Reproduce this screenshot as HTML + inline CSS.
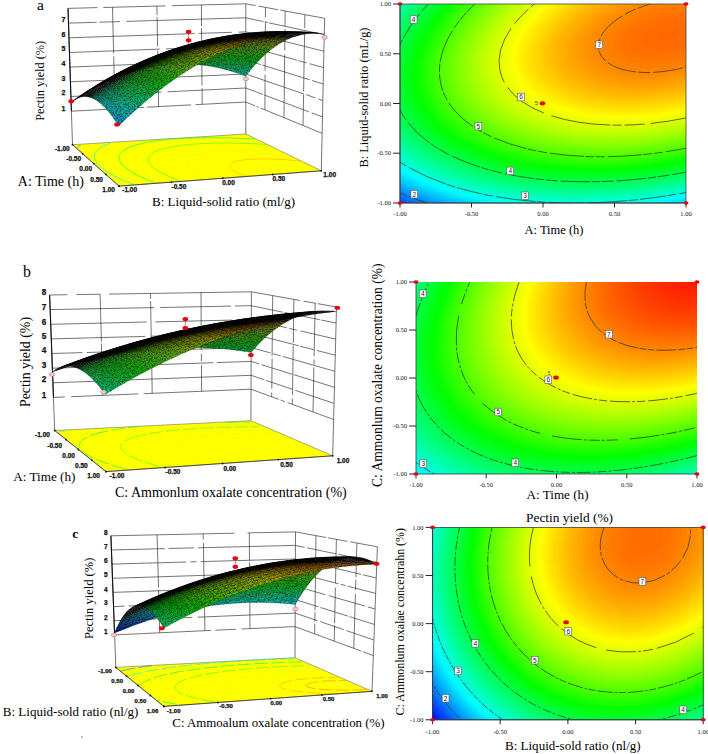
<!DOCTYPE html>
<html><head><meta charset="utf-8"><title>Response surface plots</title>
<style>html,body{margin:0;padding:0;background:#fff}svg{display:block}</style></head>
<body>
<svg width="708" height="754" viewBox="0 0 708 754">
<rect width="708" height="754" fill="#fff"/>
<defs><filter id="nz" x="0" y="0" width="100%" height="100%" color-interpolation-filters="sRGB"><feTurbulence type="fractalNoise" baseFrequency="0.75" numOctaves="2" seed="3" result="t"/><feColorMatrix in="t" type="matrix" values="0 0 0 0 0  0 0 0 0 0  0 0 0 0 0  1.7 0 0 0 -0.68" result="a"/><feComposite in="a" in2="SourceGraphic" operator="in" result="m"/><feMerge><feMergeNode in="SourceGraphic"/><feMergeNode in="m"/></feMerge></filter></defs>
<path d="M71.4 111.2L144.3 107.4M146.9 107.2L191.1 104.9M195.3 104.7L245.8 102M245.8 102L255.2 105.9M256.7 106.5L258.7 107.3M260.7 108.1L322.1 133.3M70.9 96.5L139.7 93.2M144.5 92.9L161.4 92.1M167.6 91.8L245.8 88M245.8 88L263.1 94.5M264.3 95L308.9 111.8M311.6 112.8L322.5 116.9M70.4 81.8L143.4 78.6M146.7 78.4L165.5 77.6M169.2 77.4L245.8 74M245.8 74L304.2 94.1M306.1 94.7L315.4 97.9M318.1 98.9L322.8 100.5M69.9 67.1L215.9 61.1M221.7 60.9L245.8 59.9M245.8 59.9L260.8 64.6M262.2 65L309.8 79.8M311.9 80.5L323.2 84M69.5 52.5L159.7 49.1M166 48.9L228.1 46.5M232.5 46.4L245.8 45.9M245.8 45.9L297.1 60.2M298.3 60.6L306.6 62.9M309.5 63.7L323.5 67.6M69 37.8L194.8 33.6M198.9 33.4L231.8 32.3M238.6 32.1L245.8 31.9M245.8 31.9L255.3 34.2M258.6 35L280.3 40.4M282.1 40.8L323.9 51.2M68.5 23.1L96.7 22.3M99.5 22.2L120.1 21.6M126.4 21.4L245.8 17.8M245.8 17.8L263.5 21.6M265.8 22.1L267.8 22.6M269.1 22.9L324.2 34.7M68 8.4L97.5 7.6M103.3 7.5L165.6 5.9M172 5.7L245.8 3.8M245.8 3.8L255.6 5.6M258.4 6.1L278 9.7M280.2 10.1L324.6 18.3M72.5 144.7L68 8.4M115 108.9L114.8 101M114.7 97.5L113.7 56.3M113.6 53.2L112.5 7.3M158.6 106.6L157.7 50.6M157.6 46.4L157.1 17.1M157.1 15.2L156.9 6.1M202.2 104.3L202.1 88.2M202 85.6L201.5 28.1M201.5 26.2L201.4 5M245.8 134L245.8 3.8M264.9 109.8L265.1 74.6M265.1 70.7L265.4 21.1M265.4 17.3L265.5 7.4M284 117.7L284.7 54.5M284.7 50.5L285 28.9M285 26.2L285.2 11.1M303 125.5L303.6 94.6M303.6 91.5L304.6 33M304.7 28.2L304.9 14.7M321.3 170.8L324.6 18.3" stroke="#2a2a2a" stroke-width="0.65" fill="none"/>
<path d="M71.4 111.2L68 8.4" stroke="#111" stroke-width="1.1"/>
<path d="M72.5 144.7L119 186.1L321.3 170.8L245.8 134z" fill="#ffff00" stroke="#555" stroke-width="0.5"/>
<path d="M77.4 147.6L78.9 146.4L80.6 145.2" fill="none" stroke="#0087ff" stroke-width="0.8" stroke-opacity="0.8"/>
<path d="M133.2 184.2L128.8 182.5L124.7 180.8L120.9 179.1L117.3 177.4L114 175.7L111 174.1L108.2 172.4L105.7 170.8L103.5 169.2L101.5 167.7L99.8 166.1L98.3 164.6L97 163.1L96.1 161.6L95.3 160.2L94.8 158.8L94.5 157.4L94.5 156.1L94.7 154.8L95.1 153.5L95.7 152.3L96.6 151.1L97.7 150L98.9 148.8L100.4 147.8L102.1 146.7L103.9 145.7L106 144.7L108.2 143.8L110.6 142.9" fill="none" stroke="#00ffe1" stroke-width="0.8" stroke-opacity="0.8"/>
<path d="M147.7 142.3L150.8 141.7L154.1 141.2L157.6 140.7L161.1 140.3L164.8 139.9L168.6 139.5L172.5 139.2L176.6 138.9L180.8 138.6L185.1 138.4L189.4 138.2L193.9 138L198.6 137.9L203.3 137.8L208.1 137.8L213 137.8L217.9 137.8L223 137.8L228.2 137.9L233.4 138.1L238.7 138.3L244.1 138.5L249.5 138.7L255.1 139" fill="none" stroke="#00ff4b" stroke-width="0.8" stroke-opacity="0.8"/>
<path d="M155 182.7L151.1 181.2L147.4 179.7L143.9 178.2L140.7 176.8L137.7 175.3L134.9 173.9L132.3 172.5L130 171.1L127.9 169.7L126 168.3L124.4 166.9L123 165.6L121.7 164.3L120.7 163L120 161.8L119.4 160.5L119 159.3L118.9 158.1L118.9 157L119.2 155.9L119.6 154.8L120.3 153.7L121.1 152.7L122.1 151.7L123.3 150.7L124.7 149.8L126.2 148.9L128 148L129.9 147.2L132 146.4L134.2 145.6L136.6 144.9L139.1 144.2L141.8 143.5L144.7 142.9L147.7 142.3" fill="none" stroke="#00ff4b" stroke-width="0.8" stroke-opacity="0.8"/>
<path d="M170.8 147L173.5 146.6L176.2 146.1L179.1 145.7L182 145.3L185.1 144.9L188.3 144.6L191.6 144.3L195 144.1L198.6 143.8L202.2 143.6L205.9 143.5L209.7 143.3L213.6 143.2L217.6 143.1L221.7 143.1L225.8 143.1L230 143.1L234.3 143.2L238.7 143.3L243.2 143.4L247.7 143.5L252.2 143.7L256.9 143.9L261.5 144.2L266.3 144.4" fill="none" stroke="#4bff00" stroke-width="0.8" stroke-opacity="0.8"/>
<path d="M180.3 180.9L177 179.7L173.8 178.5L170.8 177.3L168 176.1L165.4 174.9L163 173.7L160.7 172.5L158.7 171.3L156.8 170.2L155.1 169.1L153.6 167.9L152.3 166.8L151.1 165.7L150.2 164.7L149.4 163.6L148.8 162.6L148.4 161.5L148.1 160.6L148 159.6L148.1 158.6L148.4 157.7L148.8 156.8L149.4 155.9L150.2 155.1L151.1 154.3L152.1 153.5L153.4 152.7L154.7 151.9L156.3 151.2L157.9 150.5L159.7 149.9L161.7 149.2L163.8 148.7L166 148.1L168.4 147.5L170.8 147" fill="none" stroke="#4bff00" stroke-width="0.8" stroke-opacity="0.8"/>
<path d="M201.9 153.4L203.8 153L205.8 152.6L208 152.3L210.2 152L212.5 151.7L214.9 151.5L217.4 151.3L219.9 151L222.6 150.9L225.3 150.7L228.1 150.6L231 150.5L233.9 150.4L236.9 150.3L240 150.3L243.2 150.3L246.4 150.3L249.6 150.3L252.9 150.4L256.3 150.5L259.7 150.6L263.2 150.7L266.7 150.9L270.3 151.1L273.8 151.3L277.5 151.5L281.1 151.8" fill="none" stroke="#e1ff00" stroke-width="0.8" stroke-opacity="0.8"/>
<path d="M212.2 178.6L209.6 177.7L207.2 176.9L204.9 176L202.8 175.1L200.7 174.3L198.8 173.4L197 172.5L195.4 171.7L193.9 170.8L192.5 170L191.3 169.2L190.2 168.4L189.2 167.5L188.4 166.7L187.7 166L187.1 165.2L186.7 164.4L186.4 163.7L186.2 162.9L186.1 162.2L186.2 161.5L186.4 160.9L186.8 160.2L187.2 159.5L187.8 158.9L188.5 158.3L189.3 157.7L190.3 157.2L191.4 156.6L192.5 156.1L193.8 155.6L195.2 155.1L196.7 154.6L198.3 154.2L200.1 153.8L201.9 153.4" fill="none" stroke="#e1ff00" stroke-width="0.8" stroke-opacity="0.8"/>
<path d="M238.6 160.8L239.8 160.6L241 160.4L242.3 160.2L243.6 160L245 159.8L246.4 159.6L248 159.5L249.5 159.3L251.1 159.2L252.8 159.1L254.5 159L256.3 159L258.1 158.9L260 158.9L261.9 158.9L263.8 158.8L265.8 158.9L267.8 158.9L269.9 158.9L272 159L274.1 159L276.2 159.1L278.4 159.2L280.6 159.4L282.8 159.5L285 159.6L287.3 159.8L289.5 160L291.8 160.2L294.1 160.4L296.4 160.6L298.7 160.8L301 161.1" fill="none" stroke="#ffad00" stroke-width="0.8" stroke-opacity="0.8"/>
<path d="M247.1 176.1L245.5 175.6L244 175.1L242.5 174.6L241.2 174.1L239.9 173.6L238.7 173.1L237.5 172.6L236.5 172.1L235.5 171.6L234.6 171.1L233.8 170.6L233 170.1L232.3 169.6L231.8 169.1L231.2 168.6L230.8 168.1L230.5 167.7L230.2 167.2L230 166.8L229.9 166.3L229.9 165.9L229.9 165.5L230.1 165.1L230.3 164.7L230.6 164.3L230.9 163.9L231.4 163.6L231.9 163.2L232.5 162.9L233.1 162.5L233.9 162.2L234.7 161.9L235.6 161.6L236.5 161.3L237.5 161.1L238.6 160.8" fill="none" stroke="#ffad00" stroke-width="0.8" stroke-opacity="0.8"/>
<path d="M72.5 144.7L119 186.1L321.3 170.8" fill="none" stroke="#222" stroke-width="0.7"/>
<circle cx="72.5" cy="144.7" r="0.9" fill="#111"/>
<circle cx="119" cy="186.1" r="0.9" fill="#111"/>
<circle cx="82.7" cy="153.8" r="0.9" fill="#111"/>
<circle cx="171.6" cy="182.1" r="0.9" fill="#111"/>
<circle cx="93.8" cy="163.7" r="0.9" fill="#111"/>
<circle cx="222.9" cy="178.2" r="0.9" fill="#111"/>
<circle cx="105.9" cy="174.4" r="0.9" fill="#111"/>
<circle cx="272.7" cy="174.5" r="0.9" fill="#111"/>
<circle cx="119" cy="186.1" r="0.9" fill="#111"/>
<circle cx="321.3" cy="170.8" r="0.9" fill="#111"/>
<g filter="url(#nz)" stroke="#000" stroke-opacity="0.55" stroke-width="0.3" stroke-linejoin="round">
<path d="M240.6 74.3l2-2.8 5.3 2-2.1 2.7z" fill="#00b39a"/>
<path d="M235.3 72.5l2-2.7 5.3 1.7-2 2.8z" fill="#00b289"/>
<path d="M230 70.8l2-2.6 5.3 1.6-2 2.7z" fill="#00b079"/>
<path d="M224.7 69.4l2-2.6 5.3 1.4-2 2.6z" fill="#00ad6b"/>
<path d="M242.6 71.5l2.1-2.6 5.3 1.9-2.1 2.7z" fill="#00b280"/>
<path d="M219.4 68.1l1.9-2.6 5.4 1.3-2 2.6z" fill="#00ab5e"/>
<path d="M237.3 69.8l2.1-2.6 5.3 1.7-2.1 2.6z" fill="#00b06f"/>
<path d="M214.1 67l1.9-2.5 5.3 1-1.9 2.6z" fill="#00a853"/>
<path d="M232 68.2l2-2.6 5.4 1.6-2.1 2.6z" fill="#00ae60"/>
<path d="M208.7 66.1l1.9-2.5 5.4 .9-1.9 2.5z" fill="#00a449"/>
<path d="M226.7 66.8l2-2.5 5.3 1.3-2 2.6z" fill="#00ab52"/>
<path d="M244.7 68.9l2.1-2.5 5.3 1.8-2.1 2.6z" fill="#00b066"/>
<path d="M203.4 65.3l1.8-2.4 5.4 .7-1.9 2.5z" fill="#00a140"/>
<path d="M221.3 65.5l2-2.4 5.4 1.2-2 2.5z" fill="#00a847"/>
<path d="M239.4 67.2l2-2.5 5.4 1.7-2.1 2.5z" fill="#00ae57"/>
<path d="M198 64.7l1.8-2.3 5.4 .5-1.8 2.4z" fill="#009c39"/>
<path d="M216 64.5l1.9-2.5 5.4 1.1-2 2.4z" fill="#00a53c"/>
<path d="M234 65.6l2.1-2.4 5.3 1.5-2 2.5z" fill="#00ab48"/>
<path d="M192.6 64.3l1.8-2.3 5.4 .4-1.8 2.3z" fill="#009733"/>
<path d="M210.6 63.6l1.9-2.4 5.4 .8-1.9 2.5z" fill="#00a133"/>
<path d="M228.7 64.3l2-2.5 5.4 1.4-2.1 2.4z" fill="#00a93b"/>
<path d="M246.8 66.4l2.1-2.5 5.3 1.8-2.1 2.5z" fill="#00ae4e"/>
<path d="M187.2 64.1l1.8-2.3 5.4 .2-1.8 2.3z" fill="#00922e"/>
<path d="M205.2 62.9l1.9-2.4 5.4 .7-1.9 2.4z" fill="#009d2b"/>
<path d="M223.3 63.1l2-2.4 5.4 1.1-2 2.5z" fill="#00a530"/>
<path d="M241.4 64.7l2.1-2.5 5.4 1.7-2.1 2.5z" fill="#00ac3f"/>
<path d="M181.7 64.1l1.8-2.2 5.5-.1-1.8 2.3z" fill="#008b2a"/>
<path d="M199.8 62.4l1.9-2.3 5.4 .4-1.9 2.4z" fill="#009824"/>
<path d="M217.9 62l2-2.3 5.4 1-2 2.4z" fill="#00a226"/>
<path d="M236.1 63.2l2-2.4 5.4 1.4-2.1 2.5z" fill="#00a931"/>
<path d="M176.3 64.2l1.7-2.2 5.5-.1-1.8 2.2z" fill="#008427"/>
<path d="M194.4 62l1.8-2.2 5.5 .3-1.9 2.3z" fill="#00921f"/>
<path d="M212.5 61.2l2-2.3 5.4 .8-2 2.3z" fill="#009d1e"/>
<path d="M230.7 61.8l2-2.3 5.4 1.3-2 2.4z" fill="#00a625"/>
<path d="M170.9 64.6l1.7-2.2 5.4-.4-1.7 2.2z" fill="#007b25"/>
<path d="M248.9 63.9l2.1-2.4 5.4 1.8-2.2 2.4z" fill="#00ac37"/>
<path d="M189 61.8l1.8-2.2 5.4 .2-1.8 2.2z" fill="#008c1b"/>
<path d="M207.1 60.5l1.9-2.2 5.5 .6-2 2.3z" fill="#009917"/>
<path d="M225.3 60.7l2-2.3 5.4 1.1-2 2.3z" fill="#00a21b"/>
<path d="M165.4 65.1l1.7-2.1 5.5-.6-1.7 2.2z" fill="#007022"/>
<path d="M243.5 62.2l2.1-2.3 5.4 1.6-2.1 2.4z" fill="#00a929"/>
<path d="M183.5 61.9l1.8-2.2 5.5-.1-1.8 2.2z" fill="#008418"/>
<path d="M201.7 60.1l1.9-2.3 5.4 .5-1.9 2.2z" fill="#009311"/>
<path d="M219.9 59.7l2-2.3 5.4 1-2 2.3z" fill="#009e12"/>
<path d="M159.9 65.8l1.7-2.1 5.5-.7-1.7 2.1z" fill="#006420"/>
<path d="M238.1 60.8l2.1-2.3 5.4 1.4-2.1 2.3z" fill="#00a61c"/>
<path d="M178 62l1.8-2.1 5.5-.2-1.8 2.2z" fill="#007b16"/>
<path d="M196.2 59.8l1.9-2.2 5.5 .2-1.9 2.3z" fill="#008c0d"/>
<path d="M214.5 58.9l1.9-2.2 5.5 .7-2 2.3z" fill="#00990b"/>
<path d="M154.4 66.7l1.7-2 5.5-1-1.7 2.1z" fill="#00551e"/>
<path d="M232.7 59.5l2.1-2.3 5.4 1.3-2.1 2.3z" fill="#00a311"/>
<path d="M172.6 62.4l1.7-2 5.5-.5-1.8 2.1z" fill="#007115"/>
<path d="M251 61.5l2.2-2.3 5.3 1.7-2.1 2.4z" fill="#00aa21"/>
<path d="M190.8 59.6l1.8-2.1 5.5 .1-1.9 2.2z" fill="#00850a"/>
<path d="M209 58.3l2-2.2 5.4 .6-1.9 2.2z" fill="#009405"/>
<path d="M148.9 67.7l1.6-1.9 5.6-1.1-1.7 2z" fill="#004319"/>
<path d="M227.3 58.4l2-2.2 5.5 1-2.1 2.3z" fill="#009f07"/>
<path d="M167.1 63l1.7-2 5.5-.6-1.7 2z" fill="#006414"/>
<path d="M245.6 59.9l2.1-2.3 5.5 1.6-2.2 2.3z" fill="#00a714"/>
<path d="M185.3 59.7l1.8-2.1 5.5-.1-1.8 2.1z" fill="#007c09"/>
<path d="M203.6 57.8l1.9-2.1 5.5 .4-2 2.2z" fill="#008d01"/>
<path d="M143.4 69l1.6-1.9 5.5-1.3-1.6 1.9z" fill="#002d13"/>
<path d="M221.9 57.4l2-2.1 5.4 .9-2 2.2z" fill="#019a00"/>
<path d="M161.6 63.7l1.7-1.9 5.5-.8-1.7 2z" fill="#005512"/>
<path d="M240.2 58.5l2.1-2.2 5.4 1.3-2.1 2.3z" fill="#00a308"/>
<path d="M179.8 59.9l1.8-2 5.5-.3-1.8 2.1z" fill="#007208"/>
<path d="M198.1 57.6l1.9-2.1 5.5 .2-1.9 2.1z" fill="#038600"/>
<path d="M137.9 70.4l1.6-1.8 5.5-1.5-1.6 1.9z" fill="#001208"/>
<path d="M216.4 56.7l2-2.1 5.5 .7-2 2.1z" fill="#079400"/>
<path d="M156.1 64.7l1.6-1.9 5.6-1-1.7 1.9z" fill="#004310"/>
<path d="M234.8 57.2l2.1-2.2 5.4 1.3-2.1 2.2z" fill="#029f00"/>
<path d="M174.3 60.4l1.7-2 5.6-.5-1.8 2z" fill="#006508"/>
<path d="M253.2 59.2l2.1-2.2 5.5 1.7-2.3 2.2z" fill="#00a70c"/>
<path d="M192.6 57.5l1.9-2 5.5 0-1.9 2.1z" fill="#047d00"/>
<path d="M132.4 72l1.5-1.7 5.6-1.7-1.6 1.8z" fill="#000000"/>
<path d="M211 56.1l1.9-2.1 5.5 .6-2 2.1z" fill="#0c8e00"/>
<path d="M150.5 65.8l1.7-1.9 5.5-1.1-1.6 1.9z" fill="#002d0c"/>
<path d="M229.3 56.2l2.1-2.2 5.5 1-2.1 2.2z" fill="#0b9a00"/>
<path d="M168.8 61l1.7-1.9 5.5-.7-1.7 2z" fill="#005607"/>
<path d="M247.7 57.6l2.2-2.1 5.4 1.5-2.1 2.2z" fill="#00a400"/>
<path d="M187.1 57.6l1.8-1.9 5.6-.2-1.9 2z" fill="#047200"/>
<path d="M126.8 73.8l1.5-1.7 5.6-1.8-1.5 1.7z" fill="#000000"/>
<path d="M205.5 55.7l1.9-2 5.5 .3-1.9 2.1z" fill="#0f8600"/>
<path d="M145 67.1l1.6-1.8 5.6-1.4-1.7 1.9z" fill="#001105"/>
<path d="M223.9 55.3l2-2.1 5.5 .8-2.1 2.2z" fill="#129500"/>
<path d="M163.3 61.8l1.6-1.9 5.6-.8-1.7 1.9z" fill="#004407"/>
<path d="M242.3 56.3l2.1-2.2 5.5 1.4-2.2 2.1z" fill="#0ba000"/>
<path d="M181.6 57.9l1.8-1.9 5.5-.3-1.8 1.9z" fill="#046600"/>
<path d="M121.3 75.8l1.5-1.6 5.5-2.1-1.5 1.7z" fill="#000000"/>
<path d="M200 55.5l1.9-2 5.5 .2-1.9 2z" fill="#107e00"/>
<path d="M139.5 68.6l1.5-1.7 5.6-1.6-1.6 1.8z" fill="#000000"/>
<path d="M218.4 54.6l2-2.1 5.5 .7-2 2.1z" fill="#168f00"/>
<path d="M157.7 62.8l1.7-1.8 5.5-1.1-1.6 1.9z" fill="#002d06"/>
<path d="M236.9 55l2.1-2 5.4 1.1-2.1 2.2z" fill="#149b00"/>
<path d="M176 58.4l1.8-1.9 5.6-.5-1.8 1.9z" fill="#035700"/>
<path d="M255.3 57l2.2-2.1 5.5 1.6-2.2 2.2z" fill="#06a400"/>
<path d="M115.7 78l1.5-1.5 5.6-2.3-1.5 1.6z" fill="#000000"/>
<path d="M194.5 55.5l1.8-1.9 5.6-.1-1.9 2z" fill="#107300"/>
<path d="M133.9 70.3l1.5-1.7 5.6-1.7-1.5 1.7z" fill="#000000"/>
<path d="M212.9 54l2-2 5.5 .5-2 2.1z" fill="#1a8700"/>
<path d="M152.2 63.9l1.6-1.7 5.6-1.2-1.7 1.8z" fill="#001103"/>
<path d="M231.4 54l2.1-2 5.5 1-2.1 2z" fill="#1b9600"/>
<path d="M170.5 59.1l1.7-1.8 5.6-.8-1.8 1.9z" fill="#014400"/>
<path d="M249.9 55.5l2.2-2.1 5.4 1.5-2.2 2.1z" fill="#12a000"/>
<path d="M110.2 80.4l1.4-1.5 5.6-2.4-1.5 1.5z" fill="#000000"/>
<path d="M188.9 55.7l1.9-1.9 5.5-.2-1.8 1.9z" fill="#0f6700"/>
<path d="M128.3 72.1l1.5-1.6 5.6-1.9-1.5 1.7z" fill="#000000"/>
<path d="M207.4 53.7l1.9-2 5.6 .3-2 2z" fill="#1b7e00"/>
<path d="M146.6 65.3l1.6-1.7 5.6-1.4-1.6 1.7z" fill="#000000"/>
<path d="M225.9 53.2l2.1-2 5.5 .8-2.1 2z" fill="#218f00"/>
<path d="M164.9 59.9l1.8-1.7 5.5-.9-1.7 1.8z" fill="#002e00"/>
<path d="M244.4 54.1l2.2-2 5.5 1.3-2.2 2.1z" fill="#1c9c00"/>
<path d="M104.6 83l1.4-1.5 5.6-2.6-1.4 1.5z" fill="#000000"/>
<path d="M183.4 56l1.8-1.8 5.6-.4-1.9 1.9z" fill="#0d5800"/>
<path d="M122.8 74.2l1.4-1.6 5.6-2.1-1.5 1.6z" fill="#000000"/>
<path d="M201.9 53.5l1.9-1.9 5.5 .1-1.9 2z" fill="#1b7400"/>
<path d="M141 66.9l1.6-1.7 5.6-1.6-1.6 1.7z" fill="#000000"/>
<path d="M220.4 52.5l2-1.9 5.6 .6-2.1 2z" fill="#248800"/>
<path d="M159.4 61l1.7-1.7 5.6-1.1-1.8 1.7z" fill="#001101"/>
<path d="M239 53l2.1-2 5.5 1.1-2.2 2z" fill="#249600"/>
<path d="M99 85.8l1.4-1.4 5.6-2.9-1.4 1.5z" fill="#000000"/>
<path d="M177.8 56.5l1.8-1.8 5.6-.5-1.8 1.8z" fill="#094500"/>
<path d="M257.5 54.9l2.3-2.1 5.4 1.6-2.2 2.1z" fill="#19a100"/>
<path d="M117.2 76.5l1.4-1.5 5.6-2.4-1.4 1.6z" fill="#000000"/>
<path d="M196.3 53.6l1.9-1.9 5.6-.1-1.9 1.9z" fill="#196700"/>
<path d="M135.4 68.6l1.6-1.6 5.6-1.8-1.6 1.7z" fill="#000000"/>
<path d="M214.9 52l2-1.9 5.5 .5-2 1.9z" fill="#267f00"/>
<path d="M153.8 62.2l1.7-1.7 5.6-1.2-1.7 1.7z" fill="#000000"/>
<path d="M233.5 52l2.1-2 5.5 1-2.1 2z" fill="#2a9000"/>
<path d="M93.5 88.7l1.3-1.3 5.6-3-1.4 1.4z" fill="#000000"/>
<path d="M172.2 57.3l1.8-1.8 5.6-.8-1.8 1.8z" fill="#052e00"/>
<path d="M252.1 53.4l2.2-2 5.5 1.4-2.3 2.1z" fill="#239c00"/>
<path d="M111.6 78.9l1.4-1.4 5.6-2.5-1.4 1.5z" fill="#000000"/>
<path d="M190.8 53.8l1.8-1.8 5.6-.3-1.9 1.9z" fill="#165800"/>
<path d="M129.8 70.5l1.6-1.5 5.6-2-1.6 1.6z" fill="#000000"/>
<path d="M209.3 51.7l2-1.8 5.6 .2-2 1.9z" fill="#267500"/>
<path d="M148.2 63.6l1.6-1.6 5.7-1.5-1.7 1.7z" fill="#000000"/>
<path d="M228 51.2l2-1.9 5.6 .7-2.1 2z" fill="#2e8900"/>
<path d="M87.9 91.9l1.3-1.3 5.6-3.2-1.3 1.3z" fill="#000000"/>
<path d="M166.7 58.2l1.7-1.7 5.6-1-1.8 1.8z" fill="#021100"/>
<path d="M246.6 52.1l2.2-2 5.5 1.3-2.2 2z" fill="#2b9700"/>
<path d="M106 81.5l1.4-1.3 5.6-2.7-1.4 1.4z" fill="#000000"/>
<path d="M185.2 54.2l1.8-1.8 5.6-.4-1.8 1.8z" fill="#114600"/>
<path d="M124.2 72.6l1.5-1.4 5.7-2.2-1.6 1.5z" fill="#000000"/>
<path d="M203.8 51.6l1.9-1.8 5.6 .1-2 1.8z" fill="#236800"/>
<path d="M142.6 65.2l1.6-1.5 5.6-1.7-1.6 1.6z" fill="#000000"/>
<path d="M222.4 50.6l2.1-1.9 5.5 .6-2 1.9z" fill="#2f8000"/>
<path d="M82.3 95.2l1.3-1.2 5.6-3.4-1.3 1.3z" fill="#000000"/>
<path d="M161.1 59.3l1.7-1.7 5.6-1.1-1.7 1.7z" fill="#000000"/>
<path d="M241.1 51l2.2-2 5.5 1.1-2.2 2z" fill="#329100"/>
<path d="M100.4 84.4l1.4-1.3 5.6-2.9-1.4 1.3z" fill="#000000"/>
<path d="M179.6 54.7l1.8-1.6 5.6-.7-1.8 1.8z" fill="#0b2f00"/>
<path d="M259.8 52.8l2.2-1.9 5.5 1.5-2.3 2z" fill="#299d00"/>
<path d="M118.6 75l1.5-1.4 5.6-2.4-1.5 1.4z" fill="#000000"/>
<path d="M198.2 51.7l1.9-1.8 5.6-.1-1.9 1.8z" fill="#1f5900"/>
<path d="M137 67l1.6-1.5 5.6-1.8-1.6 1.5z" fill="#000000"/>
<path d="M216.9 50.1l2-1.8 5.6 .4-2.1 1.9z" fill="#2f7600"/>
<path d="M76.7 98.8l1.2-1.2 5.7-3.6-1.3 1.2z" fill="#000000"/>
<path d="M155.5 60.5l1.6-1.5 5.7-1.4-1.7 1.7z" fill="#000000"/>
<path d="M235.6 50l2.1-1.9 5.6 .9-2.2 2z" fill="#368900"/>
<path d="M94.8 87.4l1.3-1.2 5.7-3.1-1.4 1.3z" fill="#000000"/>
<path d="M174 55.5l1.8-1.6 5.6-.8-1.8 1.6z" fill="#041200"/>
<path d="M254.3 51.4l2.2-1.9 5.5 1.4-2.2 1.9z" fill="#329800"/>
<path d="M113 77.5l1.5-1.4 5.6-2.5-1.5 1.4z" fill="#000000"/>
<path d="M192.6 52l1.9-1.7 5.6-.4-1.9 1.8z" fill="#184700"/>
<path d="M131.4 69l1.5-1.4 5.7-2.1-1.6 1.5z" fill="#000000"/>
<path d="M211.3 49.9l2-1.8 5.6 .2-2 1.8z" fill="#2c6900"/>
<path d="M71.1 102.5l1.2-1 5.6-3.9-1.2 1.2z" fill="#000000"/>
<path d="M149.8 62l1.7-1.5 5.6-1.5-1.6 1.5z" fill="#000000"/>
<path d="M230 49.3l2.1-1.9 5.6 .7-2.1 1.9z" fill="#388100"/>
<path d="M89.2 90.6l1.3-1.2 5.6-3.2-1.3 1.2z" fill="#000000"/>
<path d="M168.4 56.5l1.8-1.6 5.6-1-1.8 1.6z" fill="#000000"/>
<path d="M248.8 50.1l2.2-1.9 5.5 1.3-2.2 1.9z" fill="#389100"/>
<path d="M107.4 80.2l1.4-1.3 5.7-2.8-1.5 1.4z" fill="#000000"/>
<path d="M187 52.4l1.9-1.6 5.6-.5-1.9 1.7z" fill="#102f00"/>
<path d="M125.7 71.2l1.6-1.4 5.6-2.2-1.5 1.4z" fill="#000000"/>
<path d="M205.7 49.8l2-1.7 5.6 0-2 1.8z" fill="#275a00"/>
<path d="M144.2 63.7l1.6-1.5 5.7-1.7-1.7 1.5z" fill="#000000"/>
<path d="M224.5 48.7l2.1-1.8 5.5 .5-2.1 1.9z" fill="#377700"/>
<path d="M83.6 94l1.2-1.1 5.7-3.5-1.3 1.2z" fill="#000000"/>
<path d="M162.8 57.6l1.7-1.5 5.7-1.2-1.8 1.6z" fill="#000000"/>
<path d="M243.3 49l2.1-1.8 5.6 1-2.2 1.9z" fill="#3d8a00"/>
<path d="M101.8 83.1l1.3-1.2 5.7-3-1.4 1.3z" fill="#000000"/>
<path d="M181.4 53.1l1.9-1.6 5.6-.7-1.9 1.6z" fill="#061200"/>
<path d="M262 50.9l2.3-1.9 5.5 1.5-2.3 1.9z" fill="#379800"/>
<path d="M120.1 73.6l1.5-1.3 5.7-2.5-1.6 1.4z" fill="#000000"/>
<path d="M200.1 49.9l2-1.6 5.6-.2-2 1.7z" fill="#1f4700"/>
<path d="M138.6 65.5l1.6-1.4 5.6-1.9-1.6 1.5z" fill="#000000"/>
<path d="M218.9 48.3l2.1-1.7 5.6 .3-2.1 1.8z" fill="#346a00"/>
<path d="M77.9 97.6l1.3-1 5.6-3.7-1.2 1.1z" fill="#000000"/>
<path d="M157.1 59l1.7-1.5 5.7-1.4-1.7 1.5z" fill="#000000"/>
<path d="M237.7 48.1l2.2-1.7 5.5 .8-2.1 1.8z" fill="#408200"/>
<path d="M96.1 86.2l1.4-1.2 5.6-3.1-1.3 1.2z" fill="#000000"/>
<path d="M175.8 53.9l1.8-1.6 5.7-.8-1.9 1.6z" fill="#000000"/>
<path d="M256.5 49.5l2.3-1.9 5.5 1.4-2.3 1.9z" fill="#3e9200"/>
<path d="M114.5 76.1l1.4-1.2 5.7-2.6-1.5 1.3z" fill="#000000"/>
<path d="M194.5 50.3l2-1.7 5.6-.3-2 1.6z" fill="#153000"/>
<path d="M132.9 67.6l1.6-1.3 5.7-2.2-1.6 1.4z" fill="#000000"/>
<path d="M213.3 48.1l2-1.7 5.7 .2-2.1 1.7z" fill="#2f5b00"/>
<path d="M72.3 101.5l1.2-1 5.7-3.9-1.3 1z" fill="#000000"/>
<path d="M151.5 60.5l1.7-1.4 5.6-1.6-1.7 1.5z" fill="#000000"/>
<path d="M232.1 47.4l2.2-1.7 5.6 .7-2.2 1.7z" fill="#3f7700"/>
<path d="M90.5 89.4l1.3-1 5.7-3.4-1.4 1.2z" fill="#000000"/>
<path d="M170.2 54.9l1.7-1.5 5.7-1.1-1.8 1.6z" fill="#000000"/>
<path d="M251 48.2l2.2-1.7 5.6 1.1-2.3 1.9z" fill="#448b00"/>
<path d="M108.8 78.9l1.4-1.2 5.7-2.8-1.4 1.2z" fill="#000000"/>
<path d="M188.9 50.8l1.9-1.6 5.7-.6-2 1.7z" fill="#081300"/>
<path d="M127.3 69.8l1.5-1.2 5.7-2.3-1.6 1.3z" fill="#000000"/>
<path d="M207.7 48.1l2-1.6 5.6-.1-2 1.7z" fill="#264800"/>
<path d="M145.8 62.2l1.7-1.3 5.7-1.8-1.7 1.4z" fill="#000000"/>
<path d="M226.6 46.9l2.1-1.7 5.6 .5-2.2 1.7z" fill="#3c6b00"/>
<path d="M84.8 92.9l1.3-1 5.7-3.5-1.3 1z" fill="#000000"/>
<path d="M164.5 56.1l1.8-1.4 5.6-1.3-1.7 1.5z" fill="#000000"/>
<path d="M245.4 47.2l2.2-1.7 5.6 1-2.2 1.7z" fill="#478200"/>
<path d="M103.1 81.9l1.5-1.1 5.6-3.1-1.4 1.2z" fill="#000000"/>
<path d="M183.3 51.5l1.8-1.6 5.7-.7-1.9 1.6z" fill="#000000"/>
<path d="M264.3 49l2.3-1.8 5.6 1.5-2.4 1.8z" fill="#439300"/>
<path d="M121.6 72.3l1.5-1.2 5.7-2.5-1.5 1.2z" fill="#000000"/>
<path d="M202.1 48.3l2-1.6 5.6-.2-2 1.6z" fill="#1a3100"/>
<path d="M140.2 64.1l1.6-1.2 5.7-2-1.7 1.3z" fill="#000000"/>
<path d="M221 46.6l2-1.6 5.7 .2-2.1 1.7z" fill="#365c00"/>
<path d="M79.2 96.6l1.2-.9 5.7-3.8-1.3 1z" fill="#000000"/>
<path d="M158.8 57.5l1.8-1.4 5.7-1.4-1.8 1.4z" fill="#000000"/>
<path d="M239.9 46.4l2.1-1.7 5.6 .8-2.2 1.7z" fill="#467800"/>
<path d="M97.5 85l1.4-1 5.7-3.2-1.5 1.1z" fill="#000000"/>
<path d="M177.6 52.3l1.8-1.4 5.7-1-1.8 1.6z" fill="#000000"/>
<path d="M258.8 47.6l2.3-1.7 5.5 1.3-2.3 1.8z" fill="#498c00"/>
<path d="M115.9 74.9l1.5-1.1 5.7-2.7-1.5 1.2z" fill="#000000"/>
<path d="M196.5 48.6l1.9-1.5 5.7-.4-2 1.6z" fill="#0a1300"/>
<path d="M134.5 66.3l1.6-1.3 5.7-2.1-1.6 1.2z" fill="#000000"/>
<path d="M215.3 46.4l2.1-1.5 5.6 .1-2 1.6z" fill="#2c4900"/>
<path d="M73.5 100.5l1.3-.9 5.6-3.9-1.2 .9z" fill="#000000"/>
<path d="M153.2 59.1l1.7-1.3 5.7-1.7-1.8 1.4z" fill="#000000"/>
<path d="M234.3 45.7l2.1-1.6 5.6 .6-2.1 1.7z" fill="#436c00"/>
<path d="M91.8 88.4l1.4-1 5.7-3.4-1.4 1z" fill="#000000"/>
<path d="M171.9 53.4l1.9-1.4 5.6-1.1-1.8 1.4z" fill="#000000"/>
<path d="M253.2 46.5l2.3-1.7 5.6 1.1-2.3 1.7z" fill="#4c8300"/>
<path d="M110.2 77.7l1.5-1 5.7-2.9-1.5 1.1z" fill="#000000"/>
<path d="M190.8 49.2l1.9-1.5 5.7-.6-1.9 1.5z" fill="#000000"/>
<path d="M128.8 68.6l1.6-1.2 5.7-2.4-1.6 1.3z" fill="#000000"/>
<path d="M209.7 46.5l2-1.6 5.7 0-2.1 1.5z" fill="#1f3200"/>
<path d="M147.5 60.9l1.7-1.3 5.7-1.8-1.7 1.3z" fill="#000000"/>
<path d="M228.7 45.2l2.1-1.5 5.6 .4-2.1 1.6z" fill="#3d5d00"/>
<path d="M86.1 91.9l1.3-.9 5.8-3.6-1.4 1z" fill="#000000"/>
<path d="M166.3 54.7l1.7-1.4 5.8-1.3-1.9 1.4z" fill="#000000"/>
<path d="M247.6 45.5l2.3-1.7 5.6 1-2.3 1.7z" fill="#4d7900"/>
<path d="M104.6 80.8l1.4-1.1 5.7-3-1.5 1z" fill="#000000"/>
<path d="M185.1 49.9l1.9-1.4 5.7-.8-1.9 1.5z" fill="#000000"/>
<path d="M266.6 47.2l2.4-1.7 5.5 1.5-2.3 1.7z" fill="#4e8c00"/>
<path d="M123.1 71.1l1.5-1.1 5.8-2.6-1.6 1.2z" fill="#000000"/>
<path d="M204.1 46.7l1.9-1.5 5.7-.3-2 1.6z" fill="#0d1400"/>
<path d="M141.8 62.9l1.6-1.2 5.8-2.1-1.7 1.3z" fill="#000000"/>
<path d="M223 45l2.1-1.6 5.7 .3-2.1 1.5z" fill="#324a00"/>
<path d="M80.4 95.7l1.3-.9 5.7-3.8-1.3 .9z" fill="#000000"/>
<path d="M160.6 56.1l1.7-1.3 5.7-1.5-1.7 1.4z" fill="#000000"/>
<path d="M242 44.7l2.2-1.6 5.7 .7-2.3 1.7z" fill="#4a6d00"/>
<path d="M98.9 84l1.3-1 5.8-3.3-1.4 1.1z" fill="#000000"/>
<path d="M179.4 50.9l1.9-1.4 5.7-1-1.9 1.4z" fill="#000000"/>
<path d="M261.1 45.9l2.3-1.6 5.6 1.2-2.4 1.7z" fill="#518400"/>
<path d="M117.4 73.8l1.5-1.1 5.7-2.7-1.5 1.1z" fill="#000000"/>
<path d="M198.4 47.1l2-1.4 5.6-.5-1.9 1.5z" fill="#000000"/>
<path d="M136.1 65l1.6-1.1 5.7-2.2-1.6 1.2z" fill="#000000"/>
<path d="M217.4 44.9l2.1-1.5 5.6 0-2.1 1.6z" fill="#233300"/>
<path d="M74.8 99.6l1.2-.7 5.7-4.1-1.3 .9z" fill="#000000"/>
<path d="M154.9 57.8l1.7-1.2 5.7-1.8-1.7 1.3z" fill="#000000"/>
<path d="M236.4 44.1l2.2-1.6 5.6 .6-2.2 1.6z" fill="#435e00"/>
<path d="M93.2 87.4l1.3-.9 5.7-3.5-1.3 1z" fill="#000000"/>
<path d="M173.8 52l1.8-1.3 5.7-1.2-1.9 1.4z" fill="#000000"/>
<path d="M255.5 44.8l2.2-1.6 5.7 1.1-2.3 1.6z" fill="#527a00"/>
<path d="M111.7 76.7l1.5-1 5.7-3-1.5 1.1z" fill="#000000"/>
<path d="M192.7 47.7l1.9-1.3 5.8-.7-2 1.4z" fill="#000000"/>
<path d="M130.4 67.4l1.5-1.1 5.8-2.4-1.6 1.1z" fill="#000000"/>
<path d="M211.7 44.9l2.1-1.4 5.7-.1-2.1 1.5z" fill="#0f1500"/>
<path d="M149.2 59.6l1.6-1.1 5.8-1.9-1.7 1.2z" fill="#000000"/>
<path d="M230.8 43.7l2.1-1.5 5.7 .3-2.2 1.6z" fill="#384c00"/>
<path d="M87.4 91l1.4-.8 5.7-3.7-1.3 .9z" fill="#000000"/>
<path d="M168 53.3l1.8-1.2 5.8-1.4-1.8 1.3z" fill="#000000"/>
<path d="M249.9 43.8l2.2-1.5 5.6 .9-2.2 1.6z" fill="#4f6e00"/>
<path d="M106 79.7l1.4-.9 5.8-3.1-1.5 1z" fill="#000000"/>
<path d="M187 48.5l1.9-1.3 5.7-.8-1.9 1.3z" fill="#000000"/>
<path d="M269 45.5l2.3-1.5 5.6 1.4-2.4 1.6z" fill="#568500"/>
<path d="M124.6 70l1.6-1 5.7-2.7-1.5 1.1z" fill="#000000"/>
<path d="M206 45.2l2.1-1.4 5.7-.3-2.1 1.4z" fill="#000000"/>
<path d="M143.4 61.7l1.7-1.1 5.7-2.1-1.6 1.1z" fill="#000000"/>
<path d="M225.1 43.4l2.1-1.4 5.7 .2-2.1 1.5z" fill="#283400"/>
<path d="M81.7 94.8l1.3-.7 5.8-3.9-1.4 .8z" fill="#000000"/>
<path d="M162.3 54.8l1.8-1.1 5.7-1.6-1.8 1.2z" fill="#000000"/>
<path d="M244.2 43.1l2.3-1.5 5.6 .7-2.2 1.5z" fill="#485f00"/>
<path d="M100.2 83l1.5-.8 5.7-3.4-1.4 .9z" fill="#000000"/>
<path d="M181.3 49.5l1.9-1.2 5.7-1.1-1.9 1.3z" fill="#000000"/>
<path d="M263.4 44.3l2.3-1.6 5.6 1.3-2.3 1.5z" fill="#567b00"/>
<path d="M118.9 72.7l1.5-.9 5.8-2.8-1.6 1z" fill="#000000"/>
<path d="M200.4 45.7l1.9-1.3 5.8-.6-2.1 1.4z" fill="#000000"/>
<path d="M137.7 63.9l1.6-1 5.8-2.3-1.7 1.1z" fill="#000000"/>
<path d="M219.5 43.4l2-1.4 5.7 0-2.1 1.4z" fill="#111600"/>
<path d="M76 98.9l1.3-.7 5.7-4.1-1.3 .7z" fill="#000000"/>
<path d="M156.6 56.6l1.7-1.2 5.8-1.7-1.8 1.1z" fill="#000000"/>
<path d="M238.6 42.5l2.2-1.4 5.7 .5-2.3 1.5z" fill="#3d4d00"/>
<path d="M94.5 86.5l1.4-.7 5.8-3.6-1.5 .8z" fill="#000000"/>
<path d="M175.6 50.7l1.8-1.2 5.8-1.2-1.9 1.2z" fill="#000000"/>
<path d="M257.7 43.2l2.3-1.5 5.7 1-2.3 1.6z" fill="#546f00"/>
<path d="M113.2 75.7l1.5-.9 5.7-3-1.5 .9z" fill="#000000"/>
<path d="M194.6 46.4l2-1.3 5.7-.7-1.9 1.3z" fill="#000000"/>
<path d="M131.9 66.3l1.7-.9 5.7-2.5-1.6 1z" fill="#000000"/>
<path d="M213.8 43.5l2-1.3 5.7-.2-2 1.4z" fill="#000000"/>
<path d="M150.8 58.5l1.8-1.1 5.7-2-1.7 1.2z" fill="#000000"/>
<path d="M232.9 42.2l2.2-1.4 5.7 .3-2.2 1.4z" fill="#2c3600"/>
<path d="M88.8 90.2l1.3-.7 5.8-3.7-1.4 .7z" fill="#000000"/>
<path d="M169.8 52.1l1.9-1.2 5.7-1.4-1.8 1.2z" fill="#000000"/>
<path d="M252.1 42.3l2.3-1.4 5.6 .8-2.3 1.5z" fill="#4d6000"/>
<path d="M107.4 78.8l1.5-.8 5.8-3.2-1.5 .9z" fill="#000000"/>
<path d="M188.9 47.2l1.9-1.2 5.8-.9-2 1.3z" fill="#000000"/>
<path d="M271.3 44l2.4-1.5 5.6 1.3-2.4 1.6z" fill="#5b7c00"/>
<path d="M126.2 69l1.6-1 5.8-2.6-1.7 .9z" fill="#000000"/>
<path d="M208.1 43.8l2-1.2 5.7-.4-2 1.3z" fill="#000000"/>
<path d="M145.1 60.6l1.7-1 5.8-2.2-1.8 1.1z" fill="#000000"/>
<path d="M227.2 42l2.2-1.4 5.7 .2-2.2 1.4z" fill="#141800"/>
<path d="M83 94.1l1.4-.6 5.7-4-1.3 .7z" fill="#000000"/>
<path d="M164.1 53.7l1.8-1.1 5.8-1.7-1.9 1.2z" fill="#000000"/>
<path d="M246.5 41.6l2.2-1.4 5.7 .7-2.3 1.4z" fill="#424e00"/>
<path d="M101.7 82.2l1.4-.7 5.8-3.5-1.5 .8z" fill="#000000"/>
<path d="M183.2 48.3l1.9-1.2 5.7-1.1-1.9 1.2z" fill="#000000"/>
<path d="M265.7 42.7l2.3-1.4 5.7 1.2-2.4 1.5z" fill="#587000"/>
<path d="M120.4 71.8l1.6-.9 5.8-2.9-1.6 1z" fill="#000000"/>
<path d="M202.3 44.4l2-1.3 5.8-.5-2 1.2z" fill="#000000"/>
<path d="M139.3 62.9l1.7-1 5.8-2.3-1.7 1z" fill="#000000"/>
<path d="M221.5 42l2.2-1.3 5.7-.1-2.2 1.4z" fill="#000000"/>
<path d="M77.3 98.2l1.3-.5 5.8-4.2-1.4 .6z" fill="#000000"/>
<path d="M158.3 55.4l1.8-1 5.8-1.8-1.8 1.1z" fill="#000000"/>
<path d="M240.8 41.1l2.2-1.4 5.7 .5-2.2 1.4z" fill="#303700"/>
<path d="M95.9 85.8l1.4-.7 5.8-3.6-1.4 .7z" fill="#000000"/>
<path d="M177.4 49.5l1.9-1.1 5.8-1.3-1.9 1.2z" fill="#000000"/>
<path d="M260 41.7l2.4-1.4 5.6 1-2.3 1.4z" fill="#526200"/>
<path d="M114.7 74.8l1.5-.8 5.8-3.1-1.6 .9z" fill="#000000"/>
<path d="M196.6 45.1l2-1.2 5.7-.8-2 1.3z" fill="#000000"/>
<path d="M133.6 65.4l1.6-.9 5.8-2.6-1.7 1z" fill="#000000"/>
<path d="M215.8 42.2l2.1-1.3 5.8-.2-2.2 1.3z" fill="#000000"/>
<path d="M152.6 57.4l1.7-1 5.8-2-1.8 1z" fill="#000000"/>
<path d="M235.1 40.8l2.2-1.3 5.7 .2-2.2 1.4z" fill="#171900"/>
<path d="M90.1 89.5l1.4-.6 5.8-3.8-1.4 .7z" fill="#000000"/>
<path d="M171.7 50.9l1.8-1 5.8-1.5-1.9 1.1z" fill="#000000"/>
<path d="M254.4 40.9l2.3-1.4 5.7 .8-2.4 1.4z" fill="#464f00"/>
<path d="M108.9 78l1.5-.7 5.8-3.3-1.5 .8z" fill="#000000"/>
<path d="M190.8 46l2-1.1 5.8-1-2 1.2z" fill="#000000"/>
<path d="M273.7 42.5l2.4-1.4 5.6 1.3-2.4 1.4z" fill="#5c7100"/>
<path d="M127.8 68l1.6-.8 5.8-2.7-1.6 .9z" fill="#000000"/>
<path d="M210.1 42.6l2-1.2 5.8-.5-2.1 1.3z" fill="#000000"/>
<path d="M146.8 59.6l1.7-.9 5.8-2.3-1.7 1z" fill="#000000"/>
<path d="M229.4 40.6l2.2-1.2 5.7 .1-2.2 1.3z" fill="#000000"/>
<path d="M84.4 93.5l1.3-.5 5.8-4.1-1.4 .6z" fill="#000000"/>
<path d="M165.9 52.6l1.8-1 5.8-1.7-1.8 1z" fill="#000000"/>
<path d="M248.7 40.2l2.3-1.3 5.7 .6-2.3 1.4z" fill="#343800"/>
<path d="M103.1 81.5l1.4-.7 5.9-3.5-1.5 .7z" fill="#000000"/>
<path d="M185.1 47.1l1.9-1 5.8-1.2-2 1.1z" fill="#000000"/>
<path d="M268 41.3l2.4-1.4 5.7 1.2-2.4 1.4z" fill="#566300"/>
<path d="M122 70.9l1.5-.7 5.9-3-1.6 .8z" fill="#000000"/>
<path d="M204.3 43.1l2.1-1.1 5.7-.6-2 1.2z" fill="#000000"/>
<path d="M141 61.9l1.7-.8 5.8-2.4-1.7 .9z" fill="#000000"/>
<path d="M223.7 40.7l2.1-1.2 5.8-.1-2.2 1.2z" fill="#000000"/>
<path d="M78.6 97.7l1.3-.5 5.8-4.2-1.3 .5z" fill="#000000"/>
<path d="M160.1 54.4l1.8-.9 5.8-1.9-1.8 1z" fill="#000000"/>
<path d="M243 39.7l2.3-1.2 5.7 .4-2.3 1.3z" fill="#191b00"/>
<path d="M97.3 85.1l1.4-.6 5.8-3.7-1.4 .7z" fill="#000000"/>
<path d="M179.3 48.4l1.9-1 5.8-1.3-1.9 1z" fill="#000000"/>
<path d="M262.4 40.3l2.3-1.3 5.7 .9-2.4 1.4z" fill="#4a5100"/>
<path d="M116.2 74l1.5-.6 5.8-3.2-1.5 .7z" fill="#000000"/>
<path d="M198.6 43.9l2-1.1 5.8-.8-2.1 1.1z" fill="#000000"/>
<path d="M135.2 64.5l1.6-.8 5.9-2.6-1.7 .8z" fill="#000000"/>
<path d="M217.9 40.9l2.1-1.1 5.8-.3-2.1 1.2z" fill="#000000"/>
<path d="M154.3 56.4l1.7-.8 5.9-2.1-1.8 .9z" fill="#000000"/>
<path d="M237.3 39.5l2.2-1.2 5.8 .2-2.3 1.2z" fill="#000000"/>
<path d="M91.5 88.9l1.4-.5 5.8-3.9-1.4 .6z" fill="#000000"/>
<path d="M173.5 49.9l1.9-.9 5.8-1.6-1.9 1z" fill="#000000"/>
<path d="M256.7 39.5l2.3-1.2 5.7 .7-2.3 1.3z" fill="#373a00"/>
<path d="M110.4 77.3l1.5-.6 5.8-3.3-1.5 .6z" fill="#000000"/>
<path d="M192.8 44.9l2-1 5.8-1.1-2 1.1z" fill="#000000"/>
<path d="M276.1 41.1l2.4-1.3 5.7 1.3-2.5 1.3z" fill="#596400"/>
<path d="M129.4 67.2l1.6-.6 5.8-2.9-1.6 .8z" fill="#000000"/>
<path d="M212.1 41.4l2.1-1.1 5.8-.5-2.1 1.1z" fill="#000000"/>
<path d="M148.5 58.7l1.7-.8 5.8-2.3-1.7 .8z" fill="#000000"/>
<path d="M231.6 39.4l2.1-1.2 5.8 .1-2.2 1.2z" fill="#000000"/>
<path d="M85.7 93l1.4-.4 5.8-4.2-1.4 .5z" fill="#000000"/>
<path d="M167.7 51.6l1.8-.9 5.9-1.7-1.9 .9z" fill="#000000"/>
<path d="M251 38.9l2.3-1.2 5.7 .6-2.3 1.2z" fill="#1c1c00"/>
<path d="M104.5 80.8l1.5-.5 5.9-3.6-1.5 .6z" fill="#000000"/>
<path d="M187 46.1l1.9-1 5.9-1.2-2 1z" fill="#000000"/>
<path d="M270.4 39.9l2.4-1.2 5.7 1.1-2.4 1.3z" fill="#4d5200"/>
<path d="M123.5 70.2l1.6-.6 5.9-3-1.6 .6z" fill="#000000"/>
<path d="M206.4 42l2-1 5.8-.7-2.1 1.1z" fill="#000000"/>
<path d="M142.7 61.1l1.6-.7 5.9-2.5-1.7 .8z" fill="#000000"/>
<path d="M225.8 39.5l2.2-1.1 5.7-.2-2.1 1.2z" fill="#000000"/>
<path d="M79.9 97.2l1.3-.3 5.9-4.3-1.4 .4z" fill="#000000"/>
<path d="M161.9 53.5l1.8-.8 5.8-2-1.8 .9z" fill="#000000"/>
<path d="M245.3 38.5l2.2-1.2 5.8 .4-2.3 1.2z" fill="#000000"/>
<path d="M98.7 84.5l1.5-.4 5.8-3.8-1.5 .5z" fill="#000000"/>
<path d="M181.2 47.4l1.9-.9 5.8-1.4-1.9 1z" fill="#000000"/>
<path d="M264.7 39l2.4-1.2 5.7 .9-2.4 1.2z" fill="#3b3b00"/>
<path d="M117.7 73.4l1.6-.6 5.8-3.2-1.6 .6z" fill="#000000"/>
<path d="M200.6 42.8l2-.9 5.8-.9-2 1z" fill="#000000"/>
<path d="M136.8 63.7l1.7-.6 5.8-2.7-1.6 .7z" fill="#000000"/>
<path d="M220 39.8l2.2-1 5.8-.4-2.2 1.1z" fill="#000000"/>
<path d="M156 55.6l1.8-.8 5.9-2.1-1.8 .8z" fill="#000000"/>
<path d="M239.5 38.3l2.2-1.1 5.8 .1-2.2 1.2z" fill="#000000"/>
<path d="M92.9 88.4l1.4-.3 5.9-4-1.5 .4z" fill="#000000"/>
<path d="M175.4 49l1.8-.9 5.9-1.6-1.9 .9z" fill="#000000"/>
<path d="M259 38.3l2.4-1.2 5.7 .7-2.4 1.2z" fill="#1e1d00"/>
<path d="M111.9 76.7l1.5-.4 5.9-3.5-1.6 .6z" fill="#000000"/>
<path d="M194.8 43.9l2-.9 5.8-1.1-2 .9z" fill="#000000"/>
<path d="M278.5 39.8l2.5-1.2 5.7 1.2-2.5 1.3z" fill="#505400"/>
<path d="M131 66.6l1.6-.6 5.9-2.9-1.7 .6z" fill="#000000"/>
<path d="M214.2 40.3l2.1-1 5.9-.5-2.2 1z" fill="#000000"/>
<path d="M150.2 57.9l1.7-.7 5.9-2.4-1.8 .8z" fill="#000000"/>
<path d="M233.7 38.2l2.3-1 5.7 0-2.2 1.1z" fill="#000000"/>
<path d="M87.1 92.6l1.3-.3 5.9-4.2-1.4 .3z" fill="#000000"/>
<path d="M169.5 50.7l1.9-.7 5.8-1.9-1.8 .9z" fill="#000000"/>
<path d="M253.3 37.7l2.3-1.1 5.8 .5-2.4 1.2z" fill="#000000"/>
<path d="M106 80.3l1.5-.4 5.9-3.6-1.5 .4z" fill="#000000"/>
<path d="M188.9 45.1l2-.9 5.9-1.2-2 .9z" fill="#000000"/>
<path d="M272.8 38.7l2.5-1.1 5.7 1-2.5 1.2z" fill="#3d3c00"/>
<path d="M125.1 69.6l1.6-.5 5.9-3.1-1.6 .6z" fill="#000000"/>
<path d="M208.4 41l2.1-.9 5.8-.8-2.1 1z" fill="#000000"/>
<path d="M144.3 60.4l1.8-.6 5.8-2.6-1.7 .7z" fill="#000000"/>
<path d="M228 38.4l2.1-1 5.9-.2-2.3 1z" fill="#000000"/>
<path d="M81.2 96.9l1.4-.3 5.8-4.3-1.3 .3z" fill="#000000"/>
<path d="M163.7 52.7l1.8-.7 5.9-2-1.9 .7z" fill="#000000"/>
<path d="M247.5 37.3l2.3-1 5.8 .3-2.3 1.1z" fill="#000000"/>
<path d="M100.2 84.1l1.4-.4 5.9-3.8-1.5 .4z" fill="#000000"/>
<path d="M183.1 46.5l1.9-.8 5.9-1.5-2 .9z" fill="#000000"/>
<path d="M267.1 37.8l2.4-1.1 5.8 .9-2.5 1.1z" fill="#201e00"/>
<path d="M119.3 72.8l1.5-.4 5.9-3.3-1.6 .5z" fill="#000000"/>
<path d="M202.6 41.9l2-.9 5.9-.9-2.1 .9z" fill="#000000"/>
<path d="M138.5 63.1l1.7-.6 5.9-2.7-1.8 .6z" fill="#000000"/>
<path d="M222.2 38.8l2.1-1 5.8-.4-2.1 1z" fill="#000000"/>
<path d="M157.8 54.8l1.8-.6 5.9-2.2-1.8 .7z" fill="#000000"/>
<path d="M241.7 37.2l2.3-1 5.8 .1-2.3 1z" fill="#000000"/>
<path d="M94.3 88.1l1.4-.3 5.9-4.1-1.4 .4z" fill="#000000"/>
<path d="M177.2 48.1l2-.7 5.8-1.7-1.9 .8z" fill="#000000"/>
<path d="M261.4 37.1l2.3-1 5.8 .6-2.4 1.1z" fill="#000000"/>
<path d="M113.4 76.3l1.5-.4 5.9-3.5-1.5 .4z" fill="#000000"/>
<path d="M196.8 43l2-.9 5.8-1.1-2 .9z" fill="#000000"/>
<path d="M281 38.6l2.5-1.1 5.7 1.2-2.5 1.1z" fill="#3f3d00"/>
<path d="M132.6 66l1.7-.5 5.9-3-1.7 .6z" fill="#000000"/>
<path d="M216.3 39.3l2.2-.9 5.8-.6-2.1 1z" fill="#000000"/>
<path d="M151.9 57.2l1.8-.6 5.9-2.4-1.8 .6z" fill="#000000"/>
<path d="M236 37.2l2.2-.9 5.8-.1-2.3 1z" fill="#000000"/>
<path d="M88.4 92.3l1.4-.2 5.9-4.3-1.4 .3z" fill="#000000"/>
<path d="M171.4 50l1.9-.7 5.9-1.9-2 .7z" fill="#000000"/>
<path d="M255.6 36.6l2.3-1 5.8 .5-2.3 1z" fill="#000000"/>
<path d="M107.5 79.9l1.5-.3 5.9-3.7-1.5 .4z" fill="#000000"/>
<path d="M190.9 44.2l2-.7 5.9-1.4-2 .9z" fill="#000000"/>
<path d="M275.3 37.6l2.4-1.1 5.8 1-2.5 1.1z" fill="#221f00"/>
<path d="M126.7 69.1l1.6-.5 6-3.1-1.7 .5z" fill="#000000"/>
<path d="M210.5 40.1l2.1-.9 5.9-.8-2.2 .9z" fill="#000000"/>
<path d="M146.1 59.8l1.7-.6 5.9-2.6-1.8 .6z" fill="#000000"/>
<path d="M230.1 37.4l2.2-.9 5.9-.2-2.2 .9z" fill="#000000"/>
<path d="M82.6 96.6l1.3-.1 5.9-4.4-1.4 .2z" fill="#000000"/>
<path d="M165.5 52l1.8-.6 6-2.1-1.9 .7z" fill="#000000"/>
<path d="M249.8 36.3l2.3-1 5.8 .3-2.3 1z" fill="#000000"/>
<path d="M101.6 83.7l1.5-.2 5.9-3.9-1.5 .3z" fill="#000000"/>
<path d="M185 45.7l2-.7 5.9-1.5-2 .7z" fill="#000000"/>
<path d="M269.5 36.7l2.4-1 5.8 .8-2.4 1.1z" fill="#000000"/>
<path d="M120.8 72.4l1.6-.4 5.9-3.4-1.6 .5z" fill="#000000"/>
<path d="M204.6 41l2.1-.8 5.9-1-2.1 .9z" fill="#000000"/>
<path d="M140.2 62.5l1.7-.4 5.9-2.9-1.7 .6z" fill="#000000"/>
<path d="M224.3 37.8l2.2-.8 5.8-.5-2.2 .9z" fill="#000000"/>
<path d="M159.6 54.2l1.8-.5 5.9-2.3-1.8 .6z" fill="#000000"/>
<path d="M244 36.2l2.3-.9 5.8 0-2.3 1z" fill="#000000"/>
<path d="M95.7 87.8l1.5-.2 5.9-4.1-1.5 .2z" fill="#000000"/>
<path d="M179.2 47.4l1.9-.6 5.9-1.8-2 .7z" fill="#000000"/>
<path d="M263.7 36.1l2.4-1 5.8 .6-2.4 1z" fill="#000000"/>
<path d="M114.9 75.9l1.6-.3 5.9-3.6-1.6 .4z" fill="#000000"/>
<path d="M198.8 42.1l2-.7 5.9-1.2-2.1 .8z" fill="#000000"/>
<path d="M283.5 37.5l2.5-1 5.7 1.1-2.5 1.1z" fill="#242100"/>
<path d="M134.3 65.5l1.6-.4 6-3-1.7 .4z" fill="#000000"/>
<path d="M218.5 38.4l2.1-.7 5.9-.7-2.2 .8z" fill="#000000"/>
<path d="M153.7 56.6l1.8-.5 5.9-2.4-1.8 .5z" fill="#000000"/>
<path d="M238.2 36.3l2.3-.9 5.8-.1-2.3 .9z" fill="#000000"/>
<path d="M89.8 92.1l1.4-.1 6-4.4-1.5 .2z" fill="#000000"/>
<path d="M173.3 49.3l1.9-.6 5.9-1.9-1.9 .6z" fill="#000000"/>
<path d="M257.9 35.6l2.4-.9 5.8 .4-2.4 1z" fill="#000000"/>
<path d="M109 79.6l1.5-.2 6-3.8-1.6 .3z" fill="#000000"/>
<path d="M192.9 43.5l2-.6 5.9-1.5-2 .7z" fill="#000000"/>
<path d="M277.7 36.5l2.5-.9 5.8 .9-2.5 1z" fill="#000000"/>
<path d="M128.3 68.6l1.7-.3 5.9-3.2-1.6 .4z" fill="#000000"/>
<path d="M212.6 39.2l2.1-.7 5.9-.8-2.1 .7z" fill="#000000"/>
<path d="M147.8 59.2l1.7-.4 6-2.7-1.8 .5z" fill="#000000"/>
<path d="M232.3 36.5l2.3-.8 5.9-.3-2.3 .9z" fill="#000000"/>
<path d="M83.9 96.5l1.4 0 5.9-4.5-1.4 .1z" fill="#000000"/>
<path d="M167.3 51.4l1.9-.5 6-2.2-1.9 .6z" fill="#000000"/>
<path d="M252.1 35.3l2.4-.8 5.8 .2-2.4 .9z" fill="#000000"/>
<path d="M103.1 83.5l1.5-.1 5.9-4-1.5 .2z" fill="#000000"/>
<path d="M187 45l2-.5 5.9-1.6-2 .6z" fill="#000000"/>
<path d="M271.9 35.7l2.5-.9 5.8 .8-2.5 .9z" fill="#000000"/>
<path d="M122.4 72l1.6-.2 6-3.5-1.7 .3z" fill="#000000"/>
<path d="M206.7 40.2l2.1-.6 5.9-1.1-2.1 .7z" fill="#000000"/>
<path d="M141.9 62.1l1.7-.4 5.9-2.9-1.7 .4z" fill="#000000"/>
<path d="M226.5 37l2.2-.7 5.9-.6-2.3 .8z" fill="#000000"/>
<path d="M161.4 53.7l1.9-.5 5.9-2.3-1.9 .5z" fill="#000000"/>
<path d="M246.3 35.3l2.3-.8 5.9 0-2.4 .8z" fill="#000000"/>
<path d="M97.2 87.6l1.4 0 6-4.2-1.5 .1z" fill="#000000"/>
<path d="M181.1 46.8l1.9-.5 6-1.8-2 .5z" fill="#000000"/>
<path d="M266.1 35.1l2.5-.8 5.8 .5-2.5 .9z" fill="#000000"/>
<path d="M116.5 75.6l1.6-.2 5.9-3.6-1.6 .2z" fill="#000000"/>
<path d="M200.8 41.4l2.1-.5 5.9-1.3-2.1 .6z" fill="#000000"/>
<path d="M286 36.5l2.5-.9 5.8 1.1-2.6 .9z" fill="#010100"/>
<path d="M135.9 65.1l1.7-.3 6-3.1-1.7 .4z" fill="#000000"/>
<path d="M220.6 37.7l2.2-.7 5.9-.7-2.2 .7z" fill="#000000"/>
<path d="M155.5 56.1l1.8-.3 6-2.6-1.9 .5z" fill="#000000"/>
<path d="M240.5 35.4l2.2-.7 5.9-.2-2.3 .8z" fill="#000000"/>
<path d="M91.2 92l1.5 0 5.9-4.4-1.4 0z" fill="#000000"/>
<path d="M175.2 48.7l1.9-.4 5.9-2-1.9 .5z" fill="#000000"/>
<path d="M260.3 34.7l2.4-.8 5.9 .4-2.5 .8z" fill="#000000"/>
<path d="M110.5 79.4l1.6-.1 6-3.9-1.6 .2z" fill="#000000"/>
<path d="M194.9 42.9l2-.6 6-1.4-2.1 .5z" fill="#000000"/>
<path d="M280.2 35.6l2.5-.9 5.8 .9-2.5 .9z" fill="#000000"/>
<path d="M130 68.3l1.6-.1 6-3.4-1.7 .3z" fill="#000000"/>
<path d="M214.7 38.5l2.2-.6 5.9-.9-2.2 .7z" fill="#000000"/>
<path d="M149.5 58.8l1.8-.3 6-2.7-1.8 .3z" fill="#000000"/>
<path d="M234.6 35.7l2.2-.6 5.9-.4-2.2 .7z" fill="#000000"/>
<path d="M85.3 96.5l1.4 .1 6-4.6-1.5 0z" fill="#000000"/>
<path d="M169.2 50.9l1.9-.4 6-2.2-1.9 .4z" fill="#000000"/>
<path d="M254.5 34.5l2.3-.7 5.9 .1-2.4 .8z" fill="#000000"/>
<path d="M104.6 83.4l1.5 0 6-4.1-1.6 .1z" fill="#000000"/>
<path d="M189 44.5l2-.5 5.9-1.7-2 .6z" fill="#000000"/>
<path d="M274.4 34.8l2.5-.8 5.8 .7-2.5 .9z" fill="#000000"/>
<path d="M124 71.8l1.7-.1 5.9-3.5-1.6 .1z" fill="#000000"/>
<path d="M208.8 39.6l2.1-.6 6-1.1-2.2 .6z" fill="#000000"/>
<path d="M143.6 61.7l1.7-.2 6-3-1.8 .3z" fill="#000000"/>
<path d="M228.7 36.3l2.2-.7 5.9-.5-2.2 .6z" fill="#000000"/>
<path d="M163.3 53.2l1.8-.3 6-2.4-1.9 .4z" fill="#000000"/>
<path d="M248.6 34.5l2.4-.7 5.8 0-2.3 .7z" fill="#000000"/>
<path d="M98.6 87.6l1.5 .1 6-4.3-1.5 0z" fill="#000000"/>
<path d="M183 46.3l2-.4 6-1.9-2 .5z" fill="#000000"/>
<path d="M268.6 34.3l2.4-.8 5.9 .5-2.5 .8z" fill="#000000"/>
<path d="M118.1 75.4l1.6 0 6-3.7-1.7 .1z" fill="#000000"/>
<path d="M202.9 40.9l2.1-.5 5.9-1.4-2.1 .6z" fill="#000000"/>
<path d="M288.5 35.6l2.6-.8 5.8 1.1-2.6 .8z" fill="#000000"/>
<path d="M137.6 64.8l1.7-.1 6-3.2-1.7 .2z" fill="#000000"/>
<path d="M222.8 37l2.2-.6 5.9-.8-2.2 .7z" fill="#000000"/>
<path d="M157.3 55.8l1.8-.3 6-2.6-1.8 .3z" fill="#000000"/>
<path d="M242.7 34.7l2.3-.6 6-.3-2.4 .7z" fill="#000000"/>
<path d="M92.7 92l1.4 .2 6-4.5-1.5-.1z" fill="#000000"/>
<path d="M177.1 48.3l1.9-.4 6-2-2 .4z" fill="#000000"/>
<path d="M262.7 33.9l2.4-.6 5.9 .2-2.4 .8z" fill="#000000"/>
<path d="M112.1 79.3l1.6 0 6-3.9-1.6 0z" fill="#000000"/>
<path d="M196.9 42.3l2.1-.4 6-1.5-2.1 .5z" fill="#000000"/>
<path d="M282.7 34.7l2.5-.7 5.9 .8-2.6 .8z" fill="#000000"/>
<path d="M131.6 68.2l1.7-.1 6-3.4-1.7 .1z" fill="#000000"/>
<path d="M216.9 37.9l2.1-.5 6-1-2.2 .6z" fill="#000000"/>
<path d="M151.3 58.5l1.8-.1 6-2.9-1.8 .3z" fill="#000000"/>
<path d="M236.8 35.1l2.3-.6 5.9-.4-2.3 .6z" fill="#000000"/>
<path d="M86.7 96.6l1.4 .3 6-4.7-1.4-.2z" fill="#000000"/>
<path d="M171.1 50.5l1.9-.3 6-2.3-1.9 .4z" fill="#000000"/>
<path d="M256.8 33.8l2.4-.6 5.9 .1-2.4 .6z" fill="#000000"/>
<path d="M106.1 83.4l1.5 .1 6.1-4.2-1.6 0z" fill="#000000"/>
<path d="M191 44l2-.4 6-1.7-2.1 .4z" fill="#000000"/>
<path d="M276.9 34l2.5-.6 5.8 .6-2.5 .7z" fill="#000000"/>
<path d="M125.7 71.7l1.6 0 6-3.6-1.7 .1z" fill="#000000"/>
<path d="M210.9 39l2.2-.4 5.9-1.2-2.1 .5z" fill="#000000"/>
<path d="M145.3 61.5l1.8-.1 6-3-1.8 .1z" fill="#000000"/>
<path d="M230.9 35.6l2.3-.5 5.9-.6-2.3 .6z" fill="#000000"/>
<path d="M165.1 52.9l1.9-.2 6-2.5-1.9 .3z" fill="#000000"/>
<path d="M251 33.8l2.3-.6 5.9 0-2.4 .6z" fill="#000000"/>
<path d="M100.1 87.7l1.5 .2 6-4.4-1.5-.1z" fill="#000000"/>
<path d="M185 45.9l2-.3 6-2-2 .4z" fill="#000000"/>
<path d="M271 33.5l2.5-.6 5.9 .5-2.5 .6z" fill="#000000"/>
<path d="M119.7 75.4l1.6 .1 6-3.8-1.6 0z" fill="#000000"/>
<path d="M205 40.4l2.1-.4 6-1.4-2.2 .4z" fill="#000000"/>
<path d="M291.1 34.8l2.6-.6 5.8 1-2.6 .7z" fill="#000000"/>
<path d="M139.3 64.7l1.8 0 6-3.3-1.8 .1z" fill="#000000"/>
<path d="M225 36.4l2.2-.4 6-.9-2.3 .5z" fill="#000000"/>
<path d="M159.1 55.5l1.9-.1 6-2.7-1.9 .2z" fill="#000000"/>
<path d="M245 34.1l2.4-.6 5.9-.3-2.3 .6z" fill="#000000"/>
<path d="M94.1 92.2l1.5 .2 6-4.5-1.5-.2z" fill="#000000"/>
<path d="M179 47.9l2-.2 6-2.1-2 .3z" fill="#000000"/>
<path d="M265.1 33.3l2.5-.6 5.9 .2-2.5 .6z" fill="#000000"/>
<path d="M113.7 79.3l1.5 .2 6.1-4-1.6-.1z" fill="#000000"/>
<path d="M199 41.9l2.1-.3 6-1.6-2.1 .4z" fill="#000000"/>
<path d="M285.2 34l2.6-.6 5.9 .8-2.6 .6z" fill="#000000"/>
<path d="M133.3 68.1l1.7 0 6.1-3.4-1.8 0z" fill="#000000"/>
<path d="M219 37.4l2.2-.4 6-1-2.2 .4z" fill="#000000"/>
<path d="M153.1 58.4l1.8-.1 6.1-2.9-1.9 .1z" fill="#000000"/>
<path d="M239.1 34.5l2.3-.5 6-.5-2.4 .6z" fill="#000000"/>
<path d="M88.1 96.9l1.5 .3 6-4.8-1.5-.2z" fill="#000909"/>
<path d="M173 50.2l2-.1 6-2.4-2 .2z" fill="#000000"/>
<path d="M259.2 33.2l2.5-.6 5.9 .1-2.5 .6z" fill="#000000"/>
<path d="M107.6 83.5l1.6 .2 6-4.2-1.5-.2z" fill="#000000"/>
<path d="M193 43.6l2.1-.2 6-1.8-2.1 .3z" fill="#000000"/>
<path d="M279.4 33.4l2.5-.6 5.9 .6-2.6 .6z" fill="#000000"/>
<path d="M127.3 71.7l1.7 .1 6-3.7-1.7 0z" fill="#000000"/>
<path d="M213.1 38.6l2.1-.3 6-1.3-2.2 .4z" fill="#000000"/>
<path d="M147.1 61.4l1.8 0 6-3.1-1.8 .1z" fill="#000000"/>
<path d="M233.2 35.1l2.2-.4 6-.7-2.3 .5z" fill="#000000"/>
<path d="M167 52.7l1.9-.1 6.1-2.5-2 .1z" fill="#000000"/>
<path d="M253.3 33.2l2.4-.4 6-.2-2.5 .6z" fill="#000000"/>
<path d="M101.6 87.9l1.5 .3 6.1-4.5-1.6-.2z" fill="#000000"/>
<path d="M187 45.6l2-.2 6.1-2-2.1 .2z" fill="#000000"/>
<path d="M273.5 32.9l2.5-.5 5.9 .4-2.5 .6z" fill="#000000"/>
<path d="M121.3 75.5l1.6 .2 6.1-3.9-1.7-.1z" fill="#000000"/>
<path d="M207.1 40l2.1-.3 6-1.4-2.1 .3z" fill="#000000"/>
<path d="M293.7 34.2l2.6-.6 5.8 .9-2.6 .7z" fill="#000000"/>
<path d="M141.1 64.7l1.7 0 6.1-3.3-1.8 0z" fill="#000000"/>
<path d="M227.2 36l2.3-.4 5.9-.9-2.2 .4z" fill="#000000"/>
<path d="M161 55.4l1.8 0 6.1-2.8-1.9 .1z" fill="#000000"/>
<path d="M247.4 33.5l2.3-.4 6-.3-2.4 .4z" fill="#000000"/>
<path d="M95.6 92.4l1.5 .4 6-4.6-1.5-.3z" fill="#001812"/>
<path d="M181 47.7l2-.1 6-2.2-2 .2z" fill="#000000"/>
<path d="M267.6 32.7l2.5-.5 5.9 .2-2.5 .5z" fill="#000000"/>
<path d="M115.2 79.5l1.7 .3 6-4.1-1.6-.2z" fill="#000000"/>
<path d="M201.1 41.6l2.1-.2 6-1.7-2.1 .3z" fill="#000000"/>
<path d="M287.8 33.4l2.6-.5 5.9 .7-2.6 .6z" fill="#000000"/>
<path d="M135 68.1l1.8 .2 6-3.6-1.7 0z" fill="#000000"/>
<path d="M221.2 37l2.2-.2 6.1-1.2-2.3 .4z" fill="#000000"/>
<path d="M154.9 58.3l1.9 .1 6-3-1.8 0z" fill="#000000"/>
<path d="M241.4 34l2.4-.3 5.9-.6-2.3 .4z" fill="#000000"/>
<path d="M89.6 97.2l1.4 .5 6.1-4.9-1.5-.4z" fill="#002f2b"/>
<path d="M175 50.1l1.9-.1 6.1-2.4-2 .1z" fill="#000000"/>
<path d="M261.7 32.6l2.4-.4 6 0-2.5 .5z" fill="#000000"/>
<path d="M109.2 83.7l1.6 .4 6.1-4.3-1.7-.3z" fill="#000904"/>
<path d="M195.1 43.4l2-.2 6.1-1.8-2.1 .2z" fill="#000000"/>
<path d="M281.9 32.8l2.6-.5 5.9 .6-2.6 .5z" fill="#000000"/>
<path d="M129 71.8l1.7 .2 6.1-3.7-1.8-.2z" fill="#000000"/>
<path d="M215.2 38.3l2.2-.2 6-1.3-2.2 .2z" fill="#000000"/>
<path d="M148.9 61.4l1.8 .1 6.1-3.1-1.9-.1z" fill="#000000"/>
<path d="M235.4 34.7l2.4-.2 6-.8-2.4 .3z" fill="#000000"/>
<path d="M168.9 52.6l1.9 0 6.1-2.6-1.9 .1z" fill="#000000"/>
<path d="M255.7 32.8l2.4-.4 6-.2-2.4 .4z" fill="#000000"/>
<path d="M103.1 88.2l1.6 .4 6.1-4.5-1.6-.4z" fill="#002415"/>
<path d="M189 45.4l2.1-.1 6-2.1-2 .2z" fill="#000000"/>
<path d="M276 32.4l2.5-.4 6 .3-2.6 .5z" fill="#000000"/>
<path d="M122.9 75.7l1.7 .3 6.1-4-1.7-.2z" fill="#000000"/>
<path d="M209.2 39.7l2.2-.1 6-1.5-2.2 .2z" fill="#000000"/>
<path d="M296.3 33.6l2.6-.4 5.9 .8-2.7 .5z" fill="#000000"/>
<path d="M142.8 64.7l1.8 .2 6.1-3.4-1.8-.1z" fill="#000000"/>
<path d="M229.5 35.6l2.2-.2 6.1-.9-2.4 .2z" fill="#000000"/>
<path d="M162.8 55.4l1.9 .1 6.1-2.9-1.9 0z" fill="#000000"/>
<path d="M249.7 33.1l2.4-.2 6-.5-2.4 .4z" fill="#000000"/>
<path d="M97.1 92.8l1.5 .5 6.1-4.7-1.6-.4z" fill="#003a2a"/>
<path d="M183 47.6l2 0 6.1-2.3-2.1 .1z" fill="#000000"/>
<path d="M270.1 32.2l2.5-.3 5.9 .1-2.5 .4z" fill="#000000"/>
<path d="M116.9 79.8l1.6 .3 6.1-4.1-1.7-.3z" fill="#001606"/>
<path d="M203.2 41.4l2.1-.1 6.1-1.7-2.2 .1z" fill="#000000"/>
<path d="M290.4 32.9l2.6-.4 5.9 .7-2.6 .4z" fill="#000000"/>
<path d="M136.8 68.3l1.7 .2 6.1-3.6-1.8-.2z" fill="#000000"/>
<path d="M223.4 36.8l2.3-.2 6-1.2-2.2 .2z" fill="#000000"/>
<path d="M156.8 58.4l1.8 .1 6.1-3-1.9-.1z" fill="#000000"/>
<path d="M243.8 33.7l2.3-.2 6-.6-2.4 .2z" fill="#000000"/>
<path d="M91 97.7l1.5 .6 6.1-5-1.5-.5z" fill="#004b43"/>
<path d="M176.9 50l2 .1 6.1-2.5-2 0z" fill="#000000"/>
<path d="M264.1 32.2l2.5-.3 6 0-2.5 .3z" fill="#000000"/>
<path d="M110.8 84.1l1.6 .4 6.1-4.4-1.6-.3z" fill="#003013"/>
<path d="M197.1 43.2l2.1 0 6.1-1.9-2.1 .1z" fill="#000000"/>
<path d="M284.5 32.3l2.5-.3 6 .5-2.6 .4z" fill="#000000"/>
<path d="M130.7 72l1.7 .4 6.1-3.9-1.7-.2z" fill="#000300"/>
<path d="M217.4 38.1l2.2-.1 6.1-1.4-2.3 .2z" fill="#000000"/>
<path d="M150.7 61.5l1.8 .3 6.1-3.3-1.8-.1z" fill="#000000"/>
<path d="M237.8 34.5l2.3-.2 6-.8-2.3 .2z" fill="#000000"/>
<path d="M170.8 52.6l2 .2 6.1-2.7-2-.1z" fill="#000000"/>
<path d="M258.1 32.4l2.5-.2 6-.3-2.5 .3z" fill="#000000"/>
<path d="M104.7 88.6l1.5 .5 6.2-4.6-1.6-.4z" fill="#004426"/>
<path d="M191.1 45.3l2 .1 6.1-2.2-2.1 0z" fill="#000000"/>
<path d="M278.5 32l2.6-.3 5.9 .3-2.5 .3z" fill="#000000"/>
<path d="M124.6 76l1.7 .4 6.1-4-1.7-.4z" fill="#002203"/>
<path d="M211.4 39.6l2.1-.1 6.1-1.5-2.2 .1z" fill="#000000"/>
<path d="M298.9 33.2l2.7-.4 5.9 .9-2.7 .3z" fill="#000000"/>
<path d="M144.6 64.9l1.8 .3 6.1-3.4-1.8-.3z" fill="#000000"/>
<path d="M231.7 35.4l2.3-.1 6.1-1-2.3 .2z" fill="#000000"/>
<path d="M164.7 55.5l2 .2 6.1-2.9-2-.2z" fill="#000000"/>
<path d="M252.1 32.9l2.4-.2 6.1-.5-2.5 .2z" fill="#000000"/>
<path d="M98.6 93.3l1.5 .7 6.1-4.9-1.5-.5z" fill="#00533c"/>
<path d="M185 47.6l2 .1 6.1-2.3-2-.1z" fill="#000000"/>
<path d="M272.6 31.9l2.5-.3 6 .1-2.6 .3z" fill="#000000"/>
<path d="M118.5 80.1l1.6 .5 6.2-4.2-1.7-.4z" fill="#003a0e"/>
<path d="M205.3 41.3l2.1 0 6.1-1.8-2.1 .1z" fill="#000000"/>
<path d="M293 32.5l2.6-.3 6 .6-2.7 .4z" fill="#000000"/>
<path d="M138.5 68.5l1.8 .4 6.1-3.7-1.8-.3z" fill="#030f00"/>
<path d="M225.7 36.6l2.2-.1 6.1-1.2-2.3 .1z" fill="#000000"/>
<path d="M158.6 58.5l1.9 .3 6.2-3.1-2-.2z" fill="#000000"/>
<path d="M246.1 33.5l2.4-.1 6-.7-2.4 .2z" fill="#000000"/>
<path d="M92.5 98.3l1.5 .7 6.1-5-1.5-.7z" fill="#006056"/>
<path d="M178.9 50.1l2 .2 6.1-2.6-2-.1z" fill="#000000"/>
<path d="M266.6 31.9l2.5-.1 6-.2-2.5 .3z" fill="#000000"/>
<path d="M112.4 84.5l1.6 .6 6.1-4.5-1.6-.5z" fill="#004c1e"/>
<path d="M199.2 43.2l2.1 .1 6.1-2-2.1 0z" fill="#000000"/>
<path d="M287 32l2.7-.2 5.9 .4-2.6 .3z" fill="#000000"/>
<path d="M132.4 72.4l1.7 .4 6.2-3.9-1.8-.4z" fill="#022c00"/>
<path d="M219.6 38l2.3 0 6-1.5-2.2 .1z" fill="#000000"/>
<path d="M152.5 61.8l1.9 .3 6.1-3.3-1.9-.3z" fill="#000000"/>
<path d="M240.1 34.3l2.3-.1 6.1-.8-2.4 .1z" fill="#000000"/>
<path d="M172.8 52.8l1.9 .2 6.2-2.7-2-.2z" fill="#000000"/>
<path d="M260.6 32.2l2.4-.1 6.1-.3-2.5 .1z" fill="#000000"/>
<path d="M106.2 89.1l1.6 .7 6.2-4.7-1.6-.6z" fill="#005b32"/>
<path d="M193.1 45.4l2.1 .1 6.1-2.2-2.1-.1z" fill="#000000"/>
<path d="M281.1 31.7l2.6-.2 6 .3-2.7 .2z" fill="#000000"/>
<path d="M126.3 76.4l1.7 .5 6.1-4.1-1.7-.4z" fill="#004306"/>
<path d="M213.5 39.5l2.2 .1 6.2-1.6-2.3 0z" fill="#000000"/>
<path d="M301.6 32.8l2.7-.2 5.9 .8-2.7 .3z" fill="#000000"/>
<path d="M146.4 65.2l1.8 .5 6.2-3.6-1.9-.3z" fill="#081a00"/>
<path d="M234 35.3l2.3 0 6.1-1.1-2.3 .1z" fill="#000000"/>
<path d="M166.7 55.7l1.9 .3 6.1-3-1.9-.2z" fill="#000000"/>
<path d="M254.5 32.7l2.5-.1 6-.5-2.4 .1z" fill="#000000"/>
<path d="M100.1 94l1.6 .7 6.1-4.9-1.6-.7z" fill="#006749"/>
<path d="M187 47.7l2.1 .3 6.1-2.5-2.1-.1z" fill="#000000"/>
<path d="M275.1 31.6l2.5-.1 6.1 0-2.6 .2z" fill="#000000"/>
<path d="M120.1 80.6l1.7 .7 6.2-4.4-1.7-.5z" fill="#005413"/>
<path d="M207.4 41.3l2.2 .2 6.1-1.9-2.2-.1z" fill="#000000"/>
<path d="M295.6 32.2l2.7-.2 6 .6-2.7 .2z" fill="#000000"/>
<path d="M140.3 68.9l1.7 .5 6.2-3.7-1.8-.5z" fill="#0a3600"/>
<path d="M227.9 36.5l2.3 .1 6.1-1.3-2.3 0z" fill="#000000"/>
<path d="M160.5 58.8l1.9 .4 6.2-3.2-1.9-.3z" fill="#010200"/>
<path d="M248.5 33.4l2.4 0 6.1-.8-2.5 .1z" fill="#000000"/>
<path d="M94 99l1.5 .8 6.2-5.1-1.6-.7z" fill="#007164"/>
<path d="M180.9 50.3l2 .3 6.2-2.6-2.1-.3z" fill="#000000"/>
<path d="M269.1 31.8l2.5-.1 6-.2-2.5 .1z" fill="#000000"/>
<path d="M114 85.1l1.6 .7 6.2-4.5-1.7-.7z" fill="#006225"/>
<path d="M201.3 43.3l2.2 .3 6.1-2.1-2.2-.2z" fill="#000000"/>
<path d="M289.7 31.8l2.6-.1 6 .3-2.7 .2z" fill="#000000"/>
<path d="M134.1 72.8l1.8 .6 6.1-4-1.7-.5z" fill="#044b00"/>
<path d="M221.9 38l2.2 .1 6.1-1.5-2.3-.1z" fill="#000000"/>
<path d="M154.4 62.1l1.8 .5 6.2-3.4-1.9-.4z" fill="#102400"/>
<path d="M242.4 34.2l2.4 .1 6.1-.9-2.4 0z" fill="#000000"/>
<path d="M174.7 53l2 .4 6.2-2.8-2-.3z" fill="#000000"/>
<path d="M263 32.1l2.5 0 6.1-.4-2.5 .1z" fill="#000000"/>
<path d="M107.8 89.8l1.6 .8 6.2-4.8-1.6-.7z" fill="#006e3b"/>
<path d="M195.2 45.5l2.1 .3 6.2-2.2-2.2-.3z" fill="#000000"/>
<path d="M283.7 31.5l2.6 0 6 .2-2.6 .1z" fill="#000000"/>
<path d="M128 76.9l1.7 .7 6.2-4.2-1.8-.6z" fill="#005b07"/>
<path d="M215.7 39.6l2.3 .2 6.1-1.7-2.2-.1z" fill="#000000"/>
<path d="M304.3 32.6l2.7-.1 6 .7-2.8 .2z" fill="#000000"/>
<path d="M148.2 65.7l1.8 .6 6.2-3.7-1.8-.5z" fill="#143e00"/>
<path d="M236.3 35.3l2.4 .2 6.1-1.2-2.4-.1z" fill="#000000"/>
<path d="M168.6 56l1.9 .5 6.2-3.1-2-.4z" fill="#080c00"/>
<path d="M257 32.6l2.4 .1 6.1-.6-2.5 0z" fill="#000000"/>
<path d="M101.7 94.7l1.5 .9 6.2-5-1.6-.8z" fill="#007754"/>
<path d="M189.1 48l2 .3 6.2-2.5-2.1-.3z" fill="#000000"/>
<path d="M277.6 31.5l2.6 0 6.1 0-2.6 0z" fill="#000000"/>
<path d="M121.8 81.3l1.7 .7 6.2-4.4-1.7-.7z" fill="#006917"/>
<path d="M209.6 41.5l2.2 .3 6.2-2-2.3-.2z" fill="#000000"/>
<path d="M298.3 32l2.7 0 6 .5-2.7 .1z" fill="#000000"/>
<path d="M142 69.4l1.8 .7 6.2-3.8-1.8-.6z" fill="#105200"/>
<path d="M230.2 36.6l2.3 .2 6.2-1.3-2.4-.2z" fill="#000000"/>
<path d="M162.4 59.2l1.9 .6 6.2-3.3-1.9-.5z" fill="#192c00"/>
<path d="M250.9 33.4l2.4 .1 6.1-.8-2.4-.1z" fill="#000000"/>
<path d="M95.5 99.8l1.5 1 6.2-5.2-1.5-.9z" fill="#007f70"/>
<path d="M182.9 50.6l2 .4 6.2-2.7-2-.3z" fill="#000000"/>
<path d="M271.6 31.7l2.5 .1 6.1-.3-2.6 0z" fill="#000000"/>
<path d="M115.6 85.8l1.7 .9 6.2-4.7-1.7-.7z" fill="#00742c"/>
<path d="M203.5 43.6l2.1 .3 6.2-2.1-2.2-.3z" fill="#000000"/>
<path d="M292.3 31.7l2.7 0 6 .3-2.7 0z" fill="#000000"/>
<path d="M135.9 73.4l1.7 .7 6.2-4-1.8-.7z" fill="#076200"/>
<path d="M224.1 38.1l2.3 .3 6.1-1.6-2.3-.2z" fill="#000000"/>
<path d="M156.2 62.6l1.9 .6 6.2-3.4-1.9-.6z" fill="#1f4500"/>
<path d="M244.8 34.3l2.4 .2 6.1-1-2.4-.1z" fill="#000000"/>
<path d="M176.7 53.4l2 .5 6.2-2.9-2-.4z" fill="#111500"/>
<path d="M265.5 32.1l2.5 .1 6.1-.4-2.5-.1z" fill="#000000"/>
<path d="M109.4 90.6l1.6 .9 6.3-4.8-1.7-.9z" fill="#007d43"/>
<path d="M197.3 45.8l2.1 .4 6.2-2.3-2.1-.3z" fill="#000000"/>
<path d="M286.3 31.5l2.6 0 6.1 .2-2.7 0z" fill="#000000"/>
<path d="M129.7 77.6l1.7 .8 6.2-4.3-1.7-.7z" fill="#006e08"/>
<path d="M218 39.8l2.2 .4 6.2-1.8-2.3-.3z" fill="#000000"/>
<path d="M307 32.5l2.7 0 6.1 .7-2.8 0z" fill="#000000"/>
<path d="M150 66.3l1.9 .6 6.2-3.7-1.9-.6z" fill="#1d5800"/>
<path d="M238.7 35.5l2.3 .2 6.2-1.2-2.4-.2z" fill="#000000"/>
<path d="M170.5 56.5l2 .6 6.2-3.2-2-.5z" fill="#233400"/>
<path d="M259.4 32.7l2.5 .2 6.1-.7-2.5-.1z" fill="#000000"/>
<path d="M103.2 95.6l1.6 1 6.2-5.1-1.6-.9z" fill="#00845d"/>
<path d="M191.1 48.3l2.1 .5 6.2-2.6-2.1-.4z" fill="#000000"/>
<path d="M280.2 31.5l2.6 .1 6.1-.1-2.6 0z" fill="#000000"/>
<path d="M123.5 82l1.7 .9 6.2-4.5-1.7-.8z" fill="#00791b"/>
<path d="M211.8 41.8l2.2 .4 6.2-2-2.2-.4z" fill="#000000"/>
<path d="M301 32l2.7 0 6 .5-2.7 0z" fill="#000000"/>
<path d="M143.8 70.1l1.9 .8 6.2-4-1.9-.6z" fill="#156700"/>
<path d="M232.5 36.8l2.4 .3 6.1-1.4-2.3-.2z" fill="#000000"/>
<path d="M164.3 59.8l2 .6 6.2-3.3-2-.6z" fill="#2b4c00"/>
<path d="M253.3 33.5l2.5 .2 6.1-.8-2.5-.2z" fill="#000000"/>
<path d="M97 100.8l1.6 1.1 6.2-5.3-1.6-1z" fill="#008a79"/>
<path d="M184.9 51l2.1 .6 6.2-2.8-2.1-.5z" fill="#1a1d00"/>
<path d="M274.1 31.8l2.6 .1 6.1-.3-2.6-.1z" fill="#000000"/>
<path d="M117.3 86.7l1.6 .9 6.3-4.7-1.7-.9z" fill="#008131"/>
<path d="M205.6 43.9l2.2 .5 6.2-2.2-2.2-.4z" fill="#000000"/>
<path d="M295 31.7l2.6 .1 6.1 .2-2.7 0z" fill="#000000"/>
<path d="M137.6 74.1l1.8 .9 6.3-4.1-1.9-.8z" fill="#087400"/>
<path d="M226.4 38.4l2.3 .4 6.2-1.7-2.4-.3z" fill="#000000"/>
<path d="M158.1 63.2l1.9 .8 6.3-3.6-2-.6z" fill="#2b5e00"/>
<path d="M247.2 34.5l2.4 .3 6.2-1.1-2.5-.2z" fill="#000000"/>
<path d="M178.7 53.9l2.1 .7 6.2-3-2.1-.6z" fill="#2e3b00"/>
<path d="M268 32.2l2.6 .3 6.1-.6-2.6-.1z" fill="#000000"/>
<path d="M111 91.5l1.7 1.1 6.2-5-1.6-.9z" fill="#008849"/>
<path d="M199.4 46.2l2.2 .6 6.2-2.4-2.2-.5z" fill="#000000"/>
<path d="M288.9 31.5l2.7 .2 6 .1-2.6-.1z" fill="#000000"/>
<path d="M131.4 78.4l1.8 1 6.2-4.4-1.8-.9z" fill="#007e09"/>
<path d="M220.2 40.2l2.3 .4 6.2-1.8-2.3-.4z" fill="#000000"/>
<path d="M309.7 32.5l2.8 .1 6.1 .7-2.8-.1z" fill="#000000"/>
<path d="M151.9 66.9l1.9 .9 6.2-3.8-1.9-.8z" fill="#246d00"/>
<path d="M241 35.7l2.4 .4 6.2-1.3-2.4-.3z" fill="#000000"/>
<path d="M172.5 57.1l2 .7 6.3-3.2-2.1-.7z" fill="#385200"/>
<path d="M261.9 32.9l2.5 .3 6.2-.7-2.6-.3z" fill="#000000"/>
<path d="M104.8 96.6l1.6 1.1 6.3-5.1-1.7-1.1z" fill="#008e65"/>
<path d="M193.2 48.8l2.2 .6 6.2-2.6-2.2-.6z" fill="#232400"/>
<path d="M282.8 31.6l2.6 .3 6.2-.2-2.7-.2z" fill="#000000"/>
<path d="M125.2 82.9l1.7 1 6.3-4.5-1.8-1z" fill="#00861e"/>
<path d="M214 42.2l2.3 .5 6.2-2.1-2.3-.4z" fill="#000000"/>
<path d="M303.7 32l2.8 .2 6 .4-2.8-.1z" fill="#000000"/>
<path d="M145.7 70.9l1.8 .9 6.3-4-1.9-.9z" fill="#197800"/>
<path d="M234.9 37.1l2.3 .5 6.2-1.5-2.4-.4z" fill="#000000"/>
<path d="M166.3 60.4l2 .8 6.2-3.4-2-.7z" fill="#396300"/>
<path d="M255.8 33.7l2.5 .4 6.1-.9-2.5-.3z" fill="#000000"/>
<path d="M98.6 101.9l1.5 1.2 6.3-5.4-1.6-1.1z" fill="#009383"/>
<path d="M187 51.6l2.1 .7 6.3-2.9-2.2-.6z" fill="#394100"/>
<path d="M276.7 31.9l2.6 .3 6.1-.3-2.6-.3z" fill="#000000"/>
<path d="M118.9 87.6l1.7 1.1 6.3-4.8-1.7-1z" fill="#008c35"/>
<path d="M207.8 44.4l2.2 .6 6.3-2.3-2.3-.5z" fill="#050400"/>
<path d="M297.6 31.8l2.8 .2 6.1 .2-2.8-.2z" fill="#000000"/>
<path d="M139.4 75l1.8 1 6.3-4.2-1.8-.9z" fill="#098200"/>
<path d="M228.7 38.8l2.3 .5 6.2-1.7-2.3-.5z" fill="#000000"/>
<path d="M160 64l2 .8 6.3-3.6-2-.8z" fill="#347100"/>
<path d="M249.6 34.8l2.5 .4 6.2-1.1-2.5-.4z" fill="#000000"/>
<path d="M180.8 54.6l2 .7 6.3-3-2.1-.7z" fill="#455700"/>
<path d="M270.6 32.5l2.5 .3 6.2-.6-2.6-.3z" fill="#000000"/>
<path d="M112.7 92.6l1.6 1.2 6.3-5.1-1.7-1.1z" fill="#009250"/>
<path d="M201.6 46.8l2.2 .6 6.2-2.4-2.2-.6z" fill="#2b2800"/>
<path d="M291.6 31.7l2.6 .3 6.2 0-2.8-.2z" fill="#000000"/>
<path d="M133.2 79.4l1.7 1 6.3-4.4-1.8-1z" fill="#008a0a"/>
<path d="M222.5 40.6l2.3 .6 6.2-1.9-2.3-.5z" fill="#000000"/>
<path d="M312.5 32.6l2.8 .3 6.1 .6-2.8-.2z" fill="#000000"/>
<path d="M153.8 67.8l1.9 .9 6.3-3.9-2-.8z" fill="#2a7d00"/>
<path d="M243.4 36.1l2.5 .5 6.2-1.4-2.5-.4z" fill="#000000"/>
<path d="M174.5 57.8l2 .8 6.3-3.3-2-.7z" fill="#476800"/>
<path d="M264.4 33.2l2.6 .4 6.1-.8-2.5-.3z" fill="#000000"/>
<path d="M106.4 97.7l1.6 1.3 6.3-5.2-1.6-1.2z" fill="#00976c"/>
<path d="M195.4 49.4l2.1 .7 6.3-2.7-2.2-.6z" fill="#454700"/>
<path d="M285.4 31.9l2.7 .3 6.1-.2-2.6-.3z" fill="#000000"/>
<path d="M126.9 83.9l1.7 1.2 6.3-4.7-1.7-1z" fill="#009021"/>
<path d="M216.3 42.7l2.2 .6 6.3-2.1-2.3-.6z" fill="#0c0900"/>
<path d="M306.5 32.2l2.7 .3 6.1 .4-2.8-.3z" fill="#000000"/>
<path d="M147.5 71.8l1.9 1 6.3-4.1-1.9-.9z" fill="#1b8600"/>
<path d="M237.2 37.6l2.4 .5 6.3-1.5-2.5-.5z" fill="#000000"/>
<path d="M168.3 61.2l1.9 .9 6.3-3.5-2-.8z" fill="#437600"/>
<path d="M258.3 34.1l2.5 .5 6.2-1-2.6-.4z" fill="#000000"/>
<path d="M100.1 103.1l1.6 1.4 6.3-5.5-1.6-1.3z" fill="#009b8a"/>
<path d="M189.1 52.3l2.1 .8 6.3-3-2.1-.7z" fill="#515c00"/>
<path d="M279.3 32.2l2.6 .5 6.2-.5-2.7-.3z" fill="#000000"/>
<path d="M120.6 88.7l1.7 1.3 6.3-4.9-1.7-1.2z" fill="#00963a"/>
<path d="M210 45l2.3 .7 6.2-2.4-2.2-.6z" fill="#302a00"/>
<path d="M300.4 32l2.7 .4 6.1 .1-2.7-.3z" fill="#000000"/>
<path d="M141.2 76l1.9 1.1 6.3-4.3-1.9-1z" fill="#098d00"/>
<path d="M231 39.3l2.4 .6 6.2-1.8-2.4-.5z" fill="#000000"/>
<path d="M162 64.8l1.9 1 6.3-3.7-1.9-.9z" fill="#3a8000"/>
<path d="M252.1 35.2l2.4 .6 6.3-1.2-2.5-.5z" fill="#000000"/>
<path d="M182.8 55.3l2.1 .9 6.3-3.1-2.1-.8z" fill="#556c00"/>
<path d="M273.1 32.8l2.6 .5 6.2-.6-2.6-.5z" fill="#000000"/>
<path d="M114.3 93.8l1.7 1.3 6.3-5.1-1.7-1.3z" fill="#009a55"/>
<path d="M203.8 47.4l2.2 .8 6.3-2.5-2.3-.7z" fill="#4b4700"/>
<path d="M294.2 32l2.8 .5 6.1-.1-2.7-.4z" fill="#000000"/>
<path d="M134.9 80.4l1.8 1.2 6.4-4.5-1.9-1.1z" fill="#00930c"/>
<path d="M224.8 41.2l2.3 .7 6.3-2-2.4-.6z" fill="#110d00"/>
<path d="M315.3 32.9l2.9 .4 6.1 .5-2.9-.3z" fill="#000000"/>
<path d="M155.7 68.7l1.9 1.1 6.3-4-1.9-1z" fill="#2d8900"/>
<path d="M245.9 36.6l2.4 .6 6.2-1.4-2.4-.6z" fill="#000000"/>
<path d="M176.5 58.6l2.1 1 6.3-3.4-2.1-.9z" fill="#527900"/>
<path d="M267 33.6l2.5 .5 6.2-.8-2.6-.5z" fill="#000000"/>
<path d="M108 99l1.7 1.4 6.3-5.3-1.7-1.3z" fill="#009e73"/>
<path d="M197.5 50.1l2.2 .9 6.3-2.8-2.2-.8z" fill="#5d6000"/>
<path d="M288.1 32.2l2.7 .5 6.2-.2-2.8-.5z" fill="#000000"/>
<path d="M128.6 85.1l1.8 1.3 6.3-4.8-1.8-1.2z" fill="#009925"/>
<path d="M218.5 43.3l2.3 .8 6.3-2.2-2.3-.7z" fill="#352a00"/>
<path d="M309.2 32.5l2.8 .5 6.2 .3-2.9-.4z" fill="#000000"/>
<path d="M149.4 72.8l1.9 1.1 6.3-4.1-1.9-1.1z" fill="#1c9000"/>
<path d="M239.6 38.1l2.4 .7 6.3-1.6-2.4-.6z" fill="#000000"/>
<path d="M170.2 62.1l2.1 1.1 6.3-3.6-2.1-1z" fill="#4a8400"/>
<path d="M260.8 34.6l2.5 .6 6.2-1.1-2.5-.5z" fill="#000000"/>
<path d="M101.7 104.5l1.6 1.5 6.4-5.6-1.7-1.4z" fill="#00a193"/>
<path d="M191.2 53.1l2.1 .9 6.4-3-2.2-.9z" fill="#637000"/>
<path d="M281.9 32.7l2.7 .5 6.2-.5-2.7-.5z" fill="#000000"/>
<path d="M122.3 90l1.7 1.3 6.4-4.9-1.8-1.3z" fill="#009d3f"/>
<path d="M212.3 45.7l2.2 .8 6.3-2.4-2.3-.8z" fill="#504500"/>
<path d="M303.1 32.4l2.8 .5 6.1 .1-2.8-.5z" fill="#000000"/>
<path d="M143.1 77.1l1.8 1.2 6.4-4.4-1.9-1.1z" fill="#089700"/>
<path d="M233.4 39.9l2.4 .8 6.2-1.9-2.4-.7z" fill="#160f00"/>
<path d="M163.9 65.8l2 1.2 6.4-3.8-2.1-1.1z" fill="#3f8c00"/>
<path d="M254.5 35.8l2.5 .7 6.3-1.3-2.5-.6z" fill="#000000"/>
<path d="M184.9 56.2l2.1 1 6.3-3.2-2.1-.9z" fill="#617d00"/>
<path d="M275.7 33.3l2.7 .6 6.2-.7-2.7-.5z" fill="#000000"/>
<path d="M116 95.1l1.7 1.4 6.3-5.2-1.7-1.3z" fill="#00a15b"/>
<path d="M206 48.2l2.2 1 6.3-2.7-2.2-.8z" fill="#645e00"/>
<path d="M297 32.5l2.7 .5 6.2-.1-2.8-.5z" fill="#000000"/>
<path d="M136.7 81.6l1.8 1.3 6.4-4.6-1.8-1.2z" fill="#009c0f"/>
<path d="M227.1 41.9l2.4 .8 6.3-2-2.4-.8z" fill="#3a2a00"/>
<path d="M157.6 69.8l1.9 1.2 6.4-4-2-1.2z" fill="#2f9300"/>
<path d="M248.3 37.2l2.5 .8 6.2-1.5-2.5-.7z" fill="#000000"/>
<path d="M178.6 59.6l2 1.1 6.4-3.5-2.1-1z" fill="#5b8700"/>
<path d="M269.5 34.1l2.6 .7 6.3-.9-2.7-.6z" fill="#000000"/>
<path d="M109.7 100.4l1.6 1.6 6.4-5.5-1.7-1.4z" fill="#00a47a"/>
<path d="M199.7 51l2.2 1 6.3-2.8-2.2-1z" fill="#6f7400"/>
<path d="M290.8 32.7l2.7 .7 6.2-.4-2.7-.5z" fill="#000000"/>
<path d="M130.4 86.4l1.8 1.4 6.3-4.9-1.8-1.3z" fill="#00a028"/>
<path d="M220.8 44.1l2.3 .9 6.4-2.3-2.4-.8z" fill="#544300"/>
<path d="M151.3 73.9l1.9 1.3 6.3-4.2-1.9-1.2z" fill="#1c9900"/>
<path d="M242 38.8l2.5 .8 6.3-1.6-2.5-.8z" fill="#1b1100"/>
<path d="M172.3 63.2l2 1.1 6.3-3.6-2-1.1z" fill="#508f00"/>
<path d="M263.3 35.2l2.6 .7 6.2-1.1-2.6-.7z" fill="#000000"/>
<path d="M103.3 106l1.6 1.6 6.4-5.6-1.6-1.6z" fill="#00a79b"/>
<path d="M193.3 54l2.2 1.1 6.4-3.1-2.2-1z" fill="#6f8000"/>
<path d="M284.6 33.2l2.7 .7 6.2-.5-2.7-.7z" fill="#000000"/>
<path d="M124 91.3l1.8 1.5 6.4-5-1.8-1.4z" fill="#00a344"/>
<path d="M214.5 46.5l2.3 1 6.3-2.5-2.3-.9z" fill="#675a00"/>
<path d="M144.9 78.3l1.9 1.4 6.4-4.5-1.9-1.3z" fill="#069e00"/>
<path d="M235.8 40.7l2.4 .9 6.3-2-2.5-.8z" fill="#3d2900"/>
<path d="M165.9 67l2 1.2 6.4-3.9-2-1.1z" fill="#419600"/>
<path d="M257 36.5l2.6 .8 6.3-1.4-2.6-.7z" fill="#000000"/>
<path d="M187 57.2l2.1 1.2 6.4-3.3-2.2-1.1z" fill="#6a8a00"/>
<path d="M278.4 33.9l2.6 .8 6.3-.8-2.7-.7z" fill="#000000"/>
<path d="M117.7 96.5l1.7 1.6 6.4-5.3-1.8-1.5z" fill="#00a662"/>
<path d="M208.2 49.2l2.2 1 6.4-2.7-2.3-1z" fill="#777200"/>
<path d="M138.5 82.9l1.9 1.5 6.4-4.7-1.9-1.4z" fill="#00a212"/>
<path d="M229.5 42.7l2.3 1 6.4-2.1-2.4-.9z" fill="#574000"/>
<path d="M159.5 71l2 1.3 6.4-4.1-2-1.2z" fill="#2f9c00"/>
<path d="M250.8 38l2.5 .8 6.3-1.5-2.6-.8z" fill="#1e1200"/>
<path d="M180.6 60.7l2.1 1.2 6.4-3.5-2.1-1.2z" fill="#609200"/>
<path d="M272.1 34.8l2.6 .8 6.3-.9-2.6-.8z" fill="#000000"/>
<path d="M111.3 102l1.7 1.7 6.4-5.6-1.7-1.6z" fill="#00a981"/>
<path d="M201.9 52l2.2 1.1 6.3-2.9-2.2-1z" fill="#7d8300"/>
<path d="M132.2 87.8l1.8 1.5 6.4-4.9-1.9-1.5z" fill="#00a62d"/>
<path d="M223.1 45l2.4 1 6.3-2.3-2.3-1z" fill="#6a5600"/>
<path d="M153.2 75.2l1.9 1.5 6.4-4.4-2-1.3z" fill="#1aa100"/>
<path d="M244.5 39.6l2.4 1 6.4-1.8-2.5-.8z" fill="#402800"/>
<path d="M174.3 64.3l2 1.4 6.4-3.8-2.1-1.2z" fill="#539900"/>
<path d="M265.9 35.9l2.5 .9 6.3-1.2-2.6-.8z" fill="#000000"/>
<path d="M104.9 107.6l1.7 1.8 6.4-5.7-1.7-1.7z" fill="#00aba3"/>
<path d="M195.5 55.1l2.2 1.2 6.4-3.2-2.2-1.1z" fill="#798c00"/>
<path d="M125.8 92.8l1.8 1.7 6.4-5.2-1.8-1.5z" fill="#00a949"/>
<path d="M216.8 47.5l2.3 1.1 6.4-2.6-2.4-1z" fill="#796b00"/>
<path d="M146.8 79.7l1.9 1.5 6.4-4.5-1.9-1.5z" fill="#03a500"/>
<path d="M238.2 41.6l2.4 1 6.3-2-2.4-1z" fill="#5a3e00"/>
<path d="M167.9 68.2l2 1.4 6.4-3.9-2-1.4z" fill="#429e00"/>
<path d="M259.6 37.3l2.5 .9 6.3-1.4-2.5-.9z" fill="#211200"/>
<path d="M189.1 58.4l2.2 1.3 6.4-3.4-2.2-1.2z" fill="#709400"/>
<path d="M119.4 98.1l1.7 1.8 6.5-5.4-1.8-1.7z" fill="#00ab68"/>
<path d="M210.4 50.2l2.3 1.2 6.4-2.8-2.3-1.1z" fill="#858100"/>
<path d="M140.4 84.4l1.8 1.6 6.5-4.8-1.9-1.5z" fill="#00a816"/>
<path d="M231.8 43.7l2.4 1.1 6.4-2.2-2.4-1z" fill="#6d5200"/>
<path d="M161.5 72.3l2 1.5 6.4-4.2-2-1.4z" fill="#2ea300"/>
<path d="M253.3 38.8l2.5 1.1 6.3-1.7-2.5-.9z" fill="#432800"/>
<path d="M182.7 61.9l2.1 1.4 6.5-3.6-2.2-1.3z" fill="#639b00"/>
<path d="M113 103.7l1.7 1.8 6.4-5.6-1.7-1.8z" fill="#00ae89"/>
<path d="M204.1 53.1l2.2 1.3 6.4-3-2.3-1.2z" fill="#868f00"/>
<path d="M134 89.3l1.8 1.7 6.4-5-1.8-1.6z" fill="#00ab32"/>
<path d="M225.5 46l2.3 1.2 6.4-2.4-2.4-1.1z" fill="#7c6500"/>
<path d="M155.1 76.7l1.9 1.5 6.5-4.4-2-1.5z" fill="#18a700"/>
<path d="M246.9 40.6l2.5 1.1 6.4-1.8-2.5-1.1z" fill="#5c3b00"/>
<path d="M176.3 65.7l2.1 1.4 6.4-3.8-2.1-1.4z" fill="#54a000"/>
<path d="M106.6 109.4l1.6 1.9 6.5-5.8-1.7-1.8z" fill="#00afab"/>
<path d="M197.7 56.3l2.2 1.3 6.4-3.2-2.2-1.3z" fill="#7e9700"/>
<path d="M127.6 94.5l1.7 1.8 6.5-5.3-1.8-1.7z" fill="#00ad50"/>
<path d="M219.1 48.6l2.3 1.3 6.4-2.7-2.3-1.2z" fill="#887a00"/>
<path d="M148.7 81.2l1.9 1.7 6.4-4.7-1.9-1.5z" fill="#00aa01"/>
<path d="M240.6 42.6l2.4 1.1 6.4-2-2.5-1.1z" fill="#6f4e00"/>
<path d="M169.9 69.6l2.1 1.6 6.4-4.1-2.1-1.4z" fill="#41a500"/>
<path d="M191.3 59.7l2.1 1.4 6.5-3.5-2.2-1.3z" fill="#739d00"/>
<path d="M121.1 99.9l1.8 1.8 6.4-5.4-1.7-1.8z" fill="#00b070"/>
<path d="M212.7 51.4l2.3 1.3 6.4-2.8-2.3-1.3z" fill="#918f00"/>
<path d="M142.2 86l1.9 1.8 6.5-4.9-1.9-1.7z" fill="#00ad1c"/>
<path d="M234.2 44.8l2.4 1.2 6.4-2.3-2.4-1.1z" fill="#7e6000"/>
<path d="M163.5 73.8l2 1.6 6.5-4.2-2.1-1.6z" fill="#2ca900"/>
<path d="M184.8 63.3l2.2 1.5 6.4-3.7-2.1-1.4z" fill="#65a200"/>
<path d="M114.7 105.5l1.7 2 6.5-5.8-1.8-1.8z" fill="#00b191"/>
<path d="M206.3 54.4l2.3 1.4 6.4-3.1-2.3-1.3z" fill="#8d9900"/>
<path d="M135.8 91l1.8 1.9 6.5-5.1-1.9-1.8z" fill="#00af38"/>
<path d="M227.8 47.2l2.4 1.3 6.4-2.5-2.4-1.2z" fill="#8a7300"/>
<path d="M157 78.2l2 1.7 6.5-4.5-2-1.6z" fill="#14ac00"/>
<path d="M178.4 67.1l2.1 1.6 6.5-3.9-2.2-1.5z" fill="#53a700"/>
<path d="M108.2 111.3l1.7 2.1 6.5-5.9-1.7-2z" fill="#00b2b3"/>
<path d="M199.9 57.6l2.2 1.5 6.5-3.3-2.3-1.4z" fill="#829f00"/>
<path d="M129.3 96.3l1.8 1.9 6.5-5.3-1.8-1.9z" fill="#00b157"/>
<path d="M221.4 49.9l2.4 1.4 6.4-2.8-2.4-1.3z" fill="#938700"/>
<path d="M150.6 82.9l1.9 1.8 6.5-4.8-2-1.7z" fill="#00af05"/>
<path d="M172 71.2l2 1.6 6.5-4.1-2.1-1.6z" fill="#3faa00"/>
<path d="M193.4 61.1l2.2 1.6 6.5-3.6-2.2-1.5z" fill="#74a400"/>
<path d="M122.9 101.7l1.7 2.1 6.5-5.6-1.8-1.9z" fill="#00b377"/>
<path d="M215 52.7l2.3 1.5 6.5-2.9-2.4-1.4z" fill="#999a00"/>
<path d="M144.1 87.8l1.9 1.8 6.5-4.9-1.9-1.8z" fill="#00b121"/>
<path d="M165.5 75.4l2 1.8 6.5-4.4-2-1.6z" fill="#28ae00"/>
<path d="M187 64.8l2.1 1.6 6.5-3.7-2.2-1.6z" fill="#64a800"/>
<path d="M116.4 107.5l1.7 2.1 6.5-5.8-1.7-2.1z" fill="#00b59a"/>
<path d="M208.6 55.8l2.2 1.6 6.5-3.2-2.3-1.5z" fill="#8fa000"/>
<path d="M137.6 92.9l1.9 1.9 6.5-5.2-1.9-1.8z" fill="#00b33f"/>
<path d="M159 79.9l2 1.9 6.5-4.6-2-1.8z" fill="#0fb000"/>
<path d="M180.5 68.7l2.1 1.7 6.5-4-2.1-1.6z" fill="#51ac00"/>
<path d="M109.9 113.4l1.7 2.2 6.5-6-1.7-2.1z" fill="#00aeb6"/>
<path d="M202.1 59.1l2.2 1.7 6.5-3.4-2.2-1.6z" fill="#83a600"/>
<path d="M131.1 98.2l1.9 2.1 6.5-5.5-1.9-1.9z" fill="#00b55f"/>
<path d="M152.5 84.7l2 1.9 6.5-4.8-2-1.9z" fill="#00b30b"/>
<path d="M174 72.8l2.1 1.9 6.5-4.3-2.1-1.7z" fill="#3baf00"/>
<path d="M195.6 62.7l2.2 1.7 6.5-3.6-2.2-1.7z" fill="#74aa00"/>
<path d="M124.6 103.8l1.8 2.1 6.6-5.6-1.9-2.1z" fill="#00b681"/>
<path d="M146 89.6l1.9 2.1 6.6-5.1-2-1.9z" fill="#00b528"/>
<path d="M167.5 77.2l2.1 1.9 6.5-4.4-2.1-1.9z" fill="#24b200"/>
<path d="M189.1 66.4l2.2 1.8 6.5-3.8-2.2-1.7z" fill="#62ad00"/>
<path d="M118.1 109.6l1.8 2.2 6.5-5.9-1.8-2.1z" fill="#00b8a3"/>
<path d="M139.5 94.8l1.9 2.2 6.5-5.3-1.9-2.1z" fill="#00b647"/>
<path d="M161 81.8l2 2 6.6-4.7-2.1-1.9z" fill="#0ab400"/>
<path d="M182.6 70.4l2.2 1.9 6.5-4.1-2.2-1.8z" fill="#4eb100"/>
<path d="M111.6 115.6l1.7 2.4 6.6-6.2-1.8-2.2z" fill="#00a9b9"/>
<path d="M133 100.3l1.8 2.2 6.6-5.5-1.9-2.2z" fill="#00b868"/>
<path d="M154.5 86.6l1.9 2.1 6.6-4.9-2-2z" fill="#00b612"/>
<path d="M176.1 74.7l2.1 1.9 6.6-4.3-2.2-1.9z" fill="#37b300"/>
<path d="M126.4 105.9l1.8 2.4 6.6-5.8-1.8-2.2z" fill="#00b98a"/>
<path d="M147.9 91.7l2 2.2 6.5-5.2-1.9-2.1z" fill="#00b830"/>
<path d="M169.6 79.1l2 2.1 6.6-4.6-2.1-1.9z" fill="#1eb500"/>
<path d="M119.9 111.8l1.7 2.5 6.6-6-1.8-2.4z" fill="#00baae"/>
<path d="M141.4 97l1.9 2.3 6.6-5.4-2-2.2z" fill="#00b950"/>
<path d="M163 83.8l2 2.2 6.6-4.8-2-2.1z" fill="#03b700"/>
<path d="M113.3 118l1.7 2.5 6.6-6.2-1.7-2.5z" fill="#00a3bb"/>
<path d="M134.8 102.5l1.9 2.4 6.6-5.6-1.9-2.3z" fill="#00ba71"/>
<path d="M156.4 88.7l2 2.3 6.6-5-2-2.2z" fill="#00b91a"/>
<path d="M128.2 108.3l1.9 2.4 6.6-5.8-1.9-2.4z" fill="#00bc94"/>
<path d="M149.9 93.9l1.9 2.3 6.6-5.2-2-2.3z" fill="#00ba38"/>
<path d="M121.6 114.3l1.8 2.5 6.7-6.1-1.9-2.4z" fill="#00bcb9"/>
<path d="M143.3 99.3l1.9 2.4 6.6-5.5-1.9-2.3z" fill="#00bc59"/>
<path d="M115 120.5l1.8 2.7 6.6-6.4-1.8-2.5z" fill="#009cbd"/>
<path d="M136.7 104.9l1.8 2.5 6.7-5.7-1.9-2.4z" fill="#00bd7b"/>
<path d="M130.1 110.7l1.8 2.7 6.6-6-1.8-2.5z" fill="#00be9f"/>
<path d="M123.4 116.8l1.8 2.8 6.7-6.2-1.8-2.7z" fill="#00b9bf"/>
<path d="M116.8 123.2l1.8 2.8 6.6-6.4-1.8-2.8z" fill="#0093bf"/>
</g>
<path d="M188.6 31.8V44" stroke="#a33" stroke-width="0.6"/>
<ellipse cx="71.2" cy="101.2" rx="2.8" ry="2" fill="#e8000a"/>
<ellipse cx="117" cy="124.6" rx="2.8" ry="2" fill="#e8000a"/>
<ellipse cx="245.8" cy="78.8" rx="2.8" ry="2" fill="#ffc0c0" stroke="#888" stroke-width="0.5"/>
<ellipse cx="324.6" cy="37.4" rx="2.8" ry="2" fill="#ffc0c0" stroke="#888" stroke-width="0.5"/>
<ellipse cx="188.6" cy="31.8" rx="2.8" ry="2" fill="#e8000a"/>
<ellipse cx="188.6" cy="40.2" rx="2.8" ry="2" fill="#e8000a"/>
<text x="63.5" y="21.5" font-family="Liberation Sans" font-size="7" text-anchor="middle" fill="#111" font-weight="bold" stroke="#111" stroke-width="0.25">7</text>
<text x="63.5" y="36.8" font-family="Liberation Sans" font-size="7" text-anchor="middle" fill="#111" font-weight="bold" stroke="#111" stroke-width="0.25">6</text>
<text x="63.5" y="51.3" font-family="Liberation Sans" font-size="7" text-anchor="middle" fill="#111" font-weight="bold" stroke="#111" stroke-width="0.25">5</text>
<text x="63.5" y="66.1" font-family="Liberation Sans" font-size="7" text-anchor="middle" fill="#111" font-weight="bold" stroke="#111" stroke-width="0.25">4</text>
<text x="63.5" y="80.5" font-family="Liberation Sans" font-size="7" text-anchor="middle" fill="#111" font-weight="bold" stroke="#111" stroke-width="0.25">3</text>
<text x="63.5" y="95.3" font-family="Liberation Sans" font-size="7" text-anchor="middle" fill="#111" font-weight="bold" stroke="#111" stroke-width="0.25">2</text>
<text x="63.5" y="110.5" font-family="Liberation Sans" font-size="7" text-anchor="middle" fill="#111" font-weight="bold" stroke="#111" stroke-width="0.25">1</text>
<text x="62.3" y="150.8" font-family="Liberation Sans" font-size="6.5" text-anchor="middle" fill="#111" font-weight="bold" stroke="#111" stroke-width="0.25">-1.00</text>
<text x="73.7" y="161.2" font-family="Liberation Sans" font-size="6.5" text-anchor="middle" fill="#111" font-weight="bold" stroke="#111" stroke-width="0.25">-0.50</text>
<text x="85.7" y="171.3" font-family="Liberation Sans" font-size="6.5" text-anchor="middle" fill="#111" font-weight="bold" stroke="#111" stroke-width="0.25">0.00</text>
<text x="96.6" y="182" font-family="Liberation Sans" font-size="6.5" text-anchor="middle" fill="#111" font-weight="bold" stroke="#111" stroke-width="0.25">0.50</text>
<text x="108.6" y="192.3" font-family="Liberation Sans" font-size="6.5" text-anchor="middle" fill="#111" font-weight="bold" stroke="#111" stroke-width="0.25">1.00</text>
<text x="129.7" y="192.3" font-family="Liberation Sans" font-size="6.5" text-anchor="middle" fill="#111" font-weight="bold" stroke="#111" stroke-width="0.25">-1.00</text>
<text x="178.9" y="188.9" font-family="Liberation Sans" font-size="6.5" text-anchor="middle" fill="#111" font-weight="bold" stroke="#111" stroke-width="0.25">-0.50</text>
<text x="228.5" y="185.1" font-family="Liberation Sans" font-size="6.5" text-anchor="middle" fill="#111" font-weight="bold" stroke="#111" stroke-width="0.25">0.00</text>
<text x="278.8" y="181.3" font-family="Liberation Sans" font-size="6.5" text-anchor="middle" fill="#111" font-weight="bold" stroke="#111" stroke-width="0.25">0.50</text>
<text x="329.7" y="177" font-family="Liberation Sans" font-size="6.5" text-anchor="middle" fill="#111" font-weight="bold" stroke="#111" stroke-width="0.25">1.00</text>
<text x="37" y="9.9" font-family="Liberation Serif" font-size="15.5" text-anchor="start" fill="#000">a</text>
<text x="44" y="120.8" font-family="Liberation Serif" font-size="12.3" text-anchor="start" fill="#000" textLength="80" lengthAdjust="spacingAndGlyphs" transform="rotate(-90 44 120.8)">Pectin yield (%)</text>
<text x="17.8" y="185.6" font-family="Liberation Serif" font-size="14" text-anchor="start" fill="#000" textLength="66" lengthAdjust="spacingAndGlyphs">A: Time (h)</text>
<text x="152" y="206.4" font-family="Liberation Serif" font-size="13" text-anchor="start" fill="#000" textLength="143" lengthAdjust="spacingAndGlyphs">B: Liquid-solid ratio (ml/g)</text>
<path d="M53.5 397.4L64.8 397M71.1 396.7L138.1 393.9M143.6 393.7L251 389.2M251 389.2L278.8 399.4M280.6 400.1L285 401.7M287.8 402.7L333.6 419.5M52.9 382.8L107.1 380.8M119.3 380.3L251.1 375.3M251.1 375.3L264.4 379.8M266.1 380.4L292 389.2M295.2 390.3L334 403.4M52.4 368.2L146.7 365M154.7 364.7L213.3 362.7M216.8 362.6L251.1 361.4M251.1 361.4L259 363.9M261.4 364.6L292.4 374.3M293.9 374.7L334.4 387.3M51.8 353.5L82.4 352.6M86.8 352.5L167 350M170.7 349.9L251.2 347.5M251.2 347.5L270.7 353M273.2 353.7L280.8 355.9M282.6 356.4L334.9 371.3M51.3 338.9L145.2 336.4M151.2 336.2L173.9 335.6M179.2 335.5L251.2 333.6M251.2 333.6L298.5 345.7M300.1 346.2L313.9 349.7M317 350.5L335.3 355.2M50.7 324.3L146.8 322M155.2 321.9L232.3 320.1M237.4 320L251.3 319.6M251.3 319.6L286.8 327.8M289.2 328.4L297 330.2M300.2 330.9L335.7 339.1M50.2 309.6L154 307.6M160.3 307.5L231.2 306.1M234.7 306L251.3 305.7M251.3 305.7L282.4 312.1M284.7 312.5L319.8 319.7M321.1 320L336.1 323.1M49.6 295L67.4 294.7M76.4 294.6L100.1 294.2M109 294.1L251.4 291.8M251.4 291.8L300.1 300.5M303.4 301.1L316.1 303.4M317.8 303.7L336.5 307M54.7 430.5L49.6 295M102.8 395.4L102 364.9M101.9 362.3L101.4 343.4M101.4 341.8L100.1 294.2M152.2 393.3L151.5 350.1M151.4 347.1L150.6 301.1M150.6 298.7L150.5 293.4M201.6 391.3L201.5 365.3M201.4 361.3L201.4 353.8M201.3 350.2L201 292.6M250.9 420.7L251.4 291.8M271.7 396.8L271.7 392.5M271.8 388.6L272.1 358.4M272.1 356L272.7 295.6M292.3 404.4L292.4 398.5M292.5 394.9L293.2 345.5M293.3 342.7L293.9 299.4M313 411.9L313.9 367.3M314 364.5L314.1 359.6M314.1 356.1L315.2 303.2M332.7 455.8L336.5 307" stroke="#2a2a2a" stroke-width="0.65" fill="none"/>
<path d="M53.5 397.4L49.6 295" stroke="#111" stroke-width="1.1"/>
<path d="M54.7 430.5L106 471.6L332.7 455.8L250.9 420.7z" fill="#ffff00" stroke="#555" stroke-width="0.5"/>
<path d="M62.4 431.2L66.1 430.2" fill="none" stroke="#00ffe1" stroke-width="0.8" stroke-opacity="0.8" stroke-dasharray="14 3"/>
<path d="M58.9 432.3L62.4 431.2" fill="none" stroke="#00ffe1" stroke-width="0.8" stroke-opacity="0.8" stroke-dasharray="14 3"/>
<path d="M94.8 434.2L98.1 433.2L101.6 432.3L105.5 431.4L109.6 430.6L114 429.8L118.7 429L123.6 428.3L128.8 427.6L134.3 426.9L139.9 426.3" fill="none" stroke="#00ff4b" stroke-width="0.8" stroke-opacity="0.8" stroke-dasharray="14 3"/>
<path d="M224.6 422.3L232.9 422.2L241.3 422.1L249.9 422.1" fill="none" stroke="#00ff4b" stroke-width="0.8" stroke-opacity="0.8" stroke-dasharray="14 3"/>
<path d="M125.2 469L119.4 467.4L113.9 465.8L108.9 464.1L104.3 462.5L100 460.9L96.2 459.3L92.8 457.7L89.8 456.2L87.1 454.7L84.9 453.2L83.1 451.7L81.6 450.2L80.5 448.8L79.8 447.4L79.4 446L79.4 444.7L79.8 443.4L80.5 442.1L81.6 440.9L83 439.7L84.7 438.5L86.8 437.4L89.1 436.3L91.8 435.2L94.8 434.2" fill="none" stroke="#00ff4b" stroke-width="0.8" stroke-opacity="0.8" stroke-dasharray="14 3"/>
<path d="M132.7 437.6L135.5 436.8L138.5 436L141.7 435.2L145.2 434.4L149 433.7L152.9 433L157.2 432.4L161.6 431.7L166.3 431.2L171.2 430.6L176.3 430.1L181.6 429.6L187.1 429.2L192.9 428.8L198.8 428.4L204.9 428.1L211.1 427.8L217.6 427.5L224.2 427.3L231 427.1L237.9 427L245 426.8L252.3 426.8L259.7 426.7" fill="none" stroke="#4bff00" stroke-width="0.8" stroke-opacity="0.8" stroke-dasharray="14 3"/>
<path d="M158.4 466.2L153.5 464.8L149 463.5L144.8 462.1L141 460.7L137.5 459.4L134.3 458L131.5 456.7L129 455.4L126.9 454.1L125.1 452.8L123.6 451.6L122.4 450.3L121.6 449.1L121.1 447.9L120.9 446.8L121 445.6L121.5 444.5L122.2 443.5L123.3 442.4L124.6 441.4L126.2 440.4L128.1 439.5L130.3 438.5L132.7 437.6" fill="none" stroke="#4bff00" stroke-width="0.8" stroke-opacity="0.8" stroke-dasharray="14 3"/>
<path d="M179.7 441.7L181.7 441L184.1 440.3L186.6 439.7L189.4 439L192.3 438.4L195.5 437.9L198.9 437.3L202.4 436.8L206.2 436.3L210.2 435.8L214.3 435.4L218.6 435L223.1 434.6L227.8 434.3L232.6 433.9L237.6 433.7L242.7 433.4L248 433.2L253.5 433L259.1 432.8L264.8 432.6L270.6 432.5L276.6 432.4" fill="none" stroke="#e1ff00" stroke-width="0.8" stroke-opacity="0.8" stroke-dasharray="14 3"/>
<path d="M200.6 463.7L196.8 462.6L193.2 461.5L189.9 460.4L186.9 459.4L184.1 458.3L181.7 457.2L179.4 456.2L177.5 455.2L175.8 454.1L174.4 453.1L173.3 452.1L172.4 451.2L171.8 450.2L171.5 449.3L171.4 448.3L171.6 447.4L172 446.5L172.7 445.7L173.6 444.8L174.7 444L176.1 443.2L177.8 442.5L179.7 441.7" fill="none" stroke="#e1ff00" stroke-width="0.8" stroke-opacity="0.8" stroke-dasharray="14 3"/>
<path d="M54.7 430.5L106 471.6L332.7 455.8" fill="none" stroke="#222" stroke-width="0.7"/>
<circle cx="54.7" cy="430.5" r="0.9" fill="#111"/>
<circle cx="106" cy="471.6" r="0.9" fill="#111"/>
<circle cx="66.1" cy="439.7" r="0.9" fill="#111"/>
<circle cx="165.2" cy="467.5" r="0.9" fill="#111"/>
<circle cx="78.4" cy="449.5" r="0.9" fill="#111"/>
<circle cx="222.6" cy="463.5" r="0.9" fill="#111"/>
<circle cx="91.7" cy="460.1" r="0.9" fill="#111"/>
<circle cx="278.4" cy="459.6" r="0.9" fill="#111"/>
<circle cx="106" cy="471.6" r="0.9" fill="#111"/>
<circle cx="332.7" cy="455.8" r="0.9" fill="#111"/>
<g filter="url(#nz)" stroke="#000" stroke-opacity="0.55" stroke-width="0.3" stroke-linejoin="round">
<path d="M245.2 351.5l2.3-2.6 6 .8-2.3 2.7z" fill="#00ab46"/>
<path d="M239.3 350.7l2.2-2.6 6 .8-2.3 2.6z" fill="#00a93e"/>
<path d="M233.3 350l2.2-2.6 6 .7-2.2 2.6z" fill="#00a736"/>
<path d="M247.5 348.9l2.3-2.6 6 .8-2.3 2.6z" fill="#00a92e"/>
<path d="M227.3 349.3l2.2-2.5 6 .6-2.2 2.6z" fill="#00a430"/>
<path d="M241.5 348.1l2.3-2.5 6 .7-2.3 2.6z" fill="#00a626"/>
<path d="M221.3 348.8l2.2-2.5 6 .5-2.2 2.5z" fill="#00a22a"/>
<path d="M235.5 347.4l2.3-2.5 6 .7-2.3 2.5z" fill="#00a41f"/>
<path d="M215.3 348.4l2.1-2.5 6.1 .4-2.2 2.5z" fill="#009f25"/>
<path d="M249.8 346.3l2.3-2.5 6 .8-2.3 2.5z" fill="#00a617"/>
<path d="M229.5 346.8l2.2-2.4 6.1 .5-2.3 2.5z" fill="#00a11a"/>
<path d="M209.2 348l2.1-2.3 6.1 .2-2.1 2.5z" fill="#009b21"/>
<path d="M243.8 345.6l2.3-2.5 6 .7-2.3 2.5z" fill="#00a310"/>
<path d="M223.5 346.3l2.1-2.3 6.1 .4-2.2 2.4z" fill="#009e14"/>
<path d="M203.2 347.8l2-2.3 6.1 .2-2.1 2.3z" fill="#00971d"/>
<path d="M237.8 344.9l2.2-2.3 6.1 .5-2.3 2.5z" fill="#00a00a"/>
<path d="M217.4 345.9l2.2-2.3 6 .4-2.1 2.3z" fill="#009a10"/>
<path d="M197.1 347.6l2-2.3 6.1 .2-2 2.3z" fill="#00931a"/>
<path d="M252.1 343.8l2.3-2.4 6.1 .8-2.4 2.4z" fill="#00a201"/>
<path d="M231.7 344.4l2.2-2.3 6.1 .5-2.2 2.3z" fill="#009d05"/>
<path d="M211.3 345.7l2.1-2.3 6.2 .2-2.2 2.3z" fill="#00960d"/>
<path d="M191 347.6l2-2.3 6.1 0-2 2.3z" fill="#008f18"/>
<path d="M246.1 343.1l2.3-2.3 6 .6-2.3 2.4z" fill="#049f00"/>
<path d="M225.6 344l2.2-2.3 6.1 .4-2.2 2.3z" fill="#009901"/>
<path d="M205.2 345.5l2.1-2.3 6.1 .2-2.1 2.3z" fill="#00920a"/>
<path d="M184.9 347.6l1.9-2.2 6.2-.1-2 2.3z" fill="#008a16"/>
<path d="M240 342.6l2.3-2.4 6.1 .6-2.3 2.3z" fill="#0a9c00"/>
<path d="M219.6 343.6l2.1-2.2 6.1 .3-2.2 2.3z" fill="#029500"/>
<path d="M199.1 345.3l2.1-2.1 6.1 0-2.1 2.3z" fill="#008d08"/>
<path d="M254.4 341.4l2.4-2.3 6 .7-2.3 2.4z" fill="#139f00"/>
<path d="M178.7 347.8l2-2.2 6.1-.2-1.9 2.2z" fill="#008415"/>
<path d="M233.9 342.1l2.3-2.3 6.1 .4-2.3 2.4z" fill="#0e9800"/>
<path d="M213.4 343.4l2.2-2.2 6.1 .2-2.1 2.2z" fill="#059100"/>
<path d="M193 345.3l2-2.1 6.2 0-2.1 2.1z" fill="#008806"/>
<path d="M248.4 340.8l2.3-2.3 6.1 .6-2.4 2.3z" fill="#189b00"/>
<path d="M172.6 348l1.9-2.1 6.2-.3-2 2.2z" fill="#007e14"/>
<path d="M227.8 341.7l2.3-2.3 6.1 .4-2.3 2.3z" fill="#119400"/>
<path d="M207.3 343.2l2.1-2.1 6.2 .1-2.2 2.2z" fill="#078c00"/>
<path d="M186.8 345.4l2-2.1 6.2-.1-2 2.1z" fill="#008206"/>
<path d="M242.3 340.2l2.3-2.2 6.1 .5-2.3 2.3z" fill="#1b9700"/>
<path d="M166.4 348.3l1.9-2 6.2-.4-1.9 2.1z" fill="#007714"/>
<path d="M221.7 341.4l2.2-2.2 6.2 .2-2.3 2.3z" fill="#148f00"/>
<path d="M201.2 343.2l2.1-2.2 6.1 .1-2.1 2.1z" fill="#088600"/>
<path d="M256.8 339.1l2.3-2.2 6.1 .6-2.4 2.3z" fill="#249a00"/>
<path d="M180.7 345.6l1.9-2 6.2-.3-2 2.1z" fill="#007c05"/>
<path d="M236.2 339.8l2.2-2.2 6.2 .4-2.3 2.2z" fill="#1f9300"/>
<path d="M160.2 348.8l1.8-2 6.3-.5-1.9 2z" fill="#006f13"/>
<path d="M215.6 341.2l2.1-2.2 6.2 .2-2.2 2.2z" fill="#158a00"/>
<path d="M195 343.2l2.1-2.1 6.2-.1-2.1 2.2z" fill="#098000"/>
<path d="M250.7 338.5l2.3-2.2 6.1 .6-2.3 2.2z" fill="#299600"/>
<path d="M174.5 345.9l1.9-2 6.2-.3-1.9 2z" fill="#007405"/>
<path d="M230.1 339.4l2.2-2.1 6.1 .3-2.2 2.2z" fill="#218e00"/>
<path d="M154 349.3l1.8-1.9 6.2-.6-1.8 2z" fill="#006613"/>
<path d="M209.4 341.1l2.2-2.1 6.1 0-2.1 2.2z" fill="#168500"/>
<path d="M188.8 343.3l2.1-2 6.2-.2-2.1 2.1z" fill="#097900"/>
<path d="M244.6 338l2.3-2.1 6.1 .4-2.3 2.2z" fill="#2b9200"/>
<path d="M168.3 346.3l1.9-1.9 6.2-.5-1.9 2z" fill="#006c06"/>
<path d="M223.9 339.2l2.2-2.1 6.2 .2-2.2 2.1z" fill="#228900"/>
<path d="M147.7 350l1.8-1.9 6.3-.7-1.8 1.9z" fill="#005c13"/>
<path d="M203.3 341l2.1-2 6.2 0-2.2 2.1z" fill="#167e00"/>
<path d="M259.1 336.9l2.4-2.2 6.2 .6-2.5 2.2z" fill="#359500"/>
<path d="M182.6 343.6l2-2 6.3-.3-2.1 2z" fill="#087200"/>
<path d="M238.4 337.6l2.3-2.1 6.2 .4-2.3 2.1z" fill="#2e8d00"/>
<path d="M162 346.8l1.9-1.9 6.3-.5-1.9 1.9z" fill="#006306"/>
<path d="M217.7 339l2.2-2 6.2 .1-2.2 2.1z" fill="#238300"/>
<path d="M141.5 350.7l1.8-1.8 6.2-.8-1.8 1.9z" fill="#005012"/>
<path d="M197.1 341.1l2-1.9 6.3-.2-2.1 2z" fill="#157700"/>
<path d="M253 336.3l2.4-2.1 6.1 .5-2.4 2.2z" fill="#379000"/>
<path d="M176.4 343.9l2-1.9 6.2-.4-2 2z" fill="#076900"/>
<path d="M232.3 337.3l2.3-2 6.1 .2-2.3 2.1z" fill="#2f8700"/>
<path d="M155.8 347.4l1.9-1.9 6.2-.6-1.9 1.9z" fill="#005807"/>
<path d="M211.6 339l2.1-2 6.2 0-2.2 2z" fill="#227c00"/>
<path d="M135.2 351.5l1.8-1.7 6.3-.9-1.8 1.8z" fill="#004311"/>
<path d="M190.9 341.3l2-1.9 6.2-.2-2 1.9z" fill="#146f00"/>
<path d="M246.9 335.9l2.3-2.1 6.2 .4-2.4 2.1z" fill="#398b00"/>
<path d="M170.2 344.4l1.9-1.9 6.3-.5-2 1.9z" fill="#055f00"/>
<path d="M226.1 337.1l2.3-2 6.2 .2-2.3 2z" fill="#2e8100"/>
<path d="M149.5 348.1l1.9-1.8 6.3-.8-1.9 1.9z" fill="#004b07"/>
<path d="M205.4 339l2.1-1.9 6.2-.1-2.1 2z" fill="#217400"/>
<path d="M128.9 352.5l1.8-1.7 6.3-1-1.8 1.7z" fill="#00330e"/>
<path d="M261.5 334.7l2.5-2 6.1 .5-2.4 2.1z" fill="#438f00"/>
<path d="M184.6 341.6l2-1.9 6.3-.3-2 1.9z" fill="#126500"/>
<path d="M240.7 335.5l2.3-2 6.2 .3-2.3 2.1z" fill="#3a8500"/>
<path d="M163.9 344.9l1.9-1.8 6.3-.6-1.9 1.9z" fill="#035300"/>
<path d="M219.9 337l2.2-1.9 6.3 0-2.3 2z" fill="#2d7a00"/>
<path d="M143.3 348.9l1.8-1.8 6.3-.8-1.9 1.8z" fill="#003d07"/>
<path d="M199.1 339.2l2.1-1.9 6.3-.2-2.1 1.9z" fill="#1f6c00"/>
<path d="M122.7 353.5l1.6-1.6 6.4-1.1-1.8 1.7z" fill="#00210a"/>
<path d="M255.4 334.2l2.4-2 6.2 .5-2.5 2z" fill="#448900"/>
<path d="M178.4 342l2-1.8 6.2-.5-2 1.9z" fill="#0f5b00"/>
<path d="M234.6 335.3l2.2-2 6.2 .2-2.3 2z" fill="#397f00"/>
<path d="M157.7 345.5l1.8-1.7 6.3-.7-1.9 1.8z" fill="#024600"/>
<path d="M213.7 337l2.2-1.9 6.2 0-2.2 1.9z" fill="#2c7200"/>
<path d="M137 349.8l1.7-1.7 6.4-1-1.8 1.8z" fill="#002c07"/>
<path d="M192.9 339.4l2.1-1.8 6.2-.3-2.1 1.9z" fill="#1c6200"/>
<path d="M116.3 354.7l1.7-1.6 6.3-1.2-1.6 1.6z" fill="#000b04"/>
<path d="M249.2 333.8l2.4-1.9 6.2 .3-2.4 2z" fill="#448300"/>
<path d="M172.1 342.5l2-1.8 6.3-.5-2 1.8z" fill="#0c4e00"/>
<path d="M228.4 335.1l2.2-1.9 6.2 .1-2.2 2z" fill="#387700"/>
<path d="M151.4 346.3l1.8-1.7 6.3-.8-1.8 1.7z" fill="#003600"/>
<path d="M207.5 337.1l2.1-1.9 6.3-.1-2.2 1.9z" fill="#296800"/>
<path d="M130.7 350.8l1.7-1.7 6.3-1-1.7 1.7z" fill="#001804"/>
<path d="M264 332.7l2.4-2 6.2 .5-2.5 2z" fill="#4e8800"/>
<path d="M186.6 339.7l2.1-1.7 6.3-.4-2.1 1.8z" fill="#185600"/>
<path d="M110 355.9l1.6-1.5 6.4-1.3-1.7 1.6z" fill="#000000"/>
<path d="M243 333.5l2.4-1.9 6.2 .3-2.4 1.9z" fill="#437d00"/>
<path d="M165.8 343.1l2-1.7 6.3-.7-2 1.8z" fill="#094000"/>
<path d="M222.1 335.1l2.3-1.9 6.2 0-2.2 1.9z" fill="#356f00"/>
<path d="M145.1 347.1l1.8-1.6 6.3-.9-1.8 1.7z" fill="#002401"/>
<path d="M201.2 337.3l2.2-1.8 6.2-.3-2.1 1.9z" fill="#245e00"/>
<path d="M124.3 351.9l1.7-1.6 6.4-1.2-1.7 1.7z" fill="#000000"/>
<path d="M257.8 332.2l2.4-1.9 6.2 .4-2.4 2z" fill="#4e8200"/>
<path d="M180.4 340.2l2-1.7 6.3-.5-2.1 1.7z" fill="#144900"/>
<path d="M103.7 357.3l1.6-1.5 6.3-1.4-1.6 1.5z" fill="#000000"/>
<path d="M236.8 333.3l2.3-1.9 6.3 .2-2.4 1.9z" fill="#417500"/>
<path d="M159.5 343.8l1.9-1.7 6.4-.7-2 1.7z" fill="#062f00"/>
<path d="M215.9 335.1l2.2-1.8 6.3-.1-2.3 1.9z" fill="#316500"/>
<path d="M138.7 348.1l1.8-1.6 6.4-1-1.8 1.6z" fill="#000e01"/>
<path d="M195 337.6l2.1-1.8 6.3-.3-2.2 1.8z" fill="#1f5200"/>
<path d="M118 353.1l1.7-1.6 6.3-1.2-1.7 1.6z" fill="#000000"/>
<path d="M251.6 331.9l2.4-1.9 6.2 .3-2.4 1.9z" fill="#4c7a00"/>
<path d="M174.1 340.7l2-1.7 6.3-.5-2 1.7z" fill="#0f3a00"/>
<path d="M97.3 358.8l1.6-1.5 6.4-1.5-1.6 1.5z" fill="#000000"/>
<path d="M230.6 333.2l2.3-1.8 6.2 0-2.3 1.9z" fill="#3d6c00"/>
<path d="M153.2 344.6l1.9-1.6 6.3-.9-1.9 1.7z" fill="#031b00"/>
<path d="M209.6 335.2l2.2-1.7 6.3-.2-2.2 1.8z" fill="#2c5a00"/>
<path d="M132.4 349.1l1.8-1.5 6.3-1.1-1.8 1.6z" fill="#000000"/>
<path d="M266.4 330.7l2.5-1.9 6.2 .5-2.5 1.9z" fill="#578000"/>
<path d="M188.7 338l2-1.7 6.4-.5-2.1 1.8z" fill="#194400"/>
<path d="M111.6 354.4l1.7-1.5 6.4-1.4-1.7 1.6z" fill="#000000"/>
<path d="M245.4 331.6l2.3-1.8 6.3 .2-2.4 1.9z" fill="#497200"/>
<path d="M167.8 341.4l1.9-1.7 6.4-.7-2 1.7z" fill="#092800"/>
<path d="M91 360.3l1.5-1.4 6.4-1.6-1.6 1.5z" fill="#000000"/>
<path d="M224.4 333.2l2.2-1.8 6.3 0-2.3 1.8z" fill="#386200"/>
<path d="M146.9 345.5l1.8-1.6 6.4-.9-1.9 1.6z" fill="#000400"/>
<path d="M203.4 335.5l2.1-1.7 6.3-.3-2.2 1.7z" fill="#254d00"/>
<path d="M126 350.3l1.8-1.5 6.4-1.2-1.8 1.5z" fill="#000000"/>
<path d="M260.2 330.3l2.5-1.8 6.2 .3-2.5 1.9z" fill="#547800"/>
<path d="M182.4 338.5l2-1.7 6.3-.5-2 1.7z" fill="#133300"/>
<path d="M105.3 355.8l1.6-1.4 6.4-1.5-1.7 1.5z" fill="#000000"/>
<path d="M239.1 331.4l2.4-1.7 6.2 .1-2.3 1.8z" fill="#456900"/>
<path d="M161.4 342.1l1.9-1.6 6.4-.8-1.9 1.7z" fill="#041200"/>
<path d="M84.6 362l1.5-1.4 6.4-1.7-1.5 1.4z" fill="#000000"/>
<path d="M218.1 333.3l2.2-1.7 6.3-.2-2.2 1.8z" fill="#325600"/>
<path d="M140.5 346.5l1.8-1.5 6.4-1.1-1.8 1.6z" fill="#000000"/>
<path d="M197.1 335.8l2.1-1.6 6.3-.4-2.1 1.7z" fill="#1e3e00"/>
<path d="M119.7 351.5l1.7-1.4 6.4-1.3-1.8 1.5z" fill="#000000"/>
<path d="M254 330l2.4-1.8 6.3 .3-2.5 1.8z" fill="#506f00"/>
<path d="M176.1 339l2-1.5 6.3-.7-2 1.7z" fill="#0b2000"/>
<path d="M98.9 357.3l1.6-1.4 6.4-1.5-1.6 1.4z" fill="#000000"/>
<path d="M232.9 331.4l2.3-1.7 6.3 0-2.4 1.7z" fill="#3f5e00"/>
<path d="M155.1 343l1.9-1.6 6.3-.9-1.9 1.6z" fill="#000000"/>
<path d="M78.2 363.8l1.5-1.3 6.4-1.9-1.5 1.4z" fill="#000000"/>
<path d="M211.8 333.5l2.2-1.7 6.3-.2-2.2 1.7z" fill="#2a4800"/>
<path d="M134.2 347.6l1.7-1.5 6.4-1.1-1.8 1.5z" fill="#000000"/>
<path d="M268.9 328.8l2.5-1.8 6.2 .4-2.5 1.9z" fill="#5b7600"/>
<path d="M190.7 336.3l2.1-1.6 6.4-.5-2.1 1.6z" fill="#152c00"/>
<path d="M113.3 352.9l1.7-1.4 6.4-1.4-1.7 1.4z" fill="#000000"/>
<path d="M247.7 329.8l2.4-1.8 6.3 .2-2.4 1.8z" fill="#4b6600"/>
<path d="M169.7 339.7l2-1.5 6.4-.7-2 1.5z" fill="#030800"/>
<path d="M92.5 358.9l1.6-1.3 6.4-1.7-1.6 1.4z" fill="#000000"/>
<path d="M226.6 331.4l2.3-1.7 6.3 0-2.3 1.7z" fill="#375100"/>
<path d="M148.7 343.9l1.9-1.4 6.4-1.1-1.9 1.6z" fill="#000000"/>
<path d="M71.8 365.6l1.4-1.2 6.5-1.9-1.5 1.3z" fill="#000000"/>
<path d="M205.5 333.8l2.2-1.7 6.3-.3-2.2 1.7z" fill="#203800"/>
<path d="M127.8 348.8l1.7-1.4 6.4-1.3-1.7 1.5z" fill="#000000"/>
<path d="M262.7 328.5l2.4-1.8 6.3 .3-2.5 1.8z" fill="#576d00"/>
<path d="M184.4 336.8l2.1-1.5 6.3-.6-2.1 1.6z" fill="#0b1700"/>
<path d="M106.9 354.4l1.6-1.3 6.5-1.6-1.7 1.4z" fill="#000000"/>
<path d="M241.5 329.7l2.3-1.7 6.3 0-2.4 1.8z" fill="#445a00"/>
<path d="M163.3 340.5l2-1.4 6.4-.9-2 1.5z" fill="#000000"/>
<path d="M86.1 360.6l1.5-1.2 6.5-1.8-1.6 1.3z" fill="#000000"/>
<path d="M220.3 331.6l2.3-1.7 6.3-.2-2.3 1.7z" fill="#2d4300"/>
<path d="M142.3 345l1.9-1.4 6.4-1.1-1.9 1.4z" fill="#000000"/>
<path d="M65.4 367.6l1.4-1.1 6.4-2.1-1.4 1.2z" fill="#000000"/>
<path d="M199.2 334.2l2.1-1.6 6.4-.5-2.2 1.7z" fill="#152500"/>
<path d="M121.4 350.1l1.7-1.3 6.4-1.4-1.7 1.4z" fill="#000000"/>
<path d="M256.4 328.2l2.4-1.7 6.3 .2-2.4 1.8z" fill="#506200"/>
<path d="M178.1 337.5l2-1.5 6.4-.7-2.1 1.5z" fill="#000000"/>
<path d="M100.5 355.9l1.6-1.2 6.4-1.6-1.6 1.3z" fill="#000000"/>
<path d="M235.2 329.7l2.3-1.7 6.3 0-2.3 1.7z" fill="#3a4d00"/>
<path d="M157 341.4l1.9-1.4 6.4-.9-2 1.4z" fill="#000000"/>
<path d="M79.7 362.5l1.5-1.2 6.4-1.9-1.5 1.2z" fill="#000000"/>
<path d="M214 331.8l2.2-1.6 6.4-.3-2.3 1.7z" fill="#213100"/>
<path d="M135.9 346.1l1.8-1.3 6.5-1.2-1.9 1.4z" fill="#000000"/>
<path d="M58.9 369.7l1.4-1.1 6.5-2.1-1.4 1.1z" fill="#000000"/>
<path d="M271.4 327l2.5-1.7 6.3 .4-2.6 1.7z" fill="#5c6a00"/>
<path d="M192.8 334.7l2.1-1.6 6.4-.5-2.1 1.6z" fill="#080e00"/>
<path d="M115 351.5l1.7-1.3 6.4-1.4-1.7 1.3z" fill="#000000"/>
<path d="M250.1 328l2.4-1.6 6.3 .1-2.4 1.7z" fill="#485600"/>
<path d="M171.7 338.2l2-1.4 6.4-.8-2 1.5z" fill="#000000"/>
<path d="M94.1 357.6l1.5-1.2 6.5-1.7-1.6 1.2z" fill="#000000"/>
<path d="M228.9 329.7l2.3-1.5 6.3-.2-2.3 1.7z" fill="#2f3d00"/>
<path d="M150.6 342.5l1.9-1.4 6.4-1.1-1.9 1.4z" fill="#000000"/>
<path d="M73.2 364.4l1.5-1.1 6.5-2-1.5 1.2z" fill="#000000"/>
<path d="M207.7 332.1l2.1-1.5 6.4-.4-2.2 1.6z" fill="#131d00"/>
<path d="M129.5 347.4l1.8-1.3 6.4-1.3-1.8 1.3z" fill="#000000"/>
<path d="M52.5 371.9l1.3-1 6.5-2.3-1.4 1.1z" fill="#000000"/>
<path d="M265.1 326.7l2.5-1.6 6.3 .2-2.5 1.7z" fill="#555f00"/>
<path d="M186.5 335.3l2-1.5 6.4-.7-2.1 1.6z" fill="#000000"/>
<path d="M108.5 353.1l1.7-1.3 6.5-1.6-1.7 1.3z" fill="#000000"/>
<path d="M243.8 328l2.4-1.6 6.3 0-2.4 1.6z" fill="#3d4800"/>
<path d="M165.3 339.1l2-1.4 6.4-.9-2 1.4z" fill="#000000"/>
<path d="M87.6 359.4l1.6-1.1 6.4-1.9-1.5 1.2z" fill="#000000"/>
<path d="M222.6 329.9l2.2-1.5 6.4-.2-2.3 1.5z" fill="#212b00"/>
<path d="M144.2 343.6l1.8-1.4 6.5-1.1-1.9 1.4z" fill="#000000"/>
<path d="M66.8 366.5l1.4-1.1 6.5-2.1-1.5 1.1z" fill="#000000"/>
<path d="M201.3 332.6l2.2-1.5 6.3-.5-2.1 1.5z" fill="#030400"/>
<path d="M123.1 348.8l1.7-1.3 6.5-1.4-1.8 1.3z" fill="#000000"/>
<path d="M258.8 326.5l2.5-1.6 6.3 .2-2.5 1.6z" fill="#4a5200"/>
<path d="M180.1 336l2-1.5 6.4-.7-2 1.5z" fill="#000000"/>
<path d="M102.1 354.7l1.6-1.2 6.5-1.7-1.7 1.3z" fill="#000000"/>
<path d="M237.5 328l2.4-1.5 6.3-.1-2.4 1.6z" fill="#2f3700"/>
<path d="M158.9 340l1.9-1.3 6.5-1-2 1.4z" fill="#000000"/>
<path d="M81.2 361.3l1.5-1.1 6.5-1.9-1.6 1.1z" fill="#000000"/>
<path d="M216.2 330.2l2.3-1.5 6.3-.3-2.2 1.5z" fill="#101400"/>
<path d="M137.7 344.8l1.9-1.3 6.4-1.3-1.8 1.4z" fill="#000000"/>
<path d="M60.3 368.6l1.4-1 6.5-2.2-1.4 1.1z" fill="#000000"/>
<path d="M273.9 325.3l2.5-1.6 6.3 .3-2.5 1.7z" fill="#575b00"/>
<path d="M194.9 333.1l2.2-1.4 6.4-.6-2.2 1.5z" fill="#000000"/>
<path d="M116.7 350.2l1.7-1.1 6.4-1.6-1.7 1.3z" fill="#000000"/>
<path d="M252.5 326.4l2.5-1.6 6.3 .1-2.5 1.6z" fill="#3e4300"/>
<path d="M173.7 336.8l2-1.4 6.4-.9-2 1.5z" fill="#000000"/>
<path d="M95.6 356.4l1.6-1.1 6.5-1.8-1.6 1.2z" fill="#000000"/>
<path d="M231.2 328.2l2.3-1.5 6.4-.2-2.4 1.5z" fill="#1e2300"/>
<path d="M152.5 341.1l1.9-1.3 6.4-1.1-1.9 1.3z" fill="#000000"/>
<path d="M74.7 363.3l1.5-1 6.5-2.1-1.5 1.1z" fill="#000000"/>
<path d="M209.8 330.6l2.3-1.4 6.4-.5-2.3 1.5z" fill="#000000"/>
<path d="M131.3 346.1l1.8-1.2 6.5-1.4-1.9 1.3z" fill="#000000"/>
<path d="M53.8 370.9l1.4-1 6.5-2.3-1.4 1z" fill="#000000"/>
<path d="M267.6 325.1l2.5-1.6 6.3 .2-2.5 1.6z" fill="#4c4d00"/>
<path d="M188.5 333.8l2.1-1.4 6.5-.7-2.2 1.4z" fill="#000000"/>
<path d="M110.2 351.8l1.7-1.1 6.5-1.6-1.7 1.1z" fill="#000000"/>
<path d="M246.2 326.4l2.4-1.5 6.4-.1-2.5 1.6z" fill="#2e3100"/>
<path d="M167.3 337.7l1.9-1.3 6.5-1-2 1.4z" fill="#000000"/>
<path d="M89.2 358.3l1.5-1.1 6.5-1.9-1.6 1.1z" fill="#000000"/>
<path d="M224.8 328.4l2.3-1.4 6.4-.3-2.3 1.5z" fill="#0a0c00"/>
<path d="M146 342.2l1.9-1.2 6.5-1.2-1.9 1.3z" fill="#000000"/>
<path d="M68.2 365.4l1.5-1 6.5-2.1-1.5 1z" fill="#000000"/>
<path d="M203.5 331.1l2.1-1.4 6.5-.5-2.3 1.4z" fill="#000000"/>
<path d="M124.8 347.5l1.8-1.1 6.5-1.5-1.8 1.2z" fill="#000000"/>
<path d="M261.3 324.9l2.5-1.5 6.3 .1-2.5 1.6z" fill="#3d3d00"/>
<path d="M182.1 334.5l2.1-1.3 6.4-.8-2.1 1.4z" fill="#000000"/>
<path d="M103.7 353.5l1.7-1.1 6.5-1.7-1.7 1.1z" fill="#000000"/>
<path d="M239.9 326.5l2.3-1.5 6.4-.1-2.4 1.5z" fill="#1a1c00"/>
<path d="M160.8 338.7l2-1.3 6.4-1-1.9 1.3z" fill="#000000"/>
<path d="M82.7 360.2l1.5-1 6.5-2-1.5 1.1z" fill="#000000"/>
<path d="M218.5 328.7l2.2-1.4 6.4-.3-2.3 1.4z" fill="#000000"/>
<path d="M139.6 343.5l1.8-1.2 6.5-1.3-1.9 1.2z" fill="#000000"/>
<path d="M61.7 367.6l1.4-.9 6.6-2.3-1.5 1z" fill="#000000"/>
<path d="M276.4 323.7l2.6-1.5 6.3 .3-2.6 1.5z" fill="#494500"/>
<path d="M197.1 331.7l2.1-1.3 6.4-.7-2.1 1.4z" fill="#000000"/>
<path d="M118.4 349.1l1.7-1.1 6.5-1.6-1.8 1.1z" fill="#000000"/>
<path d="M255 324.8l2.4-1.4 6.4 0-2.5 1.5z" fill="#2a2a00"/>
<path d="M175.7 335.4l2-1.3 6.5-.9-2.1 1.3z" fill="#000000"/>
<path d="M97.2 355.3l1.6-1 6.6-1.9-1.7 1.1z" fill="#000000"/>
<path d="M233.5 326.7l2.3-1.4 6.4-.3-2.3 1.5z" fill="#020200"/>
<path d="M154.4 339.8l1.9-1.2 6.5-1.2-2 1.3z" fill="#000000"/>
<path d="M76.2 362.3l1.5-1 6.5-2.1-1.5 1z" fill="#000000"/>
<path d="M212.1 329.2l2.2-1.4 6.4-.5-2.2 1.4z" fill="#000000"/>
<path d="M133.1 344.9l1.8-1.1 6.5-1.5-1.8 1.2z" fill="#000000"/>
<path d="M55.2 369.9l1.4-.8 6.5-2.4-1.4 .9z" fill="#000000"/>
<path d="M270.1 323.5l2.6-1.5 6.3 .2-2.6 1.5z" fill="#383400"/>
<path d="M190.6 332.4l2.1-1.2 6.5-.8-2.1 1.3z" fill="#000000"/>
<path d="M111.9 350.7l1.7-1 6.5-1.7-1.7 1.1z" fill="#000000"/>
<path d="M248.6 324.9l2.4-1.4 6.4-.1-2.4 1.4z" fill="#141300"/>
<path d="M169.2 336.4l2-1.2 6.5-1.1-2 1.3z" fill="#000000"/>
<path d="M90.7 357.2l1.6-.9 6.5-2-1.6 1z" fill="#000000"/>
<path d="M227.1 327l2.3-1.4 6.4-.3-2.3 1.4z" fill="#000000"/>
<path d="M147.9 341l1.9-1.1 6.5-1.3-1.9 1.2z" fill="#000000"/>
<path d="M69.7 364.4l1.4-.8 6.6-2.3-1.5 1z" fill="#000000"/>
<path d="M205.6 329.7l2.2-1.2 6.5-.7-2.2 1.4z" fill="#000000"/>
<path d="M126.6 346.4l1.8-1.1 6.5-1.5-1.8 1.1z" fill="#000000"/>
<path d="M263.8 323.4l2.5-1.4 6.4 0-2.6 1.5z" fill="#242100"/>
<path d="M184.2 333.2l2.1-1.2 6.4-.8-2.1 1.2z" fill="#000000"/>
<path d="M105.4 352.4l1.6-.9 6.6-1.8-1.7 1z" fill="#000000"/>
<path d="M242.2 325l2.4-1.3 6.4-.2-2.4 1.4z" fill="#000000"/>
<path d="M162.8 337.4l1.9-1.1 6.5-1.1-2 1.2z" fill="#000000"/>
<path d="M84.2 359.2l1.6-.9 6.5-2-1.6 .9z" fill="#000000"/>
<path d="M220.7 327.3l2.3-1.2 6.4-.5-2.3 1.4z" fill="#000000"/>
<path d="M141.4 342.3l1.9-1 6.5-1.4-1.9 1.1z" fill="#000000"/>
<path d="M63.1 366.7l1.5-.8 6.5-2.3-1.4 .8z" fill="#000000"/>
<path d="M279 322.2l2.6-1.4 6.3 .2-2.6 1.5z" fill="#322c00"/>
<path d="M199.2 330.4l2.2-1.2 6.4-.7-2.2 1.2z" fill="#000000"/>
<path d="M120.1 348l1.7-1 6.6-1.7-1.8 1.1z" fill="#000000"/>
<path d="M257.4 323.4l2.5-1.4 6.4 0-2.5 1.4z" fill="#0b0a00"/>
<path d="M177.7 334.1l2.1-1.1 6.5-1-2.1 1.2z" fill="#000000"/>
<path d="M98.8 354.3l1.7-.9 6.5-1.9-1.6 .9z" fill="#000000"/>
<path d="M235.8 325.3l2.4-1.4 6.4-.2-2.4 1.3z" fill="#000000"/>
<path d="M156.3 338.6l1.9-1.1 6.5-1.2-1.9 1.1z" fill="#000000"/>
<path d="M77.7 361.3l1.5-.8 6.6-2.2-1.6 .9z" fill="#000000"/>
<path d="M214.3 327.8l2.2-1.2 6.5-.5-2.3 1.2z" fill="#000000"/>
<path d="M134.9 343.8l1.8-1 6.6-1.5-1.9 1z" fill="#000000"/>
<path d="M56.6 369.1l1.4-.7 6.6-2.5-1.5 .8z" fill="#000000"/>
<path d="M272.7 322l2.5-1.3 6.4 .1-2.6 1.4z" fill="#1c1800"/>
<path d="M192.7 331.2l2.2-1.2 6.5-.8-2.2 1.2z" fill="#000000"/>
<path d="M113.6 349.7l1.7-1 6.5-1.7-1.7 1z" fill="#000000"/>
<path d="M251 323.5l2.5-1.4 6.4-.1-2.5 1.4z" fill="#000000"/>
<path d="M171.2 335.2l2.1-1.1 6.5-1.1-2.1 1.1z" fill="#000000"/>
<path d="M92.3 356.3l1.6-.9 6.6-2-1.7 .9z" fill="#000000"/>
<path d="M229.4 325.6l2.4-1.3 6.4-.4-2.4 1.4z" fill="#000000"/>
<path d="M149.8 339.9l1.9-1 6.5-1.4-1.9 1.1z" fill="#000000"/>
<path d="M71.1 363.6l1.5-.8 6.6-2.3-1.5 .8z" fill="#000000"/>
<path d="M207.8 328.5l2.3-1.2 6.4-.7-2.2 1.2z" fill="#000000"/>
<path d="M128.4 345.3l1.8-.9 6.5-1.6-1.8 1z" fill="#000000"/>
<path d="M266.3 322l2.5-1.4 6.4 .1-2.5 1.3z" fill="#020200"/>
<path d="M186.3 332l2.1-1.1 6.5-.9-2.2 1.2z" fill="#000000"/>
<path d="M107 351.5l1.7-.9 6.6-1.9-1.7 1z" fill="#000000"/>
<path d="M244.6 323.7l2.5-1.3 6.4-.3-2.5 1.4z" fill="#000000"/>
<path d="M164.7 336.3l2-1.1 6.6-1.1-2.1 1.1z" fill="#000000"/>
<path d="M85.8 358.3l1.5-.8 6.6-2.1-1.6 .9z" fill="#000000"/>
<path d="M223 326.1l2.3-1.3 6.5-.5-2.4 1.3z" fill="#000000"/>
<path d="M143.3 341.3l1.8-1 6.6-1.4-1.9 1z" fill="#000000"/>
<path d="M64.6 365.9l1.4-.7 6.6-2.4-1.5 .8z" fill="#000000"/>
<path d="M281.6 320.8l2.6-1.4 6.4 .2-2.7 1.4z" fill="#141000"/>
<path d="M201.4 329.2l2.2-1.2 6.5-.7-2.3 1.2z" fill="#000000"/>
<path d="M121.8 347l1.8-.9 6.6-1.7-1.8 .9z" fill="#000000"/>
<path d="M259.9 322l2.5-1.3 6.4-.1-2.5 1.4z" fill="#000000"/>
<path d="M179.8 333l2.1-1.1 6.5-1-2.1 1.1z" fill="#000000"/>
<path d="M100.5 353.4l1.6-.8 6.6-2-1.7 .9z" fill="#000000"/>
<path d="M238.2 323.9l2.4-1.2 6.5-.3-2.5 1.3z" fill="#000000"/>
<path d="M158.2 337.5l2-1 6.5-1.3-2 1.1z" fill="#000000"/>
<path d="M79.2 360.5l1.6-.7 6.5-2.3-1.5 .8z" fill="#000000"/>
<path d="M216.5 326.6l2.3-1.1 6.5-.7-2.3 1.3z" fill="#000000"/>
<path d="M136.7 342.8l1.9-.9 6.5-1.6-1.8 1z" fill="#000000"/>
<path d="M58 368.4l1.4-.7 6.6-2.5-1.4 .7z" fill="#000000"/>
<path d="M275.2 320.7l2.6-1.3 6.4 0-2.6 1.4z" fill="#000000"/>
<path d="M194.9 330l2.2-1.1 6.5-.9-2.2 1.2z" fill="#000000"/>
<path d="M115.3 348.7l1.7-.8 6.6-1.8-1.8 .9z" fill="#000000"/>
<path d="M253.5 322.1l2.5-1.2 6.4-.2-2.5 1.3z" fill="#000000"/>
<path d="M173.3 334.1l2-1 6.6-1.2-2.1 1.1z" fill="#000000"/>
<path d="M93.9 355.4l1.6-.7 6.6-2.1-1.6 .8z" fill="#000000"/>
<path d="M231.8 324.3l2.3-1.1 6.5-.5-2.4 1.2z" fill="#000000"/>
<path d="M151.7 338.9l1.9-1 6.6-1.4-2 1z" fill="#000000"/>
<path d="M72.6 362.8l1.5-.7 6.7-2.3-1.6 .7z" fill="#000000"/>
<path d="M210.1 327.3l2.2-1.1 6.5-.7-2.3 1.1z" fill="#000000"/>
<path d="M130.2 344.4l1.8-.9 6.6-1.6-1.9 .9z" fill="#000000"/>
<path d="M268.8 320.6l2.6-1.2 6.4 0-2.6 1.3z" fill="#000000"/>
<path d="M188.4 330.9l2.1-1 6.6-1-2.2 1.1z" fill="#000000"/>
<path d="M108.7 350.6l1.7-.8 6.6-1.9-1.7 .8z" fill="#000000"/>
<path d="M247.1 322.4l2.4-1.2 6.5-.3-2.5 1.2z" fill="#000000"/>
<path d="M166.7 335.2l2.1-.9 6.5-1.2-2 1z" fill="#000000"/>
<path d="M87.3 357.5l1.6-.6 6.6-2.2-1.6 .7z" fill="#000000"/>
<path d="M225.3 324.8l2.3-1.1 6.5-.5-2.3 1.1z" fill="#000000"/>
<path d="M145.1 340.3l2-.9 6.5-1.5-1.9 1z" fill="#000000"/>
<path d="M66 365.2l1.5-.6 6.6-2.5-1.5 .7z" fill="#000000"/>
<path d="M284.2 319.4l2.7-1.2 6.4 .1-2.7 1.3z" fill="#000000"/>
<path d="M203.6 328l2.2-1 6.5-.8-2.2 1.1z" fill="#000000"/>
<path d="M123.6 346.1l1.8-.8 6.6-1.8-1.8 .9z" fill="#000000"/>
<path d="M262.4 320.7l2.5-1.1 6.5-.2-2.6 1.2z" fill="#000000"/>
<path d="M181.9 331.9l2.1-.9 6.5-1.1-2.1 1z" fill="#000000"/>
<path d="M102.1 352.6l1.7-.7 6.6-2.1-1.7 .8z" fill="#000000"/>
<path d="M240.6 322.7l2.4-1.1 6.5-.4-2.4 1.2z" fill="#000000"/>
<path d="M160.2 336.5l2-.9 6.6-1.3-2.1 .9z" fill="#000000"/>
<path d="M80.8 359.8l1.5-.6 6.6-2.3-1.6 .6z" fill="#000000"/>
<path d="M218.8 325.5l2.3-1.1 6.5-.7-2.3 1.1z" fill="#000000"/>
<path d="M138.6 341.9l1.9-.9 6.6-1.6-2 .9z" fill="#000000"/>
<path d="M59.4 367.7l1.5-.5 6.6-2.6-1.5 .6z" fill="#000000"/>
<path d="M277.8 319.4l2.6-1.2 6.5 0-2.7 1.2z" fill="#000000"/>
<path d="M197.1 328.9l2.1-1 6.6-.9-2.2 1z" fill="#000000"/>
<path d="M117 347.9l1.8-.7 6.6-1.9-1.8 .8z" fill="#000000"/>
<path d="M256 320.9l2.5-1.1 6.4-.2-2.5 1.1z" fill="#000000"/>
<path d="M175.3 333.1l2.1-1 6.6-1.1-2.1 .9z" fill="#000000"/>
<path d="M95.5 354.7l1.7-.7 6.6-2.1-1.7 .7z" fill="#000000"/>
<path d="M234.1 323.2l2.4-1.1 6.5-.5-2.4 1.1z" fill="#000000"/>
<path d="M153.6 337.9l2-.8 6.6-1.5-2 .9z" fill="#000000"/>
<path d="M74.1 362.1l1.6-.5 6.6-2.4-1.5 .6z" fill="#000000"/>
<path d="M212.3 326.2l2.3-1 6.5-.8-2.3 1.1z" fill="#000000"/>
<path d="M132 343.5l1.8-.7 6.7-1.8-1.9 .9z" fill="#000000"/>
<path d="M271.4 319.4l2.6-1.1 6.4-.1-2.6 1.2z" fill="#000000"/>
<path d="M190.5 329.9l2.2-1 6.5-1-2.1 1z" fill="#000000"/>
<path d="M110.4 349.8l1.8-.6 6.6-2-1.8 .7z" fill="#000000"/>
<path d="M249.5 321.2l2.5-1.1 6.5-.3-2.5 1.1z" fill="#000000"/>
<path d="M168.8 334.3l2-.9 6.6-1.3-2.1 1z" fill="#000000"/>
<path d="M88.9 356.9l1.6-.6 6.7-2.3-1.7 .7z" fill="#000000"/>
<path d="M227.6 323.7l2.4-1 6.5-.6-2.4 1.1z" fill="#000000"/>
<path d="M147.1 339.4l1.9-.7 6.6-1.6-2 .8z" fill="#000000"/>
<path d="M67.5 364.6l1.5-.5 6.7-2.5-1.6 .5z" fill="#000000"/>
<path d="M286.9 318.2l2.6-1.1 6.5 0-2.7 1.2z" fill="#000000"/>
<path d="M205.8 327l2.2-.9 6.6-.9-2.3 1z" fill="#000000"/>
<path d="M125.4 345.3l1.8-.7 6.6-1.8-1.8 .7z" fill="#000000"/>
<path d="M264.9 319.6l2.6-1.1 6.5-.2-2.6 1.1z" fill="#000000"/>
<path d="M184 331l2.1-.9 6.6-1.2-2.2 1z" fill="#000000"/>
<path d="M103.8 351.9l1.7-.6 6.7-2.1-1.8 .6z" fill="#000000"/>
<path d="M243 321.6l2.5-1 6.5-.5-2.5 1.1z" fill="#000000"/>
<path d="M162.2 335.6l2-.8 6.6-1.4-2 .9z" fill="#000000"/>
<path d="M82.3 359.2l1.6-.6 6.6-2.3-1.6 .6z" fill="#000000"/>
<path d="M221.1 324.4l2.3-.9 6.6-.8-2.4 1z" fill="#000000"/>
<path d="M140.5 341l1.9-.7 6.6-1.6-1.9 .7z" fill="#000000"/>
<path d="M60.9 367.2l1.5-.4 6.6-2.7-1.5 .5z" fill="#000000"/>
<path d="M280.4 318.2l2.7-1.1 6.4 0-2.6 1.1z" fill="#000000"/>
<path d="M199.2 327.9l2.2-.9 6.6-.9-2.2 .9z" fill="#000000"/>
<path d="M118.8 347.2l1.8-.7 6.6-1.9-1.8 .7z" fill="#000000"/>
<path d="M258.5 319.8l2.5-1 6.5-.3-2.6 1.1z" fill="#000000"/>
<path d="M177.4 332.1l2.1-.8 6.6-1.2-2.1 .9z" fill="#000000"/>
<path d="M97.2 354l1.7-.5 6.6-2.2-1.7 .6z" fill="#000000"/>
<path d="M236.5 322.1l2.4-.9 6.6-.6-2.5 1z" fill="#000000"/>
<path d="M155.6 337.1l2-.7 6.6-1.6-2 .8z" fill="#000000"/>
<path d="M75.7 361.6l1.5-.5 6.7-2.5-1.6 .6z" fill="#000000"/>
<path d="M214.6 325.2l2.3-.9 6.5-.8-2.3 .9z" fill="#000000"/>
<path d="M133.8 342.8l1.9-.7 6.7-1.8-1.9 .7z" fill="#000000"/>
<path d="M274 318.3l2.6-1.1 6.5-.1-2.7 1.1z" fill="#000000"/>
<path d="M192.7 328.9l2.2-.8 6.5-1.1-2.2 .9z" fill="#000000"/>
<path d="M112.2 349.2l1.7-.6 6.7-2.1-1.8 .7z" fill="#000000"/>
<path d="M252 320.1l2.5-.9 6.5-.4-2.5 1z" fill="#000000"/>
<path d="M170.8 333.4l2.1-.7 6.6-1.4-2.1 .8z" fill="#000000"/>
<path d="M90.5 356.3l1.7-.5 6.7-2.3-1.7 .5z" fill="#000000"/>
<path d="M230 322.7l2.4-.9 6.5-.6-2.4 .9z" fill="#000000"/>
<path d="M149 338.7l1.9-.7 6.7-1.6-2 .7z" fill="#000000"/>
<path d="M69 364.1l1.5-.4 6.7-2.6-1.5 .5z" fill="#000000"/>
<path d="M289.5 317.1l2.7-1.1 6.5 0-2.7 1.1z" fill="#000000"/>
<path d="M208 326.1l2.3-.9 6.6-.9-2.3 .9z" fill="#000000"/>
<path d="M127.2 344.6l1.8-.6 6.7-1.9-1.9 .7z" fill="#000000"/>
<path d="M267.5 318.5l2.6-1 6.5-.3-2.6 1.1z" fill="#000000"/>
<path d="M186.1 330.1l2.1-.8 6.7-1.2-2.2 .8z" fill="#000000"/>
<path d="M105.5 351.3l1.7-.6 6.7-2.1-1.7 .6z" fill="#000000"/>
<path d="M245.5 320.6l2.4-.9 6.6-.5-2.5 .9z" fill="#000000"/>
<path d="M164.2 334.8l2-.6 6.7-1.5-2.1 .7z" fill="#000000"/>
<path d="M83.9 358.6l1.6-.4 6.7-2.4-1.7 .5z" fill="#000000"/>
<path d="M223.4 323.5l2.4-.9 6.6-.8-2.4 .9z" fill="#000000"/>
<path d="M142.4 340.3l1.9-.6 6.6-1.7-1.9 .7z" fill="#000000"/>
<path d="M62.4 366.8l1.4-.4 6.7-2.7-1.5 .4z" fill="#000000"/>
<path d="M283.1 317.1l2.6-1 6.5-.1-2.7 1.1z" fill="#000000"/>
<path d="M201.4 327l2.3-.7 6.6-1.1-2.3 .9z" fill="#000000"/>
<path d="M120.6 346.5l1.8-.5 6.6-2-1.8 .6z" fill="#000000"/>
<path d="M261 318.8l2.5-.9 6.6-.4-2.6 1z" fill="#000000"/>
<path d="M179.5 331.3l2.1-.7 6.6-1.3-2.1 .8z" fill="#000000"/>
<path d="M98.9 353.5l1.6-.5 6.7-2.3-1.7 .6z" fill="#000000"/>
<path d="M238.9 321.2l2.5-.9 6.5-.6-2.4 .9z" fill="#000000"/>
<path d="M157.6 336.4l2-.7 6.6-1.5-2 .6z" fill="#000000"/>
<path d="M77.2 361.1l1.6-.3 6.7-2.6-1.6 .4z" fill="#000000"/>
<path d="M216.9 324.3l2.3-.8 6.6-.9-2.4 .9z" fill="#000000"/>
<path d="M135.7 342.1l1.9-.5 6.7-1.9-1.9 .6z" fill="#000000"/>
<path d="M276.6 317.2l2.6-.9 6.5-.2-2.6 1z" fill="#000000"/>
<path d="M194.9 328.1l2.2-.7 6.6-1.1-2.3 .7z" fill="#000000"/>
<path d="M113.9 348.6l1.8-.5 6.7-2.1-1.8 .5z" fill="#000000"/>
<path d="M254.5 319.2l2.5-.9 6.5-.4-2.5 .9z" fill="#000000"/>
<path d="M172.9 332.7l2.1-.7 6.6-1.4-2.1 .7z" fill="#000000"/>
<path d="M92.2 355.8l1.6-.4 6.7-2.4-1.6 .5z" fill="#000000"/>
<path d="M232.4 321.8l2.4-.8 6.6-.7-2.5 .9z" fill="#000000"/>
<path d="M150.9 338l2-.6 6.7-1.7-2 .7z" fill="#000000"/>
<path d="M70.5 363.7l1.6-.3 6.7-2.6-1.6 .3z" fill="#000000"/>
<path d="M292.2 316l2.7-.9 6.5-.1-2.7 1z" fill="#000000"/>
<path d="M210.3 325.2l2.3-.7 6.6-1-2.3 .8z" fill="#000000"/>
<path d="M129 344l1.9-.5 6.7-1.9-1.9 .5z" fill="#000000"/>
<path d="M270.1 317.5l2.6-.9 6.5-.3-2.6 .9z" fill="#000000"/>
<path d="M188.2 329.3l2.2-.6 6.7-1.3-2.2 .7z" fill="#000000"/>
<path d="M107.2 350.7l1.8-.4 6.7-2.2-1.8 .5z" fill="#000000"/>
<path d="M247.9 319.7l2.5-.8 6.6-.6-2.5 .9z" fill="#000000"/>
<path d="M166.2 334.2l2.1-.6 6.7-1.6-2.1 .7z" fill="#000000"/>
<path d="M85.5 358.2l1.6-.3 6.7-2.5-1.6 .4z" fill="#000000"/>
<path d="M225.8 322.6l2.4-.7 6.6-.9-2.4 .8z" fill="#000000"/>
<path d="M144.3 339.7l1.9-.5 6.7-1.8-2 .6z" fill="#000000"/>
<path d="M63.8 366.4l1.6-.2 6.7-2.8-1.6 .3z" fill="#000000"/>
<path d="M285.7 316.1l2.7-.9 6.5-.1-2.7 .9z" fill="#000000"/>
<path d="M203.7 326.3l2.2-.7 6.7-1.1-2.3 .7z" fill="#000000"/>
<path d="M122.4 346l1.8-.4 6.7-2.1-1.9 .5z" fill="#000000"/>
<path d="M263.5 317.9l2.6-.9 6.6-.4-2.6 .9z" fill="#000000"/>
<path d="M181.6 330.6l2.1-.6 6.7-1.3-2.2 .6z" fill="#000000"/>
<path d="M100.5 353l1.7-.3 6.8-2.4-1.8 .4z" fill="#000000"/>
<path d="M241.4 320.3l2.4-.7 6.6-.7-2.5 .8z" fill="#000000"/>
<path d="M159.6 335.7l2-.5 6.7-1.6-2.1 .6z" fill="#000000"/>
<path d="M78.8 360.8l1.6-.3 6.7-2.6-1.6 .3z" fill="#000000"/>
<path d="M219.2 323.5l2.3-.7 6.7-.9-2.4 .7z" fill="#000000"/>
<path d="M137.6 341.6l1.9-.5 6.7-1.9-1.9 .5z" fill="#000000"/>
<path d="M279.2 316.3l2.7-.8 6.5-.3-2.7 .9z" fill="#000000"/>
<path d="M197.1 327.4l2.2-.6 6.6-1.2-2.2 .7z" fill="#000000"/>
<path d="M115.7 348.1l1.8-.3 6.7-2.2-1.8 .4z" fill="#000000"/>
<path d="M257 318.3l2.5-.8 6.6-.5-2.6 .9z" fill="#000000"/>
<path d="M175 332l2.1-.5 6.6-1.5-2.1 .6z" fill="#000000"/>
<path d="M93.8 355.4l1.7-.3 6.7-2.4-1.7 .3z" fill="#000000"/>
<path d="M234.8 321l2.4-.7 6.6-.7-2.4 .7z" fill="#000000"/>
<path d="M152.9 337.4l2-.4 6.7-1.8-2 .5z" fill="#000000"/>
<path d="M72.1 363.4l1.5-.1 6.8-2.8-1.6 .3z" fill="#000000"/>
<path d="M294.9 315.1l2.8-.8 6.5-.1-2.8 .8z" fill="#000000"/>
<path d="M212.6 324.5l2.3-.6 6.6-1.1-2.3 .7z" fill="#000000"/>
<path d="M130.9 343.5l1.9-.4 6.7-2-1.9 .5z" fill="#000000"/>
<path d="M272.7 316.6l2.6-.8 6.6-.3-2.7 .8z" fill="#000000"/>
<path d="M190.4 328.7l2.2-.6 6.7-1.3-2.2 .6z" fill="#000000"/>
<path d="M109 350.3l1.7-.2 6.8-2.3-1.8 .3z" fill="#000000"/>
<path d="M250.4 318.9l2.5-.7 6.6-.7-2.5 .8z" fill="#000000"/>
<path d="M168.3 333.6l2.1-.5 6.7-1.6-2.1 .5z" fill="#000000"/>
<path d="M87.1 357.9l1.7-.2 6.7-2.6-1.7 .3z" fill="#000000"/>
<path d="M228.2 321.9l2.4-.7 6.6-.9-2.4 .7z" fill="#000000"/>
<path d="M146.2 339.2l2-.4 6.7-1.8-2 .4z" fill="#000000"/>
<path d="M65.4 366.2l1.5-.1 6.7-2.8-1.5 .1z" fill="#000000"/>
<path d="M288.4 315.2l2.7-.7 6.6-.2-2.8 .8z" fill="#000000"/>
<path d="M205.9 325.6l2.3-.6 6.7-1.1-2.3 .6z" fill="#000000"/>
<path d="M124.2 345.6l1.8-.3 6.8-2.2-1.9 .4z" fill="#000000"/>
<path d="M266.1 317l2.6-.7 6.6-.5-2.6 .8z" fill="#000000"/>
<path d="M183.7 330l2.2-.5 6.7-1.4-2.2 .6z" fill="#000000"/>
<path d="M102.2 352.7l1.8-.2 6.7-2.4-1.7 .2z" fill="#000000"/>
<path d="M243.8 319.6l2.5-.7 6.6-.7-2.5 .7z" fill="#000000"/>
<path d="M161.6 335.2l2-.4 6.8-1.7-2.1 .5z" fill="#000000"/>
<path d="M80.4 360.5l1.6-.1 6.8-2.7-1.7 .2z" fill="#000000"/>
<path d="M221.5 322.8l2.4-.6 6.7-1-2.4 .7z" fill="#000000"/>
<path d="M139.5 341.1l1.9-.3 6.8-2-2 .4z" fill="#000000"/>
<path d="M281.9 315.5l2.6-.7 6.6-.3-2.7 .7z" fill="#000000"/>
<path d="M199.3 326.8l2.2-.5 6.7-1.3-2.3 .6z" fill="#000000"/>
<path d="M117.5 347.8l1.8-.3 6.7-2.2-1.8 .3z" fill="#000000"/>
<path d="M259.5 317.5l2.6-.6 6.6-.6-2.6 .7z" fill="#000000"/>
<path d="M177.1 331.5l2.1-.4 6.7-1.6-2.2 .5z" fill="#000000"/>
<path d="M95.5 355.1l1.7-.1 6.8-2.5-1.8 .2z" fill="#000000"/>
<path d="M237.2 320.3l2.4-.6 6.7-.8-2.5 .7z" fill="#000000"/>
<path d="M154.9 337l2-.4 6.7-1.8-2 .4z" fill="#000000"/>
<path d="M73.6 363.3l1.6-.1 6.8-2.8-1.6 .1z" fill="#000000"/>
<path d="M297.7 314.3l2.7-.8 6.6-.1-2.8 .8z" fill="#000000"/>
<path d="M214.9 323.9l2.3-.6 6.7-1.1-2.4 .6z" fill="#000000"/>
<path d="M132.8 343.1l1.9-.2 6.7-2.1-1.9 .3z" fill="#000000"/>
<path d="M275.3 315.8l2.6-.6 6.6-.4-2.6 .7z" fill="#000000"/>
<path d="M192.6 328.1l2.2-.4 6.7-1.4-2.2 .5z" fill="#000000"/>
<path d="M110.7 350.1l1.8-.2 6.8-2.4-1.8 .3z" fill="#000000"/>
<path d="M252.9 318.2l2.5-.6 6.7-.7-2.6 .6z" fill="#000000"/>
<path d="M170.4 333.1l2.1-.4 6.7-1.6-2.1 .4z" fill="#000000"/>
<path d="M88.8 357.7l1.6-.1 6.8-2.6-1.7 .1z" fill="#000000"/>
<path d="M230.6 321.2l2.4-.5 6.6-1-2.4 .6z" fill="#000000"/>
<path d="M148.2 338.8l1.9-.3 6.8-1.9-2 .4z" fill="#000000"/>
<path d="M66.9 366.1l1.5 0 6.8-2.9-1.6 .1z" fill="#000000"/>
<path d="M291.1 314.5l2.8-.7 6.5-.3-2.7 .8z" fill="#000000"/>
<path d="M208.2 325l2.3-.5 6.7-1.2-2.3 .6z" fill="#000000"/>
<path d="M126 345.3l1.9-.2 6.8-2.2-1.9 .2z" fill="#000000"/>
<path d="M268.7 316.3l2.6-.6 6.6-.5-2.6 .6z" fill="#000000"/>
<path d="M185.9 329.5l2.2-.4 6.7-1.4-2.2 .4z" fill="#000000"/>
<path d="M104 352.5l1.7-.2 6.8-2.4-1.8 .2z" fill="#000000"/>
<path d="M246.3 318.9l2.5-.5 6.6-.8-2.5 .6z" fill="#000000"/>
<path d="M163.6 334.8l2.1-.3 6.8-1.8-2.1 .4z" fill="#000000"/>
<path d="M82 360.4l1.6 0 6.8-2.8-1.6 .1z" fill="#000000"/>
<path d="M223.9 322.2l2.4-.5 6.7-1-2.4 .5z" fill="#000000"/>
<path d="M141.4 340.8l2-.2 6.7-2.1-1.9 .3z" fill="#000000"/>
<path d="M284.5 314.8l2.7-.7 6.7-.3-2.8 .7z" fill="#000000"/>
<path d="M201.5 326.3l2.3-.4 6.7-1.4-2.3 .5z" fill="#000000"/>
<path d="M119.3 347.5l1.8-.1 6.8-2.3-1.9 .2z" fill="#000000"/>
<path d="M262.1 316.9l2.6-.6 6.6-.6-2.6 .6z" fill="#000000"/>
<path d="M179.2 331.1l2.1-.4 6.8-1.6-2.2 .4z" fill="#000000"/>
<path d="M97.2 355l1.7-.1 6.8-2.6-1.7 .2z" fill="#000000"/>
<path d="M239.6 319.7l2.5-.5 6.7-.8-2.5 .5z" fill="#000000"/>
<path d="M156.9 336.6l2-.2 6.8-1.9-2.1 .3z" fill="#000000"/>
<path d="M75.2 363.2l1.6 0 6.8-2.8-1.6 0z" fill="#000000"/>
<path d="M300.4 313.5l2.8-.6 6.6-.2-2.8 .7z" fill="#000000"/>
<path d="M217.2 323.3l2.4-.4 6.7-1.2-2.4 .5z" fill="#000000"/>
<path d="M134.7 342.9l1.9-.2 6.8-2.1-2 .2z" fill="#000000"/>
<path d="M277.9 315.2l2.7-.6 6.6-.5-2.7 .7z" fill="#000000"/>
<path d="M194.8 327.7l2.2-.4 6.8-1.4-2.3 .4z" fill="#000000"/>
<path d="M112.5 349.9l1.8-.1 6.8-2.4-1.8 .1z" fill="#000000"/>
<path d="M255.4 317.6l2.6-.5 6.7-.8-2.6 .6z" fill="#000000"/>
<path d="M172.5 332.7l2.1-.2 6.7-1.8-2.1 .4z" fill="#000000"/>
<path d="M90.4 357.6l1.7 0 6.8-2.7-1.7 .1z" fill="#000000"/>
<path d="M233 320.7l2.4-.4 6.7-1.1-2.5 .5z" fill="#000000"/>
<path d="M150.1 338.5l2-.2 6.8-1.9-2 .2z" fill="#000000"/>
<path d="M68.4 366.1l1.6 .1 6.8-3-1.6 0z" fill="#000000"/>
<path d="M293.9 313.8l2.7-.6 6.6-.3-2.8 .6z" fill="#000000"/>
<path d="M210.5 324.5l2.3-.3 6.8-1.3-2.4 .4z" fill="#000000"/>
<path d="M127.9 345.1l1.9-.1 6.8-2.3-1.9 .2z" fill="#000000"/>
<path d="M271.3 315.7l2.7-.5 6.6-.6-2.7 .6z" fill="#000000"/>
<path d="M188.1 329.1l2.2-.2 6.7-1.6-2.2 .4z" fill="#000000"/>
<path d="M105.7 352.3l1.8 0 6.8-2.5-1.8 .1z" fill="#000000"/>
<path d="M248.8 318.4l2.5-.5 6.7-.8-2.6 .5z" fill="#000000"/>
<path d="M165.7 334.5l2.1-.2 6.8-1.8-2.1 .2z" fill="#000000"/>
<path d="M83.6 360.4l1.7 0 6.8-2.8-1.7 0z" fill="#000000"/>
<path d="M226.3 321.7l2.4-.3 6.7-1.1-2.4 .4z" fill="#000000"/>
<path d="M143.4 340.6l1.9-.2 6.8-2.1-2 .2z" fill="#000000"/>
<path d="M287.2 314.1l2.8-.5 6.6-.4-2.7 .6z" fill="#000000"/>
<path d="M203.8 325.9l2.3-.3 6.7-1.4-2.3 .3z" fill="#000000"/>
<path d="M121.1 347.4l1.9-.1 6.8-2.3-1.9 .1z" fill="#000000"/>
<path d="M264.7 316.3l2.6-.4 6.7-.7-2.7 .5z" fill="#000000"/>
<path d="M181.3 330.7l2.2-.2 6.8-1.6-2.2 .2z" fill="#000000"/>
<path d="M98.9 354.9l1.7 .1 6.9-2.7-1.8 0z" fill="#000000"/>
<path d="M242.1 319.2l2.5-.3 6.7-1-2.5 .5z" fill="#000000"/>
<path d="M158.9 336.4l2.1-.2 6.8-1.9-2.1 .2z" fill="#000000"/>
<path d="M76.8 363.2l1.6 .2 6.9-3-1.7 0z" fill="#000000"/>
<path d="M303.2 312.9l2.8-.5 6.7-.3-2.9 .6z" fill="#000000"/>
<path d="M219.6 322.9l2.3-.3 6.8-1.2-2.4 .3z" fill="#000000"/>
<path d="M136.6 342.7l1.9 0 6.8-2.3-1.9 .2z" fill="#000000"/>
<path d="M280.6 314.6l2.7-.5 6.7-.5-2.8 .5z" fill="#000000"/>
<path d="M197 327.3l2.3-.2 6.8-1.5-2.3 .3z" fill="#000000"/>
<path d="M114.3 349.8l1.8 0 6.9-2.5-1.9 .1z" fill="#000000"/>
<path d="M258 317.1l2.6-.4 6.7-.8-2.6 .4z" fill="#000000"/>
<path d="M174.6 332.5l2.1-.2 6.8-1.8-2.2 .2z" fill="#000000"/>
<path d="M92.1 357.6l1.7 .2 6.8-2.8-1.7-.1z" fill="#000000"/>
<path d="M235.4 320.3l2.5-.4 6.7-1-2.5 .3z" fill="#000000"/>
<path d="M152.1 338.3l2.1 0 6.8-2.1-2.1 .2z" fill="#000000"/>
<path d="M70 366.2l1.6 .2 6.8-3-1.6-.2z" fill="#000000"/>
<path d="M296.6 313.2l2.8-.5 6.6-.3-2.8 .5z" fill="#000000"/>
<path d="M212.8 324.2l2.4-.3 6.7-1.3-2.3 .3z" fill="#000000"/>
<path d="M129.8 345l1.9 0 6.8-2.3-1.9 0z" fill="#000000"/>
<path d="M274 315.2l2.6-.4 6.7-.7-2.7 .5z" fill="#000000"/>
<path d="M190.3 328.9l2.2-.2 6.8-1.6-2.3 .2z" fill="#000000"/>
<path d="M107.5 352.3l1.8 .1 6.8-2.6-1.8 0z" fill="#000000"/>
<path d="M251.3 317.9l2.6-.3 6.7-.9-2.6 .4z" fill="#000000"/>
<path d="M167.8 334.3l2.1-.1 6.8-1.9-2.1 .2z" fill="#000000"/>
<path d="M85.3 360.4l1.6 .2 6.9-2.8-1.7-.2z" fill="#000000"/>
<path d="M228.7 321.4l2.4-.3 6.8-1.2-2.5 .4z" fill="#000000"/>
<path d="M145.3 340.4l2 0 6.9-2.1-2.1 0z" fill="#000000"/>
<path d="M290 313.6l2.7-.4 6.7-.5-2.8 .5z" fill="#000000"/>
<path d="M206.1 325.6l2.3-.2 6.8-1.5-2.4 .3z" fill="#000000"/>
<path d="M123 347.3l1.8 .1 6.9-2.4-1.9 0z" fill="#000000"/>
<path d="M267.3 315.9l2.6-.4 6.7-.7-2.6 .4z" fill="#000000"/>
<path d="M183.5 330.5l2.2-.1 6.8-1.7-2.2 .2z" fill="#000000"/>
<path d="M100.6 355l1.8 .2 6.9-2.8-1.8-.1z" fill="#000000"/>
<path d="M244.6 318.9l2.5-.3 6.8-1-2.6 .3z" fill="#000000"/>
<path d="M161 336.2l2.1 0 6.8-2-2.1 .1z" fill="#000000"/>
<path d="M78.4 363.4l1.6 .2 6.9-3-1.6-.2z" fill="#000000"/>
<path d="M306 312.4l2.9-.4 6.6-.4-2.8 .5z" fill="#000000"/>
<path d="M221.9 322.6l2.4-.2 6.8-1.3-2.4 .3z" fill="#000000"/>
<path d="M138.5 342.7l2 0 6.8-2.3-2 0z" fill="#000000"/>
<path d="M283.3 314.1l2.7-.3 6.7-.6-2.7 .4z" fill="#000000"/>
<path d="M199.3 327.1l2.3-.1 6.8-1.6-2.3 .2z" fill="#000000"/>
<path d="M116.1 349.8l1.9 .2 6.8-2.6-1.8-.1z" fill="#000000"/>
<path d="M260.6 316.7l2.6-.3 6.7-.9-2.6 .4z" fill="#000000"/>
<path d="M176.7 332.3l2.2 0 6.8-1.9-2.2 .1z" fill="#000000"/>
<path d="M93.8 357.8l1.7 .2 6.9-2.8-1.8-.2z" fill="#000000"/>
<path d="M237.9 319.9l2.5-.2 6.7-1.1-2.5 .3z" fill="#000000"/>
<path d="M154.2 338.3l2 0 6.9-2.1-2.1 0z" fill="#000000"/>
<path d="M71.6 366.4l1.6 .4 6.8-3.2-1.6-.2z" fill="#000000"/>
<path d="M299.4 312.7l2.8-.3 6.7-.4-2.9 .4z" fill="#000000"/>
<path d="M215.2 323.9l2.3-.1 6.8-1.4-2.4 .2z" fill="#000000"/>
<path d="M131.7 345l1.9 .1 6.9-2.4-2 0z" fill="#000000"/>
<path d="M276.6 314.8l2.7-.3 6.7-.7-2.7 .3z" fill="#000000"/>
<path d="M192.5 328.7l2.3-.1 6.8-1.6-2.3 .1z" fill="#000000"/>
<path d="M109.3 352.4l1.8 .3 6.9-2.7-1.9-.2z" fill="#000000"/>
<path d="M253.9 317.6l2.5-.2 6.8-1-2.6 .3z" fill="#000000"/>
<path d="M169.9 334.2l2.1 0 6.9-1.9-2.2 0z" fill="#000000"/>
<path d="M86.9 360.6l1.7 .4 6.9-3-1.7-.2z" fill="#000000"/>
<path d="M231.1 321.1l2.5-.1 6.8-1.3-2.5 .2z" fill="#000000"/>
<path d="M147.3 340.4l2 .1 6.9-2.2-2 0z" fill="#000000"/>
<path d="M292.7 313.2l2.8-.3 6.7-.5-2.8 .3z" fill="#000000"/>
<path d="M208.4 325.4l2.3-.1 6.8-1.5-2.3 .1z" fill="#000000"/>
<path d="M124.8 347.4l1.9 .2 6.9-2.5-1.9-.1z" fill="#000000"/>
<path d="M269.9 315.5l2.7-.2 6.7-.8-2.7 .3z" fill="#000000"/>
<path d="M185.7 330.4l2.2 0 6.9-1.8-2.3 .1z" fill="#000000"/>
<path d="M102.4 355.2l1.8 .2 6.9-2.7-1.8-.3z" fill="#000000"/>
<path d="M247.1 318.6l2.6-.2 6.7-1-2.5 .2z" fill="#000000"/>
<path d="M163.1 336.2l2.1 .1 6.8-2.1-2.1 0z" fill="#000000"/>
<path d="M80 363.6l1.7 .4 6.9-3-1.7-.4z" fill="#000000"/>
<path d="M308.9 312l2.9-.4 6.6-.3-2.9 .3z" fill="#000000"/>
<path d="M224.3 322.4l2.5-.1 6.8-1.3-2.5 .1z" fill="#000000"/>
<path d="M140.5 342.7l2 .2 6.8-2.4-2-.1z" fill="#000000"/>
<path d="M286 313.8l2.8-.2 6.7-.7-2.8 .3z" fill="#000000"/>
<path d="M201.6 327l2.3-.1 6.8-1.6-2.3 .1z" fill="#000000"/>
<path d="M118 350l1.8 .2 6.9-2.6-1.9-.2z" fill="#000000"/>
<path d="M263.2 316.4l2.6-.2 6.8-.9-2.7 .2z" fill="#000000"/>
<path d="M178.9 332.3l2.2 0 6.8-1.9-2.2 0z" fill="#000000"/>
<path d="M95.5 358l1.7 .4 7-3-1.8-.2z" fill="#000000"/>
<path d="M240.4 319.7l2.5-.1 6.8-1.2-2.6 .2z" fill="#000000"/>
<path d="M156.2 338.3l2.1 .2 6.9-2.2-2.1-.1z" fill="#000000"/>
<path d="M73.2 366.8l1.6 .4 6.9-3.2-1.7-.4z" fill="#000000"/>
<path d="M302.2 312.4l2.9-.3 6.7-.5-2.9 .4z" fill="#000000"/>
<path d="M217.5 323.8l2.4 0 6.9-1.5-2.5 .1z" fill="#000000"/>
<path d="M133.6 345.1l1.9 .3 7-2.5-2-.2z" fill="#000000"/>
<path d="M279.3 314.5l2.7-.2 6.8-.7-2.8 .2z" fill="#000000"/>
<path d="M194.8 328.6l2.2 .1 6.9-1.8-2.3 .1z" fill="#000000"/>
<path d="M111.1 352.7l1.8 .3 6.9-2.8-1.8-.2z" fill="#000000"/>
<path d="M256.4 317.4l2.6-.2 6.8-1-2.6 .2z" fill="#000000"/>
<path d="M172 334.2l2.2 .1 6.9-2-2.2 0z" fill="#000000"/>
<path d="M88.6 361l1.7 .4 6.9-3-1.7-.4z" fill="#000000"/>
<path d="M233.6 321l2.5-.1 6.8-1.3-2.5 .1z" fill="#000000"/>
<path d="M149.3 340.5l2.1 .3 6.9-2.3-2.1-.2z" fill="#000000"/>
<path d="M295.5 312.9l2.8-.2 6.8-.6-2.9 .3z" fill="#000000"/>
<path d="M210.7 325.3l2.4 .1 6.8-1.6-2.4 0z" fill="#000000"/>
<path d="M126.7 347.6l1.9 .3 6.9-2.5-1.9-.3z" fill="#000000"/>
<path d="M272.6 315.3l2.7-.1 6.7-.9-2.7 .2z" fill="#000000"/>
<path d="M187.9 330.4l2.3 .1 6.8-1.8-2.2-.1z" fill="#000000"/>
<path d="M104.2 355.4l1.8 .5 6.9-2.9-1.8-.3z" fill="#000000"/>
<path d="M249.7 318.4l2.5 0 6.8-1.2-2.6 .2z" fill="#000000"/>
<path d="M165.2 336.3l2.1 .2 6.9-2.2-2.2-.1z" fill="#000000"/>
<path d="M81.7 364l1.7 .5 6.9-3.1-1.7-.4z" fill="#000000"/>
<path d="M311.8 311.6l2.9-.1 6.7-.5-3 .3z" fill="#000000"/>
<path d="M226.8 322.3l2.4 0 6.9-1.4-2.5 .1z" fill="#000000"/>
<path d="M142.5 342.9l1.9 .3 7-2.4-2.1-.3z" fill="#000000"/>
<path d="M288.8 313.6l2.8-.2 6.7-.7-2.8 .2z" fill="#000000"/>
<path d="M203.9 326.9l2.3 .1 6.9-1.6-2.4-.1z" fill="#000000"/>
<path d="M119.8 350.2l1.9 .4 6.9-2.7-1.9-.3z" fill="#000000"/>
<path d="M265.8 316.2l2.7 0 6.8-1-2.7 .1z" fill="#000000"/>
<path d="M181.1 332.3l2.2 .2 6.9-2-2.3-.1z" fill="#000000"/>
<path d="M97.2 358.4l1.8 .4 7-2.9-1.8-.5z" fill="#000000"/>
<path d="M242.9 319.6l2.5 0 6.8-1.2-2.5 0z" fill="#000000"/>
<path d="M158.3 338.5l2.1 .2 6.9-2.2-2.1-.2z" fill="#000000"/>
<path d="M74.8 367.2l1.6 .6 7-3.3-1.7-.5z" fill="#000d04"/>
<path d="M305.1 312.1l2.8-.1 6.8-.5-2.9 .1z" fill="#000000"/>
<path d="M219.9 323.8l2.5 .1 6.8-1.6-2.4 0z" fill="#000000"/>
<path d="M135.5 345.4l2 .3 6.9-2.5-1.9-.3z" fill="#000000"/>
<path d="M282 314.3l2.8-.1 6.8-.8-2.8 .2z" fill="#000000"/>
<path d="M197 328.7l2.3 .2 6.9-1.9-2.3-.1z" fill="#000000"/>
<path d="M112.9 353l1.8 .4 7-2.8-1.9-.4z" fill="#000000"/>
<path d="M259 317.2l2.7 0 6.8-1-2.7 0z" fill="#000000"/>
<path d="M174.2 334.3l2.2 .3 6.9-2.1-2.2-.2z" fill="#000000"/>
<path d="M90.3 361.4l1.7 .5 7-3.1-1.8-.4z" fill="#000300"/>
<path d="M236.1 320.9l2.5 .1 6.8-1.4-2.5 0z" fill="#000000"/>
<path d="M151.4 340.8l2 .3 7-2.4-2.1-.2z" fill="#000000"/>
<path d="M298.3 312.7l2.9-.1 6.7-.6-2.8 .1z" fill="#000000"/>
<path d="M213.1 325.4l2.4 .1 6.9-1.6-2.5-.1z" fill="#000000"/>
<path d="M128.6 347.9l2 .5 6.9-2.7-2-.3z" fill="#000000"/>
<path d="M275.3 315.2l2.7 0 6.8-1-2.8 .1z" fill="#000000"/>
<path d="M190.2 330.5l2.2 .3 6.9-1.9-2.3-.2z" fill="#000000"/>
<path d="M106 355.9l1.8 .5 6.9-3-1.8-.4z" fill="#000000"/>
<path d="M252.2 318.4l2.6 0 6.9-1.2-2.7 0z" fill="#000000"/>
<path d="M167.3 336.5l2.1 .3 7-2.2-2.2-.3z" fill="#000000"/>
<path d="M83.4 364.5l1.7 .7 6.9-3.3-1.7-.5z" fill="#001e05"/>
<path d="M314.7 311.5l2.9-.1 6.7-.5-2.9 .1z" fill="#000000"/>
<path d="M229.2 322.3l2.5 .2 6.9-1.5-2.5-.1z" fill="#000000"/>
<path d="M144.4 343.2l2.1 .4 6.9-2.5-2-.3z" fill="#000000"/>
<path d="M291.6 313.4l2.8 0 6.8-.8-2.9 .1z" fill="#000000"/>
<path d="M206.2 327l2.4 .3 6.9-1.8-2.4-.1z" fill="#000000"/>
<path d="M121.7 350.6l1.9 .5 7-2.7-2-.5z" fill="#000000"/>
<path d="M268.5 316.2l2.7 0 6.8-1-2.7 0z" fill="#000000"/>
<path d="M183.3 332.5l2.2 .3 6.9-2-2.2-.3z" fill="#000000"/>
<path d="M99 358.8l1.8 .6 7-3-1.8-.5z" fill="#011500"/>
<path d="M245.4 319.6l2.6 .2 6.8-1.4-2.6 0z" fill="#000000"/>
<path d="M160.4 338.7l2.1 .4 6.9-2.3-2.1-.3z" fill="#000000"/>
<path d="M76.4 367.8l1.7 .7 7-3.3-1.7-.7z" fill="#00340e"/>
<path d="M307.9 312l2.9 0 6.8-.6-2.9 .1z" fill="#000000"/>
<path d="M222.4 323.9l2.4 .2 6.9-1.6-2.5-.2z" fill="#000000"/>
<path d="M137.5 345.7l2 .5 7-2.6-2.1-.4z" fill="#000000"/>
<path d="M284.8 314.2l2.8 .1 6.8-.9-2.8 0z" fill="#000000"/>
<path d="M199.3 328.9l2.3 .2 7-1.8-2.4-.3z" fill="#000000"/>
<path d="M114.7 353.4l1.9 .6 7-2.9-1.9-.5z" fill="#030a00"/>
<path d="M261.7 317.2l2.6 .2 6.9-1.2-2.7 0z" fill="#000000"/>
<path d="M176.4 334.6l2.1 .4 7-2.2-2.2-.3z" fill="#000000"/>
<path d="M92 361.9l1.8 .7 7-3.2-1.8-.6z" fill="#002d02"/>
<path d="M238.6 321l2.5 .2 6.9-1.4-2.6-.2z" fill="#000000"/>
<path d="M153.4 341.1l2.1 .5 7-2.5-2.1-.4z" fill="#000000"/>
<path d="M301.2 312.6l2.8 .1 6.8-.7-2.9 0z" fill="#000000"/>
<path d="M215.5 325.5l2.4 .3 6.9-1.7-2.4-.2z" fill="#000000"/>
<path d="M130.6 348.4l1.9 .5 7-2.7-2-.5z" fill="#000000"/>
<path d="M278 315.2l2.7 .1 6.9-1-2.8-.1z" fill="#000000"/>
<path d="M192.4 330.8l2.3 .3 6.9-2-2.3-.2z" fill="#000000"/>
<path d="M107.8 356.4l1.8 .6 7-3-1.9-.6z" fill="#062500"/>
<path d="M254.8 318.4l2.6 .2 6.9-1.2-2.6-.2z" fill="#000000"/>
<path d="M169.4 336.8l2.2 .4 6.9-2.2-2.1-.4z" fill="#000000"/>
<path d="M85.1 365.2l1.7 .7 7-3.3-1.8-.7z" fill="#00410a"/>
<path d="M317.6 311.4l2.9 0 6.8-.5-3 0z" fill="#000000"/>
<path d="M231.7 322.5l2.5 .2 6.9-1.5-2.5-.2z" fill="#000000"/>
<path d="M146.5 343.6l2 .5 7-2.5-2.1-.5z" fill="#000000"/>
<path d="M294.4 313.4l2.8 .1 6.8-.8-2.8-.1z" fill="#000000"/>
<path d="M208.6 327.3l2.3 .3 7-1.8-2.4-.3z" fill="#000000"/>
<path d="M123.6 351.1l1.9 .6 7-2.8-1.9-.5z" fill="#0a1a00"/>
<path d="M271.2 316.2l2.7 .2 6.8-1.1-2.7-.1z" fill="#000000"/>
<path d="M185.5 332.8l2.2 .4 7-2.1-2.3-.3z" fill="#000000"/>
<path d="M100.8 359.4l1.8 .7 7-3.1-1.8-.6z" fill="#043a00"/>
<path d="M248 319.8l2.5 .2 6.9-1.4-2.6-.2z" fill="#000000"/>
<path d="M162.5 339.1l2.1 .5 7-2.4-2.2-.4z" fill="#000000"/>
<path d="M78.1 368.5l1.6 .8 7.1-3.4-1.7-.7z" fill="#005116"/>
<path d="M310.8 312l2.9 .1 6.8-.7-2.9 0z" fill="#000000"/>
<path d="M224.8 324.1l2.5 .3 6.9-1.7-2.5-.2z" fill="#000000"/>
<path d="M139.5 346.2l2 .6 7-2.7-2-.5z" fill="#080e00"/>
<path d="M287.6 314.3l2.7 .1 6.9-.9-2.8-.1z" fill="#000000"/>
<path d="M201.6 329.1l2.4 .4 6.9-1.9-2.3-.3z" fill="#000000"/>
<path d="M116.6 354l1.9 .7 7-3-1.9-.6z" fill="#0e3200"/>
<path d="M264.3 317.4l2.7 .2 6.9-1.2-2.7-.2z" fill="#000000"/>
<path d="M178.5 335l2.3 .5 6.9-2.3-2.2-.4z" fill="#000000"/>
<path d="M93.8 362.6l1.7 .8 7.1-3.3-1.8-.7z" fill="#004c03"/>
<path d="M241.1 321.2l2.5 .3 6.9-1.5-2.5-.2z" fill="#000000"/>
<path d="M155.5 341.6l2.1 .5 7-2.5-2.1-.5z" fill="#000000"/>
<path d="M304 312.7l2.9 .1 6.8-.7-2.9-.1z" fill="#000000"/>
<path d="M217.9 325.8l2.4 .4 7-1.8-2.5-.3z" fill="#000000"/>
<path d="M132.5 348.9l2 .7 7-2.8-2-.6z" fill="#132900"/>
<path d="M280.7 315.3l2.8 .2 6.8-1.1-2.7-.1z" fill="#000000"/>
<path d="M194.7 331.1l2.3 .5 7-2.1-2.4-.4z" fill="#000000"/>
<path d="M109.6 357l1.8 .8 7.1-3.1-1.9-.7z" fill="#0c4600"/>
<path d="M257.4 318.6l2.7 .3 6.9-1.3-2.7-.2z" fill="#000000"/>
<path d="M171.6 337.2l2.2 .6 7-2.3-2.3-.5z" fill="#000000"/>
<path d="M86.8 365.9l1.7 .9 7-3.4-1.7-.8z" fill="#005b0e"/>
<path d="M320.5 311.4l3 .2 6.8-.7-3 0z" fill="#000000"/>
<path d="M234.2 322.7l2.5 .4 6.9-1.6-2.5-.3z" fill="#000000"/>
<path d="M148.5 344.1l2.1 .7 7-2.7-2.1-.5z" fill="#141e00"/>
<path d="M297.2 313.5l2.8 .2 6.9-.9-2.9-.1z" fill="#000000"/>
<path d="M210.9 327.6l2.4 .5 7-1.9-2.4-.4z" fill="#000000"/>
<path d="M125.5 351.7l1.9 .8 7.1-2.9-2-.7z" fill="#183f00"/>
<path d="M273.9 316.4l2.7 .3 6.9-1.2-2.8-.2z" fill="#000000"/>
<path d="M187.7 333.2l2.3 .6 7-2.2-2.3-.5z" fill="#000000"/>
<path d="M102.6 360.1l1.8 .9 7-3.2-1.8-.8z" fill="#065600"/>
<path d="M250.5 320l2.7 .4 6.9-1.5-2.7-.3z" fill="#000000"/>
<path d="M164.6 339.6l2.1 .6 7.1-2.4-2.2-.6z" fill="#0e1000"/>
<path d="M79.7 369.3l1.7 .9 7.1-3.4-1.7-.9z" fill="#00671c"/>
<path d="M313.7 312.1l3 .2 6.8-.7-3-.2z" fill="#000000"/>
<path d="M227.3 324.4l2.4 .4 7-1.7-2.5-.4z" fill="#000000"/>
<path d="M141.5 346.8l2 .7 7.1-2.7-2.1-.7z" fill="#1f3600"/>
<path d="M290.3 314.4l2.9 .3 6.8-1-2.8-.2z" fill="#000000"/>
<path d="M204 329.5l2.3 .6 7-2-2.4-.5z" fill="#000000"/>
<path d="M118.5 354.7l1.9 .8 7-3-1.9-.8z" fill="#175000"/>
<path d="M267 317.6l2.7 .3 6.9-1.2-2.7-.3z" fill="#000000"/>
<path d="M180.8 335.5l2.2 .6 7-2.3-2.3-.6z" fill="#010100"/>
<path d="M95.5 363.4l1.8 .9 7.1-3.3-1.8-.9z" fill="#006304"/>
<path d="M243.6 321.5l2.6 .4 7-1.5-2.7-.4z" fill="#000000"/>
<path d="M157.6 342.1l2.1 .7 7-2.6-2.1-.6z" fill="#212b00"/>
<path d="M306.9 312.8l2.9 .3 6.9-.8-3-.2z" fill="#000000"/>
<path d="M220.3 326.2l2.5 .5 6.9-1.9-2.4-.4z" fill="#000000"/>
<path d="M134.5 349.6l2 .8 7-2.9-2-.7z" fill="#234900"/>
<path d="M283.5 315.5l2.8 .3 6.9-1.1-2.9-.3z" fill="#000000"/>
<path d="M197 331.6l2.3 .6 7-2.1-2.3-.6z" fill="#000000"/>
<path d="M111.4 357.8l1.9 .9 7.1-3.2-1.9-.8z" fill="#115f00"/>
<path d="M260.1 318.9l2.6 .4 7-1.4-2.7-.3z" fill="#000000"/>
<path d="M173.8 337.8l2.2 .7 7-2.4-2.2-.6z" fill="#1d1f00"/>
<path d="M88.5 366.8l1.7 .9 7.1-3.4-1.8-.9z" fill="#006f11"/>
<path d="M323.5 311.6l3 .2 6.8-.7-3-.2z" fill="#000000"/>
<path d="M236.7 323.1l2.5 .5 7-1.7-2.6-.4z" fill="#000000"/>
<path d="M150.6 344.8l2.1 .7 7-2.7-2.1-.7z" fill="#2b4100"/>
<path d="M300 313.7l2.9 .4 6.9-1-2.9-.3z" fill="#000000"/>
<path d="M213.3 328.1l2.5 .5 7-1.9-2.5-.5z" fill="#000000"/>
<path d="M127.4 352.5l2 .8 7.1-2.9-2-.8z" fill="#225900"/>
<path d="M276.6 316.7l2.7 .4 7-1.3-2.8-.3z" fill="#000000"/>
<path d="M190 333.8l2.3 .6 7-2.2-2.3-.6z" fill="#111000"/>
<path d="M104.4 361l1.8 .9 7.1-3.2-1.9-.9z" fill="#086b00"/>
<path d="M253.2 320.4l2.6 .4 6.9-1.5-2.6-.4z" fill="#000000"/>
<path d="M166.7 340.2l2.2 .8 7.1-2.5-2.2-.7z" fill="#2e3800"/>
<path d="M81.4 370.2l1.7 1.1 7.1-3.6-1.7-.9z" fill="#007820"/>
<path d="M316.7 312.3l2.9 .3 6.9-.8-3-.2z" fill="#000000"/>
<path d="M229.7 324.8l2.5 .6 7-1.8-2.5-.5z" fill="#000000"/>
<path d="M143.5 347.5l2.1 .8 7.1-2.8-2.1-.7z" fill="#305300"/>
<path d="M293.2 314.7l2.8 .4 6.9-1-2.9-.4z" fill="#000000"/>
<path d="M206.3 330.1l2.4 .6 7.1-2.1-2.5-.5z" fill="#000000"/>
<path d="M120.4 355.5l1.9 .9 7.1-3.1-2-.8z" fill="#1d6700"/>
<path d="M269.7 317.9l2.7 .5 6.9-1.3-2.7-.4z" fill="#000000"/>
<path d="M183 336.1l2.3 .7 7-2.4-2.3-.6z" fill="#2c2c00"/>
<path d="M97.3 364.3l1.8 1 7.1-3.4-1.8-.9z" fill="#007505"/>
<path d="M246.2 321.9l2.6 .6 7-1.7-2.6-.4z" fill="#000000"/>
<path d="M159.7 342.8l2.1 .8 7.1-2.6-2.2-.8z" fill="#394b00"/>
<path d="M309.8 313.1l2.9 .4 6.9-.9-2.9-.3z" fill="#000000"/>
<path d="M222.8 326.7l2.4 .6 7-1.9-2.5-.6z" fill="#000000"/>
<path d="M136.5 350.4l2 .9 7.1-3-2.1-.8z" fill="#2f6200"/>
<path d="M286.3 315.8l2.8 .5 6.9-1.2-2.8-.4z" fill="#000000"/>
<path d="M199.3 332.2l2.4 .7 7-2.2-2.4-.6z" fill="#1f1b00"/>
<path d="M113.3 358.7l1.9 1 7.1-3.3-1.9-.9z" fill="#147200"/>
<path d="M262.7 319.3l2.7 .6 7-1.5-2.7-.5z" fill="#000000"/>
<path d="M176 338.5l2.2 .8 7.1-2.5-2.3-.7z" fill="#3d4300"/>
<path d="M90.2 367.7l1.8 1.2 7.1-3.6-1.8-1z" fill="#007e14"/>
<path d="M326.5 311.8l3 .4 6.9-.7-3.1-.4z" fill="#000000"/>
<path d="M239.2 323.6l2.6 .6 7-1.7-2.6-.6z" fill="#000000"/>
<path d="M152.7 345.5l2.1 .9 7-2.8-2.1-.8z" fill="#3d5c00"/>
<path d="M302.9 314.1l2.9 .4 6.9-1-2.9-.4z" fill="#000000"/>
<path d="M215.8 328.6l2.4 .7 7-2-2.4-.6z" fill="#0f0b00"/>
<path d="M129.4 353.3l2 1 7.1-3-2-.9z" fill="#2a6e00"/>
<path d="M279.3 317.1l2.8 .5 7-1.3-2.8-.5z" fill="#000000"/>
<path d="M192.3 334.4l2.3 .8 7.1-2.3-2.4-.7z" fill="#383400"/>
<path d="M106.2 361.9l1.9 1.1 7.1-3.3-1.9-1z" fill="#087c00"/>
<path d="M255.8 320.8l2.6 .6 7-1.5-2.7-.6z" fill="#000000"/>
<path d="M168.9 341l2.2 .9 7.1-2.6-2.2-.8z" fill="#475500"/>
<path d="M83.1 371.3l1.8 1.2 7.1-3.6-1.8-1.2z" fill="#008625"/>
<path d="M319.6 312.6l3 .4 6.9-.8-3-.4z" fill="#000000"/>
<path d="M232.2 325.4l2.6 .7 7-1.9-2.6-.6z" fill="#000000"/>
<path d="M145.6 348.3l2 1 7.2-2.9-2.1-.9z" fill="#3c6900"/>
<path d="M296 315.1l2.9 .5 6.9-1.1-2.9-.4z" fill="#000000"/>
<path d="M208.7 330.7l2.4 .8 7.1-2.2-2.4-.7z" fill="#2c2200"/>
<path d="M122.3 356.4l2 1.1 7.1-3.2-2-1z" fill="#217800"/>
<path d="M272.4 318.4l2.7 .6 7-1.4-2.8-.5z" fill="#000000"/>
<path d="M185.3 336.8l2.2 .8 7.1-2.4-2.3-.8z" fill="#4c4c00"/>
<path d="M99.1 365.3l1.8 1.2 7.2-3.5-1.9-1.1z" fill="#008406"/>
<path d="M248.8 322.5l2.6 .6 7-1.7-2.6-.6z" fill="#000000"/>
<path d="M161.8 343.6l2.2 1 7.1-2.7-2.2-.9z" fill="#4b6400"/>
<path d="M312.7 313.5l3 .5 6.9-1-3-.4z" fill="#000000"/>
<path d="M225.2 327.3l2.5 .7 7.1-1.9-2.6-.7z" fill="#1d1300"/>
<path d="M138.5 351.3l2 1 7.1-3-2-1z" fill="#377500"/>
<path d="M289.1 316.3l2.8 .6 7-1.3-2.9-.5z" fill="#000000"/>
<path d="M201.7 332.9l2.4 .8 7-2.2-2.4-.8z" fill="#433900"/>
<path d="M115.2 359.7l1.9 1.1 7.2-3.3-2-1.1z" fill="#168100"/>
<path d="M265.4 319.9l2.7 .6 7-1.5-2.7-.6z" fill="#000000"/>
<path d="M178.2 339.3l2.2 .9 7.1-2.6-2.2-.8z" fill="#555d00"/>
<path d="M92 368.9l1.8 1.2 7.1-3.6-1.8-1.2z" fill="#008b17"/>
<path d="M241.8 324.2l2.6 .7 7-1.8-2.6-.6z" fill="#0c0600"/>
<path d="M154.8 346.4l2.1 1 7.1-2.8-2.2-1z" fill="#4a7000"/>
<path d="M305.8 314.5l2.9 .6 7-1.1-3-.5z" fill="#000000"/>
<path d="M218.2 329.3l2.5 .8 7-2.1-2.5-.7z" fill="#372800"/>
<path d="M131.4 354.3l2 1.1 7.1-3.1-2-1z" fill="#2f7e00"/>
<path d="M282.1 317.6l2.8 .6 7-1.3-2.8-.6z" fill="#000000"/>
<path d="M194.6 335.2l2.4 .9 7.1-2.4-2.4-.8z" fill="#554f00"/>
<path d="M108.1 363l1.9 1.2 7.1-3.4-1.9-1.1z" fill="#088900"/>
<path d="M258.4 321.4l2.7 .8 7-1.7-2.7-.6z" fill="#000000"/>
<path d="M171.1 341.9l2.2 1 7.1-2.7-2.2-.9z" fill="#596b00"/>
<path d="M84.9 372.5l1.7 1.3 7.2-3.7-1.8-1.2z" fill="#009129"/>
<path d="M234.8 326.1l2.5 .8 7.1-2-2.6-.7z" fill="#2a1900"/>
<path d="M147.6 349.3l2.1 1.1 7.2-3-2.1-1z" fill="#457a00"/>
<path d="M298.9 315.6l2.9 .7 6.9-1.2-2.9-.6z" fill="#000000"/>
<path d="M211.1 331.5l2.5 .9 7.1-2.3-2.5-.8z" fill="#4c3c00"/>
<path d="M124.3 357.5l1.9 1.2 7.2-3.3-2-1.1z" fill="#248600"/>
<path d="M275.1 319l2.8 .7 7-1.5-2.8-.6z" fill="#000000"/>
<path d="M187.5 337.6l2.3 1 7.2-2.5-2.4-.9z" fill="#646400"/>
<path d="M100.9 366.5l1.9 1.3 7.2-3.6-1.9-1.2z" fill="#008f08"/>
<path d="M251.4 323.1l2.7 .8 7-1.7-2.7-.8z" fill="#190c00"/>
<path d="M164 344.6l2.2 1.1 7.1-2.8-2.2-1z" fill="#587600"/>
<path d="M227.7 328l2.5 .9 7.1-2-2.5-.8z" fill="#412b00"/>
<path d="M140.5 352.3l2.1 1.2 7.1-3.1-2.1-1.1z" fill="#3d8300"/>
<path d="M291.9 316.9l2.9 .7 7-1.3-2.9-.7z" fill="#000000"/>
<path d="M204.1 333.7l2.4 1 7.1-2.3-2.5-.9z" fill="#5d5000"/>
<path d="M117.1 360.8l1.9 1.3 7.2-3.4-1.9-1.2z" fill="#168d00"/>
<path d="M268.1 320.5l2.8 .8 7-1.6-2.8-.7z" fill="#060200"/>
<path d="M180.4 340.2l2.3 1 7.1-2.6-2.3-1z" fill="#677100"/>
<path d="M93.8 370.1l1.8 1.4 7.2-3.7-1.9-1.3z" fill="#00951a"/>
<path d="M244.4 324.9l2.6 .9 7.1-1.9-2.7-.8z" fill="#351d00"/>
<path d="M156.9 347.4l2.1 1.2 7.2-2.9-2.2-1.1z" fill="#538000"/>
<path d="M220.7 330.1l2.4 1 7.1-2.2-2.5-.9z" fill="#553d00"/>
<path d="M133.4 355.4l2 1.3 7.2-3.2-2.1-1.2z" fill="#328b00"/>
<path d="M284.9 318.2l2.9 .8 7-1.4-2.9-.7z" fill="#000000"/>
<path d="M197 336.1l2.3 1 7.2-2.4-2.4-1z" fill="#6b6400"/>
<path d="M110 364.2l1.8 1.4 7.2-3.5-1.9-1.3z" fill="#069300"/>
<path d="M261.1 322.2l2.7 .8 7.1-1.7-2.8-.8z" fill="#261000"/>
<path d="M173.3 342.9l2.3 1.1 7.1-2.8-2.3-1z" fill="#667c00"/>
<path d="M86.6 373.8l1.8 1.5 7.2-3.8-1.8-1.4z" fill="#009a2e"/>
<path d="M237.3 326.9l2.6 .9 7.1-2-2.6-.9z" fill="#4b2d00"/>
<path d="M149.7 350.4l2.1 1.2 7.2-3-2.1-1.2z" fill="#4b8800"/>
<path d="M213.6 332.4l2.4 1 7.1-2.3-2.4-1z" fill="#645000"/>
<path d="M126.2 358.7l2 1.3 7.2-3.3-2-1.3z" fill="#259100"/>
<path d="M277.9 319.7l2.8 .8 7.1-1.5-2.9-.8z" fill="#140700"/>
<path d="M189.8 338.6l2.4 1.1 7.1-2.6-2.3-1z" fill="#757700"/>
<path d="M102.8 367.8l1.8 1.4 7.2-3.6-1.8-1.4z" fill="#00980b"/>
<path d="M254.1 323.9l2.6 .9 7.1-1.8-2.7-.8z" fill="#3f1f00"/>
<path d="M166.2 345.7l2.2 1.2 7.2-2.9-2.3-1.1z" fill="#618500"/>
<path d="M230.2 328.9l2.6 1 7.1-2.1-2.6-.9z" fill="#5c3e00"/>
<path d="M142.6 353.5l2 1.3 7.2-3.2-2.1-1.2z" fill="#408f00"/>
<path d="M206.5 334.7l2.4 1.1 7.1-2.4-2.4-1z" fill="#716300"/>
<path d="M119 362.1l2 1.4 7.2-3.5-2-1.3z" fill="#159700"/>
<path d="M270.9 321.3l2.7 .9 7.1-1.7-2.8-.8z" fill="#311300"/>
<path d="M182.7 341.2l2.3 1.2 7.2-2.7-2.4-1.1z" fill="#748100"/>
<path d="M95.6 371.5l1.8 1.5 7.2-3.8-1.8-1.4z" fill="#009d1e"/>
<path d="M247 325.8l2.6 1 7.1-2-2.6-.9z" fill="#532e00"/>
<path d="M159 348.6l2.2 1.2 7.2-2.9-2.2-1.2z" fill="#598c00"/>
<path d="M223.1 331.1l2.6 1.1 7.1-2.3-2.6-1z" fill="#6b4e00"/>
<path d="M135.4 356.7l2 1.4 7.2-3.3-2-1.3z" fill="#339500"/>
<path d="M199.3 337.1l2.4 1.2 7.2-2.5-2.4-1.1z" fill="#7c7600"/>
<path d="M111.8 365.6l2 1.5 7.2-3.6-2-1.4z" fill="#049c00"/>
<path d="M263.8 323l2.8 1 7-1.8-2.7-.9z" fill="#482000"/>
<path d="M175.6 344l2.2 1.2 7.2-2.8-2.3-1.2z" fill="#6f8900"/>
<path d="M88.4 375.3l1.8 1.5 7.2-3.8-1.8-1.5z" fill="#00a133"/>
<path d="M239.9 327.8l2.6 1.1 7.1-2.1-2.6-1z" fill="#633d00"/>
<path d="M151.8 351.6l2.2 1.4 7.2-3.2-2.2-1.2z" fill="#4f9300"/>
<path d="M216 333.4l2.5 1.1 7.2-2.3-2.6-1.1z" fill="#776000"/>
<path d="M128.2 360l2 1.5 7.2-3.4-2-1.4z" fill="#249a00"/>
<path d="M192.2 339.7l2.3 1.3 7.2-2.7-2.4-1.2z" fill="#818500"/>
<path d="M104.6 369.2l1.9 1.6 7.3-3.7-2-1.5z" fill="#00a00e"/>
<path d="M256.7 324.8l2.7 1.1 7.2-1.9-2.8-1z" fill="#5b2d00"/>
<path d="M168.4 346.9l2.2 1.3 7.2-3-2.2-1.2z" fill="#679000"/>
<path d="M232.8 329.9l2.6 1.1 7.1-2.1-2.6-1.1z" fill="#714d00"/>
<path d="M144.6 354.8l2.1 1.4 7.3-3.2-2.2-1.4z" fill="#429900"/>
<path d="M208.9 335.8l2.4 1.2 7.2-2.5-2.5-1.1z" fill="#817200"/>
<path d="M121 363.5l2 1.5 7.2-3.5-2-1.5z" fill="#149f00"/>
<path d="M185 342.4l2.3 1.3 7.2-2.7-2.3-1.3z" fill="#7d8d00"/>
<path d="M97.4 373l1.8 1.6 7.3-3.8-1.9-1.6z" fill="#00a423"/>
<path d="M249.6 326.8l2.7 1.1 7.1-2-2.7-1.1z" fill="#6a3b00"/>
<path d="M161.2 349.8l2.2 1.4 7.2-3-2.2-1.3z" fill="#5d9600"/>
<path d="M225.7 332.2l2.5 1.2 7.2-2.4-2.6-1.1z" fill="#7c5d00"/>
<path d="M137.4 358.1l2.1 1.5 7.2-3.4-2.1-1.4z" fill="#339d00"/>
<path d="M201.7 338.3l2.4 1.3 7.2-2.6-2.4-1.2z" fill="#8a8500"/>
<path d="M113.8 367.1l1.9 1.6 7.3-3.7-2-1.5z" fill="#01a300"/>
<path d="M177.8 345.2l2.3 1.4 7.2-2.9-2.3-1.3z" fill="#759400"/>
<path d="M90.2 376.8l1.8 1.8 7.2-4-1.8-1.6z" fill="#00a739"/>
<path d="M242.5 328.9l2.6 1.1 7.2-2.1-2.7-1.1z" fill="#764a00"/>
<path d="M154 353l2.1 1.4 7.3-3.2-2.2-1.4z" fill="#519c00"/>
<path d="M218.5 334.5l2.5 1.3 7.2-2.4-2.5-1.2z" fill="#866e00"/>
<path d="M130.2 361.5l2 1.5 7.3-3.4-2.1-1.5z" fill="#23a200"/>
<path d="M194.5 341l2.4 1.3 7.2-2.7-2.4-1.3z" fill="#8a9100"/>
<path d="M106.5 370.8l1.9 1.7 7.3-3.8-1.9-1.6z" fill="#00a613"/>
<path d="M170.6 348.2l2.2 1.4 7.3-3-2.3-1.4z" fill="#6b9a00"/>
<path d="M235.4 331l2.6 1.3 7.1-2.3-2.6-1.1z" fill="#815900"/>
<path d="M146.7 356.2l2.2 1.6 7.2-3.4-2.1-1.4z" fill="#42a000"/>
<path d="M211.3 337l2.5 1.3 7.2-2.5-2.5-1.3z" fill="#8e8000"/>
<path d="M123 365l1.9 1.7 7.3-3.7-2-1.5z" fill="#10a500"/>
<path d="M187.3 343.7l2.4 1.5 7.2-2.9-2.4-1.3z" fill="#839700"/>
<path d="M99.2 374.6l1.9 1.8 7.3-3.9-1.9-1.7z" fill="#00a929"/>
<path d="M163.4 351.2l2.2 1.6 7.2-3.2-2.2-1.4z" fill="#5f9f00"/>
<path d="M228.2 333.4l2.5 1.3 7.3-2.4-2.6-1.3z" fill="#8a6a00"/>
<path d="M139.5 359.6l2.1 1.6 7.3-3.4-2.2-1.6z" fill="#32a400"/>
<path d="M204.1 339.6l2.4 1.4 7.3-2.7-2.5-1.3z" fill="#959200"/>
<path d="M115.7 368.7l1.9 1.7 7.3-3.7-1.9-1.7z" fill="#00a903"/>
<path d="M180.1 346.6l2.3 1.5 7.3-2.9-2.4-1.5z" fill="#789d00"/>
<path d="M92 378.6l1.8 1.8 7.3-4-1.9-1.8z" fill="#00ac3f"/>
<path d="M156.1 354.4l2.2 1.7 7.3-3.3-2.2-1.6z" fill="#51a300"/>
<path d="M221 335.8l2.5 1.4 7.2-2.5-2.5-1.3z" fill="#917a00"/>
<path d="M132.2 363l2.1 1.8 7.3-3.6-2.1-1.6z" fill="#20a800"/>
<path d="M196.9 342.3l2.4 1.5 7.2-2.8-2.4-1.4z" fill="#8f9a00"/>
<path d="M108.4 372.5l1.9 1.8 7.3-3.9-1.9-1.7z" fill="#00ac18"/>
<path d="M172.8 349.6l2.3 1.6 7.3-3.1-2.3-1.5z" fill="#6ca100"/>
<path d="M148.9 357.8l2.1 1.6 7.3-3.3-2.2-1.7z" fill="#40a700"/>
<path d="M213.8 338.3l2.5 1.5 7.2-2.6-2.5-1.4z" fill="#988c00"/>
<path d="M124.9 366.7l2 1.8 7.4-3.7-2.1-1.8z" fill="#0cab00"/>
<path d="M189.7 345.2l2.3 1.5 7.3-2.9-2.4-1.5z" fill="#859f00"/>
<path d="M101.1 376.4l1.9 1.9 7.3-4-1.9-1.8z" fill="#00ae2f"/>
<path d="M165.6 352.8l2.2 1.7 7.3-3.3-2.3-1.6z" fill="#5ea600"/>
<path d="M141.6 361.2l2.1 1.8 7.3-3.6-2.1-1.6z" fill="#2faa00"/>
<path d="M206.5 341l2.5 1.6 7.3-2.8-2.5-1.5z" fill="#9b9d00"/>
<path d="M117.6 370.4l2 1.9 7.3-3.8-2-1.8z" fill="#00ae09"/>
<path d="M182.4 348.1l2.3 1.7 7.3-3.1-2.3-1.5z" fill="#7aa400"/>
<path d="M93.8 380.4l1.8 2 7.4-4.1-1.9-1.9z" fill="#00b147"/>
<path d="M158.3 356.1l2.2 1.7 7.3-3.3-2.2-1.7z" fill="#4ea900"/>
<path d="M134.3 364.8l2 1.8 7.4-3.6-2.1-1.8z" fill="#1cad00"/>
<path d="M199.3 343.8l2.4 1.6 7.3-2.8-2.5-1.6z" fill="#92a200"/>
<path d="M110.3 374.3l2 1.9 7.3-3.9-2-1.9z" fill="#00b01f"/>
<path d="M175.1 351.2l2.3 1.8 7.3-3.2-2.3-1.7z" fill="#6ca800"/>
<path d="M151 359.4l2.2 1.9 7.3-3.5-2.2-1.7z" fill="#3dac00"/>
<path d="M126.9 368.5l2.1 1.9 7.3-3.8-2-1.8z" fill="#07b000"/>
<path d="M192 346.7l2.4 1.8 7.3-3.1-2.4-1.6z" fill="#86a600"/>
<path d="M103 378.3l1.9 2 7.4-4.1-2-1.9z" fill="#00b337"/>
<path d="M167.8 354.5l2.3 1.8 7.3-3.3-2.3-1.8z" fill="#5dab00"/>
<path d="M143.7 363l2.1 1.9 7.4-3.6-2.2-1.9z" fill="#2baf00"/>
<path d="M119.6 372.3l2 2 7.4-3.9-2.1-1.9z" fill="#00b20f"/>
<path d="M184.7 349.8l2.4 1.8 7.3-3.1-2.4-1.8z" fill="#79aa00"/>
<path d="M95.6 382.4l1.9 2.1 7.4-4.2-1.9-2z" fill="#00b44f"/>
<path d="M160.5 357.8l2.2 1.9 7.4-3.4-2.3-1.8z" fill="#4bae00"/>
<path d="M136.3 366.6l2.1 2 7.4-3.7-2.1-1.9z" fill="#16b200"/>
<path d="M112.3 376.2l1.9 2.1 7.4-4-2-2z" fill="#00b426"/>
<path d="M177.4 353l2.3 1.8 7.4-3.2-2.4-1.8z" fill="#69ad00"/>
<path d="M153.2 361.3l2.1 2 7.4-3.6-2.2-1.9z" fill="#39b100"/>
<path d="M129 370.4l2 2.1 7.4-3.9-2.1-2z" fill="#01b400"/>
<path d="M104.9 380.3l1.9 2.2 7.4-4.2-1.9-2.1z" fill="#00b63e"/>
<path d="M170.1 356.3l2.2 1.9 7.4-3.4-2.3-1.8z" fill="#59b000"/>
<path d="M145.8 364.9l2.1 2 7.4-3.6-2.1-2z" fill="#25b300"/>
<path d="M121.6 374.3l2 2.2 7.4-4-2-2.1z" fill="#00b616"/>
<path d="M97.5 384.5l1.9 2.3 7.4-4.3-1.9-2.2z" fill="#00b858"/>
<path d="M162.7 359.7l2.2 2 7.4-3.5-2.2-1.9z" fill="#47b300"/>
<path d="M138.4 368.6l2.1 2.2 7.4-3.9-2.1-2z" fill="#10b500"/>
<path d="M114.2 378.3l2 2.3 7.4-4.1-2-2.2z" fill="#00b82e"/>
<path d="M155.3 363.3l2.2 2.1 7.4-3.7-2.2-2z" fill="#33b500"/>
<path d="M131 372.5l2.1 2.2 7.4-3.9-2.1-2.2z" fill="#00b707"/>
<path d="M106.8 382.5l1.9 2.3 7.5-4.2-2-2.3z" fill="#00b947"/>
<path d="M147.9 366.9l2.2 2.2 7.4-3.7-2.2-2.1z" fill="#1eb700"/>
<path d="M123.6 376.5l2 2.3 7.5-4.1-2.1-2.2z" fill="#00b91e"/>
<path d="M99.4 386.8l1.9 2.4 7.4-4.4-1.9-2.3z" fill="#00bb61"/>
<path d="M140.5 370.8l2.1 2.2 7.5-3.9-2.2-2.2z" fill="#08b900"/>
<path d="M116.2 380.6l2 2.4 7.4-4.2-2-2.3z" fill="#00bb38"/>
<path d="M133.1 374.7l2.1 2.4 7.4-4.1-2.1-2.2z" fill="#00ba0f"/>
<path d="M108.7 384.8l2 2.5 7.5-4.3-2-2.4z" fill="#00bc51"/>
<path d="M125.6 378.8l2.1 2.4 7.5-4.1-2.1-2.4z" fill="#00bc28"/>
<path d="M101.3 389.2l1.9 2.6 7.5-4.5-2-2.5z" fill="#00bd6c"/>
<path d="M118.2 383l2 2.5 7.5-4.3-2.1-2.4z" fill="#00bd41"/>
<path d="M110.7 387.3l2 2.6 7.5-4.4-2-2.5z" fill="#00be5c"/>
<path d="M103.2 391.8l1.9 2.7 7.6-4.6-2-2.6z" fill="#00bf77"/>
</g>
<path d="M185.3 319V330" stroke="#a33" stroke-width="0.6"/>
<ellipse cx="52" cy="374.4" rx="2.8" ry="2" fill="#ffc0c0" stroke="#888" stroke-width="0.5"/>
<ellipse cx="103.5" cy="392" rx="2.8" ry="2" fill="#ffc0c0" stroke="#888" stroke-width="0.5"/>
<ellipse cx="337.3" cy="307.8" rx="2.8" ry="2" fill="#e8000a"/>
<ellipse cx="250.9" cy="355" rx="2.8" ry="2" fill="#e8000a"/>
<ellipse cx="185.3" cy="319" rx="2.8" ry="2" fill="#e8000a"/>
<ellipse cx="185.3" cy="327.9" rx="2.8" ry="2" fill="#e8000a"/>
<text x="44" y="295.3" font-family="Liberation Sans" font-size="8.2" text-anchor="middle" fill="#111" font-weight="bold" stroke="#111" stroke-width="0.25">8</text>
<text x="44" y="309.5" font-family="Liberation Sans" font-size="8.2" text-anchor="middle" fill="#111" font-weight="bold" stroke="#111" stroke-width="0.25">7</text>
<text x="44" y="324.5" font-family="Liberation Sans" font-size="8.2" text-anchor="middle" fill="#111" font-weight="bold" stroke="#111" stroke-width="0.25">6</text>
<text x="44" y="338.8" font-family="Liberation Sans" font-size="8.2" text-anchor="middle" fill="#111" font-weight="bold" stroke="#111" stroke-width="0.25">5</text>
<text x="44" y="353.3" font-family="Liberation Sans" font-size="8.2" text-anchor="middle" fill="#111" font-weight="bold" stroke="#111" stroke-width="0.25">4</text>
<text x="44" y="367.8" font-family="Liberation Sans" font-size="8.2" text-anchor="middle" fill="#111" font-weight="bold" stroke="#111" stroke-width="0.25">3</text>
<text x="44" y="382" font-family="Liberation Sans" font-size="8.2" text-anchor="middle" fill="#111" font-weight="bold" stroke="#111" stroke-width="0.25">2</text>
<text x="44" y="397.7" font-family="Liberation Sans" font-size="8.2" text-anchor="middle" fill="#111" font-weight="bold" stroke="#111" stroke-width="0.25">1</text>
<text x="42.5" y="437.1" font-family="Liberation Sans" font-size="6.5" text-anchor="middle" fill="#111" font-weight="bold" stroke="#111" stroke-width="0.25">-1.00</text>
<text x="54.7" y="447.8" font-family="Liberation Sans" font-size="6.5" text-anchor="middle" fill="#111" font-weight="bold" stroke="#111" stroke-width="0.25">-0.50</text>
<text x="68.6" y="457.5" font-family="Liberation Sans" font-size="6.5" text-anchor="middle" fill="#111" font-weight="bold" stroke="#111" stroke-width="0.25">0.00</text>
<text x="81.4" y="467.6" font-family="Liberation Sans" font-size="6.5" text-anchor="middle" fill="#111" font-weight="bold" stroke="#111" stroke-width="0.25">0.50</text>
<text x="93.6" y="478.3" font-family="Liberation Sans" font-size="6.5" text-anchor="middle" fill="#111" font-weight="bold" stroke="#111" stroke-width="0.25">1.00</text>
<text x="117" y="477.8" font-family="Liberation Sans" font-size="6.5" text-anchor="middle" fill="#111" font-weight="bold" stroke="#111" stroke-width="0.25">-1.00</text>
<text x="173" y="474.3" font-family="Liberation Sans" font-size="6.5" text-anchor="middle" fill="#111" font-weight="bold" stroke="#111" stroke-width="0.25">-0.50</text>
<text x="229.8" y="470.5" font-family="Liberation Sans" font-size="6.5" text-anchor="middle" fill="#111" font-weight="bold" stroke="#111" stroke-width="0.25">0.00</text>
<text x="286.5" y="466.7" font-family="Liberation Sans" font-size="6.5" text-anchor="middle" fill="#111" font-weight="bold" stroke="#111" stroke-width="0.25">0.50</text>
<text x="343" y="463.2" font-family="Liberation Sans" font-size="6.5" text-anchor="middle" fill="#111" font-weight="bold" stroke="#111" stroke-width="0.25">1.00</text>
<text x="23" y="277" font-family="Liberation Serif" font-size="15.8" text-anchor="start" fill="#000">b</text>
<text x="30" y="407" font-family="Liberation Serif" font-size="13.85" text-anchor="start" fill="#000" textLength="90" lengthAdjust="spacingAndGlyphs" transform="rotate(-90 30 407)">Pectin yield (%)</text>
<text x="13.2" y="481" font-family="Liberation Serif" font-size="13.2" text-anchor="start" fill="#000" textLength="62.3" lengthAdjust="spacingAndGlyphs">A: Time (h)</text>
<text x="115" y="497" font-family="Liberation Serif" font-size="14" text-anchor="start" fill="#000" textLength="231.7" lengthAdjust="spacingAndGlyphs">C: Ammonlum oxalate concentration (%)</text>
<path d="M114.6 634.9L211 630.4M215.3 630.2L235.9 629.3M241.4 629L295.1 626.6M295.1 626.6L361.2 651.1M363 651.7L373.3 655.6M114.1 620.7L130.1 620M132.9 619.9L192.4 617.4M197.6 617.2L295.2 613.1M295.2 613.1L317.5 620.7M320.2 621.6L343.8 629.7M346.4 630.6L373.9 640M113.5 606.6L124.5 606.1M128.6 606L211.5 602.8M216.5 602.6L295.2 599.5M295.2 599.5L318.3 606.8M320.5 607.5L347.9 616.1M349.4 616.6L374.5 624.5M113 592.4L209.3 589M213.7 588.9L248.2 587.7M252.1 587.5L295.3 586M295.3 586L325.4 594.7M328.9 595.7L365.1 606.1M367.9 606.9L375.1 609M112.5 578.3L258.4 573.6M263.2 573.5L268.6 573.3M271.8 573.2L295.3 572.5M295.3 572.5L338.6 583.8M340.7 584.3L345.7 585.6M347.5 586.1L375.7 593.4M112 564.1L186.1 562M190.4 561.9L196.4 561.7M200.7 561.6L295.4 559M295.4 559L331.4 567.4M334.1 568L361.1 574.3M363 574.8L376.2 577.9M111.4 550L164.7 548.6M168.6 548.5L194 547.9M197.9 547.8L295.4 545.4M295.4 545.4L304.7 547.4M307.1 547.8L336.1 553.9M338.2 554.3L376.8 562.3M110.9 535.8L234.4 533.2M247.5 532.9L295.5 531.9M295.5 531.9L326.1 537.5M328.2 537.8L347.5 541.4M350.2 541.8L377.4 546.8M115.8 667.4L110.9 535.8M159.7 632.8L158.8 600M158.8 598.3L158.5 589.7M158.5 587.6L157.1 534.8M204.9 630.7L204.5 607.5M204.4 604L203.4 542.8M203.3 539.5L203.2 533.8M250 628.7L249.7 584.5M249.7 581.3L249.5 562.3M249.5 560.6L249.3 532.9M295 657.7L295.5 531.9M314.7 633.8L314.8 623.5M314.8 621.5L315 612.2M315 610.5L316 535.6M334.2 641.1L334.6 625.2M334.6 623.1L335.4 587.6M335.5 583.1L336.4 539.3M353.8 648.3L355.4 593.7M355.5 589.9L355.8 579.7M355.9 577.3L356.9 543.1M372 691.3L377.4 546.8" stroke="#2a2a2a" stroke-width="0.65" fill="none"/>
<path d="M114.6 634.9L110.9 535.8" stroke="#111" stroke-width="1.1"/>
<path d="M115.8 667.4L163.8 706.4L372 691.3L295 657.7z" fill="#ffff00" stroke="#555" stroke-width="0.5"/>
<path d="M121.5 670.8L126.1 669.8L131 668.9L136.1 668L141.3 667.2L146.7 666.3L152.3 665.5" fill="none" stroke="#0087ff" stroke-width="0.8" stroke-opacity="0.8" stroke-dasharray="14 3"/>
<path d="M128.6 676L131.9 675L135.4 674.1L139.1 673.2L143 672.3L147.1 671.5L151.5 670.6L156 669.8L160.6 669L165.5 668.3L170.5 667.5L175.7 666.8L181 666.1L186.5 665.5L192.1 664.9L197.8 664.3L203.7 663.7L209.7 663.2L215.9 662.7L222.1 662.2L228.4 661.7L234.9 661.3L241.4 660.9L248 660.5L254.7 660.2L261.5 659.9L268.3 659.6L275.2 659.4L282.2 659.1L289.2 658.9L296.3 658.8" fill="none" stroke="#00ffe1" stroke-width="0.8" stroke-opacity="0.8" stroke-dasharray="14 3"/>
<path d="M139.2 686.4L139.8 685.4L140.7 684.5L141.7 683.5L143 682.6L144.6 681.7L146.3 680.8L148.3 679.9L150.4 679L152.8 678.1L155.4 677.3L158.2 676.4L161.2 675.6L164.4 674.8L167.7 674L171.3 673.3L175 672.5L178.9 671.8L182.9 671.1L187.1 670.4L191.5 669.8L195.9 669.2L200.6 668.6L205.4 668L210.3 667.4L215.3 666.9L220.4 666.4L225.7 665.9L231 665.4L236.5 665L242.1 664.6L247.7 664.2L253.5 663.8L259.3 663.5L265.2 663.2L271.2 662.9L277.2 662.7L283.3 662.4L289.5 662.2L295.7 662L301.9 661.9" fill="none" stroke="#00ff4b" stroke-width="0.8" stroke-opacity="0.8" stroke-dasharray="14 3"/>
<path d="M176.6 704.4L172.3 703.5L168.3 702.7L164.5 701.8L160.9 700.9L157.7 700" fill="none" stroke="#00ff4b" stroke-width="0.8" stroke-opacity="0.8" stroke-dasharray="14 3"/>
<path d="M175.1 687.1L175.2 686.3L175.6 685.5L176.2 684.7L176.9 683.9L177.9 683.1L179.1 682.4L180.4 681.6L181.9 680.9L183.6 680.2L185.5 679.4L187.5 678.7L189.8 678L192.2 677.4L194.7 676.7L197.4 676L200.3 675.4L203.3 674.8L206.4 674.2L209.7 673.6L213.2 673L216.7 672.5L220.4 671.9L224.2 671.4L228.2 670.9L232.2 670.5L236.4 670L240.7 669.6L245 669.2L249.5 668.8L254 668.4L258.7 668L263.4 667.7L268.2 667.4L273 667.1L278 666.8L283 666.6L288 666.4L293.1 666.2L298.3 666L303.5 665.8L308.7 665.7" fill="none" stroke="#4bff00" stroke-width="0.8" stroke-opacity="0.8" stroke-dasharray="14 3"/>
<path d="M215.7 702.1L211.7 701.4L207.9 700.8L204.3 700.1L200.9 699.4L197.7 698.7L194.8 698L192 697.2L189.4 696.5L187.1 695.7L184.9 695L183 694.2L181.2 693.4L179.7 692.6L178.4 691.8L177.4 691L176.5 690.2L175.8 689.4L175.4 688.6L175.1 687.9L175.1 687.1" fill="none" stroke="#4bff00" stroke-width="0.8" stroke-opacity="0.8" stroke-dasharray="14 3"/>
<path d="M221.5 686.6L221.5 686L221.7 685.5L222 684.9L222.4 684.4L223 683.8L223.8 683.2L224.6 682.7L225.6 682.2L226.8 681.6L228.1 681.1L229.5 680.6L231 680.1L232.7 679.6L234.4 679.1L236.4 678.6L238.4 678.1L240.5 677.7L242.8 677.2L245.1 676.8L247.6 676.4L250.2 675.9L252.8 675.5L255.6 675.2L258.4 674.8L261.4 674.4L264.4 674.1L267.5 673.8L270.7 673.4L274 673.1L277.3 672.9L280.7 672.6L284.2 672.3L287.8 672.1L291.3 671.9L295 671.7L298.7 671.5L302.4 671.3L306.2 671.1L310 671L313.9 670.9L317.8 670.7L321.7 670.6" fill="none" stroke="#e1ff00" stroke-width="0.8" stroke-opacity="0.8" stroke-dasharray="14 3"/>
<path d="M265.4 698.8L262 698.4L258.8 698L255.6 697.6L252.6 697.2L249.7 696.7L246.9 696.3L244.3 695.8L241.8 695.3L239.4 694.8L237.2 694.3L235.1 693.8L233.1 693.3L231.4 692.8L229.7 692.2L228.2 691.7L226.9 691.1L225.7 690.6L224.6 690L223.7 689.4L223 688.9L222.4 688.3L222 687.7L221.7 687.2L221.5 686.6" fill="none" stroke="#e1ff00" stroke-width="0.8" stroke-opacity="0.8" stroke-dasharray="14 3"/>
<path d="M279.5 686L279.4 685.7L279.4 685.4L279.5 685.1L279.7 684.8L279.9 684.5L280.2 684.2L280.6 683.9L281.1 683.7L281.6 683.4L282.2 683.1L282.9 682.8L283.7 682.6L284.5 682.3L285.4 682L286.3 681.8L287.4 681.5L288.5 681.3L289.6 681L290.8 680.8L292.1 680.5L293.5 680.3L294.8 680.1L296.3 679.9L297.8 679.7L299.4 679.5L301 679.3L302.6 679.1L304.3 678.9L306 678.8L307.8 678.6L309.7 678.4L311.5 678.3L313.4 678.2L315.3 678L317.3 677.9L319.3 677.8L321.3 677.7L323.3 677.6L325.4 677.5L327.5 677.5L329.6 677.4L331.7 677.3L333.8 677.3L336 677.3L338.1 677.2" fill="none" stroke="#ffa500" stroke-width="0.8" stroke-opacity="0.8" stroke-dasharray="14 3"/>
<path d="M337.4 693.8L335.1 693.8L332.8 693.7L330.5 693.7L328.2 693.6L326 693.5L323.8 693.5L321.6 693.4L319.4 693.3L317.3 693.2L315.2 693L313.2 692.9L311.2 692.8L309.2 692.6L307.3 692.5L305.4 692.3L303.6 692.1L301.8 691.9L300.1 691.7L298.4 691.5L296.8 691.3L295.3 691.1L293.8 690.9L292.4 690.6L291 690.4L289.8 690.1L288.6 689.9L287.4 689.6L286.4 689.4L285.4 689.1L284.4 688.8L283.6 688.6L282.8 688.3L282.1 688L281.5 687.7L281 687.4L280.5 687.1L280.1 686.9L279.8 686.6L279.6 686.3L279.5 686" fill="none" stroke="#ffa500" stroke-width="0.8" stroke-opacity="0.8" stroke-dasharray="14 3"/>
<path d="M306 685.7L305.9 685.5L305.9 685.3L305.9 685.2L306 685L306.1 684.8L306.3 684.6L306.5 684.5L306.8 684.3L307.1 684.1L307.4 684L307.8 683.8L308.2 683.7L308.7 683.5L309.2 683.3L309.8 683.2L310.3 683L311 682.9L311.7 682.7L312.4 682.6L313.1 682.5L313.9 682.3L314.7 682.2L315.5 682.1L316.4 681.9L317.3 681.8L318.3 681.7L319.3 681.6L320.3 681.5L321.3 681.4L322.3 681.3L323.4 681.2L324.5 681.1L325.6 681L326.8 681L327.9 680.9L329.1 680.8L330.3 680.8L331.5 680.7L332.7 680.7L334 680.6L335.2 680.6L336.5 680.5L337.8 680.5L339 680.5L340.3 680.5L341.6 680.4L342.9 680.4L344.2 680.4L345.4 680.4L346.7 680.5" fill="none" stroke="#ff8700" stroke-width="0.8" stroke-opacity="0.8" stroke-dasharray="14 3"/>
<path d="M366.4 689.1L365.3 689.2L364.2 689.3L363.1 689.4L361.9 689.5L360.7 689.6L359.5 689.6L358.3 689.7L357.1 689.8L355.8 689.9L354.5 689.9L353.3 690L352 690L350.6 690.1L349.3 690.1L348 690.1L346.7 690.1L345.3 690.2L344 690.2L342.6 690.2L341.3 690.2L340 690.2L338.6 690.1L337.3 690.1L336 690.1L334.7 690.1L333.4 690L332.1 690L330.8 689.9L329.6 689.9L328.4 689.8L327.1 689.7L326 689.6L324.8 689.6L323.6 689.5L322.5 689.4L321.4 689.3L320.4 689.2L319.3 689.1L318.3 689L317.3 688.9L316.4 688.7L315.5 688.6L314.6 688.5L313.8 688.4L313 688.2L312.2 688.1L311.5 687.9L310.9 687.8L310.2 687.6L309.6 687.5L309.1 687.3L308.6 687.2L308.1 687L307.7 686.8L307.3 686.7L307 686.5L306.7 686.3L306.4 686.2L306.2 686L306.1 685.8L306 685.7" fill="none" stroke="#ff8700" stroke-width="0.8" stroke-opacity="0.8" stroke-dasharray="14 3"/>
<path d="M115.8 667.4L163.8 706.4L372 691.3" fill="none" stroke="#222" stroke-width="0.7"/>
<circle cx="115.8" cy="667.4" r="0.9" fill="#111"/>
<circle cx="163.8" cy="706.4" r="0.9" fill="#111"/>
<circle cx="126.5" cy="676.1" r="0.9" fill="#111"/>
<circle cx="217.9" cy="702.5" r="0.9" fill="#111"/>
<circle cx="138.1" cy="685.5" r="0.9" fill="#111"/>
<circle cx="270.6" cy="698.7" r="0.9" fill="#111"/>
<circle cx="150.4" cy="695.5" r="0.9" fill="#111"/>
<circle cx="322" cy="694.9" r="0.9" fill="#111"/>
<circle cx="163.8" cy="706.4" r="0.9" fill="#111"/>
<circle cx="372" cy="691.3" r="0.9" fill="#111"/>
<g filter="url(#nz)" stroke="#000" stroke-opacity="0.55" stroke-width="0.3" stroke-linejoin="round">
<path d="M289.8 604l2.1-3.8 5.5 .6-2.2 3.8z" fill="#00bbb8"/>
<path d="M284.3 603.5l2.2-3.7 5.4 .4-2.1 3.8z" fill="#00bab2"/>
<path d="M278.9 603.1l2.1-3.7 5.5 .4-2.2 3.7z" fill="#00b9ac"/>
<path d="M291.9 600.2l2.2-3.6 5.5 .5-2.2 3.7z" fill="#00b993"/>
<path d="M273.4 602.8l2.1-3.7 5.5 .3-2.1 3.7z" fill="#00b9a6"/>
<path d="M286.5 599.8l2.1-3.7 5.5 .5-2.2 3.6z" fill="#00b88d"/>
<path d="M267.9 602.6l2-3.7 5.6 .2-2.1 3.7z" fill="#00b8a2"/>
<path d="M281 599.4l2.1-3.6 5.5 .3-2.1 3.7z" fill="#00b787"/>
<path d="M262.4 602.5l2-3.7 5.5 .1-2 3.7z" fill="#00b79f"/>
<path d="M294.1 596.6l2.2-3.5 5.5 .5-2.2 3.5z" fill="#00b771"/>
<path d="M275.5 599.1l2.1-3.6 5.5 .3-2.1 3.6z" fill="#00b683"/>
<path d="M256.9 602.4l2-3.6 5.5 0-2 3.7z" fill="#00b69c"/>
<path d="M288.6 596.1l2.2-3.4 5.5 .4-2.2 3.5z" fill="#00b66a"/>
<path d="M269.9 598.9l2.1-3.6 5.6 .2-2.1 3.6z" fill="#00b67f"/>
<path d="M251.3 602.5l2-3.6 5.6-.1-2 3.6z" fill="#00b59a"/>
<path d="M283.1 595.8l2.2-3.5 5.5 .4-2.2 3.4z" fill="#00b565"/>
<path d="M264.4 598.8l2-3.6 5.6 .1-2.1 3.6z" fill="#00b57b"/>
<path d="M245.8 602.7l1.9-3.7 5.6-.1-2 3.6z" fill="#00b498"/>
<path d="M296.3 593.1l2.3-3.4 5.5 .5-2.3 3.4z" fill="#00b44f"/>
<path d="M277.6 595.5l2.1-3.4 5.6 .2-2.2 3.5z" fill="#00b461"/>
<path d="M258.9 598.8l2-3.5 5.5-.1-2 3.6z" fill="#00b478"/>
<path d="M240.2 602.9l1.9-3.6 5.6-.3-1.9 3.7z" fill="#00b397"/>
<path d="M290.8 592.7l2.2-3.4 5.6 .4-2.3 3.4z" fill="#00b349"/>
<path d="M272 595.3l2.1-3.4 5.6 .2-2.1 3.4z" fill="#00b35d"/>
<path d="M253.3 598.9l2-3.5 5.6-.1-2 3.5z" fill="#00b376"/>
<path d="M234.6 603.3l1.9-3.6 5.6-.4-1.9 3.6z" fill="#00b297"/>
<path d="M285.3 592.3l2.1-3.3 5.6 .3-2.2 3.4z" fill="#00b245"/>
<path d="M266.4 595.2l2.1-3.4 5.6 .1-2.1 3.4z" fill="#00b259"/>
<path d="M247.7 599l2-3.4 5.6-.2-2 3.5z" fill="#00b275"/>
<path d="M229 603.7l1.9-3.6 5.6-.4-1.9 3.6z" fill="#00b198"/>
<path d="M298.6 589.7l2.2-3.2 5.6 .5-2.3 3.2z" fill="#00b230"/>
<path d="M279.7 592.1l2.1-3.3 5.6 .2-2.1 3.3z" fill="#00b140"/>
<path d="M260.9 595.3l2-3.4 5.6-.1-2.1 3.4z" fill="#00b157"/>
<path d="M242.1 599.3l1.9-3.4 5.7-.3-2 3.4z" fill="#00b175"/>
<path d="M223.4 604.2l1.8-3.5 5.7-.6-1.9 3.6z" fill="#00b099"/>
<path d="M293 589.3l2.2-3.2 5.6 .4-2.2 3.2z" fill="#00b12b"/>
<path d="M274.1 591.9l2.1-3.3 5.6 .2-2.1 3.3z" fill="#00b03d"/>
<path d="M255.3 595.4l2-3.4 5.6-.1-2 3.4z" fill="#00b055"/>
<path d="M236.5 599.7l1.9-3.5 5.6-.3-1.9 3.4z" fill="#00af75"/>
<path d="M217.8 604.9l1.8-3.5 5.6-.7-1.8 3.5z" fill="#00af9a"/>
<path d="M287.4 589l2.2-3.2 5.6 .3-2.2 3.2z" fill="#00af26"/>
<path d="M268.5 591.8l2.1-3.2 5.6 0-2.1 3.3z" fill="#00af3a"/>
<path d="M249.7 595.6l1.9-3.4 5.7-.2-2 3.4z" fill="#00ae55"/>
<path d="M230.9 600.1l1.8-3.4 5.7-.5-1.9 3.5z" fill="#00ae75"/>
<path d="M212.1 605.6l1.8-3.5 5.7-.7-1.8 3.5z" fill="#00ae9d"/>
<path d="M300.8 586.5l2.3-3 5.6 .4-2.3 3.1z" fill="#00ae13"/>
<path d="M281.8 588.8l2.2-3.2 5.6 .2-2.2 3.2z" fill="#00ae22"/>
<path d="M262.9 591.9l2.1-3.2 5.6-.1-2.1 3.2z" fill="#00ae38"/>
<path d="M244 595.9l2-3.3 5.6-.4-1.9 3.4z" fill="#00ad54"/>
<path d="M225.2 600.7l1.8-3.4 5.7-.6-1.8 3.4z" fill="#00ad77"/>
<path d="M206.5 606.4l1.7-3.4 5.7-.9-1.8 3.5z" fill="#00ada0"/>
<path d="M295.2 586.1l2.3-3 5.6 .4-2.3 3z" fill="#00ad0e"/>
<path d="M276.2 588.6l2.2-3.1 5.6 .1-2.2 3.2z" fill="#00ad1f"/>
<path d="M257.3 592l2-3.2 5.7-.1-2.1 3.2z" fill="#00ac37"/>
<path d="M238.4 596.2l1.9-3.2 5.7-.4-2 3.3z" fill="#00ac55"/>
<path d="M219.6 601.4l1.8-3.4 5.6-.7-1.8 3.4z" fill="#00ac79"/>
<path d="M200.8 607.3l1.7-3.4 5.7-.9-1.7 3.4z" fill="#00aba4"/>
<path d="M289.6 585.8l2.3-3 5.6 .3-2.3 3z" fill="#00ac0a"/>
<path d="M270.6 588.6l2.1-3.1 5.7 0-2.2 3.1z" fill="#00ab1d"/>
<path d="M251.6 592.2l2-3.1 5.7-.3-2 3.2z" fill="#00ab36"/>
<path d="M232.7 596.7l1.9-3.2 5.7-.5-1.9 3.2z" fill="#00aa56"/>
<path d="M213.9 602.1l1.8-3.3 5.7-.8-1.8 3.4z" fill="#00aa7b"/>
<path d="M195.1 608.4l1.7-3.4 5.7-1.1-1.7 3.4z" fill="#00aaa8"/>
<path d="M303.1 583.5l2.3-2.9 5.6 .4-2.3 2.9z" fill="#08ab00"/>
<path d="M284 585.6l2.2-2.9 5.7 .1-2.3 3z" fill="#00aa07"/>
<path d="M265 588.7l2-3.1 5.7-.1-2.1 3.1z" fill="#00aa1b"/>
<path d="M246 592.6l1.9-3.2 5.7-.3-2 3.1z" fill="#00a936"/>
<path d="M227 597.3l1.9-3.2 5.7-.6-1.9 3.2z" fill="#00a957"/>
<path d="M208.2 603l1.7-3.3 5.8-.9-1.8 3.3z" fill="#00a97f"/>
<path d="M189.5 609.5l1.6-3.4 5.7-1.1-1.7 3.4z" fill="#00a5a9"/>
<path d="M297.5 583.1l2.3-2.9 5.6 .4-2.3 2.9z" fill="#0ca900"/>
<path d="M278.4 585.5l2.1-2.9 5.7 .1-2.2 2.9z" fill="#00a804"/>
<path d="M259.3 588.8l2.1-3 5.6-.2-2 3.1z" fill="#00a81a"/>
<path d="M240.3 593l1.9-3.2 5.7-.4-1.9 3.2z" fill="#00a837"/>
<path d="M221.4 598l1.8-3.2 5.7-.7-1.9 3.2z" fill="#00a75a"/>
<path d="M202.5 603.9l1.7-3.3 5.7-.9-1.7 3.3z" fill="#00a782"/>
<path d="M183.7 610.7l1.6-3.4 5.8-1.2-1.6 3.4z" fill="#009da7"/>
<path d="M291.9 582.8l2.2-2.8 5.7 .2-2.3 2.9z" fill="#10a700"/>
<path d="M272.7 585.5l2.2-2.9 5.6 0-2.1 2.9z" fill="#00a703"/>
<path d="M253.6 589.1l2.1-3.1 5.7-.2-2.1 3z" fill="#00a61a"/>
<path d="M234.6 593.5l1.9-3.1 5.7-.6-1.9 3.2z" fill="#00a639"/>
<path d="M215.7 598.8l1.8-3.2 5.7-.8-1.8 3.2z" fill="#00a65c"/>
<path d="M196.8 605l1.7-3.3 5.7-1.1-1.7 3.3z" fill="#00a687"/>
<path d="M178 612l1.6-3.3 5.7-1.4-1.6 3.4z" fill="#0094a5"/>
<path d="M305.4 580.6l2.3-2.8 5.7 .5-2.4 2.7z" fill="#20a600"/>
<path d="M286.2 582.7l2.2-2.9 5.7 .2-2.2 2.8z" fill="#12a500"/>
<path d="M267 585.6l2.2-2.9 5.7-.1-2.2 2.9z" fill="#00a501"/>
<path d="M247.9 589.4l2-3 5.8-.4-2.1 3.1z" fill="#00a51a"/>
<path d="M228.9 594.1l1.9-3.1 5.7-.6-1.9 3.1z" fill="#00a43b"/>
<path d="M209.9 599.7l1.8-3.2 5.8-.9-1.8 3.2z" fill="#00a460"/>
<path d="M191.1 606.1l1.6-3.2 5.8-1.2-1.7 3.3z" fill="#00a48b"/>
<path d="M172.3 613.4l1.5-3.3 5.8-1.4-1.6 3.3z" fill="#008aa4"/>
<path d="M299.8 580.2l2.3-2.7 5.6 .3-2.3 2.8z" fill="#23a400"/>
<path d="M280.5 582.6l2.2-2.8 5.7 0-2.2 2.9z" fill="#15a400"/>
<path d="M261.4 585.8l2-2.9 5.8-.2-2.2 2.9z" fill="#00a301"/>
<path d="M242.2 589.8l2-2.9 5.7-.5-2 3z" fill="#00a31c"/>
<path d="M223.2 594.8l1.8-3 5.8-.8-1.9 3.1z" fill="#00a23c"/>
<path d="M204.2 600.6l1.7-3.1 5.8-1-1.8 3.2z" fill="#00a264"/>
<path d="M185.3 607.3l1.7-3.1 5.7-1.3-1.6 3.2z" fill="#00a291"/>
<path d="M166.6 614.9l1.5-3.2 5.7-1.6-1.5 3.3z" fill="#0080a2"/>
<path d="M294.1 580l2.3-2.7 5.7 .2-2.3 2.7z" fill="#26a200"/>
<path d="M274.9 582.6l2.1-2.8 5.7 0-2.2 2.8z" fill="#16a100"/>
<path d="M255.7 586l2-2.8 5.7-.3-2 2.9z" fill="#00a101"/>
<path d="M236.5 590.4l2-3 5.7-.5-2 2.9z" fill="#00a11e"/>
<path d="M217.5 595.6l1.8-3 5.7-.8-1.8 3z" fill="#00a040"/>
<path d="M198.5 601.7l1.7-3.1 5.7-1.1-1.7 3.1z" fill="#00a068"/>
<path d="M179.6 608.7l1.6-3.2 5.8-1.3-1.7 3.1z" fill="#00a096"/>
<path d="M160.8 616.5l1.5-3.2 5.8-1.6-1.5 3.2z" fill="#0076a0"/>
<path d="M307.7 577.8l2.4-2.5 5.7 .4-2.4 2.6z" fill="#35a000"/>
<path d="M288.4 579.8l2.3-2.7 5.7 .2-2.3 2.7z" fill="#29a000"/>
<path d="M269.2 582.7l2.1-2.8 5.7-.1-2.1 2.8z" fill="#169f00"/>
<path d="M249.9 586.4l2.1-2.8 5.7-.4-2 2.8z" fill="#009f02"/>
<path d="M230.8 591l1.9-2.9 5.8-.7-2 3z" fill="#009e20"/>
<path d="M211.7 596.5l1.8-3 5.8-.9-1.8 3z" fill="#009e43"/>
<path d="M192.7 602.9l1.7-3.1 5.8-1.2-1.7 3.1z" fill="#009e6d"/>
<path d="M173.8 610.1l1.6-3.1 5.8-1.5-1.6 3.2z" fill="#009e9c"/>
<path d="M155.1 618.3l1.4-3.2 5.8-1.8-1.5 3.2z" fill="#006b9e"/>
<path d="M302.1 577.5l2.3-2.5 5.7 .3-2.4 2.5z" fill="#389e00"/>
<path d="M282.7 579.8l2.3-2.7 5.7 0-2.3 2.7z" fill="#2a9e00"/>
<path d="M263.4 582.9l2.2-2.8 5.7-.2-2.1 2.8z" fill="#169d00"/>
<path d="M244.2 586.9l2-2.8 5.8-.5-2.1 2.8z" fill="#009d03"/>
<path d="M225 591.8l1.9-2.9 5.8-.8-1.9 2.9z" fill="#009c22"/>
<path d="M205.9 597.5l1.8-2.9 5.8-1.1-1.8 3z" fill="#009c47"/>
<path d="M187 604.2l1.6-3.1 5.8-1.3-1.7 3.1z" fill="#009c72"/>
<path d="M168.1 611.7l1.5-3.1 5.8-1.6-1.6 3.1z" fill="#00959c"/>
<path d="M149.3 620.1l1.4-3.2 5.8-1.8-1.4 3.2z" fill="#00609c"/>
<path d="M296.4 577.3l2.3-2.6 5.7 .3-2.3 2.5z" fill="#3a9c00"/>
<path d="M277 579.8l2.2-2.6 5.8-.1-2.3 2.7z" fill="#2b9b00"/>
<path d="M257.7 583.2l2.1-2.7 5.8-.4-2.2 2.8z" fill="#159a00"/>
<path d="M238.5 587.4l1.9-2.7 5.8-.6-2 2.8z" fill="#009a05"/>
<path d="M219.3 592.6l1.8-2.9 5.8-.8-1.9 2.9z" fill="#009a25"/>
<path d="M200.2 598.6l1.7-2.9 5.8-1.1-1.8 2.9z" fill="#009a4b"/>
<path d="M181.2 605.5l1.6-3 5.8-1.4-1.6 3.1z" fill="#009a77"/>
<path d="M162.3 613.3l1.5-3.1 5.8-1.6-1.5 3.1z" fill="#008b9a"/>
<path d="M143.5 622l1.4-3.1 5.8-2-1.4 3.2z" fill="#00549a"/>
<path d="M310.1 575.3l2.4-2.5 5.7 .4-2.4 2.5z" fill="#479a00"/>
<path d="M290.7 577.1l2.3-2.5 5.7 .1-2.3 2.6z" fill="#3b9900"/>
<path d="M271.3 579.9l2.2-2.6 5.7-.1-2.2 2.6z" fill="#2a9800"/>
<path d="M252 583.6l2-2.7 5.8-.4-2.1 2.7z" fill="#149800"/>
<path d="M232.7 588.1l1.9-2.8 5.8-.6-1.9 2.7z" fill="#009808"/>
<path d="M213.5 593.5l1.8-2.8 5.8-1-1.8 2.9z" fill="#00972a"/>
<path d="M194.4 599.8l1.7-2.9 5.8-1.2-1.7 2.9z" fill="#009751"/>
<path d="M175.4 607l1.6-3 5.8-1.5-1.6 3z" fill="#00977d"/>
<path d="M156.5 615.1l1.5-3.1 5.8-1.8-1.5 3.1z" fill="#007f98"/>
<path d="M137.7 624l1.4-3.1 5.8-2-1.4 3.1z" fill="#004898"/>
<path d="M304.4 575l2.4-2.5 5.7 .3-2.4 2.5z" fill="#499700"/>
<path d="M285 577.1l2.2-2.5 5.8 0-2.3 2.5z" fill="#3c9600"/>
<path d="M265.6 580.1l2.1-2.5 5.8-.3-2.2 2.6z" fill="#2a9500"/>
<path d="M246.2 584.1l2-2.7 5.8-.5-2 2.7z" fill="#129500"/>
<path d="M226.9 588.9l1.9-2.8 5.8-.8-1.9 2.8z" fill="#00950b"/>
<path d="M207.7 594.6l1.8-2.9 5.8-1-1.8 2.8z" fill="#00952d"/>
<path d="M188.6 601.1l1.7-2.9 5.8-1.3-1.7 2.9z" fill="#009556"/>
<path d="M169.6 608.6l1.5-3 5.9-1.6-1.6 3z" fill="#009583"/>
<path d="M150.7 616.9l1.4-3 5.9-1.9-1.5 3.1z" fill="#007395"/>
<path d="M132 626.1l1.3-3 5.8-2.2-1.4 3.1z" fill="#003b96"/>
<path d="M298.7 574.7l2.3-2.3 5.8 .1-2.4 2.5z" fill="#4a9400"/>
<path d="M279.2 577.2l2.2-2.5 5.8-.1-2.2 2.5z" fill="#3c9300"/>
<path d="M259.8 580.5l2.1-2.6 5.8-.3-2.1 2.5z" fill="#289200"/>
<path d="M240.4 584.7l2-2.7 5.8-.6-2 2.7z" fill="#0f9200"/>
<path d="M221.1 589.7l1.9-2.7 5.8-.9-1.9 2.8z" fill="#00920e"/>
<path d="M201.9 595.7l1.8-2.8 5.8-1.2-1.8 2.9z" fill="#009232"/>
<path d="M182.8 602.5l1.6-2.8 5.9-1.5-1.7 2.9z" fill="#00925b"/>
<path d="M163.8 610.2l1.5-2.9 5.8-1.7-1.5 3z" fill="#00928a"/>
<path d="M144.9 618.9l1.4-3 5.8-2-1.4 3z" fill="#006893"/>
<path d="M126.2 628.4l1.2-3.1 5.9-2.2-1.3 3z" fill="#002e94"/>
<path d="M312.5 572.8l2.4-2.2 5.7 .3-2.4 2.3z" fill="#559100"/>
<path d="M293 574.6l2.2-2.3 5.8 .1-2.3 2.3z" fill="#4a9000"/>
<path d="M273.5 577.3l2.1-2.4 5.8-.2-2.2 2.5z" fill="#3b9000"/>
<path d="M254 580.9l2.1-2.5 5.8-.5-2.1 2.6z" fill="#268f00"/>
<path d="M234.6 585.3l2-2.6 5.8-.7-2 2.7z" fill="#0d8f00"/>
<path d="M215.3 590.7l1.9-2.7 5.8-1-1.9 2.7z" fill="#008f12"/>
<path d="M196.1 596.9l1.7-2.7 5.9-1.3-1.8 2.8z" fill="#008f37"/>
<path d="M177 604l1.6-2.8 5.8-1.5-1.6 2.8z" fill="#008f60"/>
<path d="M158 612l1.4-2.9 5.9-1.8-1.5 2.9z" fill="#008f8f"/>
<path d="M139.1 620.9l1.3-2.9 5.9-2.1-1.4 3z" fill="#005b90"/>
<path d="M120.3 630.7l1.3-3 5.8-2.4-1.2 3.1z" fill="#002191"/>
<path d="M306.8 572.5l2.3-2.2 5.8 .3-2.4 2.2z" fill="#568e00"/>
<path d="M287.2 574.6l2.3-2.3 5.7 0-2.2 2.3z" fill="#4a8d00"/>
<path d="M267.7 577.6l2.1-2.4 5.8-.3-2.1 2.4z" fill="#398c00"/>
<path d="M248.2 581.4l2.1-2.5 5.8-.5-2.1 2.5z" fill="#248c00"/>
<path d="M228.8 586.1l1.9-2.5 5.9-.9-2 2.6z" fill="#098b00"/>
<path d="M209.5 591.7l1.8-2.6 5.9-1.1-1.9 2.7z" fill="#008b16"/>
<path d="M190.3 598.2l1.7-2.7 5.8-1.3-1.7 2.7z" fill="#008b3c"/>
<path d="M171.1 605.6l1.6-2.8 5.9-1.6-1.6 2.8z" fill="#008c66"/>
<path d="M152.1 613.9l1.5-2.8 5.8-2-1.4 2.9z" fill="#00838d"/>
<path d="M133.3 623.1l1.3-2.9 5.8-2.2-1.3 2.9z" fill="#004e8d"/>
<path d="M114.5 633.1l1.2-2.9 5.9-2.5-1.3 3z" fill="#00148f"/>
<path d="M301 572.4l2.4-2.3 5.7 .2-2.3 2.2z" fill="#568a00"/>
<path d="M281.4 574.7l2.3-2.3 5.8-.1-2.3 2.3z" fill="#498900"/>
<path d="M261.9 577.9l2.1-2.4 5.8-.3-2.1 2.4z" fill="#378800"/>
<path d="M242.4 582l2-2.4 5.9-.7-2.1 2.5z" fill="#208800"/>
<path d="M223 587l1.9-2.5 5.8-.9-1.9 2.5z" fill="#058800"/>
<path d="M203.7 592.9l1.7-2.6 5.9-1.2-1.8 2.6z" fill="#00881b"/>
<path d="M184.4 599.7l1.7-2.7 5.9-1.5-1.7 2.7z" fill="#008841"/>
<path d="M165.3 607.3l1.5-2.7 5.9-1.8-1.6 2.8z" fill="#00896c"/>
<path d="M146.3 615.9l1.4-2.8 5.9-2-1.5 2.8z" fill="#007689"/>
<path d="M127.4 625.3l1.3-2.9 5.9-2.2-1.3 2.9z" fill="#00418b"/>
<path d="M314.9 570.6l2.4-2.1 5.8 .3-2.5 2.1z" fill="#5e8600"/>
<path d="M295.2 572.3l2.4-2.2 5.8 0-2.4 2.3z" fill="#558500"/>
<path d="M275.6 574.9l2.3-2.3 5.8-.2-2.3 2.3z" fill="#478500"/>
<path d="M256.1 578.4l2.1-2.4 5.8-.5-2.1 2.4z" fill="#348400"/>
<path d="M236.6 582.7l2-2.4 5.8-.7-2 2.4z" fill="#1d8400"/>
<path d="M217.2 588l1.8-2.5 5.9-1-1.9 2.5z" fill="#018400"/>
<path d="M197.8 594.2l1.8-2.6 5.8-1.3-1.7 2.6z" fill="#008420"/>
<path d="M178.6 601.2l1.6-2.7 5.9-1.5-1.7 2.7z" fill="#008446"/>
<path d="M159.4 609.1l1.5-2.7 5.9-1.8-1.5 2.7z" fill="#008572"/>
<path d="M140.4 618l1.4-2.8 5.9-2.1-1.4 2.8z" fill="#006986"/>
<path d="M121.6 627.7l1.2-2.9 5.9-2.4-1.3 2.9z" fill="#003487"/>
<path d="M309.1 570.3l2.4-2.1 5.8 .3-2.4 2.1z" fill="#5d8200"/>
<path d="M289.5 572.3l2.3-2.2 5.8 0-2.4 2.2z" fill="#538100"/>
<path d="M269.8 575.2l2.2-2.3 5.9-.3-2.3 2.3z" fill="#448000"/>
<path d="M250.3 578.9l2-2.3 5.9-.6-2.1 2.4z" fill="#318000"/>
<path d="M230.7 583.6l2-2.5 5.9-.8-2 2.4z" fill="#197f00"/>
<path d="M211.3 589.1l1.8-2.5 5.9-1.1-1.8 2.5z" fill="#007f03"/>
<path d="M192 595.5l1.7-2.5 5.9-1.4-1.8 2.6z" fill="#008025"/>
<path d="M172.7 602.8l1.6-2.6 5.9-1.7-1.6 2.7z" fill="#00804b"/>
<path d="M153.6 611.1l1.4-2.7 5.9-2-1.5 2.7z" fill="#008177"/>
<path d="M134.6 620.2l1.3-2.8 5.9-2.2-1.4 2.8z" fill="#005c83"/>
<path d="M115.7 630.2l1.2-2.9 5.9-2.5-1.2 2.9z" fill="#002784"/>
<path d="M303.4 570.1l2.3-2 5.8 .1-2.4 2.1z" fill="#5c7d00"/>
<path d="M283.7 572.4l2.2-2.1 5.9-.2-2.3 2.2z" fill="#517c00"/>
<path d="M264 575.5l2.2-2.2 5.8-.4-2.2 2.3z" fill="#417b00"/>
<path d="M244.4 579.6l2.1-2.4 5.8-.6-2 2.3z" fill="#2d7b00"/>
<path d="M224.9 584.5l1.9-2.4 5.9-1-2 2.5z" fill="#157b00"/>
<path d="M205.4 590.3l1.8-2.5 5.9-1.2-1.8 2.5z" fill="#007b08"/>
<path d="M186.1 597l1.7-2.5 5.9-1.5-1.7 2.5z" fill="#007b2a"/>
<path d="M166.8 604.6l1.6-2.6 5.9-1.8-1.6 2.6z" fill="#007c50"/>
<path d="M147.7 613.1l1.4-2.7 5.9-2-1.4 2.7z" fill="#007e7d"/>
<path d="M128.7 622.4l1.3-2.7 5.9-2.3-1.3 2.8z" fill="#004f7f"/>
<path d="M317.3 568.5l2.5-2 5.8 .3-2.5 2z" fill="#617900"/>
<path d="M297.6 570.1l2.3-2 5.8 0-2.3 2z" fill="#597700"/>
<path d="M277.9 572.6l2.2-2.1 5.8-.2-2.2 2.1z" fill="#4d7600"/>
<path d="M258.2 576l2.1-2.2 5.9-.5-2.2 2.2z" fill="#3d7600"/>
<path d="M238.6 580.3l2-2.3 5.9-.8-2.1 2.4z" fill="#297500"/>
<path d="M219 585.5l1.9-2.4 5.9-1-1.9 2.4z" fill="#107600"/>
<path d="M199.6 591.6l1.7-2.5 5.9-1.3-1.8 2.5z" fill="#00760c"/>
<path d="M180.2 598.5l1.6-2.4 6-1.6-1.7 2.5z" fill="#00772f"/>
<path d="M160.9 606.4l1.6-2.5 5.9-1.9-1.6 2.6z" fill="#007855"/>
<path d="M141.8 615.2l1.4-2.6 5.9-2.2-1.4 2.7z" fill="#007179"/>
<path d="M122.8 624.8l1.3-2.6 5.9-2.5-1.3 2.7z" fill="#00427b"/>
<path d="M311.5 568.2l2.5-1.9 5.8 .2-2.5 2z" fill="#5f7200"/>
<path d="M291.8 570.1l2.3-2 5.8 0-2.3 2z" fill="#567100"/>
<path d="M272 572.9l2.2-2.1 5.9-.3-2.2 2.1z" fill="#497000"/>
<path d="M252.3 576.6l2.1-2.2 5.9-.6-2.1 2.2z" fill="#387000"/>
<path d="M232.7 581.1l2-2.2 5.9-.9-2 2.3z" fill="#247000"/>
<path d="M213.1 586.6l1.9-2.3 5.9-1.2-1.9 2.4z" fill="#0b7000"/>
<path d="M193.7 593l1.7-2.4 5.9-1.5-1.7 2.5z" fill="#007111"/>
<path d="M174.3 600.2l1.6-2.5 5.9-1.6-1.6 2.4z" fill="#007233"/>
<path d="M155 608.4l1.5-2.6 6-1.9-1.6 2.5z" fill="#00735a"/>
<path d="M135.9 617.4l1.4-2.6 5.9-2.2-1.4 2.6z" fill="#006475"/>
<path d="M116.9 627.3l1.3-2.6 5.9-2.5-1.3 2.6z" fill="#003577"/>
<path d="M305.7 568.1l2.4-1.9 5.9 .1-2.5 1.9z" fill="#5b6c00"/>
<path d="M285.9 570.3l2.3-2 5.9-.2-2.3 2z" fill="#516b00"/>
<path d="M266.2 573.3l2.1-2.1 5.9-.4-2.2 2.1z" fill="#446a00"/>
<path d="M246.5 577.2l2-2.1 5.9-.7-2.1 2.2z" fill="#336a00"/>
<path d="M226.8 582.1l2-2.2 5.9-1-2 2.2z" fill="#1f6a00"/>
<path d="M207.2 587.8l1.9-2.3 5.9-1.2-1.9 2.3z" fill="#076a00"/>
<path d="M187.8 594.5l1.7-2.4 5.9-1.5-1.7 2.4z" fill="#006b16"/>
<path d="M168.4 602l1.6-2.4 5.9-1.9-1.6 2.5z" fill="#006c37"/>
<path d="M149.1 610.4l1.5-2.5 5.9-2.1-1.5 2.6z" fill="#006e5e"/>
<path d="M130 619.7l1.4-2.5 5.9-2.4-1.4 2.6z" fill="#005670"/>
<path d="M319.8 566.5l2.4-1.7 5.9 .2-2.5 1.8z" fill="#5c6600"/>
<path d="M299.9 568.1l2.4-1.9 5.8 0-2.4 1.9z" fill="#566500"/>
<path d="M280.1 570.5l2.2-2 5.9-.2-2.3 2z" fill="#4c6300"/>
<path d="M260.3 573.8l2.1-2 5.9-.6-2.1 2.1z" fill="#3e6300"/>
<path d="M240.6 578l2-2.1 5.9-.8-2 2.1z" fill="#2e6300"/>
<path d="M220.9 583.1l1.9-2.2 6-1-2 2.2z" fill="#1a6300"/>
<path d="M201.3 589.1l1.8-2.2 6-1.4-1.9 2.3z" fill="#026400"/>
<path d="M181.8 596.1l1.7-2.4 6-1.6-1.7 2.4z" fill="#00651a"/>
<path d="M162.5 603.9l1.5-2.4 6-1.9-1.6 2.4z" fill="#00663b"/>
<path d="M143.2 612.6l1.5-2.5 5.9-2.2-1.5 2.5z" fill="#006961"/>
<path d="M124.1 622.2l1.3-2.6 6-2.4-1.4 2.5z" fill="#00496b"/>
<path d="M314 566.3l2.4-1.7 5.8 .2-2.4 1.7z" fill="#575e00"/>
<path d="M294.1 568.1l2.3-1.8 5.9-.1-2.4 1.9z" fill="#4f5c00"/>
<path d="M274.2 570.8l2.3-1.9 5.8-.4-2.2 2z" fill="#455b00"/>
<path d="M254.4 574.4l2.1-2 5.9-.6-2.1 2z" fill="#385b00"/>
<path d="M234.7 578.9l2-2.1 5.9-.9-2 2.1z" fill="#285b00"/>
<path d="M215 584.3l1.9-2.2 5.9-1.2-1.9 2.2z" fill="#145b00"/>
<path d="M195.4 590.6l1.8-2.3 5.9-1.4-1.8 2.2z" fill="#005c03"/>
<path d="M175.9 597.7l1.7-2.3 5.9-1.7-1.7 2.4z" fill="#005e1e"/>
<path d="M156.5 605.8l1.6-2.3 5.9-2-1.5 2.4z" fill="#00603e"/>
<path d="M137.3 614.8l1.4-2.4 6-2.3-1.5 2.5z" fill="#006263"/>
<path d="M118.2 624.7l1.3-2.5 5.9-2.6-1.3 2.6z" fill="#003c66"/>
<path d="M308.1 566.2l2.4-1.7 5.9 .1-2.4 1.7z" fill="#505500"/>
<path d="M288.2 568.3l2.3-1.8 5.9-.2-2.3 1.8z" fill="#485300"/>
<path d="M268.3 571.2l2.2-1.9 6-.4-2.3 1.9z" fill="#3e5200"/>
<path d="M248.5 575.1l2.1-2 5.9-.7-2.1 2z" fill="#315200"/>
<path d="M228.8 579.9l1.9-2.1 6-1-2 2.1z" fill="#225200"/>
<path d="M209.1 585.5l1.8-2.1 6-1.3-1.9 2.2z" fill="#0f5300"/>
<path d="M189.5 592.1l1.7-2.2 6-1.6-1.8 2.3z" fill="#005507"/>
<path d="M170 599.6l1.6-2.3 6-1.9-1.7 2.3z" fill="#005721"/>
<path d="M150.6 607.9l1.5-2.3 6-2.1-1.6 2.3z" fill="#005a41"/>
<path d="M131.4 617.2l1.3-2.4 6-2.4-1.4 2.4z" fill="#00545d"/>
<path d="M322.2 564.8l2.5-1.6 5.9 .2-2.5 1.6z" fill="#4d4d00"/>
<path d="M302.3 566.2l2.4-1.7 5.8 0-2.4 1.7z" fill="#474b00"/>
<path d="M282.3 568.5l2.3-1.7 5.9-.3-2.3 1.8z" fill="#3f4900"/>
<path d="M262.4 571.8l2.2-1.9 5.9-.6-2.2 1.9z" fill="#364900"/>
<path d="M242.6 575.9l2.1-1.9 5.9-.9-2.1 2z" fill="#2a4800"/>
<path d="M222.8 580.9l2-2 5.9-1.1-1.9 2.1z" fill="#1b4900"/>
<path d="M203.1 586.9l1.9-2.1 5.9-1.4-1.8 2.1z" fill="#0a4a00"/>
<path d="M183.5 593.7l1.7-2.2 6-1.6-1.7 2.2z" fill="#004c0a"/>
<path d="M164 601.5l1.6-2.3 6-1.9-1.6 2.3z" fill="#004f24"/>
<path d="M144.7 610.1l1.4-2.3 6-2.2-1.5 2.3z" fill="#005241"/>
<path d="M125.4 619.6l1.3-2.3 6-2.5-1.3 2.4z" fill="#004656"/>
<path d="M316.4 564.6l2.5-1.6 5.8 .2-2.5 1.6z" fill="#414000"/>
<path d="M296.4 566.3l2.4-1.7 5.9-.1-2.4 1.7z" fill="#3d3f00"/>
<path d="M276.5 568.9l2.2-1.8 5.9-.3-2.3 1.7z" fill="#353e00"/>
<path d="M256.5 572.4l2.2-1.8 5.9-.7-2.2 1.9z" fill="#2c3e00"/>
<path d="M236.7 576.8l2-1.9 6-.9-2.1 1.9z" fill="#223e00"/>
<path d="M216.9 582.1l1.9-2 6-1.2-2 2z" fill="#153f00"/>
<path d="M197.2 588.3l1.8-2 6-1.5-1.9 2.1z" fill="#064100"/>
<path d="M177.6 595.4l1.6-2.1 6-1.8-1.7 2.2z" fill="#00430d"/>
<path d="M158.1 603.5l1.5-2.2 6-2.1-1.6 2.3z" fill="#004625"/>
<path d="M138.7 612.4l1.4-2.3 6-2.3-1.4 2.3z" fill="#004a41"/>
<path d="M119.5 622.2l1.3-2.3 5.9-2.6-1.3 2.3z" fill="#00394f"/>
<path d="M310.5 564.5l2.5-1.5 5.9 0-2.5 1.6z" fill="#353300"/>
<path d="M290.5 566.5l2.4-1.7 5.9-.2-2.4 1.7z" fill="#303300"/>
<path d="M270.5 569.3l2.3-1.7 5.9-.5-2.2 1.8z" fill="#2a3200"/>
<path d="M250.6 573.1l2.1-1.8 6-.7-2.2 1.8z" fill="#233100"/>
<path d="M230.7 577.8l2-1.9 6-1-2 1.9z" fill="#1a3200"/>
<path d="M210.9 583.4l1.9-2 6-1.3-1.9 2z" fill="#0f3300"/>
<path d="M191.2 589.9l1.8-2 6-1.6-1.8 2z" fill="#023600"/>
<path d="M171.6 597.3l1.6-2.1 6-1.9-1.6 2.1z" fill="#00390f"/>
<path d="M152.1 605.6l1.5-2.2 6-2.1-1.5 2.2z" fill="#003d24"/>
<path d="M132.7 614.8l1.4-2.2 6-2.5-1.4 2.3z" fill="#004240"/>
<path d="M324.7 563.2l2.6-1.5 5.8 .3-2.5 1.4z" fill="#292500"/>
<path d="M304.7 564.5l2.4-1.5 5.9 0-2.5 1.5z" fill="#262500"/>
<path d="M284.6 566.8l2.3-1.7 6-.3-2.4 1.7z" fill="#232400"/>
<path d="M264.6 569.9l2.2-1.7 6-.6-2.3 1.7z" fill="#1e2300"/>
<path d="M244.7 574l2-1.8 6-.9-2.1 1.8z" fill="#182300"/>
<path d="M224.8 578.9l1.9-1.8 6-1.2-2 1.9z" fill="#122500"/>
<path d="M205 584.8l1.8-2 6-1.4-1.9 2z" fill="#0a2700"/>
<path d="M185.2 591.5l1.8-2 6-1.6-1.8 2z" fill="#002a01"/>
<path d="M165.6 599.2l1.6-2 6-2-1.6 2.1z" fill="#002e0f"/>
<path d="M146.1 607.8l1.5-2.1 6-2.3-1.5 2.2z" fill="#003322"/>
<path d="M126.7 617.3l1.4-2.2 6-2.5-1.4 2.2z" fill="#003639"/>
<path d="M318.9 563l2.5-1.4 5.9 .1-2.6 1.5z" fill="#181600"/>
<path d="M298.8 564.6l2.4-1.5 5.9-.1-2.4 1.5z" fill="#161500"/>
<path d="M278.7 567.1l2.3-1.5 5.9-.5-2.3 1.7z" fill="#131400"/>
<path d="M258.7 570.6l2.1-1.7 6-.7-2.2 1.7z" fill="#101300"/>
<path d="M238.7 574.9l2-1.8 6-.9-2 1.8z" fill="#0d1400"/>
<path d="M218.8 580.1l1.9-1.8 6-1.2-1.9 1.8z" fill="#0a1600"/>
<path d="M199 586.3l1.8-1.9 6-1.6-1.8 2z" fill="#051900"/>
<path d="M179.2 593.3l1.7-2 6.1-1.8-1.8 2z" fill="#001d02"/>
<path d="M159.6 601.3l1.6-2.1 6-2-1.6 2z" fill="#00220e"/>
<path d="M140.1 610.1l1.5-2.1 6-2.3-1.5 2.1z" fill="#00281e"/>
<path d="M120.8 619.9l1.3-2.2 6-2.6-1.4 2.2z" fill="#00282f"/>
<path d="M313 563l2.5-1.4 5.9 0-2.5 1.4z" fill="#050500"/>
<path d="M292.9 564.8l2.3-1.4 6-.3-2.4 1.5z" fill="#030200"/>
<path d="M272.8 567.6l2.2-1.5 6-.5-2.3 1.5z" fill="#010100"/>
<path d="M252.7 571.3l2.1-1.6 6-.8-2.1 1.7z" fill="#010100"/>
<path d="M232.7 575.9l2-1.7 6-1.1-2 1.8z" fill="#010200"/>
<path d="M212.8 581.4l1.9-1.8 6-1.3-1.9 1.8z" fill="#020500"/>
<path d="M193 587.9l1.7-1.9 6.1-1.6-1.8 1.9z" fill="#010900"/>
<path d="M173.2 595.2l1.7-2 6-1.9-1.7 2z" fill="#000e02"/>
<path d="M153.6 603.4l1.5-2 6.1-2.2-1.6 2.1z" fill="#00150a"/>
<path d="M134.1 612.6l1.4-2.1 6.1-2.5-1.5 2.1z" fill="#001c18"/>
<path d="M327.3 561.7l2.5-1.2 5.9 .2-2.6 1.3z" fill="#000000"/>
<path d="M307.1 563l2.4-1.4 6 0-2.5 1.4z" fill="#000000"/>
<path d="M286.9 565.1l2.4-1.4 5.9-.3-2.3 1.4z" fill="#000000"/>
<path d="M266.8 568.2l2.2-1.5 6-.6-2.2 1.5z" fill="#000000"/>
<path d="M246.7 572.2l2.1-1.6 6-.9-2.1 1.6z" fill="#000000"/>
<path d="M226.7 577.1l2-1.7 6-1.2-2 1.7z" fill="#000000"/>
<path d="M206.8 582.8l1.9-1.7 6-1.5-1.9 1.8z" fill="#000000"/>
<path d="M187 589.5l1.7-1.8 6-1.7-1.7 1.9z" fill="#000000"/>
<path d="M167.2 597.2l1.6-1.9 6.1-2.1-1.7 2z" fill="#000000"/>
<path d="M147.6 605.7l1.5-2 6-2.3-1.5 2z" fill="#000603"/>
<path d="M128.1 615.1l1.4-2 6-2.6-1.4 2.1z" fill="#000f0e"/>
<path d="M321.4 561.6l2.5-1.2 5.9 .1-2.5 1.2z" fill="#000000"/>
<path d="M301.2 563.1l2.4-1.3 5.9-.2-2.4 1.4z" fill="#000000"/>
<path d="M281 565.6l2.3-1.4 6-.5-2.4 1.4z" fill="#000000"/>
<path d="M260.8 568.9l2.2-1.5 6-.7-2.2 1.5z" fill="#000000"/>
<path d="M240.7 573.1l2.1-1.5 6-1-2.1 1.6z" fill="#000000"/>
<path d="M220.7 578.3l2-1.7 6-1.2-2 1.7z" fill="#000000"/>
<path d="M200.8 584.4l1.8-1.8 6.1-1.5-1.9 1.7z" fill="#000000"/>
<path d="M180.9 591.3l1.7-1.8 6.1-1.8-1.7 1.8z" fill="#000000"/>
<path d="M161.2 599.2l1.6-1.8 6-2.1-1.6 1.9z" fill="#000000"/>
<path d="M141.6 608l1.4-1.9 6.1-2.4-1.5 2z" fill="#000000"/>
<path d="M122.1 617.7l1.3-1.9 6.1-2.7-1.4 2z" fill="#000000"/>
<path d="M315.5 561.6l2.4-1.2 6 0-2.5 1.2z" fill="#000000"/>
<path d="M295.2 563.4l2.4-1.3 6-.3-2.4 1.3z" fill="#000000"/>
<path d="M275 566.1l2.3-1.4 6-.5-2.3 1.4z" fill="#000000"/>
<path d="M254.8 569.7l2.2-1.5 6-.8-2.2 1.5z" fill="#000000"/>
<path d="M234.7 574.2l2.1-1.5 6-1.1-2.1 1.5z" fill="#000000"/>
<path d="M214.7 579.6l1.9-1.6 6.1-1.4-2 1.7z" fill="#000000"/>
<path d="M194.7 586l1.9-1.7 6-1.7-1.8 1.8z" fill="#000000"/>
<path d="M174.9 593.2l1.7-1.7 6-2-1.7 1.8z" fill="#000000"/>
<path d="M155.1 601.4l1.6-1.8 6.1-2.2-1.6 1.8z" fill="#000000"/>
<path d="M135.5 610.5l1.5-1.9 6-2.5-1.4 1.9z" fill="#000000"/>
<path d="M329.8 560.5l2.6-1.1 5.9 .2-2.6 1.1z" fill="#000000"/>
<path d="M309.5 561.6l2.5-1.1 5.9-.1-2.4 1.2z" fill="#000000"/>
<path d="M289.3 563.7l2.3-1.2 6-.4-2.4 1.3z" fill="#000000"/>
<path d="M269 566.7l2.3-1.4 6-.6-2.3 1.4z" fill="#000000"/>
<path d="M248.8 570.6l2.2-1.5 6-.9-2.2 1.5z" fill="#000000"/>
<path d="M228.7 575.4l2-1.5 6.1-1.2-2.1 1.5z" fill="#000000"/>
<path d="M208.7 581.1l1.9-1.6 6-1.5-1.9 1.6z" fill="#000000"/>
<path d="M188.7 587.7l1.8-1.6 6.1-1.8-1.9 1.7z" fill="#000000"/>
<path d="M168.8 595.3l1.7-1.8 6.1-2-1.7 1.7z" fill="#000000"/>
<path d="M149.1 603.7l1.5-1.8 6.1-2.3-1.6 1.8z" fill="#000000"/>
<path d="M129.5 613.1l1.4-1.9 6.1-2.6-1.5 1.9z" fill="#000000"/>
<path d="M323.9 560.4l2.5-1.1 6 .1-2.6 1.1z" fill="#000000"/>
<path d="M303.6 561.8l2.4-1.1 6-.2-2.5 1.1z" fill="#000000"/>
<path d="M283.3 564.2l2.3-1.3 6-.4-2.3 1.2z" fill="#000000"/>
<path d="M263 567.4l2.2-1.3 6.1-.8-2.3 1.4z" fill="#000000"/>
<path d="M242.8 571.6l2.1-1.4 6.1-1.1-2.2 1.5z" fill="#000000"/>
<path d="M222.7 576.6l2-1.4 6-1.3-2 1.5z" fill="#000000"/>
<path d="M202.6 582.6l1.9-1.5 6.1-1.6-1.9 1.6z" fill="#000000"/>
<path d="M182.6 589.5l1.8-1.6 6.1-1.8-1.8 1.6z" fill="#000000"/>
<path d="M162.8 597.4l1.6-1.7 6.1-2.2-1.7 1.8z" fill="#000000"/>
<path d="M143 606.1l1.5-1.8 6.1-2.4-1.5 1.8z" fill="#000000"/>
<path d="M123.4 615.8l1.4-1.9 6.1-2.7-1.4 1.9z" fill="#000000"/>
<path d="M317.9 560.4l2.6-1 5.9-.1-2.5 1.1z" fill="#000000"/>
<path d="M297.6 562.1l2.4-1.1 6-.3-2.4 1.1z" fill="#000000"/>
<path d="M277.3 564.7l2.3-1.2 6-.6-2.3 1.3z" fill="#000000"/>
<path d="M257 568.2l2.2-1.3 6-.8-2.2 1.3z" fill="#000000"/>
<path d="M236.8 572.7l2-1.4 6.1-1.1-2.1 1.4z" fill="#000000"/>
<path d="M216.6 578l2-1.4 6.1-1.4-2 1.4z" fill="#000000"/>
<path d="M196.6 584.3l1.8-1.5 6.1-1.7-1.9 1.5z" fill="#000000"/>
<path d="M176.6 591.5l1.7-1.6 6.1-2-1.8 1.6z" fill="#000000"/>
<path d="M156.7 599.6l1.6-1.7 6.1-2.2-1.6 1.7z" fill="#000000"/>
<path d="M137 608.6l1.4-1.7 6.1-2.6-1.5 1.8z" fill="#000000"/>
<path d="M332.4 559.4l2.6-.9 5.9 .2-2.6 .9z" fill="#000000"/>
<path d="M312 560.5l2.5-1 6-.1-2.6 1z" fill="#000000"/>
<path d="M291.6 562.5l2.4-1.1 6-.4-2.4 1.1z" fill="#000000"/>
<path d="M271.3 565.3l2.2-1.1 6.1-.7-2.3 1.2z" fill="#000000"/>
<path d="M251 569.1l2.1-1.2 6.1-1-2.2 1.3z" fill="#000000"/>
<path d="M230.7 573.9l2.1-1.4 6-1.2-2 1.4z" fill="#000000"/>
<path d="M210.6 579.5l1.9-1.4 6.1-1.5-2 1.4z" fill="#000000"/>
<path d="M190.5 586.1l1.8-1.5 6.1-1.8-1.8 1.5z" fill="#000000"/>
<path d="M170.5 593.5l1.7-1.5 6.1-2.1-1.7 1.6z" fill="#000000"/>
<path d="M150.6 601.9l1.6-1.6 6.1-2.4-1.6 1.7z" fill="#000000"/>
<path d="M130.9 611.2l1.4-1.7 6.1-2.6-1.4 1.7z" fill="#000000"/>
<path d="M326.4 559.3l2.6-.8 6 0-2.6 .9z" fill="#000000"/>
<path d="M306 560.7l2.4-1 6.1-.2-2.5 1z" fill="#000000"/>
<path d="M285.6 562.9l2.3-1 6.1-.5-2.4 1.1z" fill="#000000"/>
<path d="M265.2 566.1l2.3-1.2 6-.7-2.2 1.1z" fill="#000000"/>
<path d="M244.9 570.2l2.1-1.3 6.1-1-2.1 1.2z" fill="#000000"/>
<path d="M224.7 575.2l2-1.3 6.1-1.4-2.1 1.4z" fill="#000000"/>
<path d="M204.5 581.1l1.9-1.4 6.1-1.6-1.9 1.4z" fill="#000000"/>
<path d="M184.4 587.9l1.7-1.4 6.2-1.9-1.8 1.5z" fill="#000000"/>
<path d="M164.4 595.7l1.6-1.5 6.2-2.2-1.7 1.5z" fill="#000000"/>
<path d="M144.5 604.3l1.6-1.5 6.1-2.5-1.6 1.6z" fill="#000000"/>
<path d="M124.8 613.9l1.4-1.6 6.1-2.8-1.4 1.7z" fill="#000000"/>
<path d="M320.5 559.4l2.5-.9 6 0-2.6 .8z" fill="#000000"/>
<path d="M300 561l2.4-1 6-.3-2.4 1z" fill="#000000"/>
<path d="M279.6 563.5l2.3-1 6-.6-2.3 1z" fill="#000000"/>
<path d="M259.2 566.9l2.2-1.1 6.1-.9-2.3 1.2z" fill="#000000"/>
<path d="M238.8 571.3l2.1-1.2 6.1-1.2-2.1 1.3z" fill="#000000"/>
<path d="M218.6 576.6l1.9-1.3 6.2-1.4-2 1.3z" fill="#000000"/>
<path d="M198.4 582.8l1.8-1.4 6.2-1.7-1.9 1.4z" fill="#000000"/>
<path d="M178.3 589.9l1.7-1.4 6.1-2-1.7 1.4z" fill="#000000"/>
<path d="M158.3 597.9l1.6-1.5 6.1-2.2-1.6 1.5z" fill="#000000"/>
<path d="M138.4 606.9l1.5-1.6 6.2-2.5-1.6 1.5z" fill="#000000"/>
<path d="M335 558.5l2.6-.7 6 .1-2.7 .8z" fill="#000000"/>
<path d="M314.5 559.5l2.5-.8 6-.2-2.5 .9z" fill="#000000"/>
<path d="M294 561.4l2.4-.9 6-.5-2.4 1z" fill="#000000"/>
<path d="M273.5 564.2l2.3-1 6.1-.7-2.3 1z" fill="#000000"/>
<path d="M253.1 567.9l2.2-1.1 6.1-1-2.2 1.1z" fill="#000000"/>
<path d="M232.8 572.5l2-1.1 6.1-1.3-2.1 1.2z" fill="#000000"/>
<path d="M212.5 578.1l1.9-1.3 6.1-1.5-1.9 1.3z" fill="#000000"/>
<path d="M192.3 584.6l1.8-1.3 6.1-1.9-1.8 1.4z" fill="#000000"/>
<path d="M172.2 592l1.7-1.4 6.1-2.1-1.7 1.4z" fill="#000000"/>
<path d="M152.2 600.3l1.6-1.5 6.1-2.4-1.6 1.5z" fill="#000000"/>
<path d="M132.3 609.5l1.5-1.5 6.1-2.7-1.5 1.6z" fill="#000000"/>
<path d="M329 558.5l2.6-.7 6 0-2.6 .7z" fill="#000000"/>
<path d="M308.4 559.7l2.5-.8 6.1-.2-2.5 .8z" fill="#000000"/>
<path d="M287.9 561.9l2.4-.9 6.1-.5-2.4 .9z" fill="#000000"/>
<path d="M267.5 564.9l2.2-.9 6.1-.8-2.3 1z" fill="#000000"/>
<path d="M247 568.9l2.2-1 6.1-1.1-2.2 1.1z" fill="#000000"/>
<path d="M226.7 573.9l2-1.2 6.1-1.3-2 1.1z" fill="#000000"/>
<path d="M206.4 579.7l1.9-1.2 6.1-1.7-1.9 1.3z" fill="#000000"/>
<path d="M186.1 586.5l1.8-1.3 6.2-1.9-1.8 1.3z" fill="#000000"/>
<path d="M166 594.2l1.7-1.4 6.2-2.2-1.7 1.4z" fill="#000000"/>
<path d="M146.1 602.8l1.5-1.4 6.2-2.6-1.6 1.5z" fill="#000000"/>
<path d="M126.2 612.3l1.4-1.5 6.2-2.8-1.5 1.5z" fill="#000000"/>
<path d="M323 558.5l2.5-.6 6.1-.1-2.6 .7z" fill="#000000"/>
<path d="M302.4 560l2.5-.7 6-.4-2.5 .8z" fill="#000000"/>
<path d="M281.9 562.5l2.3-.9 6.1-.6-2.4 .9z" fill="#000000"/>
<path d="M261.4 565.8l2.2-.9 6.1-.9-2.2 .9z" fill="#000000"/>
<path d="M240.9 570.1l2.1-1 6.2-1.2-2.2 1z" fill="#000000"/>
<path d="M220.5 575.3l2-1.1 6.2-1.5-2 1.2z" fill="#000000"/>
<path d="M200.2 581.4l1.9-1.1 6.2-1.8-1.9 1.2z" fill="#000000"/>
<path d="M180 588.5l1.8-1.3 6.1-2-1.8 1.3z" fill="#000000"/>
<path d="M159.9 596.4l1.6-1.3 6.2-2.3-1.7 1.4z" fill="#000000"/>
<path d="M139.9 605.3l1.5-1.3 6.2-2.6-1.5 1.4z" fill="#000000"/>
<path d="M337.6 557.8l2.6-.5 6 .1-2.6 .5z" fill="#000000"/>
<path d="M317 558.7l2.5-.6 6-.2-2.5 .6z" fill="#000000"/>
<path d="M296.4 560.5l2.4-.8 6.1-.4-2.5 .7z" fill="#000000"/>
<path d="M275.8 563.2l2.3-.8 6.1-.8-2.3 .9z" fill="#000000"/>
<path d="M255.3 566.8l2.2-.9 6.1-1-2.2 .9z" fill="#000000"/>
<path d="M234.8 571.4l2.1-1 6.1-1.3-2.1 1z" fill="#000000"/>
<path d="M214.4 576.8l2-1 6.1-1.6-2 1.1z" fill="#000000"/>
<path d="M194.1 583.3l1.8-1.2 6.2-1.8-1.9 1.1z" fill="#000000"/>
<path d="M173.9 590.6l1.7-1.2 6.2-2.2-1.8 1.3z" fill="#000000"/>
<path d="M153.8 598.8l1.6-1.2 6.1-2.5-1.6 1.3z" fill="#000000"/>
<path d="M133.8 608l1.4-1.3 6.2-2.7-1.5 1.3z" fill="#000000"/>
<path d="M331.6 557.8l2.6-.5 6 0-2.6 .5z" fill="#000000"/>
<path d="M310.9 558.9l2.5-.6 6.1-.2-2.5 .6z" fill="#000000"/>
<path d="M290.3 561l2.4-.7 6.1-.6-2.4 .8z" fill="#000000"/>
<path d="M269.7 564l2.3-.8 6.1-.8-2.3 .8z" fill="#000000"/>
<path d="M249.2 567.9l2.1-.9 6.2-1.1-2.2 .9z" fill="#000000"/>
<path d="M228.7 572.7l2-.9 6.2-1.4-2.1 1z" fill="#000000"/>
<path d="M208.3 578.5l1.9-1 6.2-1.7-2 1z" fill="#000000"/>
<path d="M187.9 585.2l1.8-1.1 6.2-2-1.8 1.2z" fill="#000000"/>
<path d="M167.7 592.8l1.7-1.2 6.2-2.2-1.7 1.2z" fill="#000000"/>
<path d="M147.6 601.4l1.6-1.3 6.2-2.5-1.6 1.2z" fill="#000000"/>
<path d="M127.6 610.8l1.5-1.3 6.1-2.8-1.4 1.3z" fill="#000000"/>
<path d="M325.5 557.9l2.6-.5 6.1-.1-2.6 .5z" fill="#000000"/>
<path d="M304.9 559.3l2.4-.6 6.1-.4-2.5 .6z" fill="#000000"/>
<path d="M284.2 561.6l2.4-.6 6.1-.7-2.4 .7z" fill="#000000"/>
<path d="M263.6 564.9l2.2-.8 6.2-.9-2.3 .8z" fill="#000000"/>
<path d="M243 569.1l2.2-.8 6.1-1.3-2.1 .9z" fill="#000000"/>
<path d="M222.5 574.2l2-.9 6.2-1.5-2 .9z" fill="#000000"/>
<path d="M202.1 580.3l1.9-1 6.2-1.8-1.9 1z" fill="#000000"/>
<path d="M181.8 587.2l1.7-1 6.2-2.1-1.8 1.1z" fill="#000000"/>
<path d="M161.5 595.1l1.7-1.1 6.2-2.4-1.7 1.2z" fill="#000000"/>
<path d="M141.4 604l1.6-1.2 6.2-2.7-1.6 1.3z" fill="#000000"/>
<path d="M340.2 557.3l2.7-.4 6 .1-2.7 .4z" fill="#000000"/>
<path d="M319.5 558.1l2.5-.5 6.1-.2-2.6 .5z" fill="#000000"/>
<path d="M298.8 559.7l2.4-.5 6.1-.5-2.4 .6z" fill="#000000"/>
<path d="M278.1 562.4l2.3-.7 6.2-.7-2.4 .6z" fill="#000000"/>
<path d="M257.5 565.9l2.2-.7 6.1-1.1-2.2 .8z" fill="#000000"/>
<path d="M236.9 570.4l2.1-.8 6.2-1.3-2.2 .8z" fill="#000000"/>
<path d="M216.4 575.8l1.9-.9 6.2-1.6-2 .9z" fill="#000000"/>
<path d="M195.9 582.1l1.9-.9 6.2-1.9-1.9 1z" fill="#000000"/>
<path d="M175.6 589.4l1.7-1 6.2-2.2-1.7 1z" fill="#000000"/>
<path d="M155.4 597.6l1.6-1.1 6.2-2.5-1.7 1.1z" fill="#000000"/>
<path d="M135.2 606.7l1.5-1.1 6.3-2.8-1.6 1.2z" fill="#000000"/>
<path d="M334.2 557.3l2.6-.3 6.1-.1-2.7 .4z" fill="#000000"/>
<path d="M313.4 558.3l2.5-.4 6.1-.3-2.5 .5z" fill="#000000"/>
<path d="M292.7 560.3l2.4-.5 6.1-.6-2.4 .5z" fill="#000000"/>
<path d="M272 563.2l2.3-.6 6.1-.9-2.3 .7z" fill="#000000"/>
<path d="M251.3 567l2.2-.6 6.2-1.2-2.2 .7z" fill="#000000"/>
<path d="M230.7 571.8l2.1-.8 6.2-1.4-2.1 .8z" fill="#000000"/>
<path d="M210.2 577.5l1.9-.9 6.2-1.7-1.9 .9z" fill="#000000"/>
<path d="M189.7 584.1l1.9-.9 6.2-2-1.9 .9z" fill="#000000"/>
<path d="M169.4 591.6l1.7-.9 6.2-2.3-1.7 1z" fill="#000000"/>
<path d="M149.2 600.1l1.5-1 6.3-2.6-1.6 1.1z" fill="#000000"/>
<path d="M129.1 609.5l1.4-1.1 6.2-2.8-1.5 1.1z" fill="#000000"/>
<path d="M328.1 557.4l2.6-.3 6.1-.1-2.6 .3z" fill="#000000"/>
<path d="M307.3 558.7l2.5-.4 6.1-.4-2.5 .4z" fill="#000000"/>
<path d="M286.6 561l2.3-.5 6.2-.7-2.4 .5z" fill="#000000"/>
<path d="M265.8 564.1l2.3-.5 6.2-1-2.3 .6z" fill="#000000"/>
<path d="M245.2 568.3l2.1-.7 6.2-1.2-2.2 .6z" fill="#000000"/>
<path d="M224.5 573.3l2.1-.7 6.2-1.6-2.1 .8z" fill="#000000"/>
<path d="M204 579.3l1.9-.8 6.2-1.9-1.9 .9z" fill="#000000"/>
<path d="M183.5 586.2l1.8-.9 6.3-2.1-1.9 .9z" fill="#000000"/>
<path d="M163.2 594l1.7-.9 6.2-2.4-1.7 .9z" fill="#000000"/>
<path d="M143 602.8l1.5-1 6.2-2.7-1.5 1z" fill="#000000"/>
<path d="M342.9 556.9l2.6-.1 6.1 0-2.7 .2z" fill="#000000"/>
<path d="M322 557.6l2.6-.2 6.1-.3-2.6 .3z" fill="#000000"/>
<path d="M301.2 559.2l2.5-.3 6.1-.6-2.5 .4z" fill="#000000"/>
<path d="M280.4 561.7l2.4-.4 6.1-.8-2.3 .5z" fill="#000000"/>
<path d="M259.7 565.2l2.2-.5 6.2-1.1-2.3 .5z" fill="#000000"/>
<path d="M239 569.6l2.1-.6 6.2-1.4-2.1 .7z" fill="#000000"/>
<path d="M218.3 574.9l2.1-.7 6.2-1.6-2.1 .7z" fill="#000000"/>
<path d="M197.8 581.2l1.9-.8 6.2-1.9-1.9 .8z" fill="#000000"/>
<path d="M177.3 588.4l1.8-.9 6.2-2.2-1.8 .9z" fill="#000000"/>
<path d="M157 596.5l1.6-.9 6.3-2.5-1.7 .9z" fill="#000000"/>
<path d="M136.7 605.6l1.6-1 6.2-2.8-1.5 1z" fill="#000000"/>
<path d="M336.8 557l2.6-.1 6.1-.1-2.6 .1z" fill="#000000"/>
<path d="M315.9 557.9l2.6-.2 6.1-.3-2.6 .2z" fill="#000000"/>
<path d="M295.1 559.8l2.4-.3 6.2-.6-2.5 .3z" fill="#000000"/>
<path d="M274.3 562.6l2.3-.4 6.2-.9-2.4 .4z" fill="#000000"/>
<path d="M253.5 566.4l2.2-.5 6.2-1.2-2.2 .5z" fill="#000000"/>
<path d="M232.8 571l2.1-.5 6.2-1.5-2.1 .6z" fill="#000000"/>
<path d="M212.1 576.6l2-.6 6.3-1.8-2.1 .7z" fill="#000000"/>
<path d="M191.6 583.2l1.8-.7 6.3-2.1-1.9 .8z" fill="#000000"/>
<path d="M171.1 590.7l1.7-.8 6.3-2.4-1.8 .9z" fill="#000000"/>
<path d="M150.7 599.1l1.7-.9 6.2-2.6-1.6 .9z" fill="#000000"/>
<path d="M130.5 608.4l1.5-.9 6.3-2.9-1.6 1z" fill="#000000"/>
<path d="M330.7 557.1l2.6-.1 6.1-.1-2.6 .1z" fill="#000000"/>
<path d="M309.8 558.3l2.5-.2 6.2-.4-2.6 .2z" fill="#000000"/>
<path d="M288.9 560.5l2.4-.3 6.2-.7-2.4 .3z" fill="#000000"/>
<path d="M268.1 563.6l2.3-.4 6.2-1-2.3 .4z" fill="#000000"/>
<path d="M247.3 567.6l2.2-.4 6.2-1.3-2.2 .5z" fill="#000000"/>
<path d="M226.6 572.6l2-.6 6.3-1.5-2.1 .5z" fill="#000000"/>
<path d="M205.9 578.5l2-.6 6.2-1.9-2 .6z" fill="#000000"/>
<path d="M185.3 585.3l1.9-.7 6.2-2.1-1.8 .7z" fill="#000000"/>
<path d="M164.9 593.1l1.7-.8 6.2-2.4-1.7 .8z" fill="#000000"/>
<path d="M144.5 601.8l1.6-.8 6.3-2.8-1.7 .9z" fill="#000000"/>
<path d="M345.5 556.8l2.7 0 6.1 0-2.7 0z" fill="#000000"/>
<path d="M324.6 557.4l2.6-.1 6.1-.3-2.6 .1z" fill="#000000"/>
<path d="M303.7 558.9l2.5-.2 6.1-.6-2.5 .2z" fill="#000000"/>
<path d="M282.8 561.3l2.3-.3 6.2-.8-2.4 .3z" fill="#000000"/>
<path d="M261.9 564.7l2.3-.4 6.2-1.1-2.3 .4z" fill="#000000"/>
<path d="M241.1 569l2.1-.4 6.3-1.4-2.2 .4z" fill="#000000"/>
<path d="M220.4 574.2l2-.5 6.2-1.7-2 .6z" fill="#000000"/>
<path d="M199.7 580.4l1.9-.6 6.3-1.9-2 .6z" fill="#000000"/>
<path d="M179.1 587.5l1.8-.6 6.3-2.3-1.9 .7z" fill="#000000"/>
<path d="M158.6 595.6l1.7-.7 6.3-2.6-1.7 .8z" fill="#000000"/>
<path d="M138.3 604.6l1.5-.8 6.3-2.8-1.6 .8z" fill="#000000"/>
<path d="M339.4 556.9l2.7 0 6.1-.1-2.7 0z" fill="#000000"/>
<path d="M318.5 557.7l2.5 0 6.2-.4-2.6 .1z" fill="#000000"/>
<path d="M297.5 559.5l2.5-.1 6.2-.7-2.5 .2z" fill="#000000"/>
<path d="M276.6 562.2l2.3-.2 6.2-1-2.3 .3z" fill="#000000"/>
<path d="M255.7 565.9l2.2-.3 6.3-1.3-2.3 .4z" fill="#000000"/>
<path d="M234.9 570.5l2.1-.4 6.2-1.5-2.1 .4z" fill="#000000"/>
<path d="M214.1 576l2-.5 6.3-1.8-2 .5z" fill="#000000"/>
<path d="M193.4 582.5l1.9-.6 6.3-2.1-1.9 .6z" fill="#000000"/>
<path d="M172.8 589.9l1.8-.6 6.3-2.4-1.8 .6z" fill="#000000"/>
<path d="M152.4 598.2l1.6-.7 6.3-2.6-1.7 .7z" fill="#000000"/>
<path d="M132 607.5l1.5-.7 6.3-3-1.5 .8z" fill="#000000"/>
<path d="M333.3 557l2.6 .1 6.2-.2-2.7 0z" fill="#000000"/>
<path d="M312.3 558.1l2.5 .1 6.2-.5-2.5 0z" fill="#000000"/>
<path d="M291.3 560.2l2.5-.1 6.2-.7-2.5 .1z" fill="#000000"/>
<path d="M270.4 563.2l2.3-.2 6.2-1-2.3 .2z" fill="#000000"/>
<path d="M249.5 567.2l2.2-.3 6.2-1.3-2.2 .3z" fill="#000000"/>
<path d="M228.6 572l2.1-.3 6.3-1.6-2.1 .4z" fill="#000000"/>
<path d="M207.9 577.9l1.9-.5 6.3-1.9-2 .5z" fill="#000000"/>
<path d="M187.2 584.6l1.8-.5 6.3-2.2-1.9 .6z" fill="#000000"/>
<path d="M166.6 592.3l1.7-.6 6.3-2.4-1.8 .6z" fill="#000000"/>
<path d="M146.1 601l1.6-.7 6.3-2.8-1.6 .7z" fill="#000000"/>
<path d="M348.2 556.8l2.7 .3 6.2-.1-2.8-.2z" fill="#000000"/>
<path d="M327.2 557.3l2.6 .1 6.1-.3-2.6-.1z" fill="#000000"/>
<path d="M306.2 558.7l2.4 0 6.2-.5-2.5-.1z" fill="#000000"/>
<path d="M285.1 561l2.4 0 6.3-.9-2.5 .1z" fill="#000000"/>
<path d="M264.2 564.3l2.2-.1 6.3-1.2-2.3 .2z" fill="#000000"/>
<path d="M243.2 568.6l2.2-.3 6.3-1.4-2.2 .3z" fill="#000000"/>
<path d="M222.4 573.7l2-.3 6.3-1.7-2.1 .3z" fill="#000000"/>
<path d="M201.6 579.8l1.9-.4 6.3-2-1.9 .5z" fill="#000000"/>
<path d="M180.9 586.9l1.8-.5 6.3-2.3-1.8 .5z" fill="#000000"/>
<path d="M160.3 594.9l1.7-.6 6.3-2.6-1.7 .6z" fill="#000000"/>
<path d="M139.8 603.8l1.6-.6 6.3-2.9-1.6 .7z" fill="#000000"/>
<path d="M342.1 556.9l2.7 .3 6.1-.1-2.7-.3z" fill="#000000"/>
<path d="M321 557.7l2.6 .1 6.2-.4-2.6-.1z" fill="#000000"/>
<path d="M300 559.4l2.4 0 6.2-.7-2.4 0z" fill="#000000"/>
<path d="M278.9 562l2.4 0 6.2-1-2.4 0z" fill="#000000"/>
<path d="M257.9 565.6l2.3-.2 6.2-1.2-2.2 .1z" fill="#000000"/>
<path d="M237 570.1l2.1-.2 6.3-1.6-2.2 .3z" fill="#000000"/>
<path d="M216.1 575.5l2-.3 6.3-1.8-2 .3z" fill="#000000"/>
<path d="M195.3 581.9l1.9-.3 6.3-2.2-1.9 .4z" fill="#000000"/>
<path d="M174.6 589.3l1.8-.5 6.3-2.4-1.8 .5z" fill="#000000"/>
<path d="M154 597.5l1.6-.4 6.4-2.8-1.7 .6z" fill="#000000"/>
<path d="M133.5 606.8l1.5-.6 6.4-3-1.6 .6z" fill="#000000"/>
<path d="M335.9 557.1l2.7 .3 6.2-.2-2.7-.3z" fill="#000000"/>
<path d="M314.8 558.2l2.6 .1 6.2-.5-2.6-.1z" fill="#000000"/>
<path d="M293.8 560.1l2.4 .1 6.2-.8-2.4 0z" fill="#000000"/>
<path d="M272.7 563l2.3 0 6.3-1-2.4 0z" fill="#000000"/>
<path d="M251.7 566.9l2.2-.1 6.3-1.4-2.3 .2z" fill="#000000"/>
<path d="M230.7 571.7l2.1-.2 6.3-1.6-2.1 .2z" fill="#000000"/>
<path d="M209.8 577.4l2-.2 6.3-2-2 .3z" fill="#000000"/>
<path d="M189 584.1l1.9-.3 6.3-2.2-1.9 .3z" fill="#000000"/>
<path d="M168.3 591.7l1.7-.3 6.4-2.6-1.8 .5z" fill="#000000"/>
<path d="M147.7 600.3l1.6-.4 6.3-2.8-1.6 .4z" fill="#000000"/>
<path d="M350.9 557.1l2.8 .4 6.1-.1-2.7-.4z" fill="#000000"/>
<path d="M329.8 557.4l2.6 .4 6.2-.4-2.7-.3z" fill="#000000"/>
<path d="M308.6 558.7l2.6 .3 6.2-.7-2.6-.1z" fill="#000000"/>
<path d="M287.5 561l2.4 .1 6.3-.9-2.4-.1z" fill="#000000"/>
<path d="M266.4 564.2l2.3 0 6.3-1.2-2.3 0z" fill="#000000"/>
<path d="M245.4 568.3l2.2 0 6.3-1.5-2.2 .1z" fill="#000000"/>
<path d="M224.4 573.4l2.1-.1 6.3-1.8-2.1 .2z" fill="#000000"/>
<path d="M203.5 579.4l2-.2 6.3-2-2 .2z" fill="#000000"/>
<path d="M182.7 586.4l1.8-.3 6.4-2.3-1.9 .3z" fill="#000000"/>
<path d="M162 594.3l1.7-.3 6.3-2.6-1.7 .3z" fill="#000000"/>
<path d="M141.4 603.2l1.5-.4 6.4-2.9-1.6 .4z" fill="#000000"/>
<path d="M344.8 557.2l2.7 .5 6.2-.2-2.8-.4z" fill="#000000"/>
<path d="M323.6 557.8l2.6 .4 6.2-.4-2.6-.4z" fill="#000000"/>
<path d="M302.4 559.4l2.5 .3 6.3-.7-2.6-.3z" fill="#000000"/>
<path d="M281.3 562l2.4 .1 6.2-1-2.4-.1z" fill="#000000"/>
<path d="M260.2 565.4l2.2 .1 6.3-1.3-2.3 0z" fill="#000000"/>
<path d="M239.1 569.9l2.2 0 6.3-1.6-2.2 0z" fill="#000000"/>
<path d="M218.1 575.2l2 0 6.4-1.9-2.1 .1z" fill="#000000"/>
<path d="M197.2 581.6l1.9-.2 6.4-2.2-2 .2z" fill="#000000"/>
<path d="M176.4 588.8l1.8-.2 6.3-2.5-1.8 .3z" fill="#000000"/>
<path d="M155.6 597.1l1.7-.3 6.4-2.8-1.7 .3z" fill="#000000"/>
<path d="M135 606.2l1.6-.3 6.3-3.1-1.5 .4z" fill="#000000"/>
<path d="M338.6 557.4l2.7 .5 6.2-.2-2.7-.5z" fill="#000000"/>
<path d="M317.4 558.3l2.6 .4 6.2-.5-2.6-.4z" fill="#000000"/>
<path d="M296.2 560.2l2.5 .3 6.2-.8-2.5-.3z" fill="#000000"/>
<path d="M275 563l2.4 .2 6.3-1.1-2.4-.1z" fill="#000000"/>
<path d="M253.9 566.8l2.2 .1 6.3-1.4-2.2-.1z" fill="#000000"/>
<path d="M232.8 571.5l2.1 .1 6.4-1.7-2.2 0z" fill="#000000"/>
<path d="M211.8 577.2l2-.1 6.3-1.9-2 0z" fill="#000000"/>
<path d="M190.9 583.8l1.8-.1 6.4-2.3-1.9 .2z" fill="#000000"/>
<path d="M170 591.4l1.8-.2 6.4-2.6-1.8 .2z" fill="#000000"/>
<path d="M149.3 599.9l1.6-.3 6.4-2.8-1.7 .3z" fill="#000000"/>
<path d="M353.7 557.5l2.7 .6 6.2-.1-2.8-.6z" fill="#000000"/>
<path d="M332.4 557.8l2.7 .5 6.2-.4-2.7-.5z" fill="#000000"/>
<path d="M311.2 559l2.5 .4 6.3-.7-2.6-.4z" fill="#000000"/>
<path d="M289.9 561.1l2.5 .3 6.3-.9-2.5-.3z" fill="#000000"/>
<path d="M268.7 564.2l2.4 .3 6.3-1.3-2.4-.2z" fill="#000000"/>
<path d="M247.6 568.3l2.2 .1 6.3-1.5-2.2-.1z" fill="#000000"/>
<path d="M226.5 573.3l2.1 .1 6.3-1.8-2.1-.1z" fill="#000000"/>
<path d="M205.5 579.2l1.9 0 6.4-2.1-2 .1z" fill="#000000"/>
<path d="M184.5 586.1l1.9 0 6.3-2.4-1.8 .1z" fill="#000000"/>
<path d="M163.7 594l1.7-.1 6.4-2.7-1.8 .2z" fill="#000000"/>
<path d="M142.9 602.8l1.6-.2 6.4-3-1.6 .3z" fill="#000000"/>
<path d="M347.5 557.7l2.7 .6 6.2-.2-2.7-.6z" fill="#000000"/>
<path d="M326.2 558.2l2.6 .6 6.3-.5-2.7-.5z" fill="#000000"/>
<path d="M304.9 559.7l2.5 .4 6.3-.7-2.5-.4z" fill="#000000"/>
<path d="M283.7 562.1l2.4 .4 6.3-1.1-2.5-.3z" fill="#000000"/>
<path d="M262.4 565.5l2.3 .3 6.4-1.3-2.4-.3z" fill="#000000"/>
<path d="M241.3 569.9l2.1 .2 6.4-1.7-2.2-.1z" fill="#000000"/>
<path d="M220.1 575.2l2.1 .1 6.4-1.9-2.1-.1z" fill="#000000"/>
<path d="M199.1 581.4l1.9 0 6.4-2.2-1.9 0z" fill="#000000"/>
<path d="M178.2 588.6l1.8 0 6.4-2.5-1.9 0z" fill="#000000"/>
<path d="M157.3 596.8l1.7-.2 6.4-2.7-1.7 .1z" fill="#000000"/>
<path d="M136.6 605.9l1.5-.2 6.4-3.1-1.6 .2z" fill="#000000"/>
<path d="M341.3 557.9l2.7 .7 6.2-.3-2.7-.6z" fill="#000000"/>
<path d="M320 558.7l2.5 .6 6.3-.5-2.6-.6z" fill="#000000"/>
<path d="M298.7 560.5l2.4 .5 6.3-.9-2.5-.4z" fill="#000000"/>
<path d="M277.4 563.2l2.3 .4 6.4-1.1-2.4-.4z" fill="#000000"/>
<path d="M256.1 566.9l2.3 .3 6.3-1.4-2.3-.3z" fill="#000000"/>
<path d="M234.9 571.6l2.2 .2 6.3-1.7-2.1-.2z" fill="#000000"/>
<path d="M213.8 577.1l2 .2 6.4-2-2.1-.1z" fill="#000000"/>
<path d="M192.7 583.7l1.9 .1 6.4-2.4-1.9 0z" fill="#000000"/>
<path d="M171.8 591.2l1.8 0 6.4-2.6-1.8 0z" fill="#000000"/>
<path d="M150.9 599.6l1.7 0 6.4-3-1.7 .2z" fill="#000000"/>
<path d="M356.4 558.1l2.8 .9 6.2-.2-2.8-.8z" fill="#000000"/>
<path d="M335.1 558.3l2.6 .7 6.3-.4-2.7-.7z" fill="#000000"/>
<path d="M313.7 559.4l2.6 .6 6.2-.7-2.5-.6z" fill="#000000"/>
<path d="M292.4 561.4l2.4 .6 6.3-1-2.4-.5z" fill="#000000"/>
<path d="M271.1 564.5l2.3 .4 6.3-1.3-2.3-.4z" fill="#000000"/>
<path d="M249.8 568.4l2.2 .4 6.4-1.6-2.3-.3z" fill="#000000"/>
<path d="M228.6 573.4l2.1 .2 6.4-1.8-2.2-.2z" fill="#000000"/>
<path d="M207.4 579.2l2 .2 6.4-2.1-2-.2z" fill="#000000"/>
<path d="M186.4 586.1l1.8 .1 6.4-2.4-1.9-.1z" fill="#000000"/>
<path d="M165.4 593.9l1.7 0 6.5-2.7-1.8 0z" fill="#000000"/>
<path d="M144.5 602.6l1.7 0 6.4-3-1.7 0z" fill="#000000"/>
<path d="M350.2 558.3l2.7 .9 6.3-.2-2.8-.9z" fill="#000000"/>
<path d="M328.8 558.8l2.6 .7 6.3-.5-2.6-.7z" fill="#000000"/>
<path d="M307.4 560.1l2.5 .7 6.4-.8-2.6-.6z" fill="#000000"/>
<path d="M286.1 562.5l2.4 .6 6.3-1.1-2.4-.6z" fill="#000000"/>
<path d="M264.7 565.8l2.3 .5 6.4-1.4-2.3-.4z" fill="#000000"/>
<path d="M243.4 570.1l2.2 .3 6.4-1.6-2.2-.4z" fill="#000000"/>
<path d="M222.2 575.3l2.1 .3 6.4-2-2.1-.2z" fill="#000000"/>
<path d="M201 581.4l2 .3 6.4-2.3-2-.2z" fill="#000000"/>
<path d="M180 588.6l1.8 .1 6.4-2.5-1.8-.1z" fill="#000000"/>
<path d="M159 596.6l1.7 .1 6.4-2.8-1.7 0z" fill="#000000"/>
<path d="M138.1 605.7l1.6 0 6.5-3.1-1.7 0z" fill="#000000"/>
<path d="M344 558.6l2.7 .9 6.2-.3-2.7-.9z" fill="#000000"/>
<path d="M322.5 559.3l2.6 .8 6.3-.6-2.6-.7z" fill="#000000"/>
<path d="M301.1 561l2.5 .7 6.3-.9-2.5-.7z" fill="#000000"/>
<path d="M279.7 563.6l2.4 .6 6.4-1.1-2.4-.6z" fill="#000000"/>
<path d="M258.4 567.2l2.2 .5 6.4-1.4-2.3-.5z" fill="#000000"/>
<path d="M237.1 571.8l2.1 .4 6.4-1.8-2.2-.3z" fill="#000000"/>
<path d="M215.8 577.3l2.1 .3 6.4-2-2.1-.3z" fill="#000000"/>
<path d="M194.6 583.8l2 .2 6.4-2.3-2-.3z" fill="#000000"/>
<path d="M173.6 591.2l1.8 .2 6.4-2.7-1.8-.1z" fill="#000000"/>
<path d="M152.6 599.6l1.7 .1 6.4-3-1.7-.1z" fill="#000000"/>
<path d="M359.2 559l2.8 1 6.2-.2-2.8-1z" fill="#000000"/>
<path d="M337.7 559l2.7 .9 6.3-.4-2.7-.9z" fill="#000000"/>
<path d="M316.3 560l2.5 .8 6.3-.7-2.6-.8z" fill="#000000"/>
<path d="M294.8 562l2.5 .7 6.3-1-2.5-.7z" fill="#000000"/>
<path d="M273.4 564.9l2.3 .6 6.4-1.3-2.4-.6z" fill="#000000"/>
<path d="M252 568.8l2.2 .5 6.4-1.6-2.2-.5z" fill="#000000"/>
<path d="M230.7 573.6l2.1 .5 6.4-1.9-2.1-.4z" fill="#000000"/>
<path d="M209.4 579.4l2 .4 6.5-2.2-2.1-.3z" fill="#000000"/>
<path d="M188.2 586.2l1.9 .3 6.5-2.5-2-.2z" fill="#000000"/>
<path d="M167.1 593.9l1.8 .2 6.5-2.7-1.8-.2z" fill="#000000"/>
<path d="M146.2 602.6l1.6 .1 6.5-3-1.7-.1z" fill="#000000"/>
<path d="M352.9 559.2l2.8 1 6.3-.2-2.8-1z" fill="#000000"/>
<path d="M331.4 559.5l2.7 1 6.3-.6-2.7-.9z" fill="#000000"/>
<path d="M309.9 560.8l2.6 .9 6.3-.9-2.5-.8z" fill="#000000"/>
<path d="M288.5 563.1l2.4 .7 6.4-1.1-2.5-.7z" fill="#000000"/>
<path d="M267 566.3l2.3 .6 6.4-1.4-2.3-.6z" fill="#000000"/>
<path d="M245.6 570.4l2.2 .6 6.4-1.7-2.2-.5z" fill="#000000"/>
<path d="M224.3 575.6l2.1 .5 6.4-2-2.1-.5z" fill="#000000"/>
<path d="M203 581.7l2 .4 6.4-2.3-2-.4z" fill="#000000"/>
<path d="M181.8 588.7l1.9 .4 6.4-2.6-1.9-.3z" fill="#000000"/>
<path d="M160.7 596.7l1.7 .3 6.5-2.9-1.8-.2z" fill="#000000"/>
<path d="M139.7 605.7l1.6 .2 6.5-3.2-1.6-.1z" fill="#000000"/>
<path d="M346.7 559.5l2.7 1.1 6.3-.4-2.8-1z" fill="#000000"/>
<path d="M325.1 560.1l2.7 1 6.3-.6-2.7-1z" fill="#000000"/>
<path d="M303.6 561.7l2.5 .9 6.4-.9-2.6-.9z" fill="#000000"/>
<path d="M282.1 564.2l2.4 .9 6.4-1.3-2.4-.7z" fill="#000000"/>
<path d="M260.6 567.7l2.3 .8 6.4-1.6-2.3-.6z" fill="#000000"/>
<path d="M239.2 572.2l2.2 .6 6.4-1.8-2.2-.6z" fill="#000000"/>
<path d="M217.9 577.6l2 .6 6.5-2.1-2.1-.5z" fill="#000000"/>
<path d="M196.6 584l1.9 .5 6.5-2.4-2-.4z" fill="#000000"/>
<path d="M175.4 591.4l1.8 .4 6.5-2.7-1.9-.4z" fill="#000000"/>
<path d="M154.3 599.7l1.7 .3 6.4-3-1.7-.3z" fill="#000000"/>
<path d="M362 560l2.8 1.2 6.2-.1-2.8-1.3z" fill="#000000"/>
<path d="M340.4 559.9l2.7 1.2 6.3-.5-2.7-1.1z" fill="#000000"/>
<path d="M318.8 560.8l2.6 1.1 6.4-.8-2.7-1z" fill="#000000"/>
<path d="M297.3 562.7l2.5 .9 6.3-1-2.5-.9z" fill="#000000"/>
<path d="M275.7 565.5l2.4 .9 6.4-1.3-2.4-.9z" fill="#000000"/>
<path d="M254.2 569.3l2.3 .8 6.4-1.6-2.3-.8z" fill="#000000"/>
<path d="M232.8 574.1l2.1 .7 6.5-2-2.2-.6z" fill="#000000"/>
<path d="M211.4 579.8l2 .6 6.5-2.2-2-.6z" fill="#000000"/>
<path d="M190.1 586.5l1.9 .5 6.5-2.5-1.9-.5z" fill="#000000"/>
<path d="M168.9 594.1l1.8 .5 6.5-2.8-1.8-.4z" fill="#000000"/>
<path d="M147.8 602.7l1.7 .4 6.5-3.1-1.7-.3z" fill="#000000"/>
<path d="M355.7 560.2l2.8 1.3 6.3-.3-2.8-1.2z" fill="#000000"/>
<path d="M334.1 560.5l2.7 1.1 6.3-.5-2.7-1.2z" fill="#060300"/>
<path d="M312.5 561.7l2.6 1 6.3-.8-2.6-1.1z" fill="#0d0700"/>
<path d="M290.9 563.8l2.5 1 6.4-1.2-2.5-.9z" fill="#120b00"/>
<path d="M269.3 566.9l2.4 .9 6.4-1.4-2.4-.9z" fill="#140f00"/>
<path d="M247.8 571l2.3 .8 6.4-1.7-2.3-.8z" fill="#141100"/>
<path d="M226.4 576.1l2.1 .7 6.4-2-2.1-.7z" fill="#101000"/>
<path d="M205 582.1l2 .6 6.4-2.3-2-.6z" fill="#070a00"/>
<path d="M183.7 589.1l1.8 .5 6.5-2.6-1.9-.5z" fill="#000100"/>
<path d="M162.4 597l1.8 .5 6.5-2.9-1.8-.5z" fill="#000000"/>
<path d="M141.3 605.9l1.7 .5 6.5-3.3-1.7-.4z" fill="#000000"/>
<path d="M349.4 560.6l2.8 1.3 6.3-.4-2.8-1.3z" fill="#160b00"/>
<path d="M327.8 561.1l2.6 1.2 6.4-.7-2.7-1.1z" fill="#1e1000"/>
<path d="M306.1 562.6l2.6 1.1 6.4-1-2.6-1z" fill="#241400"/>
<path d="M284.5 565.1l2.4 1 6.5-1.3-2.5-1z" fill="#271a00"/>
<path d="M262.9 568.5l2.3 .9 6.5-1.6-2.4-.9z" fill="#291f00"/>
<path d="M241.4 572.8l2.2 .9 6.5-1.9-2.3-.8z" fill="#282500"/>
<path d="M219.9 578.2l2.1 .7 6.5-2.1-2.1-.7z" fill="#202400"/>
<path d="M198.5 584.5l2 .7 6.5-2.5-2-.6z" fill="#131e00"/>
<path d="M177.2 591.8l1.8 .6 6.5-2.8-1.8-.5z" fill="#081500"/>
<path d="M156 600l1.7 .6 6.5-3.1-1.8-.5z" fill="#010800"/>
<path d="M364.8 561.2l2.8 1.5 6.3-.2-2.9-1.4z" fill="#231300"/>
<path d="M343.1 561.1l2.7 1.3 6.4-.5-2.8-1.3z" fill="#2c1700"/>
<path d="M321.4 561.9l2.6 1.2 6.4-.8-2.6-1.2z" fill="#321b00"/>
<path d="M299.8 563.6l2.5 1.2 6.4-1.1-2.6-1.1z" fill="#372100"/>
<path d="M278.1 566.4l2.4 1 6.4-1.3-2.4-1z" fill="#392800"/>
<path d="M256.5 570.1l2.3 1 6.4-1.7-2.3-.9z" fill="#3a3000"/>
<path d="M234.9 574.8l2.2 .8 6.5-1.9-2.2-.9z" fill="#383800"/>
<path d="M213.4 580.4l2.1 .8 6.5-2.3-2.1-.7z" fill="#2a3500"/>
<path d="M192 587l1.9 .7 6.6-2.5-2-.7z" fill="#1a2f00"/>
<path d="M170.7 594.6l1.8 .6 6.5-2.8-1.8-.6z" fill="#0b2600"/>
<path d="M149.5 603.1l1.6 .6 6.6-3.1-1.7-.6z" fill="#001a01"/>
<path d="M358.5 561.5l2.8 1.5 6.3-.3-2.8-1.5z" fill="#371e00"/>
<path d="M336.8 561.6l2.7 1.4 6.3-.6-2.7-1.3z" fill="#3e2100"/>
<path d="M315.1 562.7l2.5 1.3 6.4-.9-2.6-1.2z" fill="#442600"/>
<path d="M293.4 564.8l2.4 1.2 6.5-1.2-2.5-1.2z" fill="#472d00"/>
<path d="M271.7 567.8l2.3 1.1 6.5-1.5-2.4-1z" fill="#493600"/>
<path d="M250.1 571.8l2.2 1 6.5-1.7-2.3-1z" fill="#494000"/>
<path d="M228.5 576.8l2.1 .9 6.5-2.1-2.2-.8z" fill="#434700"/>
<path d="M207 582.7l2 .9 6.5-2.4-2.1-.8z" fill="#314300"/>
<path d="M185.5 589.6l1.9 .8 6.5-2.7-1.9-.7z" fill="#1d3d00"/>
<path d="M164.2 597.5l1.8 .7 6.5-3-1.8-.6z" fill="#093500"/>
<path d="M143 606.4l1.6 .6 6.5-3.3-1.6-.6z" fill="#002a06"/>
<path d="M352.2 561.9l2.7 1.5 6.4-.4-2.8-1.5z" fill="#482700"/>
<path d="M330.4 562.3l2.7 1.4 6.4-.7-2.7-1.4z" fill="#4e2b00"/>
<path d="M308.7 563.7l2.5 1.3 6.4-1-2.5-1.3z" fill="#523100"/>
<path d="M286.9 566.1l2.5 1.2 6.4-1.3-2.4-1.2z" fill="#553900"/>
<path d="M265.2 569.4l2.4 1.1 6.4-1.6-2.3-1.1z" fill="#564400"/>
<path d="M243.6 573.7l2.2 1 6.5-1.9-2.2-1z" fill="#555000"/>
<path d="M222 578.9l2.1 1 6.5-2.2-2.1-.9z" fill="#495300"/>
<path d="M200.5 585.2l1.9 .9 6.6-2.5-2-.9z" fill="#335000"/>
<path d="M179 592.4l1.9 .8 6.5-2.8-1.9-.8z" fill="#1c4a00"/>
<path d="M157.7 600.6l1.7 .7 6.6-3.1-1.8-.7z" fill="#054200"/>
<path d="M367.6 562.7l2.8 1.7 6.4-.3-2.9-1.6z" fill="#502e00"/>
<path d="M345.8 562.4l2.7 1.6 6.4-.6-2.7-1.5z" fill="#573000"/>
<path d="M324 563.1l2.7 1.5 6.4-.9-2.7-1.4z" fill="#5b3400"/>
<path d="M302.3 564.8l2.5 1.3 6.4-1.1-2.5-1.3z" fill="#5f3b00"/>
<path d="M280.5 567.4l2.4 1.3 6.5-1.4-2.5-1.2z" fill="#614500"/>
<path d="M258.8 571.1l2.3 1.1 6.5-1.7-2.4-1.1z" fill="#615200"/>
<path d="M237.1 575.6l2.2 1.1 6.5-2-2.2-1z" fill="#606000"/>
<path d="M215.5 581.2l2 1 6.6-2.3-2.1-1z" fill="#4b5e00"/>
<path d="M193.9 587.7l2 1 6.5-2.6-1.9-.9z" fill="#325a00"/>
<path d="M172.5 595.2l1.8 .9 6.6-2.9-1.9-.8z" fill="#185500"/>
<path d="M151.1 603.7l1.7 .8 6.6-3.2-1.7-.7z" fill="#004d03"/>
<path d="M361.3 563l2.8 1.7 6.3-.3-2.8-1.7z" fill="#5e3600"/>
<path d="M339.5 563l2.7 1.6 6.3-.6-2.7-1.6z" fill="#633800"/>
<path d="M317.6 564l2.6 1.5 6.5-.9-2.7-1.5z" fill="#673d00"/>
<path d="M295.8 566l2.5 1.4 6.5-1.3-2.5-1.3z" fill="#6a4600"/>
<path d="M274 568.9l2.4 1.3 6.5-1.5-2.4-1.3z" fill="#6b5100"/>
<path d="M252.3 572.8l2.3 1.2 6.5-1.8-2.3-1.1z" fill="#6b6000"/>
<path d="M230.6 577.7l2.1 1.1 6.6-2.1-2.2-1.1z" fill="#626a00"/>
<path d="M209 583.6l2 1 6.5-2.4-2-1z" fill="#4a6800"/>
<path d="M187.4 590.4l1.9 1 6.6-2.7-2-1z" fill="#2f6400"/>
<path d="M166 598.2l1.7 .9 6.6-3-1.8-.9z" fill="#115e00"/>
<path d="M144.6 607l1.7 .8 6.5-3.3-1.7-.8z" fill="#00570d"/>
<path d="M354.9 563.4l2.8 1.8 6.4-.5-2.8-1.7z" fill="#693e00"/>
<path d="M333.1 563.7l2.6 1.7 6.5-.8-2.7-1.6z" fill="#6e4000"/>
<path d="M311.2 565l2.6 1.6 6.4-1.1-2.6-1.5z" fill="#714600"/>
<path d="M289.4 567.3l2.4 1.4 6.5-1.3-2.5-1.4z" fill="#735000"/>
<path d="M267.6 570.5l2.3 1.4 6.5-1.7-2.4-1.3z" fill="#745e00"/>
<path d="M245.8 574.7l2.2 1.3 6.6-2-2.3-1.2z" fill="#746f00"/>
<path d="M224.1 579.9l2.1 1.2 6.5-2.3-2.1-1.1z" fill="#627200"/>
<path d="M202.4 586.1l2 1 6.6-2.5-2-1z" fill="#477000"/>
<path d="M180.9 593.2l1.8 1 6.6-2.8-1.9-1z" fill="#286c00"/>
<path d="M159.4 601.3l1.8 .9 6.5-3.1-1.7-.9z" fill="#086700"/>
<path d="M348.5 564l2.8 1.8 6.4-.6-2.8-1.8z" fill="#734400"/>
<path d="M326.7 564.6l2.6 1.6 6.4-.8-2.6-1.7z" fill="#774800"/>
<path d="M304.8 566.1l2.5 1.6 6.5-1.1-2.6-1.6z" fill="#7a4f00"/>
<path d="M282.9 568.7l2.4 1.5 6.5-1.5-2.4-1.4z" fill="#7b5b00"/>
<path d="M261.1 572.2l2.3 1.4 6.5-1.7-2.3-1.4z" fill="#7c6b00"/>
<path d="M239.3 576.7l2.2 1.3 6.5-2-2.2-1.3z" fill="#797b00"/>
<path d="M217.5 582.2l2.1 1.2 6.6-2.3-2.1-1.2z" fill="#5f7a00"/>
<path d="M195.9 588.7l1.9 1.1 6.6-2.7-2-1z" fill="#417700"/>
<path d="M174.3 596.1l1.9 1 6.5-2.9-1.8-1z" fill="#207300"/>
<path d="M152.8 604.5l1.8 1 6.6-3.3-1.8-.9z" fill="#006e04"/>
<path d="M342.2 564.6l2.7 1.8 6.4-.6-2.8-1.8z" fill="#7c4b00"/>
<path d="M320.2 565.5l2.6 1.7 6.5-1-2.6-1.6z" fill="#7f5000"/>
<path d="M298.3 567.4l2.5 1.6 6.5-1.3-2.5-1.6z" fill="#815900"/>
<path d="M276.4 570.2l2.4 1.5 6.5-1.5-2.4-1.5z" fill="#826600"/>
<path d="M254.6 574l2.2 1.5 6.6-1.9-2.3-1.4z" fill="#827800"/>
<path d="M232.7 578.8l2.2 1.4 6.6-2.2-2.2-1.3z" fill="#768200"/>
<path d="M211 584.6l2 1.3 6.6-2.5-2.1-1.2z" fill="#5a8000"/>
<path d="M189.3 591.4l1.9 1.2 6.6-2.8-1.9-1.1z" fill="#397d00"/>
<path d="M167.7 599.1l1.8 1.1 6.7-3.1-1.9-1z" fill="#157a00"/>
<path d="M146.3 607.8l1.7 1.1 6.6-3.4-1.8-1z" fill="#007411"/>
<path d="M335.7 565.4l2.7 1.8 6.5-.8-2.7-1.8z" fill="#845200"/>
<path d="M313.8 566.6l2.6 1.7 6.4-1.1-2.6-1.7z" fill="#865800"/>
<path d="M291.8 568.7l2.5 1.7 6.5-1.4-2.5-1.6z" fill="#886300"/>
<path d="M269.9 571.9l2.4 1.5 6.5-1.7-2.4-1.5z" fill="#887200"/>
<path d="M248 576l2.3 1.4 6.5-1.9-2.2-1.5z" fill="#888600"/>
<path d="M226.2 581.1l2.1 1.4 6.6-2.3-2.2-1.4z" fill="#728800"/>
<path d="M204.4 587.1l2 1.3 6.6-2.5-2-1.3z" fill="#538600"/>
<path d="M182.7 594.2l1.9 1.2 6.6-2.8-1.9-1.2z" fill="#2f8300"/>
<path d="M161.2 602.2l1.7 1.2 6.6-3.2-1.8-1.1z" fill="#087f00"/>
<path d="M329.3 566.2l2.7 1.9 6.4-.9-2.7-1.8z" fill="#8a5a00"/>
<path d="M307.3 567.7l2.6 1.8 6.5-1.2-2.6-1.7z" fill="#8c6100"/>
<path d="M285.3 570.2l2.5 1.7 6.5-1.5-2.5-1.7z" fill="#8e6d00"/>
<path d="M263.4 573.6l2.3 1.6 6.6-1.8-2.4-1.5z" fill="#8e7e00"/>
<path d="M241.5 578l2.2 1.5 6.6-2.1-2.3-1.4z" fill="#878e00"/>
<path d="M219.6 583.4l2.1 1.4 6.6-2.3-2.1-1.4z" fill="#6b8d00"/>
<path d="M197.8 589.8l2 1.3 6.6-2.7-2-1.3z" fill="#4a8b00"/>
<path d="M176.2 597.1l1.8 1.3 6.6-3-1.9-1.2z" fill="#248800"/>
<path d="M154.6 605.5l1.7 1.2 6.6-3.3-1.7-1.2z" fill="#008406"/>
<path d="M322.8 567.2l2.7 1.9 6.5-1-2.7-1.9z" fill="#906100"/>
<path d="M300.8 569l2.5 1.8 6.6-1.3-2.6-1.8z" fill="#926a00"/>
<path d="M278.8 571.7l2.4 1.8 6.6-1.6-2.5-1.7z" fill="#937800"/>
<path d="M256.8 575.5l2.3 1.6 6.6-1.9-2.3-1.6z" fill="#938b00"/>
<path d="M234.9 580.2l2.2 1.5 6.6-2.2-2.2-1.5z" fill="#819200"/>
<path d="M213 585.9l2.1 1.4 6.6-2.5-2.1-1.4z" fill="#639100"/>
<path d="M191.2 592.6l2 1.3 6.6-2.8-2-1.3z" fill="#3f8f00"/>
<path d="M169.5 600.2l1.9 1.3 6.6-3.1-1.8-1.3z" fill="#178d00"/>
<path d="M148 608.9l1.6 1.2 6.7-3.4-1.7-1.2z" fill="#008915"/>
<path d="M316.4 568.3l2.6 2 6.5-1.2-2.7-1.9z" fill="#956900"/>
<path d="M294.3 570.4l2.5 1.8 6.5-1.4-2.5-1.8z" fill="#977400"/>
<path d="M272.3 573.4l2.3 1.8 6.6-1.7-2.4-1.8z" fill="#978400"/>
<path d="M250.3 577.4l2.2 1.7 6.6-2-2.3-1.6z" fill="#969700"/>
<path d="M228.3 582.5l2.2 1.5 6.6-2.3-2.2-1.5z" fill="#7a9700"/>
<path d="M206.4 588.4l2.1 1.6 6.6-2.7-2.1-1.4z" fill="#599500"/>
<path d="M184.6 595.4l1.9 1.5 6.7-3-2-1.3z" fill="#329300"/>
<path d="M162.9 603.4l1.8 1.4 6.7-3.3-1.9-1.3z" fill="#089100"/>
<path d="M309.9 569.5l2.5 2 6.6-1.2-2.6-2z" fill="#9a7200"/>
<path d="M287.8 571.9l2.4 1.9 6.6-1.6-2.5-1.8z" fill="#9b7e00"/>
<path d="M265.7 575.2l2.4 1.8 6.5-1.8-2.3-1.8z" fill="#9b9000"/>
<path d="M243.7 579.5l2.2 1.8 6.6-2.2-2.2-1.7z" fill="#8f9b00"/>
<path d="M221.7 584.8l2.1 1.7 6.7-2.5-2.2-1.5z" fill="#719b00"/>
<path d="M199.8 591.1l2 1.6 6.7-2.7-2.1-1.6z" fill="#4d9900"/>
<path d="M178 598.4l1.9 1.5 6.6-3-1.9-1.5z" fill="#259700"/>
<path d="M156.3 606.7l1.7 1.4 6.7-3.3-1.8-1.4z" fill="#009409"/>
<path d="M303.3 570.8l2.6 2.1 6.5-1.4-2.5-2z" fill="#9e7a00"/>
<path d="M281.2 573.5l2.4 1.9 6.6-1.6-2.4-1.9z" fill="#9f8900"/>
<path d="M259.1 577.1l2.3 1.9 6.7-2-2.4-1.8z" fill="#9f9d00"/>
<path d="M237.1 581.7l2.2 1.8 6.6-2.2-2.2-1.8z" fill="#879f00"/>
<path d="M215.1 587.3l2.1 1.7 6.6-2.5-2.1-1.7z" fill="#679e00"/>
<path d="M193.2 593.9l2 1.7 6.6-2.9-2-1.6z" fill="#409c00"/>
<path d="M171.4 601.5l1.8 1.6 6.7-3.2-1.9-1.5z" fill="#159a00"/>
<path d="M149.6 610.1l1.8 1.5 6.6-3.5-1.7-1.4z" fill="#00971a"/>
<path d="M296.8 572.2l2.5 2.1 6.6-1.4-2.6-2.1z" fill="#a28400"/>
<path d="M274.6 575.2l2.4 2 6.6-1.8-2.4-1.9z" fill="#a29400"/>
<path d="M252.5 579.1l2.3 1.9 6.6-2-2.3-1.9z" fill="#9aa200"/>
<path d="M230.5 584l2.1 1.9 6.7-2.4-2.2-1.8z" fill="#7ea200"/>
<path d="M208.5 590l2 1.7 6.7-2.7-2.1-1.7z" fill="#5ba100"/>
<path d="M186.5 596.9l2 1.6 6.7-2.9-2-1.7z" fill="#339f00"/>
<path d="M164.7 604.8l1.8 1.6 6.7-3.3-1.8-1.6z" fill="#059d00"/>
<path d="M290.2 573.8l2.5 2.1 6.6-1.6-2.5-2.1z" fill="#a58e00"/>
<path d="M268.1 577l2.3 2.1 6.6-1.9-2.4-2z" fill="#a6a100"/>
<path d="M245.9 581.3l2.3 1.9 6.6-2.2-2.3-1.9z" fill="#92a500"/>
<path d="M223.8 586.5l2.2 1.8 6.6-2.4-2.1-1.9z" fill="#73a500"/>
<path d="M201.8 592.7l2 1.8 6.7-2.8-2-1.7z" fill="#4ea400"/>
<path d="M179.9 599.9l1.9 1.7 6.7-3.1-2-1.6z" fill="#23a200"/>
<path d="M158 608.1l1.8 1.7 6.7-3.4-1.8-1.6z" fill="#00a00d"/>
<path d="M283.6 575.4l2.5 2.2 6.6-1.7-2.5-2.1z" fill="#a89900"/>
<path d="M261.4 579l2.4 2 6.6-1.9-2.3-2.1z" fill="#a3a800"/>
<path d="M239.3 583.5l2.2 2 6.7-2.3-2.3-1.9z" fill="#88a800"/>
<path d="M217.2 589l2.1 1.9 6.7-2.6-2.2-1.8z" fill="#66a700"/>
<path d="M195.2 595.6l1.9 1.8 6.7-2.9-2-1.8z" fill="#3fa600"/>
<path d="M173.2 603.1l1.9 1.7 6.7-3.2-1.9-1.7z" fill="#12a500"/>
<path d="M151.4 611.6l1.7 1.7 6.7-3.5-1.8-1.7z" fill="#00a220"/>
<path d="M277 577.2l2.5 2.2 6.6-1.8-2.5-2.2z" fill="#aba500"/>
<path d="M254.8 581l2.3 2.2 6.7-2.2-2.4-2z" fill="#9aab00"/>
<path d="M232.6 585.9l2.2 2 6.7-2.4-2.2-2z" fill="#7dab00"/>
<path d="M210.5 591.7l2.1 2 6.7-2.8-2.1-1.9z" fill="#59aa00"/>
<path d="M188.5 598.5l1.9 1.9 6.7-3-1.9-1.8z" fill="#30a900"/>
<path d="M166.5 606.4l1.8 1.8 6.8-3.4-1.9-1.7z" fill="#00a700"/>
<path d="M270.4 579.1l2.4 2.2 6.7-1.9-2.5-2.2z" fill="#a9ad00"/>
<path d="M248.2 583.2l2.2 2.2 6.7-2.2-2.3-2.2z" fill="#90ad00"/>
<path d="M226 588.3l2.1 2.1 6.7-2.5-2.2-2z" fill="#71ad00"/>
<path d="M203.8 594.5l2.1 2 6.7-2.8-2.1-2z" fill="#4bac00"/>
<path d="M181.8 601.6l1.9 1.9 6.7-3.1-1.9-1.9z" fill="#1fab00"/>
<path d="M159.8 609.8l1.8 1.8 6.7-3.4-1.8-1.8z" fill="#00a913"/>
<path d="M263.8 581l2.3 2.4 6.7-2.1-2.4-2.2z" fill="#a0af00"/>
<path d="M241.5 585.5l2.2 2.2 6.7-2.3-2.2-2.2z" fill="#85af00"/>
<path d="M219.3 590.9l2.1 2.2 6.7-2.7-2.1-2.1z" fill="#63af00"/>
<path d="M197.1 597.4l2 2 6.8-2.9-2.1-2z" fill="#3bae00"/>
<path d="M175.1 604.8l1.8 2 6.8-3.3-1.9-1.9z" fill="#0dac00"/>
<path d="M153.1 613.3l1.7 1.9 6.8-3.6-1.8-1.8z" fill="#00ab27"/>
<path d="M257.1 583.2l2.3 2.3 6.7-2.1-2.3-2.4z" fill="#96b100"/>
<path d="M234.8 587.9l2.2 2.3 6.7-2.5-2.2-2.2z" fill="#79b100"/>
<path d="M212.6 593.7l2.1 2.1 6.7-2.7-2.1-2.2z" fill="#55b100"/>
<path d="M190.4 600.4l2 2.1 6.7-3.1-2-2z" fill="#2bb000"/>
<path d="M168.3 608.2l1.9 2 6.7-3.4-1.8-2z" fill="#00ae06"/>
<path d="M250.4 585.4l2.3 2.4 6.7-2.3-2.3-2.3z" fill="#8bb300"/>
<path d="M228.1 590.4l2.2 2.3 6.7-2.5-2.2-2.3z" fill="#6cb300"/>
<path d="M205.9 596.5l2 2.2 6.8-2.9-2.1-2.1z" fill="#45b200"/>
<path d="M183.7 603.5l1.9 2.2 6.8-3.2-2-2.1z" fill="#18b100"/>
<path d="M161.6 611.6l1.8 2.1 6.8-3.5-1.9-2z" fill="#00b01a"/>
<path d="M243.7 587.7l2.3 2.5 6.7-2.4-2.3-2.4z" fill="#7fb500"/>
<path d="M221.4 593.1l2.1 2.3 6.8-2.7-2.2-2.3z" fill="#5db400"/>
<path d="M199.1 599.4l2 2.3 6.8-3-2-2.2z" fill="#35b400"/>
<path d="M176.9 606.8l1.9 2.2 6.8-3.3-1.9-2.2z" fill="#06b300"/>
<path d="M154.8 615.2l1.8 2.1 6.8-3.6-1.8-2.1z" fill="#00b12f"/>
<path d="M237 590.2l2.2 2.5 6.8-2.5-2.3-2.5z" fill="#72b600"/>
<path d="M214.7 595.8l2 2.4 6.8-2.8-2.1-2.3z" fill="#4eb600"/>
<path d="M192.4 602.5l1.9 2.3 6.8-3.1-2-2.3z" fill="#23b500"/>
<path d="M170.2 610.2l1.8 2.2 6.8-3.4-1.9-2.2z" fill="#00b40e"/>
<path d="M230.3 592.7l2.1 2.6 6.8-2.6-2.2-2.5z" fill="#64b800"/>
<path d="M207.9 598.7l2.1 2.5 6.7-3-2-2.4z" fill="#3db700"/>
<path d="M185.6 605.7l1.9 2.4 6.8-3.3-1.9-2.3z" fill="#10b600"/>
<path d="M163.4 613.7l1.8 2.3 6.8-3.6-1.8-2.2z" fill="#00b524"/>
<path d="M223.5 595.4l2.2 2.6 6.7-2.7-2.1-2.6z" fill="#55b900"/>
<path d="M201.1 601.7l2.1 2.5 6.8-3-2.1-2.5z" fill="#2bb800"/>
<path d="M178.8 609l1.9 2.4 6.8-3.3-1.9-2.4z" fill="#00b804"/>
<path d="M156.6 617.3l1.8 2.4 6.8-3.7-1.8-2.3z" fill="#00b639"/>
<path d="M216.7 598.2l2.2 2.7 6.8-2.9-2.2-2.6z" fill="#45ba00"/>
<path d="M194.3 604.8l2 2.6 6.9-3.2-2.1-2.5z" fill="#19ba00"/>
<path d="M172 612.4l1.9 2.5 6.8-3.5-1.9-2.4z" fill="#00b919"/>
<path d="M210 601.2l2 2.7 6.9-3-2.2-2.7z" fill="#33bb00"/>
<path d="M187.5 608.1l2 2.6 6.8-3.3-2-2.6z" fill="#06bb00"/>
<path d="M165.2 616l1.8 2.5 6.9-3.6-1.9-2.5z" fill="#00ba2e"/>
<path d="M203.2 604.2l2 2.8 6.8-3.1-2-2.7z" fill="#20bc00"/>
<path d="M180.7 611.4l1.9 2.7 6.9-3.4-2-2.6z" fill="#00bc0f"/>
<path d="M158.4 619.7l1.8 2.6 6.8-3.8-1.8-2.5z" fill="#00ba45"/>
<path d="M196.3 607.4l2 2.8 6.9-3.2-2-2.8z" fill="#0dbd00"/>
<path d="M173.9 614.9l1.9 2.8 6.8-3.6-1.9-2.7z" fill="#00bc24"/>
<path d="M189.5 610.7l2 2.8 6.8-3.3-2-2.8z" fill="#00be07"/>
<path d="M167 618.5l1.9 2.8 6.9-3.6-1.9-2.8z" fill="#00bd3b"/>
<path d="M182.6 614.1l2 2.9 6.9-3.5-2-2.8z" fill="#00bf1c"/>
<path d="M160.2 622.3l1.8 2.8 6.9-3.8-1.9-2.8z" fill="#00be52"/>
<path d="M175.8 617.7l1.9 2.9 6.9-3.6-2-2.9z" fill="#00c032"/>
<path d="M168.9 621.3l1.8 3 7-3.7-1.9-2.9z" fill="#00c048"/>
<path d="M162 625.1l1.8 3.1 6.9-3.9-1.8-3z" fill="#00c161"/>
</g>
<path d="M235.3 558.3V569" stroke="#a33" stroke-width="0.6"/>
<ellipse cx="113.9" cy="634.9" rx="2.8" ry="2" fill="#ffc0c0" stroke="#888" stroke-width="0.5"/>
<ellipse cx="161.7" cy="628.2" rx="2.8" ry="2" fill="#e8000a"/>
<ellipse cx="376.6" cy="563.8" rx="2.8" ry="2" fill="#e8000a"/>
<ellipse cx="295.5" cy="609" rx="2.8" ry="2" fill="#ffc0c0" stroke="#888" stroke-width="0.5"/>
<ellipse cx="235.3" cy="558.3" rx="2.8" ry="2" fill="#e8000a"/>
<ellipse cx="235.3" cy="566.8" rx="2.8" ry="2" fill="#e8000a"/>
<text x="105.8" y="534.5" font-family="Liberation Sans" font-size="6.5" text-anchor="middle" fill="#111" font-weight="bold" stroke="#111" stroke-width="0.25">8</text>
<text x="105.8" y="548.5" font-family="Liberation Sans" font-size="6.5" text-anchor="middle" fill="#111" font-weight="bold" stroke="#111" stroke-width="0.25">7</text>
<text x="105.8" y="563" font-family="Liberation Sans" font-size="6.5" text-anchor="middle" fill="#111" font-weight="bold" stroke="#111" stroke-width="0.25">6</text>
<text x="105.8" y="577" font-family="Liberation Sans" font-size="6.5" text-anchor="middle" fill="#111" font-weight="bold" stroke="#111" stroke-width="0.25">5</text>
<text x="105.8" y="591.5" font-family="Liberation Sans" font-size="6.5" text-anchor="middle" fill="#111" font-weight="bold" stroke="#111" stroke-width="0.25">4</text>
<text x="105.8" y="605.4" font-family="Liberation Sans" font-size="6.5" text-anchor="middle" fill="#111" font-weight="bold" stroke="#111" stroke-width="0.25">3</text>
<text x="105.8" y="619.7" font-family="Liberation Sans" font-size="6.5" text-anchor="middle" fill="#111" font-weight="bold" stroke="#111" stroke-width="0.25">2</text>
<text x="105.8" y="633.7" font-family="Liberation Sans" font-size="6.5" text-anchor="middle" fill="#111" font-weight="bold" stroke="#111" stroke-width="0.25">1</text>
<text x="105" y="673.2" font-family="Liberation Sans" font-size="6" text-anchor="middle" fill="#111" font-weight="bold" stroke="#111" stroke-width="0.25">-1.00</text>
<text x="117.2" y="683.2" font-family="Liberation Sans" font-size="6" text-anchor="middle" fill="#111" font-weight="bold" stroke="#111" stroke-width="0.25">0.50</text>
<text x="128.5" y="693" font-family="Liberation Sans" font-size="6" text-anchor="middle" fill="#111" font-weight="bold" stroke="#111" stroke-width="0.25">0.00</text>
<text x="140.4" y="702.9" font-family="Liberation Sans" font-size="6" text-anchor="middle" fill="#111" font-weight="bold" stroke="#111" stroke-width="0.25">0.50</text>
<text x="152.5" y="712.8" font-family="Liberation Sans" font-size="6" text-anchor="middle" fill="#111" font-weight="bold" stroke="#111" stroke-width="0.25">1.06</text>
<text x="173.7" y="712.8" font-family="Liberation Sans" font-size="6" text-anchor="middle" fill="#111" font-weight="bold" stroke="#111" stroke-width="0.25">-1.00</text>
<text x="226" y="708.4" font-family="Liberation Sans" font-size="6" text-anchor="middle" fill="#111" font-weight="bold" stroke="#111" stroke-width="0.25">-0.50</text>
<text x="276.3" y="705.2" font-family="Liberation Sans" font-size="6" text-anchor="middle" fill="#111" font-weight="bold" stroke="#111" stroke-width="0.25">0.00</text>
<text x="328.5" y="701.2" font-family="Liberation Sans" font-size="6" text-anchor="middle" fill="#111" font-weight="bold" stroke="#111" stroke-width="0.25">0.50</text>
<text x="382" y="698.2" font-family="Liberation Sans" font-size="6" text-anchor="middle" fill="#111" font-weight="bold" stroke="#111" stroke-width="0.25">1.00</text>
<text x="72.2" y="537.6" font-family="Liberation Serif" font-size="13.5" text-anchor="start" fill="#000" font-weight="bold">c</text>
<text x="92.7" y="639" font-family="Liberation Serif" font-size="12.5" text-anchor="start" fill="#000" textLength="81.4" lengthAdjust="spacingAndGlyphs" transform="rotate(-90 92.7 639)">Pectin yield (%)</text>
<text x="2.8" y="716.3" font-family="Liberation Serif" font-size="13" text-anchor="start" fill="#000" textLength="135.6" lengthAdjust="spacingAndGlyphs">B: Liquid-sold ratio (nl/g)</text>
<text x="172.3" y="727.3" font-family="Liberation Serif" font-size="12.86" text-anchor="start" fill="#000" textLength="212.2" lengthAdjust="spacingAndGlyphs">C: Ammoalum oxalate concentration (%)</text>
<circle cx="82" cy="737" r="0.7" fill="#555"/>
<clipPath id="cp0"><rect x="400" y="4" width="286" height="199"/></clipPath>
<g clip-path="url(#cp0)">
<rect x="400" y="4" width="286" height="199" fill="#004aff"/>
<ellipse cx="668.3" cy="35.4" rx="371" ry="182.1" transform="rotate(168.21 668.3 35.4)" fill="#004cff"/>
<ellipse cx="668.3" cy="35.4" rx="370" ry="181.6" transform="rotate(168.21 668.3 35.4)" fill="#0051ff"/>
<ellipse cx="668.3" cy="35.4" rx="369" ry="181.1" transform="rotate(168.21 668.3 35.4)" fill="#0055ff"/>
<ellipse cx="668.3" cy="35.4" rx="368" ry="180.6" transform="rotate(168.21 668.3 35.4)" fill="#005aff"/>
<ellipse cx="668.3" cy="35.4" rx="367" ry="180.1" transform="rotate(168.21 668.3 35.4)" fill="#005eff"/>
<ellipse cx="668.3" cy="35.4" rx="366" ry="179.6" transform="rotate(168.21 668.3 35.4)" fill="#0063ff"/>
<ellipse cx="668.3" cy="35.4" rx="365" ry="179.1" transform="rotate(168.21 668.3 35.4)" fill="#0067ff"/>
<ellipse cx="668.3" cy="35.4" rx="364" ry="178.6" transform="rotate(168.21 668.3 35.4)" fill="#006cff"/>
<ellipse cx="668.3" cy="35.4" rx="363" ry="178.1" transform="rotate(168.21 668.3 35.4)" fill="#0070ff"/>
<ellipse cx="668.3" cy="35.4" rx="362" ry="177.6" transform="rotate(168.21 668.3 35.4)" fill="#0075ff"/>
<ellipse cx="668.3" cy="35.4" rx="360.9" ry="177.1" transform="rotate(168.21 668.3 35.4)" fill="#0079ff"/>
<ellipse cx="668.3" cy="35.4" rx="359.9" ry="176.6" transform="rotate(168.21 668.3 35.4)" fill="#007eff"/>
<ellipse cx="668.3" cy="35.4" rx="358.9" ry="176.1" transform="rotate(168.21 668.3 35.4)" fill="#0082ff"/>
<ellipse cx="668.3" cy="35.4" rx="357.9" ry="175.6" transform="rotate(168.21 668.3 35.4)" fill="#0087ff"/>
<ellipse cx="668.3" cy="35.4" rx="356.8" ry="175.1" transform="rotate(168.21 668.3 35.4)" fill="#008bff"/>
<ellipse cx="668.3" cy="35.4" rx="355.8" ry="174.6" transform="rotate(168.21 668.3 35.4)" fill="#0090ff"/>
<ellipse cx="668.3" cy="35.4" rx="354.8" ry="174.1" transform="rotate(168.21 668.3 35.4)" fill="#0094ff"/>
<ellipse cx="668.3" cy="35.4" rx="353.7" ry="173.6" transform="rotate(168.21 668.3 35.4)" fill="#0099ff"/>
<ellipse cx="668.3" cy="35.4" rx="352.7" ry="173.1" transform="rotate(168.21 668.3 35.4)" fill="#009dff"/>
<ellipse cx="668.3" cy="35.4" rx="351.7" ry="172.6" transform="rotate(168.21 668.3 35.4)" fill="#00a2ff"/>
<ellipse cx="668.3" cy="35.4" rx="350.6" ry="172.1" transform="rotate(168.21 668.3 35.4)" fill="#00a6ff"/>
<ellipse cx="668.3" cy="35.4" rx="349.6" ry="171.5" transform="rotate(168.21 668.3 35.4)" fill="#00abff"/>
<ellipse cx="668.3" cy="35.4" rx="348.5" ry="171" transform="rotate(168.21 668.3 35.4)" fill="#00afff"/>
<ellipse cx="668.3" cy="35.4" rx="347.4" ry="170.5" transform="rotate(168.21 668.3 35.4)" fill="#00b4ff"/>
<ellipse cx="668.3" cy="35.4" rx="346.4" ry="170" transform="rotate(168.21 668.3 35.4)" fill="#00b8ff"/>
<ellipse cx="668.3" cy="35.4" rx="345.3" ry="169.5" transform="rotate(168.21 668.3 35.4)" fill="#00bdff"/>
<ellipse cx="668.3" cy="35.4" rx="344.3" ry="168.9" transform="rotate(168.21 668.3 35.4)" fill="#00c1ff"/>
<ellipse cx="668.3" cy="35.4" rx="343.2" ry="168.4" transform="rotate(168.21 668.3 35.4)" fill="#00c6ff"/>
<ellipse cx="668.3" cy="35.4" rx="342.1" ry="167.9" transform="rotate(168.21 668.3 35.4)" fill="#00caff"/>
<ellipse cx="668.3" cy="35.4" rx="341" ry="167.4" transform="rotate(168.21 668.3 35.4)" fill="#00cfff"/>
<ellipse cx="668.3" cy="35.4" rx="340" ry="166.8" transform="rotate(168.21 668.3 35.4)" fill="#00d3ff"/>
<ellipse cx="668.3" cy="35.4" rx="338.9" ry="166.3" transform="rotate(168.21 668.3 35.4)" fill="#00d8ff"/>
<ellipse cx="668.3" cy="35.4" rx="337.8" ry="165.8" transform="rotate(168.21 668.3 35.4)" fill="#00dcff"/>
<ellipse cx="668.3" cy="35.4" rx="336.7" ry="165.2" transform="rotate(168.21 668.3 35.4)" fill="#00e1ff"/>
<ellipse cx="668.3" cy="35.4" rx="335.6" ry="164.7" transform="rotate(168.21 668.3 35.4)" fill="#00e5ff"/>
<ellipse cx="668.3" cy="35.4" rx="334.5" ry="164.2" transform="rotate(168.21 668.3 35.4)" fill="#00eaff"/>
<ellipse cx="668.3" cy="35.4" rx="333.4" ry="163.6" transform="rotate(168.21 668.3 35.4)" fill="#00eeff"/>
<ellipse cx="668.3" cy="35.4" rx="332.3" ry="163.1" transform="rotate(168.21 668.3 35.4)" fill="#00f3ff"/>
<ellipse cx="668.3" cy="35.4" rx="331.2" ry="162.5" transform="rotate(168.21 668.3 35.4)" fill="#00f7ff"/>
<ellipse cx="668.3" cy="35.4" rx="330.1" ry="162" transform="rotate(168.21 668.3 35.4)" fill="#00fcff"/>
<ellipse cx="668.3" cy="35.4" rx="329" ry="161.4" transform="rotate(168.21 668.3 35.4)" fill="#00fffe"/>
<ellipse cx="668.3" cy="35.4" rx="327.8" ry="160.9" transform="rotate(168.21 668.3 35.4)" fill="#00fff9"/>
<ellipse cx="668.3" cy="35.4" rx="326.7" ry="160.3" transform="rotate(168.21 668.3 35.4)" fill="#00fff5"/>
<ellipse cx="668.3" cy="35.4" rx="325.6" ry="159.8" transform="rotate(168.21 668.3 35.4)" fill="#00fff0"/>
<ellipse cx="668.3" cy="35.4" rx="324.5" ry="159.2" transform="rotate(168.21 668.3 35.4)" fill="#00ffec"/>
<ellipse cx="668.3" cy="35.4" rx="323.3" ry="158.7" transform="rotate(168.21 668.3 35.4)" fill="#00ffe7"/>
<ellipse cx="668.3" cy="35.4" rx="322.2" ry="158.1" transform="rotate(168.21 668.3 35.4)" fill="#00ffe3"/>
<ellipse cx="668.3" cy="35.4" rx="321" ry="157.5" transform="rotate(168.21 668.3 35.4)" fill="#00ffde"/>
<ellipse cx="668.3" cy="35.4" rx="319.9" ry="157" transform="rotate(168.21 668.3 35.4)" fill="#00ffda"/>
<ellipse cx="668.3" cy="35.4" rx="318.7" ry="156.4" transform="rotate(168.21 668.3 35.4)" fill="#00ffd5"/>
<ellipse cx="668.3" cy="35.4" rx="317.6" ry="155.9" transform="rotate(168.21 668.3 35.4)" fill="#00ffd1"/>
<ellipse cx="668.3" cy="35.4" rx="316.4" ry="155.3" transform="rotate(168.21 668.3 35.4)" fill="#00ffcc"/>
<ellipse cx="668.3" cy="35.4" rx="315.3" ry="154.7" transform="rotate(168.21 668.3 35.4)" fill="#00ffc8"/>
<ellipse cx="668.3" cy="35.4" rx="314.1" ry="154.1" transform="rotate(168.21 668.3 35.4)" fill="#00ffc3"/>
<ellipse cx="668.3" cy="35.4" rx="312.9" ry="153.6" transform="rotate(168.21 668.3 35.4)" fill="#00ffbf"/>
<ellipse cx="668.3" cy="35.4" rx="311.7" ry="153" transform="rotate(168.21 668.3 35.4)" fill="#00ffba"/>
<ellipse cx="668.3" cy="35.4" rx="310.6" ry="152.4" transform="rotate(168.21 668.3 35.4)" fill="#00ffb6"/>
<ellipse cx="668.3" cy="35.4" rx="309.4" ry="151.8" transform="rotate(168.21 668.3 35.4)" fill="#00ffb1"/>
<ellipse cx="668.3" cy="35.4" rx="308.2" ry="151.2" transform="rotate(168.21 668.3 35.4)" fill="#00ffad"/>
<ellipse cx="668.3" cy="35.4" rx="307" ry="150.7" transform="rotate(168.21 668.3 35.4)" fill="#00ffa8"/>
<ellipse cx="668.3" cy="35.4" rx="305.8" ry="150.1" transform="rotate(168.21 668.3 35.4)" fill="#00ffa4"/>
<ellipse cx="668.3" cy="35.4" rx="304.6" ry="149.5" transform="rotate(168.21 668.3 35.4)" fill="#00ff9f"/>
<ellipse cx="668.3" cy="35.4" rx="303.4" ry="148.9" transform="rotate(168.21 668.3 35.4)" fill="#00ff9b"/>
<ellipse cx="668.3" cy="35.4" rx="302.2" ry="148.3" transform="rotate(168.21 668.3 35.4)" fill="#00ff96"/>
<ellipse cx="668.3" cy="35.4" rx="300.9" ry="147.7" transform="rotate(168.21 668.3 35.4)" fill="#00ff92"/>
<ellipse cx="668.3" cy="35.4" rx="299.7" ry="147.1" transform="rotate(168.21 668.3 35.4)" fill="#00ff8d"/>
<ellipse cx="668.3" cy="35.4" rx="298.5" ry="146.5" transform="rotate(168.21 668.3 35.4)" fill="#00ff89"/>
<ellipse cx="668.3" cy="35.4" rx="297.3" ry="145.9" transform="rotate(168.21 668.3 35.4)" fill="#00ff84"/>
<ellipse cx="668.3" cy="35.4" rx="296" ry="145.3" transform="rotate(168.21 668.3 35.4)" fill="#00ff80"/>
<ellipse cx="668.3" cy="35.4" rx="294.8" ry="144.7" transform="rotate(168.21 668.3 35.4)" fill="#00ff7b"/>
<ellipse cx="668.3" cy="35.4" rx="293.5" ry="144" transform="rotate(168.21 668.3 35.4)" fill="#00ff77"/>
<ellipse cx="668.3" cy="35.4" rx="292.3" ry="143.4" transform="rotate(168.21 668.3 35.4)" fill="#00ff72"/>
<ellipse cx="668.3" cy="35.4" rx="291" ry="142.8" transform="rotate(168.21 668.3 35.4)" fill="#00ff6e"/>
<ellipse cx="668.3" cy="35.4" rx="289.7" ry="142.2" transform="rotate(168.21 668.3 35.4)" fill="#00ff69"/>
<ellipse cx="668.3" cy="35.4" rx="288.5" ry="141.6" transform="rotate(168.21 668.3 35.4)" fill="#00ff65"/>
<ellipse cx="668.3" cy="35.4" rx="287.2" ry="140.9" transform="rotate(168.21 668.3 35.4)" fill="#00ff60"/>
<ellipse cx="668.3" cy="35.4" rx="285.9" ry="140.3" transform="rotate(168.21 668.3 35.4)" fill="#00ff5c"/>
<ellipse cx="668.3" cy="35.4" rx="284.6" ry="139.7" transform="rotate(168.21 668.3 35.4)" fill="#00ff57"/>
<ellipse cx="668.3" cy="35.4" rx="283.3" ry="139" transform="rotate(168.21 668.3 35.4)" fill="#00ff53"/>
<ellipse cx="668.3" cy="35.4" rx="282" ry="138.4" transform="rotate(168.21 668.3 35.4)" fill="#00ff4e"/>
<ellipse cx="668.3" cy="35.4" rx="280.7" ry="137.8" transform="rotate(168.21 668.3 35.4)" fill="#00ff4a"/>
<ellipse cx="668.3" cy="35.4" rx="279.4" ry="137.1" transform="rotate(168.21 668.3 35.4)" fill="#00ff45"/>
<ellipse cx="668.3" cy="35.4" rx="278.1" ry="136.5" transform="rotate(168.21 668.3 35.4)" fill="#00ff41"/>
<ellipse cx="668.3" cy="35.4" rx="276.8" ry="135.8" transform="rotate(168.21 668.3 35.4)" fill="#00ff3c"/>
<ellipse cx="668.3" cy="35.4" rx="275.4" ry="135.2" transform="rotate(168.21 668.3 35.4)" fill="#00ff38"/>
<ellipse cx="668.3" cy="35.4" rx="274.1" ry="134.5" transform="rotate(168.21 668.3 35.4)" fill="#00ff33"/>
<ellipse cx="668.3" cy="35.4" rx="272.7" ry="133.8" transform="rotate(168.21 668.3 35.4)" fill="#00ff2f"/>
<ellipse cx="668.3" cy="35.4" rx="271.4" ry="133.2" transform="rotate(168.21 668.3 35.4)" fill="#00ff2a"/>
<ellipse cx="668.3" cy="35.4" rx="270" ry="132.5" transform="rotate(168.21 668.3 35.4)" fill="#00ff26"/>
<ellipse cx="668.3" cy="35.4" rx="268.7" ry="131.8" transform="rotate(168.21 668.3 35.4)" fill="#00ff21"/>
<ellipse cx="668.3" cy="35.4" rx="267.3" ry="131.2" transform="rotate(168.21 668.3 35.4)" fill="#00ff1d"/>
<ellipse cx="668.3" cy="35.4" rx="265.9" ry="130.5" transform="rotate(168.21 668.3 35.4)" fill="#00ff18"/>
<ellipse cx="668.3" cy="35.4" rx="264.5" ry="129.8" transform="rotate(168.21 668.3 35.4)" fill="#00ff14"/>
<ellipse cx="668.3" cy="35.4" rx="263.1" ry="129.1" transform="rotate(168.21 668.3 35.4)" fill="#00ff0f"/>
<ellipse cx="668.3" cy="35.4" rx="261.7" ry="128.4" transform="rotate(168.21 668.3 35.4)" fill="#00ff0b"/>
<ellipse cx="668.3" cy="35.4" rx="260.3" ry="127.7" transform="rotate(168.21 668.3 35.4)" fill="#00ff06"/>
<ellipse cx="668.3" cy="35.4" rx="258.9" ry="127.1" transform="rotate(168.21 668.3 35.4)" fill="#00ff02"/>
<ellipse cx="668.3" cy="35.4" rx="257.5" ry="126.4" transform="rotate(168.21 668.3 35.4)" fill="#03ff00"/>
<ellipse cx="668.3" cy="35.4" rx="256" ry="125.7" transform="rotate(168.21 668.3 35.4)" fill="#07ff00"/>
<ellipse cx="668.3" cy="35.4" rx="254.6" ry="124.9" transform="rotate(168.21 668.3 35.4)" fill="#0cff00"/>
<ellipse cx="668.3" cy="35.4" rx="253.2" ry="124.2" transform="rotate(168.21 668.3 35.4)" fill="#10ff00"/>
<ellipse cx="668.3" cy="35.4" rx="251.7" ry="123.5" transform="rotate(168.21 668.3 35.4)" fill="#15ff00"/>
<ellipse cx="668.3" cy="35.4" rx="250.2" ry="122.8" transform="rotate(168.21 668.3 35.4)" fill="#19ff00"/>
<ellipse cx="668.3" cy="35.4" rx="248.8" ry="122.1" transform="rotate(168.21 668.3 35.4)" fill="#1eff00"/>
<ellipse cx="668.3" cy="35.4" rx="247.3" ry="121.3" transform="rotate(168.21 668.3 35.4)" fill="#22ff00"/>
<ellipse cx="668.3" cy="35.4" rx="245.8" ry="120.6" transform="rotate(168.21 668.3 35.4)" fill="#27ff00"/>
<ellipse cx="668.3" cy="35.4" rx="244.3" ry="119.9" transform="rotate(168.21 668.3 35.4)" fill="#2bff00"/>
<ellipse cx="668.3" cy="35.4" rx="242.8" ry="119.1" transform="rotate(168.21 668.3 35.4)" fill="#30ff00"/>
<ellipse cx="668.3" cy="35.4" rx="241.3" ry="118.4" transform="rotate(168.21 668.3 35.4)" fill="#34ff00"/>
<ellipse cx="668.3" cy="35.4" rx="239.7" ry="117.6" transform="rotate(168.21 668.3 35.4)" fill="#39ff00"/>
<ellipse cx="668.3" cy="35.4" rx="238.2" ry="116.9" transform="rotate(168.21 668.3 35.4)" fill="#3dff00"/>
<ellipse cx="668.3" cy="35.4" rx="236.6" ry="116.1" transform="rotate(168.21 668.3 35.4)" fill="#42ff00"/>
<ellipse cx="668.3" cy="35.4" rx="235.1" ry="115.4" transform="rotate(168.21 668.3 35.4)" fill="#46ff00"/>
<ellipse cx="668.3" cy="35.4" rx="233.5" ry="114.6" transform="rotate(168.21 668.3 35.4)" fill="#4bff00"/>
<ellipse cx="668.3" cy="35.4" rx="231.9" ry="113.8" transform="rotate(168.21 668.3 35.4)" fill="#4fff00"/>
<ellipse cx="668.3" cy="35.4" rx="230.3" ry="113" transform="rotate(168.21 668.3 35.4)" fill="#54ff00"/>
<ellipse cx="668.3" cy="35.4" rx="228.7" ry="112.3" transform="rotate(168.21 668.3 35.4)" fill="#58ff00"/>
<ellipse cx="668.3" cy="35.4" rx="227.1" ry="111.5" transform="rotate(168.21 668.3 35.4)" fill="#5dff00"/>
<ellipse cx="668.3" cy="35.4" rx="225.5" ry="110.7" transform="rotate(168.21 668.3 35.4)" fill="#61ff00"/>
<ellipse cx="668.3" cy="35.4" rx="223.9" ry="109.9" transform="rotate(168.21 668.3 35.4)" fill="#66ff00"/>
<ellipse cx="668.3" cy="35.4" rx="222.2" ry="109" transform="rotate(168.21 668.3 35.4)" fill="#6aff00"/>
<ellipse cx="668.3" cy="35.4" rx="220.6" ry="108.2" transform="rotate(168.21 668.3 35.4)" fill="#6fff00"/>
<ellipse cx="668.3" cy="35.4" rx="218.9" ry="107.4" transform="rotate(168.21 668.3 35.4)" fill="#73ff00"/>
<ellipse cx="668.3" cy="35.4" rx="217.2" ry="106.6" transform="rotate(168.21 668.3 35.4)" fill="#78ff00"/>
<ellipse cx="668.3" cy="35.4" rx="215.5" ry="105.8" transform="rotate(168.21 668.3 35.4)" fill="#7cff00"/>
<ellipse cx="668.3" cy="35.4" rx="213.8" ry="104.9" transform="rotate(168.21 668.3 35.4)" fill="#81ff00"/>
<ellipse cx="668.3" cy="35.4" rx="212.1" ry="104.1" transform="rotate(168.21 668.3 35.4)" fill="#85ff00"/>
<ellipse cx="668.3" cy="35.4" rx="210.3" ry="103.2" transform="rotate(168.21 668.3 35.4)" fill="#8aff00"/>
<ellipse cx="668.3" cy="35.4" rx="208.6" ry="102.3" transform="rotate(168.21 668.3 35.4)" fill="#8eff00"/>
<ellipse cx="668.3" cy="35.4" rx="206.8" ry="101.5" transform="rotate(168.21 668.3 35.4)" fill="#93ff00"/>
<ellipse cx="668.3" cy="35.4" rx="205" ry="100.6" transform="rotate(168.21 668.3 35.4)" fill="#97ff00"/>
<ellipse cx="668.3" cy="35.4" rx="203.2" ry="99.7" transform="rotate(168.21 668.3 35.4)" fill="#9cff00"/>
<ellipse cx="668.3" cy="35.4" rx="201.4" ry="98.8" transform="rotate(168.21 668.3 35.4)" fill="#a0ff00"/>
<ellipse cx="668.3" cy="35.4" rx="199.5" ry="97.9" transform="rotate(168.21 668.3 35.4)" fill="#a5ff00"/>
<ellipse cx="668.3" cy="35.4" rx="197.7" ry="97" transform="rotate(168.21 668.3 35.4)" fill="#a9ff00"/>
<ellipse cx="668.3" cy="35.4" rx="195.8" ry="96.1" transform="rotate(168.21 668.3 35.4)" fill="#aeff00"/>
<ellipse cx="668.3" cy="35.4" rx="193.9" ry="95.2" transform="rotate(168.21 668.3 35.4)" fill="#b2ff00"/>
<ellipse cx="668.3" cy="35.4" rx="192" ry="94.2" transform="rotate(168.21 668.3 35.4)" fill="#b7ff00"/>
<ellipse cx="668.3" cy="35.4" rx="190.1" ry="93.3" transform="rotate(168.21 668.3 35.4)" fill="#bbff00"/>
<ellipse cx="668.3" cy="35.4" rx="188.2" ry="92.3" transform="rotate(168.21 668.3 35.4)" fill="#c0ff00"/>
<ellipse cx="668.3" cy="35.4" rx="186.2" ry="91.4" transform="rotate(168.21 668.3 35.4)" fill="#c4ff00"/>
<ellipse cx="668.3" cy="35.4" rx="184.2" ry="90.4" transform="rotate(168.21 668.3 35.4)" fill="#c9ff00"/>
<ellipse cx="668.3" cy="35.4" rx="182.2" ry="89.4" transform="rotate(168.21 668.3 35.4)" fill="#cdff00"/>
<ellipse cx="668.3" cy="35.4" rx="180.2" ry="88.4" transform="rotate(168.21 668.3 35.4)" fill="#d2ff00"/>
<ellipse cx="668.3" cy="35.4" rx="178.1" ry="87.4" transform="rotate(168.21 668.3 35.4)" fill="#d6ff00"/>
<ellipse cx="668.3" cy="35.4" rx="176" ry="86.4" transform="rotate(168.21 668.3 35.4)" fill="#dbff00"/>
<ellipse cx="668.3" cy="35.4" rx="173.9" ry="85.4" transform="rotate(168.21 668.3 35.4)" fill="#dfff00"/>
<ellipse cx="668.3" cy="35.4" rx="171.8" ry="84.3" transform="rotate(168.21 668.3 35.4)" fill="#e4ff00"/>
<ellipse cx="668.3" cy="35.4" rx="169.7" ry="83.3" transform="rotate(168.21 668.3 35.4)" fill="#e8ff00"/>
<ellipse cx="668.3" cy="35.4" rx="167.5" ry="82.2" transform="rotate(168.21 668.3 35.4)" fill="#edff00"/>
<ellipse cx="668.3" cy="35.4" rx="165.3" ry="81.1" transform="rotate(168.21 668.3 35.4)" fill="#f1ff00"/>
<ellipse cx="668.3" cy="35.4" rx="163" ry="80" transform="rotate(168.21 668.3 35.4)" fill="#f6ff00"/>
<ellipse cx="668.3" cy="35.4" rx="160.8" ry="78.9" transform="rotate(168.21 668.3 35.4)" fill="#faff00"/>
<ellipse cx="668.3" cy="35.4" rx="158.5" ry="77.8" transform="rotate(168.21 668.3 35.4)" fill="#ffff00"/>
<ellipse cx="668.3" cy="35.4" rx="156.1" ry="76.6" transform="rotate(168.21 668.3 35.4)" fill="#fffb00"/>
<ellipse cx="668.3" cy="35.4" rx="153.7" ry="75.4" transform="rotate(168.21 668.3 35.4)" fill="#fff600"/>
<ellipse cx="668.3" cy="35.4" rx="151.3" ry="74.3" transform="rotate(168.21 668.3 35.4)" fill="#fff200"/>
<ellipse cx="668.3" cy="35.4" rx="148.9" ry="73.1" transform="rotate(168.21 668.3 35.4)" fill="#ffed00"/>
<ellipse cx="668.3" cy="35.4" rx="146.4" ry="71.8" transform="rotate(168.21 668.3 35.4)" fill="#ffe900"/>
<ellipse cx="668.3" cy="35.4" rx="143.9" ry="70.6" transform="rotate(168.21 668.3 35.4)" fill="#ffe400"/>
<ellipse cx="668.3" cy="35.4" rx="141.3" ry="69.3" transform="rotate(168.21 668.3 35.4)" fill="#ffe000"/>
<ellipse cx="668.3" cy="35.4" rx="138.7" ry="68" transform="rotate(168.21 668.3 35.4)" fill="#ffdb00"/>
<ellipse cx="668.3" cy="35.4" rx="136" ry="66.7" transform="rotate(168.21 668.3 35.4)" fill="#ffd700"/>
<ellipse cx="668.3" cy="35.4" rx="133.2" ry="65.4" transform="rotate(168.21 668.3 35.4)" fill="#ffd200"/>
<ellipse cx="668.3" cy="35.4" rx="130.5" ry="64" transform="rotate(168.21 668.3 35.4)" fill="#ffce00"/>
<ellipse cx="668.3" cy="35.4" rx="127.6" ry="62.6" transform="rotate(168.21 668.3 35.4)" fill="#ffc900"/>
<ellipse cx="668.3" cy="35.4" rx="124.7" ry="61.2" transform="rotate(168.21 668.3 35.4)" fill="#ffc500"/>
<ellipse cx="668.3" cy="35.4" rx="121.7" ry="59.7" transform="rotate(168.21 668.3 35.4)" fill="#ffc000"/>
<ellipse cx="668.3" cy="35.4" rx="118.6" ry="58.2" transform="rotate(168.21 668.3 35.4)" fill="#ffbc00"/>
<ellipse cx="668.3" cy="35.4" rx="115.5" ry="56.7" transform="rotate(168.21 668.3 35.4)" fill="#ffb700"/>
<ellipse cx="668.3" cy="35.4" rx="112.3" ry="55.1" transform="rotate(168.21 668.3 35.4)" fill="#ffb300"/>
<ellipse cx="668.3" cy="35.4" rx="108.9" ry="53.5" transform="rotate(168.21 668.3 35.4)" fill="#ffae00"/>
<ellipse cx="668.3" cy="35.4" rx="105.5" ry="51.8" transform="rotate(168.21 668.3 35.4)" fill="#ffaa00"/>
<ellipse cx="668.3" cy="35.4" rx="102" ry="50" transform="rotate(168.21 668.3 35.4)" fill="#ffa500"/>
<ellipse cx="668.3" cy="35.4" rx="98.3" ry="48.2" transform="rotate(168.21 668.3 35.4)" fill="#ffa100"/>
<ellipse cx="668.3" cy="35.4" rx="94.5" ry="46.4" transform="rotate(168.21 668.3 35.4)" fill="#ff9c00"/>
<ellipse cx="668.3" cy="35.4" rx="90.5" ry="44.4" transform="rotate(168.21 668.3 35.4)" fill="#ff9800"/>
<ellipse cx="668.3" cy="35.4" rx="86.3" ry="42.4" transform="rotate(168.21 668.3 35.4)" fill="#ff9300"/>
<ellipse cx="668.3" cy="35.4" rx="82" ry="40.2" transform="rotate(168.21 668.3 35.4)" fill="#ff8f00"/>
<ellipse cx="668.3" cy="35.4" rx="77.4" ry="38" transform="rotate(168.21 668.3 35.4)" fill="#ff8a00"/>
<ellipse cx="668.3" cy="35.4" rx="72.5" ry="35.6" transform="rotate(168.21 668.3 35.4)" fill="#ff8600"/>
<ellipse cx="668.3" cy="35.4" rx="67.2" ry="33" transform="rotate(168.21 668.3 35.4)" fill="#ff8100"/>
<ellipse cx="668.3" cy="35.4" rx="61.5" ry="30.2" transform="rotate(168.21 668.3 35.4)" fill="#ff7d00"/>
<ellipse cx="668.3" cy="35.4" rx="55.2" ry="27.1" transform="rotate(168.21 668.3 35.4)" fill="#ff7800"/>
<ellipse cx="668.3" cy="35.4" rx="48" ry="23.6" transform="rotate(168.21 668.3 35.4)" fill="#ff7400"/>
<ellipse cx="668.3" cy="35.4" rx="39.7" ry="19.5" transform="rotate(168.21 668.3 35.4)" fill="#ff6f00"/>
<ellipse cx="668.3" cy="35.4" rx="28.9" ry="14.2" transform="rotate(168.21 668.3 35.4)" fill="#ff6b00"/>
<ellipse cx="668.3" cy="35.4" rx="10.1" ry="4.9" transform="rotate(168.21 668.3 35.4)" fill="#ff6600"/>
<ellipse cx="668.3" cy="35.4" rx="357.3" ry="175.3" transform="rotate(168.21 668.3 35.4)" fill="none" stroke="#26301a" stroke-width="0.65" stroke-dasharray="9 1.5 20 2"/>
<ellipse cx="668.3" cy="35.4" rx="321.1" ry="157.6" transform="rotate(168.21 668.3 35.4)" fill="none" stroke="#26301a" stroke-width="0.65" stroke-dasharray="26 2 9 1.5 40 3 9 1.5"/>
<ellipse cx="668.3" cy="35.4" rx="280.4" ry="137.6" transform="rotate(168.21 668.3 35.4)" fill="none" stroke="#26301a" stroke-width="0.65" stroke-dasharray="30 3 12 1.5 8 1.5"/>
<ellipse cx="668.3" cy="35.4" rx="232.6" ry="114.1" transform="rotate(168.21 668.3 35.4)" fill="none" stroke="#26301a" stroke-width="0.65" stroke-dasharray="9 1.5 9 1.5 34 3"/>
<ellipse cx="668.3" cy="35.4" rx="172" ry="84.4" transform="rotate(168.21 668.3 35.4)" fill="none" stroke="#26301a" stroke-width="0.65" stroke-dasharray="45 6 20 3 9 2 60 8"/>
<ellipse cx="668.3" cy="35.4" rx="71.1" ry="34.9" transform="rotate(168.21 668.3 35.4)" fill="none" stroke="#26301a" stroke-width="0.65" stroke-dasharray="12 2 30 3"/>
</g>
<rect x="400" y="4" width="286" height="199" fill="none" stroke="#444" stroke-width="0.8"/>
<path d="M400 4V203H686" fill="none" stroke="#333" stroke-width="0.8"/>
<text x="391" y="6.2" font-family="Liberation Serif" font-size="6.5" text-anchor="end" fill="#111">1.00</text>
<text x="391" y="56" font-family="Liberation Serif" font-size="6.5" text-anchor="end" fill="#111">0.50</text>
<text x="391" y="105.7" font-family="Liberation Serif" font-size="6.5" text-anchor="end" fill="#111">0.00</text>
<text x="391" y="155.4" font-family="Liberation Serif" font-size="6.5" text-anchor="end" fill="#111">-0.50</text>
<text x="391" y="205.2" font-family="Liberation Serif" font-size="6.5" text-anchor="end" fill="#111">-1.00</text>
<text x="400" y="216" font-family="Liberation Serif" font-size="6.5" text-anchor="middle" fill="#111">-1.00</text>
<text x="471.5" y="216" font-family="Liberation Serif" font-size="6.5" text-anchor="middle" fill="#111">-0.50</text>
<text x="543" y="216" font-family="Liberation Serif" font-size="6.5" text-anchor="middle" fill="#111">0.00</text>
<text x="614.5" y="216" font-family="Liberation Serif" font-size="6.5" text-anchor="middle" fill="#111">0.50</text>
<text x="686" y="216" font-family="Liberation Serif" font-size="6.5" text-anchor="middle" fill="#111">1.00</text>
<path d="M393 4H400M393 53.8H400M393 103.5H400M393 153.2H400M393 203H400M400 203V207.5M471.5 203V207.5M543 203V207.5M614.5 203V207.5M686 203V207.5" stroke="#111" stroke-width="0.9"/>
<rect x="410.2" y="15.8" width="6.8" height="7.6" fill="#fff" stroke="#556" stroke-width="0.6"/>
<text x="413.6" y="21.9" font-family="Liberation Sans" font-size="6.5" text-anchor="middle" fill="#222">4</text>
<rect x="517.6" y="93.2" width="6.8" height="7.6" fill="#fff" stroke="#556" stroke-width="0.6"/>
<text x="521" y="99.3" font-family="Liberation Sans" font-size="6.5" text-anchor="middle" fill="#222">6</text>
<rect x="475" y="122.4" width="6.8" height="7.6" fill="#fff" stroke="#556" stroke-width="0.6"/>
<text x="478.4" y="128.5" font-family="Liberation Sans" font-size="6.5" text-anchor="middle" fill="#222">5</text>
<rect x="506.8" y="167.1" width="6.8" height="7.6" fill="#fff" stroke="#556" stroke-width="0.6"/>
<text x="510.2" y="173.2" font-family="Liberation Sans" font-size="6.5" text-anchor="middle" fill="#222">4</text>
<rect x="521.6" y="192" width="6.8" height="7.6" fill="#fff" stroke="#556" stroke-width="0.6"/>
<text x="525" y="198.1" font-family="Liberation Sans" font-size="6.5" text-anchor="middle" fill="#222">3</text>
<rect x="410.9" y="190.4" width="6.8" height="7.6" fill="#fff" stroke="#556" stroke-width="0.6"/>
<text x="414.3" y="196.5" font-family="Liberation Sans" font-size="6.5" text-anchor="middle" fill="#222">2</text>
<rect x="595.8" y="41" width="6.8" height="7.6" fill="#fff" stroke="#556" stroke-width="0.6"/>
<text x="599.2" y="47.1" font-family="Liberation Sans" font-size="6.5" text-anchor="middle" fill="#222">7</text>
<ellipse cx="400" cy="4" rx="2.5" ry="1.8" fill="#e8000a"/>
<ellipse cx="686" cy="4" rx="2.5" ry="1.8" fill="#e8000a"/>
<ellipse cx="400" cy="203" rx="2.5" ry="1.8" fill="#e8000a"/>
<ellipse cx="686" cy="203" rx="2.5" ry="1.8" fill="#e8000a"/>
<ellipse cx="542.5" cy="103.3" rx="2.8" ry="2" fill="#e8000a"/>
<text x="536.5" y="105" font-family="Liberation Sans" font-size="6" text-anchor="middle" fill="#444">5</text>
<text x="524.5" y="234.4" font-family="Liberation Serif" font-size="12.5" text-anchor="start" fill="#000" textLength="59" lengthAdjust="spacingAndGlyphs">A: Time (h)</text>
<text x="368" y="167.5" font-family="Liberation Serif" font-size="12.4" text-anchor="start" fill="#000" textLength="140" lengthAdjust="spacingAndGlyphs" transform="rotate(-90 368 167.5)">B: Liquid-solid ratio (mL/g)</text>
<clipPath id="cp1"><rect x="416" y="282" width="281" height="192"/></clipPath>
<g clip-path="url(#cp1)">
<rect x="416" y="282" width="281" height="192" fill="#00f7ff"/>
<ellipse cx="739.1" cy="242.4" rx="410.3" ry="213.1" transform="rotate(153.31 739.1 242.4)" fill="#00f9ff"/>
<ellipse cx="739.1" cy="242.4" rx="409.1" ry="212.5" transform="rotate(153.31 739.1 242.4)" fill="#00fdff"/>
<ellipse cx="739.1" cy="242.4" rx="407.8" ry="211.9" transform="rotate(153.31 739.1 242.4)" fill="#00fffc"/>
<ellipse cx="739.1" cy="242.4" rx="406.6" ry="211.2" transform="rotate(153.31 739.1 242.4)" fill="#00fff8"/>
<ellipse cx="739.1" cy="242.4" rx="405.4" ry="210.6" transform="rotate(153.31 739.1 242.4)" fill="#00fff3"/>
<ellipse cx="739.1" cy="242.4" rx="404.2" ry="210" transform="rotate(153.31 739.1 242.4)" fill="#00ffef"/>
<ellipse cx="739.1" cy="242.4" rx="403" ry="209.3" transform="rotate(153.31 739.1 242.4)" fill="#00ffea"/>
<ellipse cx="739.1" cy="242.4" rx="401.7" ry="208.7" transform="rotate(153.31 739.1 242.4)" fill="#00ffe6"/>
<ellipse cx="739.1" cy="242.4" rx="400.5" ry="208.1" transform="rotate(153.31 739.1 242.4)" fill="#00ffe1"/>
<ellipse cx="739.1" cy="242.4" rx="399.3" ry="207.4" transform="rotate(153.31 739.1 242.4)" fill="#00ffdd"/>
<ellipse cx="739.1" cy="242.4" rx="398" ry="206.8" transform="rotate(153.31 739.1 242.4)" fill="#00ffd8"/>
<ellipse cx="739.1" cy="242.4" rx="396.8" ry="206.1" transform="rotate(153.31 739.1 242.4)" fill="#00ffd4"/>
<ellipse cx="739.1" cy="242.4" rx="395.5" ry="205.5" transform="rotate(153.31 739.1 242.4)" fill="#00ffcf"/>
<ellipse cx="739.1" cy="242.4" rx="394.3" ry="204.8" transform="rotate(153.31 739.1 242.4)" fill="#00ffcb"/>
<ellipse cx="739.1" cy="242.4" rx="393" ry="204.2" transform="rotate(153.31 739.1 242.4)" fill="#00ffc6"/>
<ellipse cx="739.1" cy="242.4" rx="391.8" ry="203.5" transform="rotate(153.31 739.1 242.4)" fill="#00ffc2"/>
<ellipse cx="739.1" cy="242.4" rx="390.5" ry="202.9" transform="rotate(153.31 739.1 242.4)" fill="#00ffbd"/>
<ellipse cx="739.1" cy="242.4" rx="389.2" ry="202.2" transform="rotate(153.31 739.1 242.4)" fill="#00ffb9"/>
<ellipse cx="739.1" cy="242.4" rx="387.9" ry="201.5" transform="rotate(153.31 739.1 242.4)" fill="#00ffb4"/>
<ellipse cx="739.1" cy="242.4" rx="386.7" ry="200.9" transform="rotate(153.31 739.1 242.4)" fill="#00ffb0"/>
<ellipse cx="739.1" cy="242.4" rx="385.4" ry="200.2" transform="rotate(153.31 739.1 242.4)" fill="#00ffab"/>
<ellipse cx="739.1" cy="242.4" rx="384.1" ry="199.5" transform="rotate(153.31 739.1 242.4)" fill="#00ffa7"/>
<ellipse cx="739.1" cy="242.4" rx="382.8" ry="198.9" transform="rotate(153.31 739.1 242.4)" fill="#00ffa2"/>
<ellipse cx="739.1" cy="242.4" rx="381.5" ry="198.2" transform="rotate(153.31 739.1 242.4)" fill="#00ff9e"/>
<ellipse cx="739.1" cy="242.4" rx="380.2" ry="197.5" transform="rotate(153.31 739.1 242.4)" fill="#00ff99"/>
<ellipse cx="739.1" cy="242.4" rx="378.9" ry="196.8" transform="rotate(153.31 739.1 242.4)" fill="#00ff95"/>
<ellipse cx="739.1" cy="242.4" rx="377.6" ry="196.2" transform="rotate(153.31 739.1 242.4)" fill="#00ff90"/>
<ellipse cx="739.1" cy="242.4" rx="376.3" ry="195.5" transform="rotate(153.31 739.1 242.4)" fill="#00ff8c"/>
<ellipse cx="739.1" cy="242.4" rx="375" ry="194.8" transform="rotate(153.31 739.1 242.4)" fill="#00ff87"/>
<ellipse cx="739.1" cy="242.4" rx="373.7" ry="194.1" transform="rotate(153.31 739.1 242.4)" fill="#00ff83"/>
<ellipse cx="739.1" cy="242.4" rx="372.3" ry="193.4" transform="rotate(153.31 739.1 242.4)" fill="#00ff7e"/>
<ellipse cx="739.1" cy="242.4" rx="371" ry="192.7" transform="rotate(153.31 739.1 242.4)" fill="#00ff7a"/>
<ellipse cx="739.1" cy="242.4" rx="369.7" ry="192" transform="rotate(153.31 739.1 242.4)" fill="#00ff75"/>
<ellipse cx="739.1" cy="242.4" rx="368.3" ry="191.3" transform="rotate(153.31 739.1 242.4)" fill="#00ff71"/>
<ellipse cx="739.1" cy="242.4" rx="367" ry="190.6" transform="rotate(153.31 739.1 242.4)" fill="#00ff6c"/>
<ellipse cx="739.1" cy="242.4" rx="365.6" ry="189.9" transform="rotate(153.31 739.1 242.4)" fill="#00ff68"/>
<ellipse cx="739.1" cy="242.4" rx="364.3" ry="189.2" transform="rotate(153.31 739.1 242.4)" fill="#00ff63"/>
<ellipse cx="739.1" cy="242.4" rx="362.9" ry="188.5" transform="rotate(153.31 739.1 242.4)" fill="#00ff5f"/>
<ellipse cx="739.1" cy="242.4" rx="361.5" ry="187.8" transform="rotate(153.31 739.1 242.4)" fill="#00ff5a"/>
<ellipse cx="739.1" cy="242.4" rx="360.2" ry="187.1" transform="rotate(153.31 739.1 242.4)" fill="#00ff56"/>
<ellipse cx="739.1" cy="242.4" rx="358.8" ry="186.4" transform="rotate(153.31 739.1 242.4)" fill="#00ff51"/>
<ellipse cx="739.1" cy="242.4" rx="357.4" ry="185.7" transform="rotate(153.31 739.1 242.4)" fill="#00ff4d"/>
<ellipse cx="739.1" cy="242.4" rx="356" ry="185" transform="rotate(153.31 739.1 242.4)" fill="#00ff48"/>
<ellipse cx="739.1" cy="242.4" rx="354.6" ry="184.2" transform="rotate(153.31 739.1 242.4)" fill="#00ff44"/>
<ellipse cx="739.1" cy="242.4" rx="353.2" ry="183.5" transform="rotate(153.31 739.1 242.4)" fill="#00ff3f"/>
<ellipse cx="739.1" cy="242.4" rx="351.8" ry="182.8" transform="rotate(153.31 739.1 242.4)" fill="#00ff3b"/>
<ellipse cx="739.1" cy="242.4" rx="350.4" ry="182" transform="rotate(153.31 739.1 242.4)" fill="#00ff36"/>
<ellipse cx="739.1" cy="242.4" rx="349" ry="181.3" transform="rotate(153.31 739.1 242.4)" fill="#00ff32"/>
<ellipse cx="739.1" cy="242.4" rx="347.6" ry="180.6" transform="rotate(153.31 739.1 242.4)" fill="#00ff2d"/>
<ellipse cx="739.1" cy="242.4" rx="346.2" ry="179.8" transform="rotate(153.31 739.1 242.4)" fill="#00ff29"/>
<ellipse cx="739.1" cy="242.4" rx="344.7" ry="179.1" transform="rotate(153.31 739.1 242.4)" fill="#00ff24"/>
<ellipse cx="739.1" cy="242.4" rx="343.3" ry="178.3" transform="rotate(153.31 739.1 242.4)" fill="#00ff20"/>
<ellipse cx="739.1" cy="242.4" rx="341.8" ry="177.6" transform="rotate(153.31 739.1 242.4)" fill="#00ff1b"/>
<ellipse cx="739.1" cy="242.4" rx="340.4" ry="176.8" transform="rotate(153.31 739.1 242.4)" fill="#00ff17"/>
<ellipse cx="739.1" cy="242.4" rx="338.9" ry="176.1" transform="rotate(153.31 739.1 242.4)" fill="#00ff12"/>
<ellipse cx="739.1" cy="242.4" rx="337.5" ry="175.3" transform="rotate(153.31 739.1 242.4)" fill="#00ff0e"/>
<ellipse cx="739.1" cy="242.4" rx="336" ry="174.6" transform="rotate(153.31 739.1 242.4)" fill="#00ff09"/>
<ellipse cx="739.1" cy="242.4" rx="334.5" ry="173.8" transform="rotate(153.31 739.1 242.4)" fill="#00ff05"/>
<ellipse cx="739.1" cy="242.4" rx="333" ry="173" transform="rotate(153.31 739.1 242.4)" fill="#00ff00"/>
<ellipse cx="739.1" cy="242.4" rx="331.5" ry="172.2" transform="rotate(153.31 739.1 242.4)" fill="#04ff00"/>
<ellipse cx="739.1" cy="242.4" rx="330.1" ry="171.5" transform="rotate(153.31 739.1 242.4)" fill="#09ff00"/>
<ellipse cx="739.1" cy="242.4" rx="328.5" ry="170.7" transform="rotate(153.31 739.1 242.4)" fill="#0dff00"/>
<ellipse cx="739.1" cy="242.4" rx="327" ry="169.9" transform="rotate(153.31 739.1 242.4)" fill="#12ff00"/>
<ellipse cx="739.1" cy="242.4" rx="325.5" ry="169.1" transform="rotate(153.31 739.1 242.4)" fill="#16ff00"/>
<ellipse cx="739.1" cy="242.4" rx="324" ry="168.3" transform="rotate(153.31 739.1 242.4)" fill="#1bff00"/>
<ellipse cx="739.1" cy="242.4" rx="322.5" ry="167.5" transform="rotate(153.31 739.1 242.4)" fill="#1fff00"/>
<ellipse cx="739.1" cy="242.4" rx="320.9" ry="166.7" transform="rotate(153.31 739.1 242.4)" fill="#24ff00"/>
<ellipse cx="739.1" cy="242.4" rx="319.4" ry="165.9" transform="rotate(153.31 739.1 242.4)" fill="#28ff00"/>
<ellipse cx="739.1" cy="242.4" rx="317.8" ry="165.1" transform="rotate(153.31 739.1 242.4)" fill="#2dff00"/>
<ellipse cx="739.1" cy="242.4" rx="316.3" ry="164.3" transform="rotate(153.31 739.1 242.4)" fill="#31ff00"/>
<ellipse cx="739.1" cy="242.4" rx="314.7" ry="163.5" transform="rotate(153.31 739.1 242.4)" fill="#36ff00"/>
<ellipse cx="739.1" cy="242.4" rx="313.1" ry="162.7" transform="rotate(153.31 739.1 242.4)" fill="#3aff00"/>
<ellipse cx="739.1" cy="242.4" rx="311.5" ry="161.8" transform="rotate(153.31 739.1 242.4)" fill="#3fff00"/>
<ellipse cx="739.1" cy="242.4" rx="309.9" ry="161" transform="rotate(153.31 739.1 242.4)" fill="#43ff00"/>
<ellipse cx="739.1" cy="242.4" rx="308.3" ry="160.2" transform="rotate(153.31 739.1 242.4)" fill="#48ff00"/>
<ellipse cx="739.1" cy="242.4" rx="306.7" ry="159.4" transform="rotate(153.31 739.1 242.4)" fill="#4cff00"/>
<ellipse cx="739.1" cy="242.4" rx="305.1" ry="158.5" transform="rotate(153.31 739.1 242.4)" fill="#51ff00"/>
<ellipse cx="739.1" cy="242.4" rx="303.5" ry="157.7" transform="rotate(153.31 739.1 242.4)" fill="#55ff00"/>
<ellipse cx="739.1" cy="242.4" rx="301.9" ry="156.8" transform="rotate(153.31 739.1 242.4)" fill="#5aff00"/>
<ellipse cx="739.1" cy="242.4" rx="300.2" ry="156" transform="rotate(153.31 739.1 242.4)" fill="#5eff00"/>
<ellipse cx="739.1" cy="242.4" rx="298.6" ry="155.1" transform="rotate(153.31 739.1 242.4)" fill="#63ff00"/>
<ellipse cx="739.1" cy="242.4" rx="296.9" ry="154.2" transform="rotate(153.31 739.1 242.4)" fill="#67ff00"/>
<ellipse cx="739.1" cy="242.4" rx="295.2" ry="153.4" transform="rotate(153.31 739.1 242.4)" fill="#6cff00"/>
<ellipse cx="739.1" cy="242.4" rx="293.5" ry="152.5" transform="rotate(153.31 739.1 242.4)" fill="#70ff00"/>
<ellipse cx="739.1" cy="242.4" rx="291.9" ry="151.6" transform="rotate(153.31 739.1 242.4)" fill="#75ff00"/>
<ellipse cx="739.1" cy="242.4" rx="290.2" ry="150.7" transform="rotate(153.31 739.1 242.4)" fill="#79ff00"/>
<ellipse cx="739.1" cy="242.4" rx="288.4" ry="149.8" transform="rotate(153.31 739.1 242.4)" fill="#7eff00"/>
<ellipse cx="739.1" cy="242.4" rx="286.7" ry="149" transform="rotate(153.31 739.1 242.4)" fill="#82ff00"/>
<ellipse cx="739.1" cy="242.4" rx="285" ry="148.1" transform="rotate(153.31 739.1 242.4)" fill="#87ff00"/>
<ellipse cx="739.1" cy="242.4" rx="283.3" ry="147.2" transform="rotate(153.31 739.1 242.4)" fill="#8bff00"/>
<ellipse cx="739.1" cy="242.4" rx="281.5" ry="146.2" transform="rotate(153.31 739.1 242.4)" fill="#90ff00"/>
<ellipse cx="739.1" cy="242.4" rx="279.7" ry="145.3" transform="rotate(153.31 739.1 242.4)" fill="#94ff00"/>
<ellipse cx="739.1" cy="242.4" rx="278" ry="144.4" transform="rotate(153.31 739.1 242.4)" fill="#99ff00"/>
<ellipse cx="739.1" cy="242.4" rx="276.2" ry="143.5" transform="rotate(153.31 739.1 242.4)" fill="#9dff00"/>
<ellipse cx="739.1" cy="242.4" rx="274.4" ry="142.5" transform="rotate(153.31 739.1 242.4)" fill="#a2ff00"/>
<ellipse cx="739.1" cy="242.4" rx="272.6" ry="141.6" transform="rotate(153.31 739.1 242.4)" fill="#a6ff00"/>
<ellipse cx="739.1" cy="242.4" rx="270.7" ry="140.7" transform="rotate(153.31 739.1 242.4)" fill="#abff00"/>
<ellipse cx="739.1" cy="242.4" rx="268.9" ry="139.7" transform="rotate(153.31 739.1 242.4)" fill="#afff00"/>
<ellipse cx="739.1" cy="242.4" rx="267.1" ry="138.7" transform="rotate(153.31 739.1 242.4)" fill="#b4ff00"/>
<ellipse cx="739.1" cy="242.4" rx="265.2" ry="137.8" transform="rotate(153.31 739.1 242.4)" fill="#b8ff00"/>
<ellipse cx="739.1" cy="242.4" rx="263.3" ry="136.8" transform="rotate(153.31 739.1 242.4)" fill="#bdff00"/>
<ellipse cx="739.1" cy="242.4" rx="261.5" ry="135.8" transform="rotate(153.31 739.1 242.4)" fill="#c1ff00"/>
<ellipse cx="739.1" cy="242.4" rx="259.6" ry="134.8" transform="rotate(153.31 739.1 242.4)" fill="#c6ff00"/>
<ellipse cx="739.1" cy="242.4" rx="257.6" ry="133.8" transform="rotate(153.31 739.1 242.4)" fill="#caff00"/>
<ellipse cx="739.1" cy="242.4" rx="255.7" ry="132.8" transform="rotate(153.31 739.1 242.4)" fill="#cfff00"/>
<ellipse cx="739.1" cy="242.4" rx="253.8" ry="131.8" transform="rotate(153.31 739.1 242.4)" fill="#d3ff00"/>
<ellipse cx="739.1" cy="242.4" rx="251.8" ry="130.8" transform="rotate(153.31 739.1 242.4)" fill="#d8ff00"/>
<ellipse cx="739.1" cy="242.4" rx="249.8" ry="129.8" transform="rotate(153.31 739.1 242.4)" fill="#dcff00"/>
<ellipse cx="739.1" cy="242.4" rx="247.8" ry="128.8" transform="rotate(153.31 739.1 242.4)" fill="#e1ff00"/>
<ellipse cx="739.1" cy="242.4" rx="245.8" ry="127.7" transform="rotate(153.31 739.1 242.4)" fill="#e5ff00"/>
<ellipse cx="739.1" cy="242.4" rx="243.8" ry="126.7" transform="rotate(153.31 739.1 242.4)" fill="#eaff00"/>
<ellipse cx="739.1" cy="242.4" rx="241.8" ry="125.6" transform="rotate(153.31 739.1 242.4)" fill="#eeff00"/>
<ellipse cx="739.1" cy="242.4" rx="239.7" ry="124.5" transform="rotate(153.31 739.1 242.4)" fill="#f3ff00"/>
<ellipse cx="739.1" cy="242.4" rx="237.7" ry="123.5" transform="rotate(153.31 739.1 242.4)" fill="#f7ff00"/>
<ellipse cx="739.1" cy="242.4" rx="235.6" ry="122.4" transform="rotate(153.31 739.1 242.4)" fill="#fcff00"/>
<ellipse cx="739.1" cy="242.4" rx="233.5" ry="121.3" transform="rotate(153.31 739.1 242.4)" fill="#fffe00"/>
<ellipse cx="739.1" cy="242.4" rx="231.3" ry="120.2" transform="rotate(153.31 739.1 242.4)" fill="#fff900"/>
<ellipse cx="739.1" cy="242.4" rx="229.2" ry="119.1" transform="rotate(153.31 739.1 242.4)" fill="#fff500"/>
<ellipse cx="739.1" cy="242.4" rx="227" ry="117.9" transform="rotate(153.31 739.1 242.4)" fill="#fff000"/>
<ellipse cx="739.1" cy="242.4" rx="224.8" ry="116.8" transform="rotate(153.31 739.1 242.4)" fill="#ffec00"/>
<ellipse cx="739.1" cy="242.4" rx="222.6" ry="115.6" transform="rotate(153.31 739.1 242.4)" fill="#ffe700"/>
<ellipse cx="739.1" cy="242.4" rx="220.4" ry="114.5" transform="rotate(153.31 739.1 242.4)" fill="#ffe300"/>
<ellipse cx="739.1" cy="242.4" rx="218.1" ry="113.3" transform="rotate(153.31 739.1 242.4)" fill="#ffde00"/>
<ellipse cx="739.1" cy="242.4" rx="215.8" ry="112.1" transform="rotate(153.31 739.1 242.4)" fill="#ffda00"/>
<ellipse cx="739.1" cy="242.4" rx="213.5" ry="110.9" transform="rotate(153.31 739.1 242.4)" fill="#ffd500"/>
<ellipse cx="739.1" cy="242.4" rx="211.2" ry="109.7" transform="rotate(153.31 739.1 242.4)" fill="#ffd100"/>
<ellipse cx="739.1" cy="242.4" rx="208.8" ry="108.5" transform="rotate(153.31 739.1 242.4)" fill="#ffcc00"/>
<ellipse cx="739.1" cy="242.4" rx="206.5" ry="107.3" transform="rotate(153.31 739.1 242.4)" fill="#ffc800"/>
<ellipse cx="739.1" cy="242.4" rx="204" ry="106" transform="rotate(153.31 739.1 242.4)" fill="#ffc300"/>
<ellipse cx="739.1" cy="242.4" rx="201.6" ry="104.7" transform="rotate(153.31 739.1 242.4)" fill="#ffbf00"/>
<ellipse cx="739.1" cy="242.4" rx="199.1" ry="103.5" transform="rotate(153.31 739.1 242.4)" fill="#ffba00"/>
<ellipse cx="739.1" cy="242.4" rx="196.6" ry="102.2" transform="rotate(153.31 739.1 242.4)" fill="#ffb600"/>
<ellipse cx="739.1" cy="242.4" rx="194.1" ry="100.8" transform="rotate(153.31 739.1 242.4)" fill="#ffb100"/>
<ellipse cx="739.1" cy="242.4" rx="191.5" ry="99.5" transform="rotate(153.31 739.1 242.4)" fill="#ffad00"/>
<ellipse cx="739.1" cy="242.4" rx="188.9" ry="98.2" transform="rotate(153.31 739.1 242.4)" fill="#ffa800"/>
<ellipse cx="739.1" cy="242.4" rx="186.3" ry="96.8" transform="rotate(153.31 739.1 242.4)" fill="#ffa400"/>
<ellipse cx="739.1" cy="242.4" rx="183.6" ry="95.4" transform="rotate(153.31 739.1 242.4)" fill="#ff9f00"/>
<ellipse cx="739.1" cy="242.4" rx="180.9" ry="94" transform="rotate(153.31 739.1 242.4)" fill="#ff9b00"/>
<ellipse cx="739.1" cy="242.4" rx="178.1" ry="92.5" transform="rotate(153.31 739.1 242.4)" fill="#ff9600"/>
<ellipse cx="739.1" cy="242.4" rx="175.3" ry="91.1" transform="rotate(153.31 739.1 242.4)" fill="#ff9200"/>
<ellipse cx="739.1" cy="242.4" rx="172.5" ry="89.6" transform="rotate(153.31 739.1 242.4)" fill="#ff8d00"/>
<ellipse cx="739.1" cy="242.4" rx="169.6" ry="88.1" transform="rotate(153.31 739.1 242.4)" fill="#ff8900"/>
<ellipse cx="739.1" cy="242.4" rx="166.7" ry="86.6" transform="rotate(153.31 739.1 242.4)" fill="#ff8400"/>
<ellipse cx="739.1" cy="242.4" rx="163.7" ry="85" transform="rotate(153.31 739.1 242.4)" fill="#ff8000"/>
<ellipse cx="739.1" cy="242.4" rx="160.6" ry="83.4" transform="rotate(153.31 739.1 242.4)" fill="#ff7b00"/>
<ellipse cx="739.1" cy="242.4" rx="157.5" ry="81.8" transform="rotate(153.31 739.1 242.4)" fill="#ff7700"/>
<ellipse cx="739.1" cy="242.4" rx="154.3" ry="80.2" transform="rotate(153.31 739.1 242.4)" fill="#ff7200"/>
<ellipse cx="739.1" cy="242.4" rx="151.1" ry="78.5" transform="rotate(153.31 739.1 242.4)" fill="#ff6e00"/>
<ellipse cx="739.1" cy="242.4" rx="147.8" ry="76.8" transform="rotate(153.31 739.1 242.4)" fill="#ff6900"/>
<ellipse cx="739.1" cy="242.4" rx="144.4" ry="75" transform="rotate(153.31 739.1 242.4)" fill="#ff6500"/>
<ellipse cx="739.1" cy="242.4" rx="140.9" ry="73.2" transform="rotate(153.31 739.1 242.4)" fill="#ff6000"/>
<ellipse cx="739.1" cy="242.4" rx="137.4" ry="71.4" transform="rotate(153.31 739.1 242.4)" fill="#ff5c00"/>
<ellipse cx="739.1" cy="242.4" rx="133.7" ry="69.5" transform="rotate(153.31 739.1 242.4)" fill="#ff5700"/>
<ellipse cx="739.1" cy="242.4" rx="130" ry="67.5" transform="rotate(153.31 739.1 242.4)" fill="#ff5300"/>
<ellipse cx="739.1" cy="242.4" rx="126.1" ry="65.5" transform="rotate(153.31 739.1 242.4)" fill="#ff4e00"/>
<ellipse cx="739.1" cy="242.4" rx="122.1" ry="63.4" transform="rotate(153.31 739.1 242.4)" fill="#ff4a00"/>
<ellipse cx="739.1" cy="242.4" rx="118" ry="61.3" transform="rotate(153.31 739.1 242.4)" fill="#ff4500"/>
<ellipse cx="739.1" cy="242.4" rx="113.7" ry="59.1" transform="rotate(153.31 739.1 242.4)" fill="#ff4100"/>
<ellipse cx="739.1" cy="242.4" rx="109.3" ry="56.8" transform="rotate(153.31 739.1 242.4)" fill="#ff3c00"/>
<ellipse cx="739.1" cy="242.4" rx="104.7" ry="54.4" transform="rotate(153.31 739.1 242.4)" fill="#ff3800"/>
<ellipse cx="739.1" cy="242.4" rx="99.8" ry="51.9" transform="rotate(153.31 739.1 242.4)" fill="#ff3300"/>
<ellipse cx="739.1" cy="242.4" rx="94.7" ry="49.2" transform="rotate(153.31 739.1 242.4)" fill="#ff2f00"/>
<ellipse cx="739.1" cy="242.4" rx="89.4" ry="46.4" transform="rotate(153.31 739.1 242.4)" fill="#ff2a00"/>
<ellipse cx="739.1" cy="242.4" rx="83.6" ry="43.4" transform="rotate(153.31 739.1 242.4)" fill="#ff2600"/>
<ellipse cx="739.1" cy="242.4" rx="77.5" ry="40.3" transform="rotate(153.31 739.1 242.4)" fill="#ff2100"/>
<ellipse cx="739.1" cy="242.4" rx="70.8" ry="36.8" transform="rotate(153.31 739.1 242.4)" fill="#ff1d00"/>
<ellipse cx="739.1" cy="242.4" rx="63.4" ry="33" transform="rotate(153.31 739.1 242.4)" fill="#ff1800"/>
<ellipse cx="739.1" cy="242.4" rx="55.1" ry="28.6" transform="rotate(153.31 739.1 242.4)" fill="#ff1400"/>
<ellipse cx="739.1" cy="242.4" rx="45.2" ry="23.5" transform="rotate(153.31 739.1 242.4)" fill="#ff0f00"/>
<ellipse cx="739.1" cy="242.4" rx="32.5" ry="16.9" transform="rotate(153.31 739.1 242.4)" fill="#ff0b00"/>
<ellipse cx="739.1" cy="242.4" rx="8.2" ry="4.2" transform="rotate(153.31 739.1 242.4)" fill="#ff0600"/>
<ellipse cx="739.1" cy="242.4" rx="439.1" ry="228.1" transform="rotate(153.31 739.1 242.4)" fill="none" stroke="#26301a" stroke-width="0.65" stroke-dasharray="10 2 3 2"/>
<ellipse cx="739.1" cy="242.4" rx="399.8" ry="207.7" transform="rotate(153.31 739.1 242.4)" fill="none" stroke="#26301a" stroke-width="0.65" stroke-dasharray="12 2 3 2 8 2"/>
<ellipse cx="739.1" cy="242.4" rx="356.2" ry="185" transform="rotate(153.31 739.1 242.4)" fill="none" stroke="#26301a" stroke-width="0.65" stroke-dasharray="9 2 2.5 2 14 2 3 2"/>
<ellipse cx="739.1" cy="242.4" rx="306.4" ry="159.2" transform="rotate(153.31 739.1 242.4)" fill="none" stroke="#26301a" stroke-width="0.65" stroke-dasharray="11 2 3 2 11 2 3 2 30 12"/>
<ellipse cx="739.1" cy="242.4" rx="246.7" ry="128.2" transform="rotate(153.31 739.1 242.4)" fill="none" stroke="#26301a" stroke-width="0.65" stroke-dasharray="8 2 3 2 20 3"/>
<ellipse cx="739.1" cy="242.4" rx="167" ry="86.8" transform="rotate(153.31 739.1 242.4)" fill="none" stroke="#26301a" stroke-width="0.65" stroke-dasharray="7 1.5 7 1.5 20 2"/>
</g>
<path d="M416 282V474H697" fill="none" stroke="#333" stroke-width="0.8"/>
<text x="407" y="284.2" font-family="Liberation Serif" font-size="6.5" text-anchor="end" fill="#111">1.00</text>
<text x="407" y="332.2" font-family="Liberation Serif" font-size="6.5" text-anchor="end" fill="#111">0.50</text>
<text x="407" y="380.2" font-family="Liberation Serif" font-size="6.5" text-anchor="end" fill="#111">0.00</text>
<text x="407" y="428.2" font-family="Liberation Serif" font-size="6.5" text-anchor="end" fill="#111">-0.50</text>
<text x="407" y="476.2" font-family="Liberation Serif" font-size="6.5" text-anchor="end" fill="#111">-1.00</text>
<text x="416" y="487" font-family="Liberation Serif" font-size="6.5" text-anchor="middle" fill="#111">-1.00</text>
<text x="486.2" y="487" font-family="Liberation Serif" font-size="6.5" text-anchor="middle" fill="#111">-0.50</text>
<text x="556.5" y="487" font-family="Liberation Serif" font-size="6.5" text-anchor="middle" fill="#111">0.00</text>
<text x="626.8" y="487" font-family="Liberation Serif" font-size="6.5" text-anchor="middle" fill="#111">0.50</text>
<text x="697" y="487" font-family="Liberation Serif" font-size="6.5" text-anchor="middle" fill="#111">1.00</text>
<path d="M409 282H416M409 330H416M409 378H416M409 426H416M409 474H416M416 474V478.5M486.2 474V478.5M556.5 474V478.5M626.8 474V478.5M697 474V478.5" stroke="#111" stroke-width="0.9"/>
<rect x="419.3" y="290" width="6.8" height="7.6" fill="#fff" stroke="#556" stroke-width="0.6"/>
<text x="422.7" y="296.1" font-family="Liberation Sans" font-size="6.5" text-anchor="middle" fill="#222">4</text>
<rect x="605.5" y="330.4" width="6.8" height="7.6" fill="#fff" stroke="#556" stroke-width="0.6"/>
<text x="608.9" y="336.5" font-family="Liberation Sans" font-size="6.5" text-anchor="middle" fill="#222">7</text>
<rect x="544.9" y="376" width="6.8" height="7.6" fill="#fff" stroke="#556" stroke-width="0.6"/>
<text x="548.3" y="382.1" font-family="Liberation Sans" font-size="6.5" text-anchor="middle" fill="#222">6</text>
<rect x="494.8" y="408.2" width="6.8" height="7.6" fill="#fff" stroke="#556" stroke-width="0.6"/>
<text x="498.2" y="414.3" font-family="Liberation Sans" font-size="6.5" text-anchor="middle" fill="#222">5</text>
<rect x="511.9" y="459" width="6.8" height="7.6" fill="#fff" stroke="#556" stroke-width="0.6"/>
<text x="515.3" y="465.1" font-family="Liberation Sans" font-size="6.5" text-anchor="middle" fill="#222">4</text>
<rect x="419.8" y="459.8" width="6.8" height="7.6" fill="#fff" stroke="#556" stroke-width="0.6"/>
<text x="423.2" y="465.9" font-family="Liberation Sans" font-size="6.5" text-anchor="middle" fill="#222">3</text>
<ellipse cx="416" cy="282" rx="2.5" ry="1.8" fill="#e8000a"/>
<ellipse cx="697" cy="282" rx="2.5" ry="1.8" fill="#e8000a"/>
<ellipse cx="416" cy="474" rx="2.5" ry="1.8" fill="#e8000a"/>
<ellipse cx="697" cy="474" rx="2.5" ry="1.8" fill="#e8000a"/>
<ellipse cx="556" cy="377.5" rx="2.8" ry="2" fill="#e8000a"/>
<text x="549" y="375" font-family="Liberation Sans" font-size="4.5" text-anchor="middle" fill="#444">5</text>
<text x="526.5" y="499.3" font-family="Liberation Serif" font-size="13.1" text-anchor="start" fill="#000" textLength="62" lengthAdjust="spacingAndGlyphs">A: Time (h)</text>
<text x="381.6" y="487" font-family="Liberation Serif" font-size="13.85" text-anchor="start" fill="#000" textLength="223.5" lengthAdjust="spacingAndGlyphs" transform="rotate(-90 381.6 487)">C: Ammonlum oxalate concentration (%)</text>
<clipPath id="cp2"><rect x="432.6" y="527.4" width="270.6" height="192.4"/></clipPath>
<g clip-path="url(#cp2)">
<rect x="432.6" y="527.4" width="270.6" height="192.4" fill="#0003ff"/>
<ellipse cx="645.4" cy="539.1" rx="279.2" ry="237.9" transform="rotate(139.88 645.4 539.1)" fill="#0006ff"/>
<ellipse cx="645.4" cy="539.1" rx="278.5" ry="237.3" transform="rotate(139.88 645.4 539.1)" fill="#000aff"/>
<ellipse cx="645.4" cy="539.1" rx="277.8" ry="236.7" transform="rotate(139.88 645.4 539.1)" fill="#000fff"/>
<ellipse cx="645.4" cy="539.1" rx="277.1" ry="236.1" transform="rotate(139.88 645.4 539.1)" fill="#0013ff"/>
<ellipse cx="645.4" cy="539.1" rx="276.4" ry="235.5" transform="rotate(139.88 645.4 539.1)" fill="#0018ff"/>
<ellipse cx="645.4" cy="539.1" rx="275.7" ry="234.9" transform="rotate(139.88 645.4 539.1)" fill="#001cff"/>
<ellipse cx="645.4" cy="539.1" rx="275" ry="234.3" transform="rotate(139.88 645.4 539.1)" fill="#0021ff"/>
<ellipse cx="645.4" cy="539.1" rx="274.3" ry="233.7" transform="rotate(139.88 645.4 539.1)" fill="#0025ff"/>
<ellipse cx="645.4" cy="539.1" rx="273.6" ry="233.1" transform="rotate(139.88 645.4 539.1)" fill="#002aff"/>
<ellipse cx="645.4" cy="539.1" rx="272.9" ry="232.5" transform="rotate(139.88 645.4 539.1)" fill="#002eff"/>
<ellipse cx="645.4" cy="539.1" rx="272.2" ry="231.9" transform="rotate(139.88 645.4 539.1)" fill="#0033ff"/>
<ellipse cx="645.4" cy="539.1" rx="271.5" ry="231.3" transform="rotate(139.88 645.4 539.1)" fill="#0037ff"/>
<ellipse cx="645.4" cy="539.1" rx="270.8" ry="230.7" transform="rotate(139.88 645.4 539.1)" fill="#003cff"/>
<ellipse cx="645.4" cy="539.1" rx="270.1" ry="230.1" transform="rotate(139.88 645.4 539.1)" fill="#0040ff"/>
<ellipse cx="645.4" cy="539.1" rx="269.4" ry="229.5" transform="rotate(139.88 645.4 539.1)" fill="#0045ff"/>
<ellipse cx="645.4" cy="539.1" rx="268.7" ry="228.9" transform="rotate(139.88 645.4 539.1)" fill="#0049ff"/>
<ellipse cx="645.4" cy="539.1" rx="267.9" ry="228.3" transform="rotate(139.88 645.4 539.1)" fill="#004eff"/>
<ellipse cx="645.4" cy="539.1" rx="267.2" ry="227.7" transform="rotate(139.88 645.4 539.1)" fill="#0052ff"/>
<ellipse cx="645.4" cy="539.1" rx="266.5" ry="227.1" transform="rotate(139.88 645.4 539.1)" fill="#0057ff"/>
<ellipse cx="645.4" cy="539.1" rx="265.8" ry="226.4" transform="rotate(139.88 645.4 539.1)" fill="#005bff"/>
<ellipse cx="645.4" cy="539.1" rx="265" ry="225.8" transform="rotate(139.88 645.4 539.1)" fill="#0060ff"/>
<ellipse cx="645.4" cy="539.1" rx="264.3" ry="225.2" transform="rotate(139.88 645.4 539.1)" fill="#0064ff"/>
<ellipse cx="645.4" cy="539.1" rx="263.6" ry="224.6" transform="rotate(139.88 645.4 539.1)" fill="#0069ff"/>
<ellipse cx="645.4" cy="539.1" rx="262.8" ry="223.9" transform="rotate(139.88 645.4 539.1)" fill="#006dff"/>
<ellipse cx="645.4" cy="539.1" rx="262.1" ry="223.3" transform="rotate(139.88 645.4 539.1)" fill="#0072ff"/>
<ellipse cx="645.4" cy="539.1" rx="261.4" ry="222.7" transform="rotate(139.88 645.4 539.1)" fill="#0076ff"/>
<ellipse cx="645.4" cy="539.1" rx="260.6" ry="222.1" transform="rotate(139.88 645.4 539.1)" fill="#007bff"/>
<ellipse cx="645.4" cy="539.1" rx="259.9" ry="221.4" transform="rotate(139.88 645.4 539.1)" fill="#007fff"/>
<ellipse cx="645.4" cy="539.1" rx="259.1" ry="220.8" transform="rotate(139.88 645.4 539.1)" fill="#0084ff"/>
<ellipse cx="645.4" cy="539.1" rx="258.4" ry="220.2" transform="rotate(139.88 645.4 539.1)" fill="#0088ff"/>
<ellipse cx="645.4" cy="539.1" rx="257.6" ry="219.5" transform="rotate(139.88 645.4 539.1)" fill="#008dff"/>
<ellipse cx="645.4" cy="539.1" rx="256.9" ry="218.9" transform="rotate(139.88 645.4 539.1)" fill="#0091ff"/>
<ellipse cx="645.4" cy="539.1" rx="256.1" ry="218.2" transform="rotate(139.88 645.4 539.1)" fill="#0096ff"/>
<ellipse cx="645.4" cy="539.1" rx="255.4" ry="217.6" transform="rotate(139.88 645.4 539.1)" fill="#009aff"/>
<ellipse cx="645.4" cy="539.1" rx="254.6" ry="217" transform="rotate(139.88 645.4 539.1)" fill="#009fff"/>
<ellipse cx="645.4" cy="539.1" rx="253.9" ry="216.3" transform="rotate(139.88 645.4 539.1)" fill="#00a3ff"/>
<ellipse cx="645.4" cy="539.1" rx="253.1" ry="215.7" transform="rotate(139.88 645.4 539.1)" fill="#00a8ff"/>
<ellipse cx="645.4" cy="539.1" rx="252.3" ry="215" transform="rotate(139.88 645.4 539.1)" fill="#00acff"/>
<ellipse cx="645.4" cy="539.1" rx="251.6" ry="214.4" transform="rotate(139.88 645.4 539.1)" fill="#00b1ff"/>
<ellipse cx="645.4" cy="539.1" rx="250.8" ry="213.7" transform="rotate(139.88 645.4 539.1)" fill="#00b5ff"/>
<ellipse cx="645.4" cy="539.1" rx="250" ry="213" transform="rotate(139.88 645.4 539.1)" fill="#00baff"/>
<ellipse cx="645.4" cy="539.1" rx="249.3" ry="212.4" transform="rotate(139.88 645.4 539.1)" fill="#00beff"/>
<ellipse cx="645.4" cy="539.1" rx="248.5" ry="211.7" transform="rotate(139.88 645.4 539.1)" fill="#00c3ff"/>
<ellipse cx="645.4" cy="539.1" rx="247.7" ry="211.1" transform="rotate(139.88 645.4 539.1)" fill="#00c7ff"/>
<ellipse cx="645.4" cy="539.1" rx="246.9" ry="210.4" transform="rotate(139.88 645.4 539.1)" fill="#00ccff"/>
<ellipse cx="645.4" cy="539.1" rx="246.1" ry="209.7" transform="rotate(139.88 645.4 539.1)" fill="#00d0ff"/>
<ellipse cx="645.4" cy="539.1" rx="245.4" ry="209.1" transform="rotate(139.88 645.4 539.1)" fill="#00d5ff"/>
<ellipse cx="645.4" cy="539.1" rx="244.6" ry="208.4" transform="rotate(139.88 645.4 539.1)" fill="#00d9ff"/>
<ellipse cx="645.4" cy="539.1" rx="243.8" ry="207.7" transform="rotate(139.88 645.4 539.1)" fill="#00deff"/>
<ellipse cx="645.4" cy="539.1" rx="243" ry="207" transform="rotate(139.88 645.4 539.1)" fill="#00e2ff"/>
<ellipse cx="645.4" cy="539.1" rx="242.2" ry="206.4" transform="rotate(139.88 645.4 539.1)" fill="#00e7ff"/>
<ellipse cx="645.4" cy="539.1" rx="241.4" ry="205.7" transform="rotate(139.88 645.4 539.1)" fill="#00ebff"/>
<ellipse cx="645.4" cy="539.1" rx="240.6" ry="205" transform="rotate(139.88 645.4 539.1)" fill="#00f0ff"/>
<ellipse cx="645.4" cy="539.1" rx="239.8" ry="204.3" transform="rotate(139.88 645.4 539.1)" fill="#00f4ff"/>
<ellipse cx="645.4" cy="539.1" rx="239" ry="203.6" transform="rotate(139.88 645.4 539.1)" fill="#00f9ff"/>
<ellipse cx="645.4" cy="539.1" rx="238.2" ry="202.9" transform="rotate(139.88 645.4 539.1)" fill="#00fdff"/>
<ellipse cx="645.4" cy="539.1" rx="237.4" ry="202.2" transform="rotate(139.88 645.4 539.1)" fill="#00fffc"/>
<ellipse cx="645.4" cy="539.1" rx="236.5" ry="201.5" transform="rotate(139.88 645.4 539.1)" fill="#00fff8"/>
<ellipse cx="645.4" cy="539.1" rx="235.7" ry="200.8" transform="rotate(139.88 645.4 539.1)" fill="#00fff3"/>
<ellipse cx="645.4" cy="539.1" rx="234.9" ry="200.1" transform="rotate(139.88 645.4 539.1)" fill="#00ffef"/>
<ellipse cx="645.4" cy="539.1" rx="234.1" ry="199.4" transform="rotate(139.88 645.4 539.1)" fill="#00ffea"/>
<ellipse cx="645.4" cy="539.1" rx="233.3" ry="198.7" transform="rotate(139.88 645.4 539.1)" fill="#00ffe6"/>
<ellipse cx="645.4" cy="539.1" rx="232.4" ry="198" transform="rotate(139.88 645.4 539.1)" fill="#00ffe1"/>
<ellipse cx="645.4" cy="539.1" rx="231.6" ry="197.3" transform="rotate(139.88 645.4 539.1)" fill="#00ffdd"/>
<ellipse cx="645.4" cy="539.1" rx="230.8" ry="196.6" transform="rotate(139.88 645.4 539.1)" fill="#00ffd8"/>
<ellipse cx="645.4" cy="539.1" rx="229.9" ry="195.9" transform="rotate(139.88 645.4 539.1)" fill="#00ffd4"/>
<ellipse cx="645.4" cy="539.1" rx="229.1" ry="195.2" transform="rotate(139.88 645.4 539.1)" fill="#00ffcf"/>
<ellipse cx="645.4" cy="539.1" rx="228.2" ry="194.5" transform="rotate(139.88 645.4 539.1)" fill="#00ffcb"/>
<ellipse cx="645.4" cy="539.1" rx="227.4" ry="193.7" transform="rotate(139.88 645.4 539.1)" fill="#00ffc6"/>
<ellipse cx="645.4" cy="539.1" rx="226.5" ry="193" transform="rotate(139.88 645.4 539.1)" fill="#00ffc2"/>
<ellipse cx="645.4" cy="539.1" rx="225.7" ry="192.3" transform="rotate(139.88 645.4 539.1)" fill="#00ffbd"/>
<ellipse cx="645.4" cy="539.1" rx="224.8" ry="191.6" transform="rotate(139.88 645.4 539.1)" fill="#00ffb9"/>
<ellipse cx="645.4" cy="539.1" rx="224" ry="190.8" transform="rotate(139.88 645.4 539.1)" fill="#00ffb4"/>
<ellipse cx="645.4" cy="539.1" rx="223.1" ry="190.1" transform="rotate(139.88 645.4 539.1)" fill="#00ffb0"/>
<ellipse cx="645.4" cy="539.1" rx="222.2" ry="189.4" transform="rotate(139.88 645.4 539.1)" fill="#00ffab"/>
<ellipse cx="645.4" cy="539.1" rx="221.4" ry="188.6" transform="rotate(139.88 645.4 539.1)" fill="#00ffa7"/>
<ellipse cx="645.4" cy="539.1" rx="220.5" ry="187.9" transform="rotate(139.88 645.4 539.1)" fill="#00ffa2"/>
<ellipse cx="645.4" cy="539.1" rx="219.6" ry="187.1" transform="rotate(139.88 645.4 539.1)" fill="#00ff9e"/>
<ellipse cx="645.4" cy="539.1" rx="218.7" ry="186.4" transform="rotate(139.88 645.4 539.1)" fill="#00ff99"/>
<ellipse cx="645.4" cy="539.1" rx="217.8" ry="185.6" transform="rotate(139.88 645.4 539.1)" fill="#00ff95"/>
<ellipse cx="645.4" cy="539.1" rx="217" ry="184.9" transform="rotate(139.88 645.4 539.1)" fill="#00ff90"/>
<ellipse cx="645.4" cy="539.1" rx="216.1" ry="184.1" transform="rotate(139.88 645.4 539.1)" fill="#00ff8c"/>
<ellipse cx="645.4" cy="539.1" rx="215.2" ry="183.3" transform="rotate(139.88 645.4 539.1)" fill="#00ff87"/>
<ellipse cx="645.4" cy="539.1" rx="214.3" ry="182.6" transform="rotate(139.88 645.4 539.1)" fill="#00ff83"/>
<ellipse cx="645.4" cy="539.1" rx="213.4" ry="181.8" transform="rotate(139.88 645.4 539.1)" fill="#00ff7e"/>
<ellipse cx="645.4" cy="539.1" rx="212.5" ry="181" transform="rotate(139.88 645.4 539.1)" fill="#00ff7a"/>
<ellipse cx="645.4" cy="539.1" rx="211.6" ry="180.2" transform="rotate(139.88 645.4 539.1)" fill="#00ff75"/>
<ellipse cx="645.4" cy="539.1" rx="210.6" ry="179.5" transform="rotate(139.88 645.4 539.1)" fill="#00ff71"/>
<ellipse cx="645.4" cy="539.1" rx="209.7" ry="178.7" transform="rotate(139.88 645.4 539.1)" fill="#00ff6c"/>
<ellipse cx="645.4" cy="539.1" rx="208.8" ry="177.9" transform="rotate(139.88 645.4 539.1)" fill="#00ff68"/>
<ellipse cx="645.4" cy="539.1" rx="207.9" ry="177.1" transform="rotate(139.88 645.4 539.1)" fill="#00ff63"/>
<ellipse cx="645.4" cy="539.1" rx="206.9" ry="176.3" transform="rotate(139.88 645.4 539.1)" fill="#00ff5f"/>
<ellipse cx="645.4" cy="539.1" rx="206" ry="175.5" transform="rotate(139.88 645.4 539.1)" fill="#00ff5a"/>
<ellipse cx="645.4" cy="539.1" rx="205.1" ry="174.7" transform="rotate(139.88 645.4 539.1)" fill="#00ff56"/>
<ellipse cx="645.4" cy="539.1" rx="204.1" ry="173.9" transform="rotate(139.88 645.4 539.1)" fill="#00ff51"/>
<ellipse cx="645.4" cy="539.1" rx="203.2" ry="173.1" transform="rotate(139.88 645.4 539.1)" fill="#00ff4d"/>
<ellipse cx="645.4" cy="539.1" rx="202.2" ry="172.3" transform="rotate(139.88 645.4 539.1)" fill="#00ff48"/>
<ellipse cx="645.4" cy="539.1" rx="201.3" ry="171.5" transform="rotate(139.88 645.4 539.1)" fill="#00ff44"/>
<ellipse cx="645.4" cy="539.1" rx="200.3" ry="170.7" transform="rotate(139.88 645.4 539.1)" fill="#00ff3f"/>
<ellipse cx="645.4" cy="539.1" rx="199.3" ry="169.8" transform="rotate(139.88 645.4 539.1)" fill="#00ff3b"/>
<ellipse cx="645.4" cy="539.1" rx="198.4" ry="169" transform="rotate(139.88 645.4 539.1)" fill="#00ff36"/>
<ellipse cx="645.4" cy="539.1" rx="197.4" ry="168.2" transform="rotate(139.88 645.4 539.1)" fill="#00ff32"/>
<ellipse cx="645.4" cy="539.1" rx="196.4" ry="167.3" transform="rotate(139.88 645.4 539.1)" fill="#00ff2d"/>
<ellipse cx="645.4" cy="539.1" rx="195.4" ry="166.5" transform="rotate(139.88 645.4 539.1)" fill="#00ff29"/>
<ellipse cx="645.4" cy="539.1" rx="194.4" ry="165.7" transform="rotate(139.88 645.4 539.1)" fill="#00ff24"/>
<ellipse cx="645.4" cy="539.1" rx="193.4" ry="164.8" transform="rotate(139.88 645.4 539.1)" fill="#00ff20"/>
<ellipse cx="645.4" cy="539.1" rx="192.4" ry="164" transform="rotate(139.88 645.4 539.1)" fill="#00ff1b"/>
<ellipse cx="645.4" cy="539.1" rx="191.4" ry="163.1" transform="rotate(139.88 645.4 539.1)" fill="#00ff17"/>
<ellipse cx="645.4" cy="539.1" rx="190.4" ry="162.2" transform="rotate(139.88 645.4 539.1)" fill="#00ff12"/>
<ellipse cx="645.4" cy="539.1" rx="189.4" ry="161.4" transform="rotate(139.88 645.4 539.1)" fill="#00ff0e"/>
<ellipse cx="645.4" cy="539.1" rx="188.4" ry="160.5" transform="rotate(139.88 645.4 539.1)" fill="#00ff09"/>
<ellipse cx="645.4" cy="539.1" rx="187.3" ry="159.6" transform="rotate(139.88 645.4 539.1)" fill="#00ff05"/>
<ellipse cx="645.4" cy="539.1" rx="186.3" ry="158.7" transform="rotate(139.88 645.4 539.1)" fill="#00ff00"/>
<ellipse cx="645.4" cy="539.1" rx="185.3" ry="157.9" transform="rotate(139.88 645.4 539.1)" fill="#04ff00"/>
<ellipse cx="645.4" cy="539.1" rx="184.2" ry="157" transform="rotate(139.88 645.4 539.1)" fill="#09ff00"/>
<ellipse cx="645.4" cy="539.1" rx="183.2" ry="156.1" transform="rotate(139.88 645.4 539.1)" fill="#0dff00"/>
<ellipse cx="645.4" cy="539.1" rx="182.1" ry="155.2" transform="rotate(139.88 645.4 539.1)" fill="#12ff00"/>
<ellipse cx="645.4" cy="539.1" rx="181.1" ry="154.3" transform="rotate(139.88 645.4 539.1)" fill="#16ff00"/>
<ellipse cx="645.4" cy="539.1" rx="180" ry="153.4" transform="rotate(139.88 645.4 539.1)" fill="#1bff00"/>
<ellipse cx="645.4" cy="539.1" rx="178.9" ry="152.4" transform="rotate(139.88 645.4 539.1)" fill="#1fff00"/>
<ellipse cx="645.4" cy="539.1" rx="177.8" ry="151.5" transform="rotate(139.88 645.4 539.1)" fill="#24ff00"/>
<ellipse cx="645.4" cy="539.1" rx="176.7" ry="150.6" transform="rotate(139.88 645.4 539.1)" fill="#28ff00"/>
<ellipse cx="645.4" cy="539.1" rx="175.6" ry="149.7" transform="rotate(139.88 645.4 539.1)" fill="#2dff00"/>
<ellipse cx="645.4" cy="539.1" rx="174.5" ry="148.7" transform="rotate(139.88 645.4 539.1)" fill="#31ff00"/>
<ellipse cx="645.4" cy="539.1" rx="173.4" ry="147.8" transform="rotate(139.88 645.4 539.1)" fill="#36ff00"/>
<ellipse cx="645.4" cy="539.1" rx="172.3" ry="146.8" transform="rotate(139.88 645.4 539.1)" fill="#3aff00"/>
<ellipse cx="645.4" cy="539.1" rx="171.2" ry="145.9" transform="rotate(139.88 645.4 539.1)" fill="#3fff00"/>
<ellipse cx="645.4" cy="539.1" rx="170.1" ry="144.9" transform="rotate(139.88 645.4 539.1)" fill="#43ff00"/>
<ellipse cx="645.4" cy="539.1" rx="168.9" ry="143.9" transform="rotate(139.88 645.4 539.1)" fill="#48ff00"/>
<ellipse cx="645.4" cy="539.1" rx="167.8" ry="142.9" transform="rotate(139.88 645.4 539.1)" fill="#4cff00"/>
<ellipse cx="645.4" cy="539.1" rx="166.6" ry="142" transform="rotate(139.88 645.4 539.1)" fill="#51ff00"/>
<ellipse cx="645.4" cy="539.1" rx="165.5" ry="141" transform="rotate(139.88 645.4 539.1)" fill="#55ff00"/>
<ellipse cx="645.4" cy="539.1" rx="164.3" ry="140" transform="rotate(139.88 645.4 539.1)" fill="#5aff00"/>
<ellipse cx="645.4" cy="539.1" rx="163.1" ry="139" transform="rotate(139.88 645.4 539.1)" fill="#5eff00"/>
<ellipse cx="645.4" cy="539.1" rx="161.9" ry="138" transform="rotate(139.88 645.4 539.1)" fill="#63ff00"/>
<ellipse cx="645.4" cy="539.1" rx="160.7" ry="136.9" transform="rotate(139.88 645.4 539.1)" fill="#67ff00"/>
<ellipse cx="645.4" cy="539.1" rx="159.5" ry="135.9" transform="rotate(139.88 645.4 539.1)" fill="#6cff00"/>
<ellipse cx="645.4" cy="539.1" rx="158.3" ry="134.9" transform="rotate(139.88 645.4 539.1)" fill="#70ff00"/>
<ellipse cx="645.4" cy="539.1" rx="157.1" ry="133.8" transform="rotate(139.88 645.4 539.1)" fill="#75ff00"/>
<ellipse cx="645.4" cy="539.1" rx="155.8" ry="132.8" transform="rotate(139.88 645.4 539.1)" fill="#79ff00"/>
<ellipse cx="645.4" cy="539.1" rx="154.6" ry="131.7" transform="rotate(139.88 645.4 539.1)" fill="#7eff00"/>
<ellipse cx="645.4" cy="539.1" rx="153.3" ry="130.7" transform="rotate(139.88 645.4 539.1)" fill="#82ff00"/>
<ellipse cx="645.4" cy="539.1" rx="152.1" ry="129.6" transform="rotate(139.88 645.4 539.1)" fill="#87ff00"/>
<ellipse cx="645.4" cy="539.1" rx="150.8" ry="128.5" transform="rotate(139.88 645.4 539.1)" fill="#8bff00"/>
<ellipse cx="645.4" cy="539.1" rx="149.5" ry="127.4" transform="rotate(139.88 645.4 539.1)" fill="#90ff00"/>
<ellipse cx="645.4" cy="539.1" rx="148.2" ry="126.3" transform="rotate(139.88 645.4 539.1)" fill="#94ff00"/>
<ellipse cx="645.4" cy="539.1" rx="146.9" ry="125.2" transform="rotate(139.88 645.4 539.1)" fill="#99ff00"/>
<ellipse cx="645.4" cy="539.1" rx="145.6" ry="124" transform="rotate(139.88 645.4 539.1)" fill="#9dff00"/>
<ellipse cx="645.4" cy="539.1" rx="144.3" ry="122.9" transform="rotate(139.88 645.4 539.1)" fill="#a2ff00"/>
<ellipse cx="645.4" cy="539.1" rx="142.9" ry="121.8" transform="rotate(139.88 645.4 539.1)" fill="#a6ff00"/>
<ellipse cx="645.4" cy="539.1" rx="141.6" ry="120.6" transform="rotate(139.88 645.4 539.1)" fill="#abff00"/>
<ellipse cx="645.4" cy="539.1" rx="140.2" ry="119.4" transform="rotate(139.88 645.4 539.1)" fill="#afff00"/>
<ellipse cx="645.4" cy="539.1" rx="138.8" ry="118.3" transform="rotate(139.88 645.4 539.1)" fill="#b4ff00"/>
<ellipse cx="645.4" cy="539.1" rx="137.4" ry="117.1" transform="rotate(139.88 645.4 539.1)" fill="#b8ff00"/>
<ellipse cx="645.4" cy="539.1" rx="136" ry="115.9" transform="rotate(139.88 645.4 539.1)" fill="#bdff00"/>
<ellipse cx="645.4" cy="539.1" rx="134.6" ry="114.6" transform="rotate(139.88 645.4 539.1)" fill="#c1ff00"/>
<ellipse cx="645.4" cy="539.1" rx="133.1" ry="113.4" transform="rotate(139.88 645.4 539.1)" fill="#c6ff00"/>
<ellipse cx="645.4" cy="539.1" rx="131.7" ry="112.2" transform="rotate(139.88 645.4 539.1)" fill="#caff00"/>
<ellipse cx="645.4" cy="539.1" rx="130.2" ry="110.9" transform="rotate(139.88 645.4 539.1)" fill="#cfff00"/>
<ellipse cx="645.4" cy="539.1" rx="128.7" ry="109.6" transform="rotate(139.88 645.4 539.1)" fill="#d3ff00"/>
<ellipse cx="645.4" cy="539.1" rx="127.2" ry="108.4" transform="rotate(139.88 645.4 539.1)" fill="#d8ff00"/>
<ellipse cx="645.4" cy="539.1" rx="125.7" ry="107.1" transform="rotate(139.88 645.4 539.1)" fill="#dcff00"/>
<ellipse cx="645.4" cy="539.1" rx="124.1" ry="105.7" transform="rotate(139.88 645.4 539.1)" fill="#e1ff00"/>
<ellipse cx="645.4" cy="539.1" rx="122.5" ry="104.4" transform="rotate(139.88 645.4 539.1)" fill="#e5ff00"/>
<ellipse cx="645.4" cy="539.1" rx="121" ry="103.1" transform="rotate(139.88 645.4 539.1)" fill="#eaff00"/>
<ellipse cx="645.4" cy="539.1" rx="119.3" ry="101.7" transform="rotate(139.88 645.4 539.1)" fill="#eeff00"/>
<ellipse cx="645.4" cy="539.1" rx="117.7" ry="100.3" transform="rotate(139.88 645.4 539.1)" fill="#f3ff00"/>
<ellipse cx="645.4" cy="539.1" rx="116.1" ry="98.9" transform="rotate(139.88 645.4 539.1)" fill="#f7ff00"/>
<ellipse cx="645.4" cy="539.1" rx="114.4" ry="97.5" transform="rotate(139.88 645.4 539.1)" fill="#fcff00"/>
<ellipse cx="645.4" cy="539.1" rx="112.7" ry="96" transform="rotate(139.88 645.4 539.1)" fill="#fffe00"/>
<ellipse cx="645.4" cy="539.1" rx="111" ry="94.5" transform="rotate(139.88 645.4 539.1)" fill="#fff900"/>
<ellipse cx="645.4" cy="539.1" rx="109.2" ry="93.1" transform="rotate(139.88 645.4 539.1)" fill="#fff500"/>
<ellipse cx="645.4" cy="539.1" rx="107.4" ry="91.5" transform="rotate(139.88 645.4 539.1)" fill="#fff000"/>
<ellipse cx="645.4" cy="539.1" rx="105.6" ry="90" transform="rotate(139.88 645.4 539.1)" fill="#ffec00"/>
<ellipse cx="645.4" cy="539.1" rx="103.8" ry="88.4" transform="rotate(139.88 645.4 539.1)" fill="#ffe700"/>
<ellipse cx="645.4" cy="539.1" rx="101.9" ry="86.8" transform="rotate(139.88 645.4 539.1)" fill="#ffe300"/>
<ellipse cx="645.4" cy="539.1" rx="100" ry="85.2" transform="rotate(139.88 645.4 539.1)" fill="#ffde00"/>
<ellipse cx="645.4" cy="539.1" rx="98" ry="83.5" transform="rotate(139.88 645.4 539.1)" fill="#ffda00"/>
<ellipse cx="645.4" cy="539.1" rx="96" ry="81.8" transform="rotate(139.88 645.4 539.1)" fill="#ffd500"/>
<ellipse cx="645.4" cy="539.1" rx="94" ry="80.1" transform="rotate(139.88 645.4 539.1)" fill="#ffd100"/>
<ellipse cx="645.4" cy="539.1" rx="91.9" ry="78.3" transform="rotate(139.88 645.4 539.1)" fill="#ffcc00"/>
<ellipse cx="645.4" cy="539.1" rx="89.8" ry="76.5" transform="rotate(139.88 645.4 539.1)" fill="#ffc800"/>
<ellipse cx="645.4" cy="539.1" rx="87.6" ry="74.7" transform="rotate(139.88 645.4 539.1)" fill="#ffc300"/>
<ellipse cx="645.4" cy="539.1" rx="85.4" ry="72.8" transform="rotate(139.88 645.4 539.1)" fill="#ffbf00"/>
<ellipse cx="645.4" cy="539.1" rx="83.1" ry="70.8" transform="rotate(139.88 645.4 539.1)" fill="#ffba00"/>
<ellipse cx="645.4" cy="539.1" rx="80.7" ry="68.8" transform="rotate(139.88 645.4 539.1)" fill="#ffb600"/>
<ellipse cx="645.4" cy="539.1" rx="78.3" ry="66.7" transform="rotate(139.88 645.4 539.1)" fill="#ffb100"/>
<ellipse cx="645.4" cy="539.1" rx="75.8" ry="64.6" transform="rotate(139.88 645.4 539.1)" fill="#ffad00"/>
<ellipse cx="645.4" cy="539.1" rx="73.2" ry="62.4" transform="rotate(139.88 645.4 539.1)" fill="#ffa800"/>
<ellipse cx="645.4" cy="539.1" rx="70.5" ry="60.1" transform="rotate(139.88 645.4 539.1)" fill="#ffa400"/>
<ellipse cx="645.4" cy="539.1" rx="67.7" ry="57.7" transform="rotate(139.88 645.4 539.1)" fill="#ff9f00"/>
<ellipse cx="645.4" cy="539.1" rx="64.8" ry="55.2" transform="rotate(139.88 645.4 539.1)" fill="#ff9b00"/>
<ellipse cx="645.4" cy="539.1" rx="61.8" ry="52.6" transform="rotate(139.88 645.4 539.1)" fill="#ff9600"/>
<ellipse cx="645.4" cy="539.1" rx="58.6" ry="49.9" transform="rotate(139.88 645.4 539.1)" fill="#ff9200"/>
<ellipse cx="645.4" cy="539.1" rx="55.2" ry="47" transform="rotate(139.88 645.4 539.1)" fill="#ff8d00"/>
<ellipse cx="645.4" cy="539.1" rx="51.6" ry="43.9" transform="rotate(139.88 645.4 539.1)" fill="#ff8900"/>
<ellipse cx="645.4" cy="539.1" rx="47.7" ry="40.6" transform="rotate(139.88 645.4 539.1)" fill="#ff8400"/>
<ellipse cx="645.4" cy="539.1" rx="43.4" ry="37" transform="rotate(139.88 645.4 539.1)" fill="#ff8000"/>
<ellipse cx="645.4" cy="539.1" rx="38.7" ry="33" transform="rotate(139.88 645.4 539.1)" fill="#ff7b00"/>
<ellipse cx="645.4" cy="539.1" rx="33.4" ry="28.4" transform="rotate(139.88 645.4 539.1)" fill="#ff7700"/>
<ellipse cx="645.4" cy="539.1" rx="27" ry="23" transform="rotate(139.88 645.4 539.1)" fill="#ff7200"/>
<ellipse cx="645.4" cy="539.1" rx="18.5" ry="15.7" transform="rotate(139.88 645.4 539.1)" fill="#ff6e00"/>
<ellipse cx="645.4" cy="539.1" rx="258.2" ry="220" transform="rotate(139.88 645.4 539.1)" fill="none" stroke="#26301a" stroke-width="0.65" stroke-dasharray="7 1.5 2.5 1.5"/>
<ellipse cx="645.4" cy="539.1" rx="232" ry="197.6" transform="rotate(139.88 645.4 539.1)" fill="none" stroke="#26301a" stroke-width="0.65" stroke-dasharray="8 1.5 2.5 1.5 6 1.5"/>
<ellipse cx="645.4" cy="539.1" rx="202.3" ry="172.4" transform="rotate(139.88 645.4 539.1)" fill="none" stroke="#26301a" stroke-width="0.65" stroke-dasharray="9 2 3 2"/>
<ellipse cx="645.4" cy="539.1" rx="167.5" ry="142.7" transform="rotate(139.88 645.4 539.1)" fill="none" stroke="#26301a" stroke-width="0.65" stroke-dasharray="7 1.5 2.5 1.5 16 2"/>
<ellipse cx="645.4" cy="539.1" rx="123.2" ry="105" transform="rotate(139.88 645.4 539.1)" fill="none" stroke="#26301a" stroke-width="0.65" stroke-dasharray="10 2 3 2 30 10 40 4"/>
<ellipse cx="645.4" cy="539.1" rx="48" ry="40.9" transform="rotate(139.88 645.4 539.1)" fill="none" stroke="#26301a" stroke-width="0.65" stroke-dasharray="14 2 4 2 24 3"/>
</g>
<rect x="432.6" y="527.4" width="270.6" height="192.4" fill="none" stroke="#444" stroke-width="0.8"/>
<path d="M432.6 527.4V719.8H703.2" fill="none" stroke="#333" stroke-width="0.8"/>
<text x="423.6" y="529.6" font-family="Liberation Serif" font-size="6.5" text-anchor="end" fill="#111">1.00</text>
<text x="423.6" y="577.7" font-family="Liberation Serif" font-size="6.5" text-anchor="end" fill="#111">0.50</text>
<text x="423.6" y="625.8" font-family="Liberation Serif" font-size="6.5" text-anchor="end" fill="#111">0.00</text>
<text x="423.6" y="673.9" font-family="Liberation Serif" font-size="6.5" text-anchor="end" fill="#111">-0.50</text>
<text x="423.6" y="722" font-family="Liberation Serif" font-size="6.5" text-anchor="end" fill="#111">-1.00</text>
<text x="432.6" y="733.5" font-family="Liberation Serif" font-size="6.5" text-anchor="middle" fill="#111">-1.00</text>
<text x="500.2" y="733.5" font-family="Liberation Serif" font-size="6.5" text-anchor="middle" fill="#111">-0.50</text>
<text x="567.9" y="733.5" font-family="Liberation Serif" font-size="6.5" text-anchor="middle" fill="#111">0.00</text>
<text x="635.6" y="733.5" font-family="Liberation Serif" font-size="6.5" text-anchor="middle" fill="#111">0.50</text>
<text x="703.2" y="733.5" font-family="Liberation Serif" font-size="6.5" text-anchor="middle" fill="#111">1.00</text>
<path d="M425.6 527.4H432.6M425.6 575.5H432.6M425.6 623.6H432.6M425.6 671.7H432.6M425.6 719.8H432.6M432.6 719.8V724.3M500.2 719.8V724.3M567.9 719.8V724.3M635.6 719.8V724.3M703.2 719.8V724.3" stroke="#111" stroke-width="0.9"/>
<rect x="639" y="577.6" width="6.8" height="7.6" fill="#fff" stroke="#556" stroke-width="0.6"/>
<text x="642.4" y="583.7" font-family="Liberation Sans" font-size="6.5" text-anchor="middle" fill="#222">7</text>
<rect x="564.8" y="627.4" width="6.8" height="7.6" fill="#fff" stroke="#556" stroke-width="0.6"/>
<text x="568.2" y="633.5" font-family="Liberation Sans" font-size="6.5" text-anchor="middle" fill="#222">6</text>
<rect x="531.3" y="656.4" width="6.8" height="7.6" fill="#fff" stroke="#556" stroke-width="0.6"/>
<text x="534.7" y="662.5" font-family="Liberation Sans" font-size="6.5" text-anchor="middle" fill="#222">5</text>
<rect x="471.9" y="639.6" width="6.8" height="7.6" fill="#fff" stroke="#556" stroke-width="0.6"/>
<text x="475.3" y="645.7" font-family="Liberation Sans" font-size="6.5" text-anchor="middle" fill="#222">4</text>
<rect x="454.6" y="667.1" width="6.8" height="7.6" fill="#fff" stroke="#556" stroke-width="0.6"/>
<text x="458" y="673.2" font-family="Liberation Sans" font-size="6.5" text-anchor="middle" fill="#222">3</text>
<rect x="442.2" y="694.5" width="6.8" height="7.6" fill="#fff" stroke="#556" stroke-width="0.6"/>
<text x="445.6" y="700.6" font-family="Liberation Sans" font-size="6.5" text-anchor="middle" fill="#222">2</text>
<rect x="679.7" y="706" width="6.8" height="7.6" fill="#fff" stroke="#556" stroke-width="0.6"/>
<text x="683.1" y="712.1" font-family="Liberation Sans" font-size="6.5" text-anchor="middle" fill="#222">4</text>
<ellipse cx="432.6" cy="527.4" rx="2.5" ry="1.8" fill="#e8000a"/>
<ellipse cx="703.2" cy="527.4" rx="2.5" ry="1.8" fill="#e8000a"/>
<ellipse cx="432.6" cy="719.8" rx="2.5" ry="1.8" fill="#e8000a"/>
<ellipse cx="703.2" cy="719.8" rx="2.5" ry="1.8" fill="#e8000a"/>
<ellipse cx="566.1" cy="622.2" rx="2.8" ry="2" fill="#e8000a"/>
<text x="526" y="522.4" font-family="Liberation Serif" font-size="13.4" text-anchor="start" fill="#000" textLength="87" lengthAdjust="spacingAndGlyphs">Pectin yield (%)</text>
<text x="505" y="749.7" font-family="Liberation Serif" font-size="13" text-anchor="start" fill="#000" textLength="135.6" lengthAdjust="spacingAndGlyphs">B: Liquid-sold ratio (nl/g)</text>
<text x="403.5" y="715.5" font-family="Liberation Serif" font-size="11.9" text-anchor="start" fill="#000" textLength="187.5" lengthAdjust="spacingAndGlyphs" transform="rotate(-90 403.5 715.5)">C: Ammonlum oxalae concentrahn (%)</text>
</svg>
</body></html>
